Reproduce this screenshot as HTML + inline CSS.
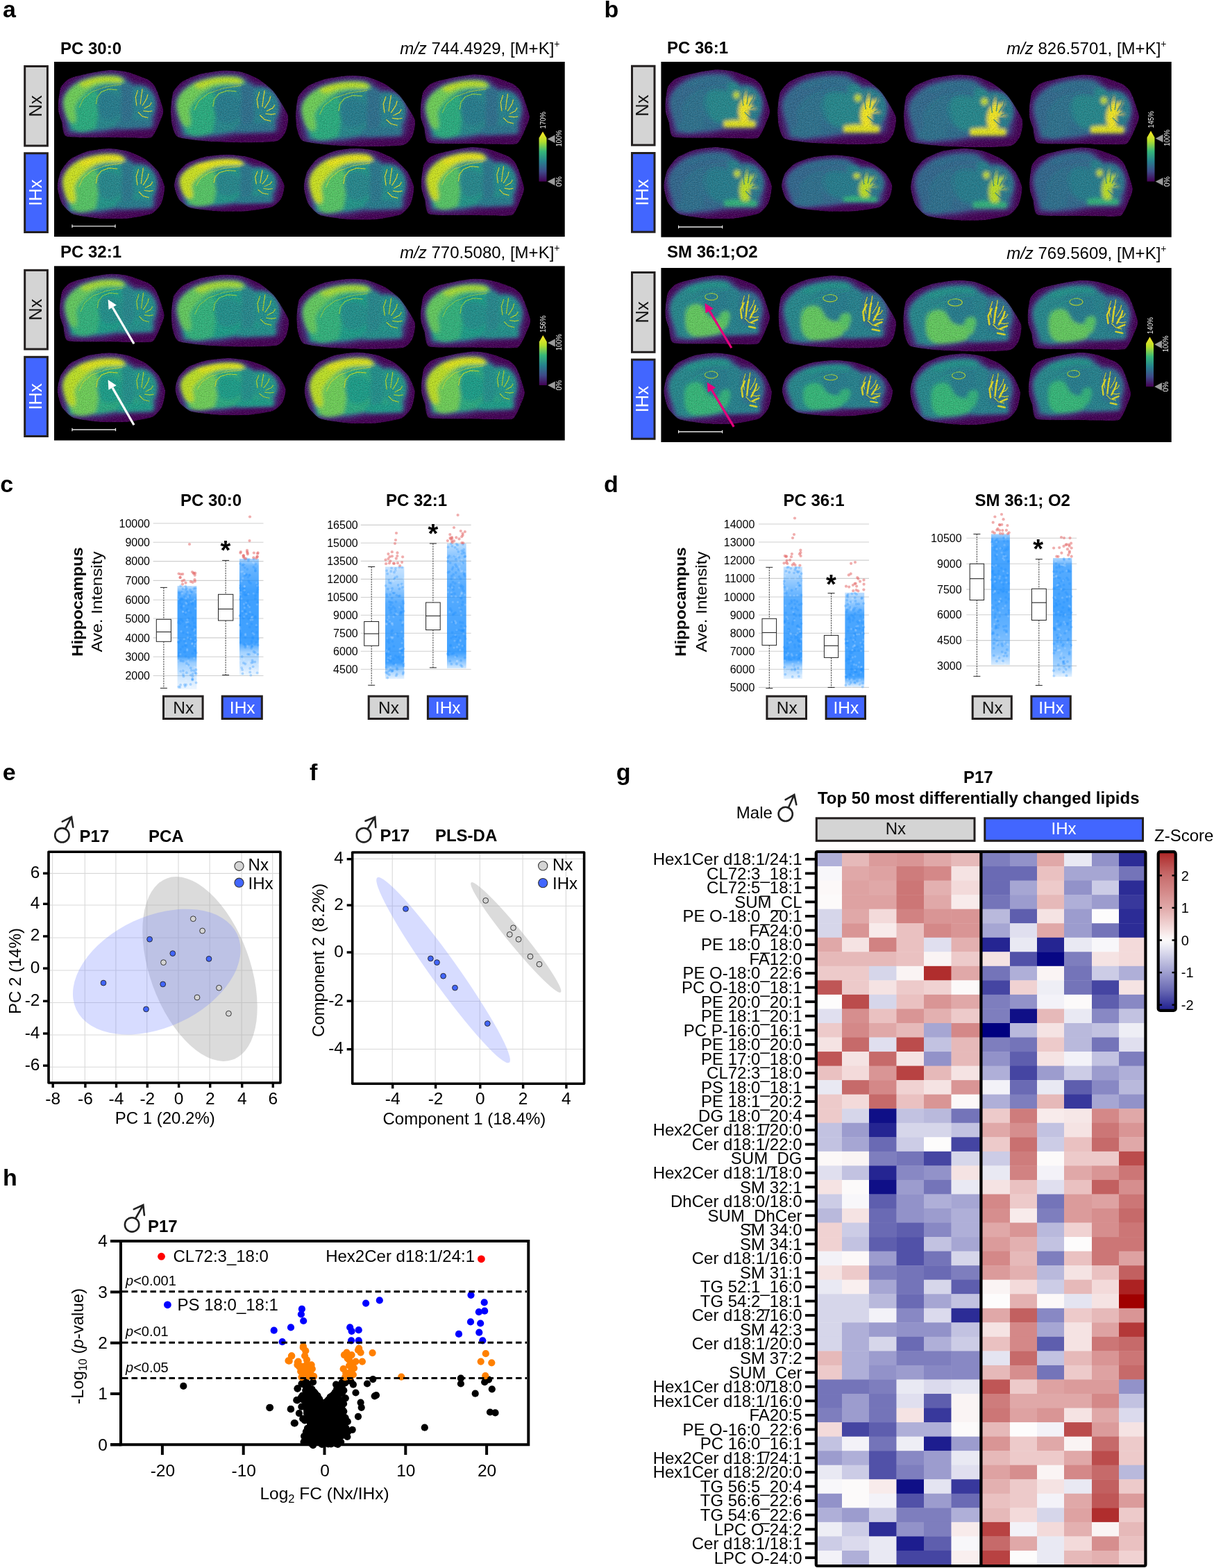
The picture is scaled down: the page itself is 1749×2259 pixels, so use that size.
<!DOCTYPE html>
<html><head><meta charset="utf-8"><title>Figure</title>
<style>html,body{margin:0;padding:0;background:#fff;}svg{display:block;}
text{font-family:"Liberation Sans",Arial,Helvetica,sans-serif;}</style></head>
<body><svg width="1749" height="2259" viewBox="0 0 1749 2259">
<rect width="1749" height="2259" fill="#fff"/>
<defs>
<filter id="b5" x="-10%" y="-10%" width="120%" height="120%"><feGaussianBlur stdDeviation="4.5"/></filter>
<filter id="b3" x="-10%" y="-10%" width="120%" height="120%"><feGaussianBlur stdDeviation="2.6"/></filter>
</defs>
<defs><filter id="tb5" x="-10%" y="-10%" width="120%" height="120%"><feGaussianBlur stdDeviation="30"/></filter><filter id="tb3" x="-10%" y="-10%" width="120%" height="120%"><feGaussianBlur stdDeviation="17"/></filter><filter id="tnw" x="0" y="0" width="100%" height="100%"><feTurbulence type="fractalNoise" baseFrequency="0.11" numOctaves="1" seed="11"/><feColorMatrix type="matrix" values="0 0 0 0 1  0 0 0 0 1  0 0 0 0 1  2.2 0 0 0 -0.95"/></filter><filter id="tnz" x="0" y="0" width="100%" height="100%"><feTurbulence type="fractalNoise" baseFrequency="0.11" numOctaves="1" seed="5"/><feColorMatrix type="matrix" values="0 0 0 0 0  0 0 0 0 0  0 0 0 0 0  2.2 0 0 0 -0.95"/></filter><clipPath id="cv0"><path d="M0,312C2,289 14,191 22,169C30,147 71,104 85,94C99,83 136,69 160,62C184,56 287,31 320,25C353,18 457,2 486,0C515,-2 590,6 611,9C632,12 676,23 700,31C724,39 829,77 850,88C871,99 902,130 912,144C922,157 941,201 950,225C959,249 998,362 1000,387C1002,412 986,449 975,474C964,500 918,624 887,641C856,658 709,646 661,647C613,647 468,645 410,644C352,642 116,649 78,634C40,619 42,517 34,494C26,471 6,418 3,400C-0,382 -2,335 0,312Z"/></clipPath><clipPath id="cv1"><path d="M0,358C1,328 10,221 20,195C30,169 77,114 100,98C123,81 215,42 250,32C285,23 415,2 450,0C485,-2 570,5 600,13C630,21 722,60 750,78C778,96 855,162 880,195C905,228 990,367 1000,403C1010,439 990,529 980,552C970,576 938,627 900,637C862,647 660,650 600,650C540,650 354,642 300,637C246,632 89,613 60,598C31,583 16,512 10,488C4,463 -1,387 0,358Z"/></clipPath><clipPath id="cv2"><path d="M0,358C-1,328 18,240 30,214C42,188 95,116 120,98C145,79 244,36 280,26C316,16 442,0 480,0C518,0 626,16 660,26C694,36 792,79 820,98C848,116 922,188 940,214C958,240 997,328 1000,358C1003,387 982,482 970,507C958,532 912,590 880,604C848,619 698,645 650,650C602,655 450,654 400,650C350,646 186,625 150,611C114,597 55,532 40,507C25,482 1,387 0,358Z"/></clipPath></defs>
<text transform="translate(4.0,25.0)" font-size="34" font-weight="bold">a</text>
<text transform="translate(870.6,25.0)" font-size="34" font-weight="bold">b</text>
<rect x="78.0" y="89.0" width="735.7" height="252.0" fill="#000" />
<rect x="78.0" y="383.3" width="735.7" height="251.2" fill="#000" />
<rect x="952.4" y="89.0" width="735.3" height="252.7" fill="#000" />
<rect x="952.4" y="386.0" width="735.3" height="251.0" fill="#000" />
<text transform="translate(87.0,77.5)" font-size="24" font-weight="bold">PC 30:0</text>
<text transform="translate(87.0,371.0)" font-size="24" font-weight="bold">PC 32:1</text>
<text transform="translate(961.0,77.0)" font-size="24" font-weight="bold">PC 36:1</text>
<text transform="translate(961.0,371.0)" font-size="24" font-weight="bold">SM 36:1;O2</text>
<text x="806.5" y="78.0" font-size="24" text-anchor="end"><tspan font-style="italic">m/z</tspan> 744.4929, [M+K]<tspan font-size="14" dy="-10">+</tspan></text>
<text x="806.5" y="372.2" font-size="24" text-anchor="end"><tspan font-style="italic">m/z</tspan> 770.5080, [M+K]<tspan font-size="14" dy="-10">+</tspan></text>
<text x="1680.5" y="77.5" font-size="24" text-anchor="end"><tspan font-style="italic">m/z</tspan> 826.5701, [M+K]<tspan font-size="14" dy="-10">+</tspan></text>
<text x="1680.5" y="372.5" font-size="24" text-anchor="end"><tspan font-style="italic">m/z</tspan> 769.5609, [M+K]<tspan font-size="14" dy="-10">+</tspan></text>
<rect x="35.7" y="95.5" width="32.7" height="114.5" fill="#d4d4d4" stroke="#231f1f" stroke-width="3"/>
<text transform="translate(59.7,152.8) rotate(-90)" font-size="25.5" text-anchor="middle" fill="#111">Nx</text>
<rect x="35.7" y="220.8" width="32.7" height="113.7" fill="#4266ff" stroke="#231f1f" stroke-width="3"/>
<text transform="translate(59.7,277.6) rotate(-90)" font-size="25.5" text-anchor="middle" fill="#fff">IHx</text>
<rect x="35.7" y="389.3" width="32.7" height="113.7" fill="#d4d4d4" stroke="#231f1f" stroke-width="3"/>
<text transform="translate(59.7,446.1) rotate(-90)" font-size="25.5" text-anchor="middle" fill="#111">Nx</text>
<rect x="35.7" y="514.3" width="32.7" height="114.2" fill="#4266ff" stroke="#231f1f" stroke-width="3"/>
<text transform="translate(59.7,571.4) rotate(-90)" font-size="25.5" text-anchor="middle" fill="#fff">IHx</text>
<rect x="910.5" y="95.2" width="32.5" height="113.8" fill="#d4d4d4" stroke="#231f1f" stroke-width="3"/>
<text transform="translate(934.4,152.1) rotate(-90)" font-size="25.5" text-anchor="middle" fill="#111">Nx</text>
<rect x="910.5" y="220.5" width="32.5" height="113.7" fill="#4266ff" stroke="#231f1f" stroke-width="3"/>
<text transform="translate(934.4,277.4) rotate(-90)" font-size="25.5" text-anchor="middle" fill="#fff">IHx</text>
<rect x="910.5" y="392.5" width="32.5" height="114.8" fill="#d4d4d4" stroke="#231f1f" stroke-width="3"/>
<text transform="translate(934.4,449.9) rotate(-90)" font-size="25.5" text-anchor="middle" fill="#111">Nx</text>
<rect x="910.5" y="518.1" width="32.5" height="114.1" fill="#4266ff" stroke="#231f1f" stroke-width="3"/>
<text transform="translate(934.4,575.2) rotate(-90)" font-size="25.5" text-anchor="middle" fill="#fff">IHx</text>
<g transform="translate(83.8,101.0) scale(0.1517,0.1508)" clip-path="url(#cv0)"><path d="M0,312C2,289 14,191 22,169C30,147 71,104 85,94C99,83 136,69 160,62C184,56 287,31 320,25C353,18 457,2 486,0C515,-2 590,6 611,9C632,12 676,23 700,31C724,39 829,77 850,88C871,99 902,130 912,144C922,157 941,201 950,225C959,249 998,362 1000,387C1002,412 986,449 975,474C964,500 918,624 887,641C856,658 709,646 661,647C613,647 468,645 410,644C352,642 116,649 78,634C40,619 42,517 34,494C26,471 6,418 3,400C-0,382 -2,335 0,312Z" fill="#440154"/><path d="M82,599C66,550 29,375 24,312C18,249 34,249 50,221C65,193 88,167 115,143C142,119 174,95 212,78C250,61 298,47 342,39C385,30 433,27 471,26C509,25 541,26 568,32C595,37 617,47 634,58C650,69 649,84 666,97C682,110 709,128 731,136C753,144 772,136 796,143C820,149 852,159 874,175C895,192 915,213 926,240C936,267 939,305 939,338C939,370 930,408 926,435C921,463 918,483 913,501C908,520 945,536 893,546C841,557 683,557 601,566C520,575 472,591 407,599C342,606 261,610 212,611C163,612 136,607 115,605C93,602 97,647 82,599Z" fill="#472f7d" filter="url(#tb5)"/><path d="M105,579C90,534 55,372 50,313C45,255 60,254 74,228C89,202 110,178 136,156C162,134 192,112 228,96C264,79 309,67 350,59C391,51 437,48 473,47C508,46 539,48 565,53C590,58 611,67 626,77C642,87 641,101 657,113C672,125 698,142 718,150C739,157 757,150 780,156C802,162 833,171 853,186C874,201 892,221 902,246C912,272 915,307 915,337C915,367 906,402 902,427C898,453 895,471 890,488C885,506 921,521 872,531C823,541 672,541 596,549C519,557 473,572 412,579C351,586 274,590 228,591C182,592 156,587 136,585C115,583 119,624 105,579Z" fill="#3b528b" filter="url(#tb5)"/><g filter="url(#tb3)"><path d="M116,569C102,526 68,370 63,314C58,257 73,257 87,232C101,207 122,184 147,162C171,141 201,120 236,104C271,89 315,77 355,69C394,62 439,59 473,58C508,57 538,58 563,63C588,68 608,77 622,87C637,96 637,110 652,121C667,133 692,149 712,156C732,163 750,157 772,162C794,168 823,177 843,191C863,206 880,225 890,249C900,274 903,307 903,336C903,366 894,399 890,424C886,448 884,466 879,482C874,499 909,513 861,523C813,532 667,532 593,540C519,548 474,562 414,569C355,576 280,580 236,581C191,582 166,577 147,575C127,573 130,613 116,569Z" fill="#25888d"/><path d="M120,358C125,308 155,297 180,273C205,249 240,228 270,214C300,202 342,177 360,195C378,213 378,276 380,325C382,374 378,446 370,488C362,529 367,558 330,572C293,586 185,608 150,572C115,536 115,407 120,358Z" fill="#2cad7f"/><path d="M380,260C393,236 422,219 450,214C478,210 525,221 550,234C575,247 593,264 600,292C607,321 603,374 590,403C577,432 548,459 520,468C492,477 445,473 420,455C395,437 377,390 370,358C363,325 367,284 380,260Z" fill="#287d8e"/><path d="M600,130C617,105 680,110 700,143C720,176 720,271 720,325C720,379 720,438 700,468C680,498 617,536 600,507C583,478 600,355 600,292C600,230 583,155 600,130Z" fill="#2e708e"/><path d="M720,169C735,135 775,152 800,156C825,160 850,172 870,195C890,218 913,258 920,292C927,327 922,374 910,403C898,432 877,459 850,468C823,477 773,473 750,455C727,437 715,405 710,358C705,310 705,203 720,169Z" fill="#26828e"/><path d="M50,325C47,286 57,261 70,234C83,207 105,184 130,162C155,141 183,120 220,104C257,88 308,74 350,65C392,56 433,53 470,52C507,51 545,53 570,58C595,64 610,76 620,84C630,93 633,104 630,111C627,117 622,120 600,124C578,127 533,127 500,130C467,133 437,131 400,143C363,155 313,179 280,202C247,224 220,254 200,280C180,306 165,328 160,358C155,387 172,430 170,455C168,480 163,505 150,507C137,509 107,498 90,468C73,438 53,364 50,325Z" fill="#6ece58"/><path d="M200,130C207,117 263,95 300,84C337,74 380,68 420,65C460,62 508,61 540,65C572,69 603,82 610,91C617,100 602,114 580,117C558,120 517,109 480,111C443,112 397,115 360,124C323,132 287,161 260,162C233,164 193,143 200,130Z" fill="#bcdf27"/><path d="M550,494L700,468L890,481L890,546L620,559L550,552Z" fill="#2c758e"/></g><g fill="none" stroke="#fde725" stroke-width="8.0" stroke-linecap="round" stroke-linejoin="round" opacity="0.85"><path d="M745,338L735,260L755,195"/><path d="M780,325L790,247L800,182"/><path d="M800,338L840,273L850,234"/><path d="M820,364L870,338L885,312"/><path d="M810,390L860,396L890,390"/><path d="M760,403L800,442L850,455"/></g><path d="M360,325L370,260L410,208L480,182L560,188" fill="none" stroke="#a7db34" stroke-width="8.0" opacity="0.8"/><path d="M200,358L240,273L320,208L440,162L560,143L600,136" fill="none" stroke="#cfe21e" stroke-width="7.2" opacity="0.55"/><rect x="0" y="0" width="1000" height="650" filter="url(#tnz)" opacity="0.28"/><rect x="0" y="0" width="1000" height="650" filter="url(#tnw)" opacity="0.16"/></g>
<g transform="translate(246.0,101.5) scale(0.1690,0.1602)" clip-path="url(#cv1)"><path d="M0,358C1,328 10,221 20,195C30,169 77,114 100,98C123,81 215,42 250,32C285,23 415,2 450,0C485,-2 570,5 600,13C630,21 722,60 750,78C778,96 855,162 880,195C905,228 990,367 1000,403C1010,439 990,529 980,552C970,576 938,627 900,637C862,647 660,650 600,650C540,650 354,642 300,637C246,632 89,613 60,598C31,583 16,512 10,488C4,463 -1,387 0,358Z" fill="#440154"/><path d="M82,599C66,550 29,375 24,312C18,249 34,249 50,221C65,193 88,167 115,143C142,119 174,95 212,78C250,61 298,47 342,39C385,30 433,27 471,26C509,25 541,26 568,32C595,37 617,47 634,58C650,69 649,84 666,97C682,110 709,128 731,136C753,144 772,136 796,143C820,149 852,159 874,175C895,192 915,213 926,240C936,267 939,305 939,338C939,370 930,408 926,435C921,463 918,483 913,501C908,520 945,536 893,546C841,557 683,557 601,566C520,575 472,591 407,599C342,606 261,610 212,611C163,612 136,607 115,605C93,602 97,647 82,599Z" fill="#472f7d" filter="url(#tb5)"/><path d="M105,579C90,534 55,372 50,313C45,255 60,254 74,228C89,202 110,178 136,156C162,134 192,112 228,96C264,79 309,67 350,59C391,51 437,48 473,47C508,46 539,48 565,53C590,58 611,67 626,77C642,87 641,101 657,113C672,125 698,142 718,150C739,157 757,150 780,156C802,162 833,171 853,186C874,201 892,221 902,246C912,272 915,307 915,337C915,367 906,402 902,427C898,453 895,471 890,488C885,506 921,521 872,531C823,541 672,541 596,549C519,557 473,572 412,579C351,586 274,590 228,591C182,592 156,587 136,585C115,583 119,624 105,579Z" fill="#3b528b" filter="url(#tb5)"/><g filter="url(#tb3)"><path d="M116,569C102,526 68,370 63,314C58,257 73,257 87,232C101,207 122,184 147,162C171,141 201,120 236,104C271,89 315,77 355,69C394,62 439,59 473,58C508,57 538,58 563,63C588,68 608,77 622,87C637,96 637,110 652,121C667,133 692,149 712,156C732,163 750,157 772,162C794,168 823,177 843,191C863,206 880,225 890,249C900,274 903,307 903,336C903,366 894,399 890,424C886,448 884,466 879,482C874,499 909,513 861,523C813,532 667,532 593,540C519,548 474,562 414,569C355,576 280,580 236,581C191,582 166,577 147,575C127,573 130,613 116,569Z" fill="#25888d"/><path d="M120,358C125,308 155,297 180,273C205,249 240,228 270,214C300,202 342,177 360,195C378,213 378,276 380,325C382,374 378,446 370,488C362,529 367,558 330,572C293,586 185,608 150,572C115,536 115,407 120,358Z" fill="#2cad7f"/><path d="M380,260C393,236 422,219 450,214C478,210 525,221 550,234C575,247 593,264 600,292C607,321 603,374 590,403C577,432 548,459 520,468C492,477 445,473 420,455C395,437 377,390 370,358C363,325 367,284 380,260Z" fill="#287d8e"/><path d="M600,130C617,105 680,110 700,143C720,176 720,271 720,325C720,379 720,438 700,468C680,498 617,536 600,507C583,478 600,355 600,292C600,230 583,155 600,130Z" fill="#2e708e"/><path d="M720,169C735,135 775,152 800,156C825,160 850,172 870,195C890,218 913,258 920,292C927,327 922,374 910,403C898,432 877,459 850,468C823,477 773,473 750,455C727,437 715,405 710,358C705,310 705,203 720,169Z" fill="#26828e"/><path d="M50,325C47,286 57,261 70,234C83,207 105,184 130,162C155,141 183,120 220,104C257,88 308,74 350,65C392,56 433,53 470,52C507,51 545,53 570,58C595,64 610,76 620,84C630,93 633,104 630,111C627,117 622,120 600,124C578,127 533,127 500,130C467,133 437,131 400,143C363,155 313,179 280,202C247,224 220,254 200,280C180,306 165,328 160,358C155,387 172,430 170,455C168,480 163,505 150,507C137,509 107,498 90,468C73,438 53,364 50,325Z" fill="#6ece58"/><path d="M200,130C207,117 263,95 300,84C337,74 380,68 420,65C460,62 508,61 540,65C572,69 603,82 610,91C617,100 602,114 580,117C558,120 517,109 480,111C443,112 397,115 360,124C323,132 287,161 260,162C233,164 193,143 200,130Z" fill="#bcdf27"/><path d="M550,494L700,468L890,481L890,546L620,559L550,552Z" fill="#2c758e"/></g><g fill="none" stroke="#fde725" stroke-width="8.0" stroke-linecap="round" stroke-linejoin="round" opacity="0.85"><path d="M745,338L735,260L755,195"/><path d="M780,325L790,247L800,182"/><path d="M800,338L840,273L850,234"/><path d="M820,364L870,338L885,312"/><path d="M810,390L860,396L890,390"/><path d="M760,403L800,442L850,455"/></g><path d="M360,325L370,260L410,208L480,182L560,188" fill="none" stroke="#a7db34" stroke-width="8.0" opacity="0.8"/><path d="M200,358L240,273L320,208L440,162L560,143L600,136" fill="none" stroke="#cfe21e" stroke-width="7.2" opacity="0.55"/><rect x="0" y="0" width="1000" height="650" filter="url(#tnz)" opacity="0.28"/><rect x="0" y="0" width="1000" height="650" filter="url(#tnw)" opacity="0.16"/></g>
<g transform="translate(426.0,108.8) scale(0.1718,0.1577)" clip-path="url(#cv1)"><path d="M0,358C1,328 10,221 20,195C30,169 77,114 100,98C123,81 215,42 250,32C285,23 415,2 450,0C485,-2 570,5 600,13C630,21 722,60 750,78C778,96 855,162 880,195C905,228 990,367 1000,403C1010,439 990,529 980,552C970,576 938,627 900,637C862,647 660,650 600,650C540,650 354,642 300,637C246,632 89,613 60,598C31,583 16,512 10,488C4,463 -1,387 0,358Z" fill="#440154"/><path d="M82,599C66,550 29,375 24,312C18,249 34,249 50,221C65,193 88,167 115,143C142,119 174,95 212,78C250,61 298,47 342,39C385,30 433,27 471,26C509,25 541,26 568,32C595,37 617,47 634,58C650,69 649,84 666,97C682,110 709,128 731,136C753,144 772,136 796,143C820,149 852,159 874,175C895,192 915,213 926,240C936,267 939,305 939,338C939,370 930,408 926,435C921,463 918,483 913,501C908,520 945,536 893,546C841,557 683,557 601,566C520,575 472,591 407,599C342,606 261,610 212,611C163,612 136,607 115,605C93,602 97,647 82,599Z" fill="#472f7d" filter="url(#tb5)"/><path d="M105,579C90,534 55,372 50,313C45,255 60,254 74,228C89,202 110,178 136,156C162,134 192,112 228,96C264,79 309,67 350,59C391,51 437,48 473,47C508,46 539,48 565,53C590,58 611,67 626,77C642,87 641,101 657,113C672,125 698,142 718,150C739,157 757,150 780,156C802,162 833,171 853,186C874,201 892,221 902,246C912,272 915,307 915,337C915,367 906,402 902,427C898,453 895,471 890,488C885,506 921,521 872,531C823,541 672,541 596,549C519,557 473,572 412,579C351,586 274,590 228,591C182,592 156,587 136,585C115,583 119,624 105,579Z" fill="#3b528b" filter="url(#tb5)"/><g filter="url(#tb3)"><path d="M116,569C102,526 68,370 63,314C58,257 73,257 87,232C101,207 122,184 147,162C171,141 201,120 236,104C271,89 315,77 355,69C394,62 439,59 473,58C508,57 538,58 563,63C588,68 608,77 622,87C637,96 637,110 652,121C667,133 692,149 712,156C732,163 750,157 772,162C794,168 823,177 843,191C863,206 880,225 890,249C900,274 903,307 903,336C903,366 894,399 890,424C886,448 884,466 879,482C874,499 909,513 861,523C813,532 667,532 593,540C519,548 474,562 414,569C355,576 280,580 236,581C191,582 166,577 147,575C127,573 130,613 116,569Z" fill="#25888d"/><path d="M120,358C125,308 155,297 180,273C205,249 240,228 270,214C300,202 342,177 360,195C378,213 378,276 380,325C382,374 378,446 370,488C362,529 367,558 330,572C293,586 185,608 150,572C115,536 115,407 120,358Z" fill="#2cad7f"/><path d="M380,260C393,236 422,219 450,214C478,210 525,221 550,234C575,247 593,264 600,292C607,321 603,374 590,403C577,432 548,459 520,468C492,477 445,473 420,455C395,437 377,390 370,358C363,325 367,284 380,260Z" fill="#287d8e"/><path d="M600,130C617,105 680,110 700,143C720,176 720,271 720,325C720,379 720,438 700,468C680,498 617,536 600,507C583,478 600,355 600,292C600,230 583,155 600,130Z" fill="#2e708e"/><path d="M720,169C735,135 775,152 800,156C825,160 850,172 870,195C890,218 913,258 920,292C927,327 922,374 910,403C898,432 877,459 850,468C823,477 773,473 750,455C727,437 715,405 710,358C705,310 705,203 720,169Z" fill="#26828e"/><path d="M50,325C47,286 57,261 70,234C83,207 105,184 130,162C155,141 183,120 220,104C257,88 308,74 350,65C392,56 433,53 470,52C507,51 545,53 570,58C595,64 610,76 620,84C630,93 633,104 630,111C627,117 622,120 600,124C578,127 533,127 500,130C467,133 437,131 400,143C363,155 313,179 280,202C247,224 220,254 200,280C180,306 165,328 160,358C155,387 172,430 170,455C168,480 163,505 150,507C137,509 107,498 90,468C73,438 53,364 50,325Z" fill="#6ece58"/><path d="M200,130C207,117 263,95 300,84C337,74 380,68 420,65C460,62 508,61 540,65C572,69 603,82 610,91C617,100 602,114 580,117C558,120 517,109 480,111C443,112 397,115 360,124C323,132 287,161 260,162C233,164 193,143 200,130Z" fill="#bcdf27"/><path d="M550,494L700,468L890,481L890,546L620,559L550,552Z" fill="#2c758e"/></g><g fill="none" stroke="#fde725" stroke-width="8.0" stroke-linecap="round" stroke-linejoin="round" opacity="0.85"><path d="M745,338L735,260L755,195"/><path d="M780,325L790,247L800,182"/><path d="M800,338L840,273L850,234"/><path d="M820,364L870,338L885,312"/><path d="M810,390L860,396L890,390"/><path d="M760,403L800,442L850,455"/></g><path d="M360,325L370,260L410,208L480,182L560,188" fill="none" stroke="#a7db34" stroke-width="8.0" opacity="0.8"/><path d="M200,358L240,273L320,208L440,162L560,143L600,136" fill="none" stroke="#cfe21e" stroke-width="7.2" opacity="0.55"/><rect x="0" y="0" width="1000" height="650" filter="url(#tnz)" opacity="0.28"/><rect x="0" y="0" width="1000" height="650" filter="url(#tnw)" opacity="0.16"/></g>
<g transform="translate(605.6,107.2) scale(0.1574,0.1554)" clip-path="url(#cv0)"><path d="M0,312C2,289 14,191 22,169C30,147 71,104 85,94C99,83 136,69 160,62C184,56 287,31 320,25C353,18 457,2 486,0C515,-2 590,6 611,9C632,12 676,23 700,31C724,39 829,77 850,88C871,99 902,130 912,144C922,157 941,201 950,225C959,249 998,362 1000,387C1002,412 986,449 975,474C964,500 918,624 887,641C856,658 709,646 661,647C613,647 468,645 410,644C352,642 116,649 78,634C40,619 42,517 34,494C26,471 6,418 3,400C-0,382 -2,335 0,312Z" fill="#440154"/><path d="M82,599C66,550 29,375 24,312C18,249 34,249 50,221C65,193 88,167 115,143C142,119 174,95 212,78C250,61 298,47 342,39C385,30 433,27 471,26C509,25 541,26 568,32C595,37 617,47 634,58C650,69 649,84 666,97C682,110 709,128 731,136C753,144 772,136 796,143C820,149 852,159 874,175C895,192 915,213 926,240C936,267 939,305 939,338C939,370 930,408 926,435C921,463 918,483 913,501C908,520 945,536 893,546C841,557 683,557 601,566C520,575 472,591 407,599C342,606 261,610 212,611C163,612 136,607 115,605C93,602 97,647 82,599Z" fill="#472f7d" filter="url(#tb5)"/><path d="M105,579C90,534 55,372 50,313C45,255 60,254 74,228C89,202 110,178 136,156C162,134 192,112 228,96C264,79 309,67 350,59C391,51 437,48 473,47C508,46 539,48 565,53C590,58 611,67 626,77C642,87 641,101 657,113C672,125 698,142 718,150C739,157 757,150 780,156C802,162 833,171 853,186C874,201 892,221 902,246C912,272 915,307 915,337C915,367 906,402 902,427C898,453 895,471 890,488C885,506 921,521 872,531C823,541 672,541 596,549C519,557 473,572 412,579C351,586 274,590 228,591C182,592 156,587 136,585C115,583 119,624 105,579Z" fill="#3b528b" filter="url(#tb5)"/><g filter="url(#tb3)"><path d="M116,569C102,526 68,370 63,314C58,257 73,257 87,232C101,207 122,184 147,162C171,141 201,120 236,104C271,89 315,77 355,69C394,62 439,59 473,58C508,57 538,58 563,63C588,68 608,77 622,87C637,96 637,110 652,121C667,133 692,149 712,156C732,163 750,157 772,162C794,168 823,177 843,191C863,206 880,225 890,249C900,274 903,307 903,336C903,366 894,399 890,424C886,448 884,466 879,482C874,499 909,513 861,523C813,532 667,532 593,540C519,548 474,562 414,569C355,576 280,580 236,581C191,582 166,577 147,575C127,573 130,613 116,569Z" fill="#25888d"/><path d="M120,358C125,308 155,297 180,273C205,249 240,228 270,214C300,202 342,177 360,195C378,213 378,276 380,325C382,374 378,446 370,488C362,529 367,558 330,572C293,586 185,608 150,572C115,536 115,407 120,358Z" fill="#2cad7f"/><path d="M380,260C393,236 422,219 450,214C478,210 525,221 550,234C575,247 593,264 600,292C607,321 603,374 590,403C577,432 548,459 520,468C492,477 445,473 420,455C395,437 377,390 370,358C363,325 367,284 380,260Z" fill="#287d8e"/><path d="M600,130C617,105 680,110 700,143C720,176 720,271 720,325C720,379 720,438 700,468C680,498 617,536 600,507C583,478 600,355 600,292C600,230 583,155 600,130Z" fill="#2e708e"/><path d="M720,169C735,135 775,152 800,156C825,160 850,172 870,195C890,218 913,258 920,292C927,327 922,374 910,403C898,432 877,459 850,468C823,477 773,473 750,455C727,437 715,405 710,358C705,310 705,203 720,169Z" fill="#26828e"/><path d="M50,325C47,286 57,261 70,234C83,207 105,184 130,162C155,141 183,120 220,104C257,88 308,74 350,65C392,56 433,53 470,52C507,51 545,53 570,58C595,64 610,76 620,84C630,93 633,104 630,111C627,117 622,120 600,124C578,127 533,127 500,130C467,133 437,131 400,143C363,155 313,179 280,202C247,224 220,254 200,280C180,306 165,328 160,358C155,387 172,430 170,455C168,480 163,505 150,507C137,509 107,498 90,468C73,438 53,364 50,325Z" fill="#6ece58"/><path d="M200,130C207,117 263,95 300,84C337,74 380,68 420,65C460,62 508,61 540,65C572,69 603,82 610,91C617,100 602,114 580,117C558,120 517,109 480,111C443,112 397,115 360,124C323,132 287,161 260,162C233,164 193,143 200,130Z" fill="#bcdf27"/><path d="M550,494L700,468L890,481L890,546L620,559L550,552Z" fill="#2c758e"/></g><g fill="none" stroke="#fde725" stroke-width="8.0" stroke-linecap="round" stroke-linejoin="round" opacity="0.85"><path d="M745,338L735,260L755,195"/><path d="M780,325L790,247L800,182"/><path d="M800,338L840,273L850,234"/><path d="M820,364L870,338L885,312"/><path d="M810,390L860,396L890,390"/><path d="M760,403L800,442L850,455"/></g><path d="M360,325L370,260L410,208L480,182L560,188" fill="none" stroke="#a7db34" stroke-width="8.0" opacity="0.8"/><path d="M200,358L240,273L320,208L440,162L560,143L600,136" fill="none" stroke="#cfe21e" stroke-width="7.2" opacity="0.55"/><rect x="0" y="0" width="1000" height="650" filter="url(#tnz)" opacity="0.28"/><rect x="0" y="0" width="1000" height="650" filter="url(#tnw)" opacity="0.16"/></g>
<g transform="translate(82.7,213.9) scale(0.1546,0.1554)" clip-path="url(#cv2)"><path d="M0,358C-1,328 18,240 30,214C42,188 95,116 120,98C145,79 244,36 280,26C316,16 442,0 480,0C518,0 626,16 660,26C694,36 792,79 820,98C848,116 922,188 940,214C958,240 997,328 1000,358C1003,387 982,482 970,507C958,532 912,590 880,604C848,619 698,645 650,650C602,655 450,654 400,650C350,646 186,625 150,611C114,597 55,532 40,507C25,482 1,387 0,358Z" fill="#440154"/><path d="M82,599C66,550 29,375 24,312C18,249 34,249 50,221C65,193 88,167 115,143C142,119 174,95 212,78C250,61 298,47 342,39C385,30 433,27 471,26C509,25 541,26 568,32C595,37 617,47 634,58C650,69 649,84 666,97C682,110 709,128 731,136C753,144 772,136 796,143C820,149 852,159 874,175C895,192 915,213 926,240C936,267 939,305 939,338C939,370 930,408 926,435C921,463 918,483 913,501C908,520 945,536 893,546C841,557 683,557 601,566C520,575 472,591 407,599C342,606 261,610 212,611C163,612 136,607 115,605C93,602 97,647 82,599Z" fill="#472f7d" filter="url(#tb5)"/><path d="M105,579C90,534 55,372 50,313C45,255 60,254 74,228C89,202 110,178 136,156C162,134 192,112 228,96C264,79 309,67 350,59C391,51 437,48 473,47C508,46 539,48 565,53C590,58 611,67 626,77C642,87 641,101 657,113C672,125 698,142 718,150C739,157 757,150 780,156C802,162 833,171 853,186C874,201 892,221 902,246C912,272 915,307 915,337C915,367 906,402 902,427C898,453 895,471 890,488C885,506 921,521 872,531C823,541 672,541 596,549C519,557 473,572 412,579C351,586 274,590 228,591C182,592 156,587 136,585C115,583 119,624 105,579Z" fill="#3b528b" filter="url(#tb5)"/><g filter="url(#tb3)"><path d="M116,569C102,526 68,370 63,314C58,257 73,257 87,232C101,207 122,184 147,162C171,141 201,120 236,104C271,89 315,77 355,69C394,62 439,59 473,58C508,57 538,58 563,63C588,68 608,77 622,87C637,96 637,110 652,121C667,133 692,149 712,156C732,163 750,157 772,162C794,168 823,177 843,191C863,206 880,225 890,249C900,274 903,307 903,336C903,366 894,399 890,424C886,448 884,466 879,482C874,499 909,513 861,523C813,532 667,532 593,540C519,548 474,562 414,569C355,576 280,580 236,581C191,582 166,577 147,575C127,573 130,613 116,569Z" fill="#21968a"/><path d="M120,358C125,308 155,297 180,273C205,249 240,228 270,214C300,202 342,177 360,195C378,213 378,276 380,325C382,374 378,446 370,488C362,529 367,558 330,572C293,586 185,608 150,572C115,536 115,407 120,358Z" fill="#57c565"/><path d="M380,260C393,236 422,219 450,214C478,210 525,221 550,234C575,247 593,264 600,292C607,321 603,374 590,403C577,432 548,459 520,468C492,477 445,473 420,455C395,437 377,390 370,358C363,325 367,284 380,260Z" fill="#25888d"/><path d="M600,130C617,105 680,110 700,143C720,176 720,271 720,325C720,379 720,438 700,468C680,498 617,536 600,507C583,478 600,355 600,292C600,230 583,155 600,130Z" fill="#2a788e"/><path d="M720,169C735,135 775,152 800,156C825,160 850,172 870,195C890,218 913,258 920,292C927,327 922,374 910,403C898,432 877,459 850,468C823,477 773,473 750,455C727,437 715,405 710,358C705,310 705,203 720,169Z" fill="#238d8c"/><path d="M50,325C47,286 57,261 70,234C83,207 105,184 130,162C155,141 183,120 220,104C257,88 308,74 350,65C392,56 433,53 470,52C507,51 545,53 570,58C595,64 610,76 620,84C630,93 633,104 630,111C627,117 622,120 600,124C578,127 533,127 500,130C467,133 437,131 400,143C363,155 313,179 280,202C247,224 220,254 200,280C180,306 165,328 160,358C155,387 172,430 170,455C168,480 163,505 150,507C137,509 107,498 90,468C73,438 53,364 50,325Z" fill="#cbe120"/><path d="M200,130C207,117 263,95 300,84C337,74 380,68 420,65C460,62 508,61 540,65C572,69 603,82 610,91C617,100 602,114 580,117C558,120 517,109 480,111C443,112 397,115 360,124C323,132 287,161 260,162C233,164 193,143 200,130Z" fill="#ebe51f"/><path d="M550,494L700,468L890,481L890,546L620,559L550,552Z" fill="#287d8e"/></g><g fill="none" stroke="#fde725" stroke-width="8.0" stroke-linecap="round" stroke-linejoin="round" opacity="0.85"><path d="M745,338L735,260L755,195"/><path d="M780,325L790,247L800,182"/><path d="M800,338L840,273L850,234"/><path d="M820,364L870,338L885,312"/><path d="M810,390L860,396L890,390"/><path d="M760,403L800,442L850,455"/></g><path d="M360,325L370,260L410,208L480,182L560,188" fill="none" stroke="#e8e51e" stroke-width="8.0" opacity="0.8"/><path d="M200,358L240,273L320,208L440,162L560,143L600,136" fill="none" stroke="#fde725" stroke-width="7.2" opacity="0.55"/><rect x="0" y="0" width="1000" height="650" filter="url(#tnz)" opacity="0.28"/><rect x="0" y="0" width="1000" height="650" filter="url(#tnw)" opacity="0.16"/></g>
<g transform="translate(251.0,222.5) scale(0.1588,0.1260)" clip-path="url(#cv2)"><path d="M0,358C-1,328 18,240 30,214C42,188 95,116 120,98C145,79 244,36 280,26C316,16 442,0 480,0C518,0 626,16 660,26C694,36 792,79 820,98C848,116 922,188 940,214C958,240 997,328 1000,358C1003,387 982,482 970,507C958,532 912,590 880,604C848,619 698,645 650,650C602,655 450,654 400,650C350,646 186,625 150,611C114,597 55,532 40,507C25,482 1,387 0,358Z" fill="#440154"/><path d="M82,599C66,550 29,375 24,312C18,249 34,249 50,221C65,193 88,167 115,143C142,119 174,95 212,78C250,61 298,47 342,39C385,30 433,27 471,26C509,25 541,26 568,32C595,37 617,47 634,58C650,69 649,84 666,97C682,110 709,128 731,136C753,144 772,136 796,143C820,149 852,159 874,175C895,192 915,213 926,240C936,267 939,305 939,338C939,370 930,408 926,435C921,463 918,483 913,501C908,520 945,536 893,546C841,557 683,557 601,566C520,575 472,591 407,599C342,606 261,610 212,611C163,612 136,607 115,605C93,602 97,647 82,599Z" fill="#472f7d" filter="url(#tb5)"/><path d="M105,579C90,534 55,372 50,313C45,255 60,254 74,228C89,202 110,178 136,156C162,134 192,112 228,96C264,79 309,67 350,59C391,51 437,48 473,47C508,46 539,48 565,53C590,58 611,67 626,77C642,87 641,101 657,113C672,125 698,142 718,150C739,157 757,150 780,156C802,162 833,171 853,186C874,201 892,221 902,246C912,272 915,307 915,337C915,367 906,402 902,427C898,453 895,471 890,488C885,506 921,521 872,531C823,541 672,541 596,549C519,557 473,572 412,579C351,586 274,590 228,591C182,592 156,587 136,585C115,583 119,624 105,579Z" fill="#3b528b" filter="url(#tb5)"/><g filter="url(#tb3)"><path d="M116,569C102,526 68,370 63,314C58,257 73,257 87,232C101,207 122,184 147,162C171,141 201,120 236,104C271,89 315,77 355,69C394,62 439,59 473,58C508,57 538,58 563,63C588,68 608,77 622,87C637,96 637,110 652,121C667,133 692,149 712,156C732,163 750,157 772,162C794,168 823,177 843,191C863,206 880,225 890,249C900,274 903,307 903,336C903,366 894,399 890,424C886,448 884,466 879,482C874,499 909,513 861,523C813,532 667,532 593,540C519,548 474,562 414,569C355,576 280,580 236,581C191,582 166,577 147,575C127,573 130,613 116,569Z" fill="#21968a"/><path d="M120,358C125,308 155,297 180,273C205,249 240,228 270,214C300,202 342,177 360,195C378,213 378,276 380,325C382,374 378,446 370,488C362,529 367,558 330,572C293,586 185,608 150,572C115,536 115,407 120,358Z" fill="#57c565"/><path d="M380,260C393,236 422,219 450,214C478,210 525,221 550,234C575,247 593,264 600,292C607,321 603,374 590,403C577,432 548,459 520,468C492,477 445,473 420,455C395,437 377,390 370,358C363,325 367,284 380,260Z" fill="#25888d"/><path d="M600,130C617,105 680,110 700,143C720,176 720,271 720,325C720,379 720,438 700,468C680,498 617,536 600,507C583,478 600,355 600,292C600,230 583,155 600,130Z" fill="#2a788e"/><path d="M720,169C735,135 775,152 800,156C825,160 850,172 870,195C890,218 913,258 920,292C927,327 922,374 910,403C898,432 877,459 850,468C823,477 773,473 750,455C727,437 715,405 710,358C705,310 705,203 720,169Z" fill="#238d8c"/><path d="M50,325C47,286 57,261 70,234C83,207 105,184 130,162C155,141 183,120 220,104C257,88 308,74 350,65C392,56 433,53 470,52C507,51 545,53 570,58C595,64 610,76 620,84C630,93 633,104 630,111C627,117 622,120 600,124C578,127 533,127 500,130C467,133 437,131 400,143C363,155 313,179 280,202C247,224 220,254 200,280C180,306 165,328 160,358C155,387 172,430 170,455C168,480 163,505 150,507C137,509 107,498 90,468C73,438 53,364 50,325Z" fill="#cbe120"/><path d="M200,130C207,117 263,95 300,84C337,74 380,68 420,65C460,62 508,61 540,65C572,69 603,82 610,91C617,100 602,114 580,117C558,120 517,109 480,111C443,112 397,115 360,124C323,132 287,161 260,162C233,164 193,143 200,130Z" fill="#ebe51f"/><path d="M550,494L700,468L890,481L890,546L620,559L550,552Z" fill="#287d8e"/></g><g fill="none" stroke="#fde725" stroke-width="8.0" stroke-linecap="round" stroke-linejoin="round" opacity="0.85"><path d="M745,338L735,260L755,195"/><path d="M780,325L790,247L800,182"/><path d="M800,338L840,273L850,234"/><path d="M820,364L870,338L885,312"/><path d="M810,390L860,396L890,390"/><path d="M760,403L800,442L850,455"/></g><path d="M360,325L370,260L410,208L480,182L560,188" fill="none" stroke="#e8e51e" stroke-width="8.0" opacity="0.8"/><path d="M200,358L240,273L320,208L440,162L560,143L600,136" fill="none" stroke="#fde725" stroke-width="7.2" opacity="0.55"/><rect x="0" y="0" width="1000" height="650" filter="url(#tnz)" opacity="0.28"/><rect x="0" y="0" width="1000" height="650" filter="url(#tnw)" opacity="0.16"/></g>
<g transform="translate(437.7,213.4) scale(0.1588,0.1582)" clip-path="url(#cv2)"><path d="M0,358C-1,328 18,240 30,214C42,188 95,116 120,98C145,79 244,36 280,26C316,16 442,0 480,0C518,0 626,16 660,26C694,36 792,79 820,98C848,116 922,188 940,214C958,240 997,328 1000,358C1003,387 982,482 970,507C958,532 912,590 880,604C848,619 698,645 650,650C602,655 450,654 400,650C350,646 186,625 150,611C114,597 55,532 40,507C25,482 1,387 0,358Z" fill="#440154"/><path d="M82,599C66,550 29,375 24,312C18,249 34,249 50,221C65,193 88,167 115,143C142,119 174,95 212,78C250,61 298,47 342,39C385,30 433,27 471,26C509,25 541,26 568,32C595,37 617,47 634,58C650,69 649,84 666,97C682,110 709,128 731,136C753,144 772,136 796,143C820,149 852,159 874,175C895,192 915,213 926,240C936,267 939,305 939,338C939,370 930,408 926,435C921,463 918,483 913,501C908,520 945,536 893,546C841,557 683,557 601,566C520,575 472,591 407,599C342,606 261,610 212,611C163,612 136,607 115,605C93,602 97,647 82,599Z" fill="#472f7d" filter="url(#tb5)"/><path d="M105,579C90,534 55,372 50,313C45,255 60,254 74,228C89,202 110,178 136,156C162,134 192,112 228,96C264,79 309,67 350,59C391,51 437,48 473,47C508,46 539,48 565,53C590,58 611,67 626,77C642,87 641,101 657,113C672,125 698,142 718,150C739,157 757,150 780,156C802,162 833,171 853,186C874,201 892,221 902,246C912,272 915,307 915,337C915,367 906,402 902,427C898,453 895,471 890,488C885,506 921,521 872,531C823,541 672,541 596,549C519,557 473,572 412,579C351,586 274,590 228,591C182,592 156,587 136,585C115,583 119,624 105,579Z" fill="#3b528b" filter="url(#tb5)"/><g filter="url(#tb3)"><path d="M116,569C102,526 68,370 63,314C58,257 73,257 87,232C101,207 122,184 147,162C171,141 201,120 236,104C271,89 315,77 355,69C394,62 439,59 473,58C508,57 538,58 563,63C588,68 608,77 622,87C637,96 637,110 652,121C667,133 692,149 712,156C732,163 750,157 772,162C794,168 823,177 843,191C863,206 880,225 890,249C900,274 903,307 903,336C903,366 894,399 890,424C886,448 884,466 879,482C874,499 909,513 861,523C813,532 667,532 593,540C519,548 474,562 414,569C355,576 280,580 236,581C191,582 166,577 147,575C127,573 130,613 116,569Z" fill="#21968a"/><path d="M120,358C125,308 155,297 180,273C205,249 240,228 270,214C300,202 342,177 360,195C378,213 378,276 380,325C382,374 378,446 370,488C362,529 367,558 330,572C293,586 185,608 150,572C115,536 115,407 120,358Z" fill="#57c565"/><path d="M380,260C393,236 422,219 450,214C478,210 525,221 550,234C575,247 593,264 600,292C607,321 603,374 590,403C577,432 548,459 520,468C492,477 445,473 420,455C395,437 377,390 370,358C363,325 367,284 380,260Z" fill="#25888d"/><path d="M600,130C617,105 680,110 700,143C720,176 720,271 720,325C720,379 720,438 700,468C680,498 617,536 600,507C583,478 600,355 600,292C600,230 583,155 600,130Z" fill="#2a788e"/><path d="M720,169C735,135 775,152 800,156C825,160 850,172 870,195C890,218 913,258 920,292C927,327 922,374 910,403C898,432 877,459 850,468C823,477 773,473 750,455C727,437 715,405 710,358C705,310 705,203 720,169Z" fill="#238d8c"/><path d="M50,325C47,286 57,261 70,234C83,207 105,184 130,162C155,141 183,120 220,104C257,88 308,74 350,65C392,56 433,53 470,52C507,51 545,53 570,58C595,64 610,76 620,84C630,93 633,104 630,111C627,117 622,120 600,124C578,127 533,127 500,130C467,133 437,131 400,143C363,155 313,179 280,202C247,224 220,254 200,280C180,306 165,328 160,358C155,387 172,430 170,455C168,480 163,505 150,507C137,509 107,498 90,468C73,438 53,364 50,325Z" fill="#cbe120"/><path d="M200,130C207,117 263,95 300,84C337,74 380,68 420,65C460,62 508,61 540,65C572,69 603,82 610,91C617,100 602,114 580,117C558,120 517,109 480,111C443,112 397,115 360,124C323,132 287,161 260,162C233,164 193,143 200,130Z" fill="#ebe51f"/><path d="M550,494L700,468L890,481L890,546L620,559L550,552Z" fill="#287d8e"/></g><g fill="none" stroke="#fde725" stroke-width="8.0" stroke-linecap="round" stroke-linejoin="round" opacity="0.85"><path d="M745,338L735,260L755,195"/><path d="M780,325L790,247L800,182"/><path d="M800,338L840,273L850,234"/><path d="M820,364L870,338L885,312"/><path d="M810,390L860,396L890,390"/><path d="M760,403L800,442L850,455"/></g><path d="M360,325L370,260L410,208L480,182L560,188" fill="none" stroke="#e8e51e" stroke-width="8.0" opacity="0.8"/><path d="M200,358L240,273L320,208L440,162L560,143L600,136" fill="none" stroke="#fde725" stroke-width="7.2" opacity="0.55"/><rect x="0" y="0" width="1000" height="650" filter="url(#tnz)" opacity="0.28"/><rect x="0" y="0" width="1000" height="650" filter="url(#tnw)" opacity="0.16"/></g>
<g transform="translate(606.9,212.0) scale(0.1483,0.1523)" clip-path="url(#cv0)"><path d="M0,312C2,289 14,191 22,169C30,147 71,104 85,94C99,83 136,69 160,62C184,56 287,31 320,25C353,18 457,2 486,0C515,-2 590,6 611,9C632,12 676,23 700,31C724,39 829,77 850,88C871,99 902,130 912,144C922,157 941,201 950,225C959,249 998,362 1000,387C1002,412 986,449 975,474C964,500 918,624 887,641C856,658 709,646 661,647C613,647 468,645 410,644C352,642 116,649 78,634C40,619 42,517 34,494C26,471 6,418 3,400C-0,382 -2,335 0,312Z" fill="#440154"/><path d="M82,599C66,550 29,375 24,312C18,249 34,249 50,221C65,193 88,167 115,143C142,119 174,95 212,78C250,61 298,47 342,39C385,30 433,27 471,26C509,25 541,26 568,32C595,37 617,47 634,58C650,69 649,84 666,97C682,110 709,128 731,136C753,144 772,136 796,143C820,149 852,159 874,175C895,192 915,213 926,240C936,267 939,305 939,338C939,370 930,408 926,435C921,463 918,483 913,501C908,520 945,536 893,546C841,557 683,557 601,566C520,575 472,591 407,599C342,606 261,610 212,611C163,612 136,607 115,605C93,602 97,647 82,599Z" fill="#472f7d" filter="url(#tb5)"/><path d="M105,579C90,534 55,372 50,313C45,255 60,254 74,228C89,202 110,178 136,156C162,134 192,112 228,96C264,79 309,67 350,59C391,51 437,48 473,47C508,46 539,48 565,53C590,58 611,67 626,77C642,87 641,101 657,113C672,125 698,142 718,150C739,157 757,150 780,156C802,162 833,171 853,186C874,201 892,221 902,246C912,272 915,307 915,337C915,367 906,402 902,427C898,453 895,471 890,488C885,506 921,521 872,531C823,541 672,541 596,549C519,557 473,572 412,579C351,586 274,590 228,591C182,592 156,587 136,585C115,583 119,624 105,579Z" fill="#3b528b" filter="url(#tb5)"/><g filter="url(#tb3)"><path d="M116,569C102,526 68,370 63,314C58,257 73,257 87,232C101,207 122,184 147,162C171,141 201,120 236,104C271,89 315,77 355,69C394,62 439,59 473,58C508,57 538,58 563,63C588,68 608,77 622,87C637,96 637,110 652,121C667,133 692,149 712,156C732,163 750,157 772,162C794,168 823,177 843,191C863,206 880,225 890,249C900,274 903,307 903,336C903,366 894,399 890,424C886,448 884,466 879,482C874,499 909,513 861,523C813,532 667,532 593,540C519,548 474,562 414,569C355,576 280,580 236,581C191,582 166,577 147,575C127,573 130,613 116,569Z" fill="#21968a"/><path d="M120,358C125,308 155,297 180,273C205,249 240,228 270,214C300,202 342,177 360,195C378,213 378,276 380,325C382,374 378,446 370,488C362,529 367,558 330,572C293,586 185,608 150,572C115,536 115,407 120,358Z" fill="#57c565"/><path d="M380,260C393,236 422,219 450,214C478,210 525,221 550,234C575,247 593,264 600,292C607,321 603,374 590,403C577,432 548,459 520,468C492,477 445,473 420,455C395,437 377,390 370,358C363,325 367,284 380,260Z" fill="#25888d"/><path d="M600,130C617,105 680,110 700,143C720,176 720,271 720,325C720,379 720,438 700,468C680,498 617,536 600,507C583,478 600,355 600,292C600,230 583,155 600,130Z" fill="#2a788e"/><path d="M720,169C735,135 775,152 800,156C825,160 850,172 870,195C890,218 913,258 920,292C927,327 922,374 910,403C898,432 877,459 850,468C823,477 773,473 750,455C727,437 715,405 710,358C705,310 705,203 720,169Z" fill="#238d8c"/><path d="M50,325C47,286 57,261 70,234C83,207 105,184 130,162C155,141 183,120 220,104C257,88 308,74 350,65C392,56 433,53 470,52C507,51 545,53 570,58C595,64 610,76 620,84C630,93 633,104 630,111C627,117 622,120 600,124C578,127 533,127 500,130C467,133 437,131 400,143C363,155 313,179 280,202C247,224 220,254 200,280C180,306 165,328 160,358C155,387 172,430 170,455C168,480 163,505 150,507C137,509 107,498 90,468C73,438 53,364 50,325Z" fill="#cbe120"/><path d="M200,130C207,117 263,95 300,84C337,74 380,68 420,65C460,62 508,61 540,65C572,69 603,82 610,91C617,100 602,114 580,117C558,120 517,109 480,111C443,112 397,115 360,124C323,132 287,161 260,162C233,164 193,143 200,130Z" fill="#ebe51f"/><path d="M550,494L700,468L890,481L890,546L620,559L550,552Z" fill="#287d8e"/></g><g fill="none" stroke="#fde725" stroke-width="8.0" stroke-linecap="round" stroke-linejoin="round" opacity="0.85"><path d="M745,338L735,260L755,195"/><path d="M780,325L790,247L800,182"/><path d="M800,338L840,273L850,234"/><path d="M820,364L870,338L885,312"/><path d="M810,390L860,396L890,390"/><path d="M760,403L800,442L850,455"/></g><path d="M360,325L370,260L410,208L480,182L560,188" fill="none" stroke="#e8e51e" stroke-width="8.0" opacity="0.8"/><path d="M200,358L240,273L320,208L440,162L560,143L600,136" fill="none" stroke="#fde725" stroke-width="7.2" opacity="0.55"/><rect x="0" y="0" width="1000" height="650" filter="url(#tnz)" opacity="0.28"/><rect x="0" y="0" width="1000" height="650" filter="url(#tnw)" opacity="0.16"/></g>
<g transform="translate(85.9,394.5) scale(0.1509,0.1522)" clip-path="url(#cv0)"><path d="M0,312C2,289 14,191 22,169C30,147 71,104 85,94C99,83 136,69 160,62C184,56 287,31 320,25C353,18 457,2 486,0C515,-2 590,6 611,9C632,12 676,23 700,31C724,39 829,77 850,88C871,99 902,130 912,144C922,157 941,201 950,225C959,249 998,362 1000,387C1002,412 986,449 975,474C964,500 918,624 887,641C856,658 709,646 661,647C613,647 468,645 410,644C352,642 116,649 78,634C40,619 42,517 34,494C26,471 6,418 3,400C-0,382 -2,335 0,312Z" fill="#440154"/><path d="M82,599C66,550 29,375 24,312C18,249 34,249 50,221C65,193 88,167 115,143C142,119 174,95 212,78C250,61 298,47 342,39C385,30 433,27 471,26C509,25 541,26 568,32C595,37 617,47 634,58C650,69 649,84 666,97C682,110 709,128 731,136C753,144 772,136 796,143C820,149 852,159 874,175C895,192 915,213 926,240C936,267 939,305 939,338C939,370 930,408 926,435C921,463 918,483 913,501C908,520 945,536 893,546C841,557 683,557 601,566C520,575 472,591 407,599C342,606 261,610 212,611C163,612 136,607 115,605C93,602 97,647 82,599Z" fill="#472f7d" filter="url(#tb5)"/><path d="M105,579C90,534 55,372 50,313C45,255 60,254 74,228C89,202 110,178 136,156C162,134 192,112 228,96C264,79 309,67 350,59C391,51 437,48 473,47C508,46 539,48 565,53C590,58 611,67 626,77C642,87 641,101 657,113C672,125 698,142 718,150C739,157 757,150 780,156C802,162 833,171 853,186C874,201 892,221 902,246C912,272 915,307 915,337C915,367 906,402 902,427C898,453 895,471 890,488C885,506 921,521 872,531C823,541 672,541 596,549C519,557 473,572 412,579C351,586 274,590 228,591C182,592 156,587 136,585C115,583 119,624 105,579Z" fill="#3b528b" filter="url(#tb5)"/><g filter="url(#tb3)"><path d="M116,569C102,526 68,370 63,314C58,257 73,257 87,232C101,207 122,184 147,162C171,141 201,120 236,104C271,89 315,77 355,69C394,62 439,59 473,58C508,57 538,58 563,63C588,68 608,77 622,87C637,96 637,110 652,121C667,133 692,149 712,156C732,163 750,157 772,162C794,168 823,177 843,191C863,206 880,225 890,249C900,274 903,307 903,336C903,366 894,399 890,424C886,448 884,466 879,482C874,499 909,513 861,523C813,532 667,532 593,540C519,548 474,562 414,569C355,576 280,580 236,581C191,582 166,577 147,575C127,573 130,613 116,569Z" fill="#1f9e89"/><path d="M120,358C125,308 155,297 180,273C205,249 240,228 270,214C300,202 342,177 360,195C378,213 378,276 380,325C382,374 378,446 370,488C362,529 367,558 330,572C293,586 185,608 150,572C115,536 115,407 120,358Z" fill="#31b27c"/><path d="M380,260C393,236 422,219 450,214C478,210 525,221 550,234C575,247 593,264 600,292C607,321 603,374 590,403C577,432 548,459 520,468C492,477 445,473 420,455C395,437 377,390 370,358C363,325 367,284 380,260Z" fill="#22908c"/><path d="M600,130C617,105 680,110 700,143C720,176 720,271 720,325C720,379 720,438 700,468C680,498 617,536 600,507C583,478 600,355 600,292C600,230 583,155 600,130Z" fill="#25888d"/><path d="M720,169C735,135 775,152 800,156C825,160 850,172 870,195C890,218 913,258 920,292C927,327 922,374 910,403C898,432 877,459 850,468C823,477 773,473 750,455C727,437 715,405 710,358C705,310 705,203 720,169Z" fill="#22908c"/><path d="M50,325C47,286 57,261 70,234C83,207 105,184 130,162C155,141 183,120 220,104C257,88 308,74 350,65C392,56 433,53 470,52C507,51 545,53 570,58C595,64 610,76 620,84C630,93 633,104 630,111C627,117 622,120 600,124C578,127 533,127 500,130C467,133 437,131 400,143C363,155 313,179 280,202C247,224 220,254 200,280C180,306 165,328 160,358C155,387 172,430 170,455C168,480 163,505 150,507C137,509 107,498 90,468C73,438 53,364 50,325Z" fill="#63c95f"/><path d="M200,130C207,117 263,95 300,84C337,74 380,68 420,65C460,62 508,61 540,65C572,69 603,82 610,91C617,100 602,114 580,117C558,120 517,109 480,111C443,112 397,115 360,124C323,132 287,161 260,162C233,164 193,143 200,130Z" fill="#a7db34"/><path d="M550,494L700,468L890,481L890,546L620,559L550,552Z" fill="#22908c"/></g><g fill="none" stroke="#c7e022" stroke-width="8.0" stroke-linecap="round" stroke-linejoin="round" opacity="0.85"><path d="M745,338L735,260L755,195"/><path d="M780,325L790,247L800,182"/><path d="M800,338L840,273L850,234"/><path d="M820,364L870,338L885,312"/><path d="M810,390L860,396L890,390"/><path d="M760,403L800,442L850,455"/></g><path d="M360,325L370,260L410,208L480,182L560,188" fill="none" stroke="#99d83d" stroke-width="8.0" opacity="0.8"/><path d="M200,358L240,273L320,208L440,162L560,143L600,136" fill="none" stroke="#c0e026" stroke-width="7.2" opacity="0.55"/><rect x="0" y="0" width="1000" height="650" filter="url(#tnz)" opacity="0.28"/><rect x="0" y="0" width="1000" height="650" filter="url(#tnw)" opacity="0.16"/></g>
<g transform="translate(246.7,395.6) scale(0.1691,0.1602)" clip-path="url(#cv1)"><path d="M0,358C1,328 10,221 20,195C30,169 77,114 100,98C123,81 215,42 250,32C285,23 415,2 450,0C485,-2 570,5 600,13C630,21 722,60 750,78C778,96 855,162 880,195C905,228 990,367 1000,403C1010,439 990,529 980,552C970,576 938,627 900,637C862,647 660,650 600,650C540,650 354,642 300,637C246,632 89,613 60,598C31,583 16,512 10,488C4,463 -1,387 0,358Z" fill="#440154"/><path d="M82,599C66,550 29,375 24,312C18,249 34,249 50,221C65,193 88,167 115,143C142,119 174,95 212,78C250,61 298,47 342,39C385,30 433,27 471,26C509,25 541,26 568,32C595,37 617,47 634,58C650,69 649,84 666,97C682,110 709,128 731,136C753,144 772,136 796,143C820,149 852,159 874,175C895,192 915,213 926,240C936,267 939,305 939,338C939,370 930,408 926,435C921,463 918,483 913,501C908,520 945,536 893,546C841,557 683,557 601,566C520,575 472,591 407,599C342,606 261,610 212,611C163,612 136,607 115,605C93,602 97,647 82,599Z" fill="#472f7d" filter="url(#tb5)"/><path d="M105,579C90,534 55,372 50,313C45,255 60,254 74,228C89,202 110,178 136,156C162,134 192,112 228,96C264,79 309,67 350,59C391,51 437,48 473,47C508,46 539,48 565,53C590,58 611,67 626,77C642,87 641,101 657,113C672,125 698,142 718,150C739,157 757,150 780,156C802,162 833,171 853,186C874,201 892,221 902,246C912,272 915,307 915,337C915,367 906,402 902,427C898,453 895,471 890,488C885,506 921,521 872,531C823,541 672,541 596,549C519,557 473,572 412,579C351,586 274,590 228,591C182,592 156,587 136,585C115,583 119,624 105,579Z" fill="#3b528b" filter="url(#tb5)"/><g filter="url(#tb3)"><path d="M116,569C102,526 68,370 63,314C58,257 73,257 87,232C101,207 122,184 147,162C171,141 201,120 236,104C271,89 315,77 355,69C394,62 439,59 473,58C508,57 538,58 563,63C588,68 608,77 622,87C637,96 637,110 652,121C667,133 692,149 712,156C732,163 750,157 772,162C794,168 823,177 843,191C863,206 880,225 890,249C900,274 903,307 903,336C903,366 894,399 890,424C886,448 884,466 879,482C874,499 909,513 861,523C813,532 667,532 593,540C519,548 474,562 414,569C355,576 280,580 236,581C191,582 166,577 147,575C127,573 130,613 116,569Z" fill="#1f9e89"/><path d="M120,358C125,308 155,297 180,273C205,249 240,228 270,214C300,202 342,177 360,195C378,213 378,276 380,325C382,374 378,446 370,488C362,529 367,558 330,572C293,586 185,608 150,572C115,536 115,407 120,358Z" fill="#31b27c"/><path d="M380,260C393,236 422,219 450,214C478,210 525,221 550,234C575,247 593,264 600,292C607,321 603,374 590,403C577,432 548,459 520,468C492,477 445,473 420,455C395,437 377,390 370,358C363,325 367,284 380,260Z" fill="#22908c"/><path d="M600,130C617,105 680,110 700,143C720,176 720,271 720,325C720,379 720,438 700,468C680,498 617,536 600,507C583,478 600,355 600,292C600,230 583,155 600,130Z" fill="#25888d"/><path d="M720,169C735,135 775,152 800,156C825,160 850,172 870,195C890,218 913,258 920,292C927,327 922,374 910,403C898,432 877,459 850,468C823,477 773,473 750,455C727,437 715,405 710,358C705,310 705,203 720,169Z" fill="#22908c"/><path d="M50,325C47,286 57,261 70,234C83,207 105,184 130,162C155,141 183,120 220,104C257,88 308,74 350,65C392,56 433,53 470,52C507,51 545,53 570,58C595,64 610,76 620,84C630,93 633,104 630,111C627,117 622,120 600,124C578,127 533,127 500,130C467,133 437,131 400,143C363,155 313,179 280,202C247,224 220,254 200,280C180,306 165,328 160,358C155,387 172,430 170,455C168,480 163,505 150,507C137,509 107,498 90,468C73,438 53,364 50,325Z" fill="#63c95f"/><path d="M200,130C207,117 263,95 300,84C337,74 380,68 420,65C460,62 508,61 540,65C572,69 603,82 610,91C617,100 602,114 580,117C558,120 517,109 480,111C443,112 397,115 360,124C323,132 287,161 260,162C233,164 193,143 200,130Z" fill="#a7db34"/><path d="M550,494L700,468L890,481L890,546L620,559L550,552Z" fill="#22908c"/></g><g fill="none" stroke="#c7e022" stroke-width="8.0" stroke-linecap="round" stroke-linejoin="round" opacity="0.85"><path d="M745,338L735,260L755,195"/><path d="M780,325L790,247L800,182"/><path d="M800,338L840,273L850,234"/><path d="M820,364L870,338L885,312"/><path d="M810,390L860,396L890,390"/><path d="M760,403L800,442L850,455"/></g><path d="M360,325L370,260L410,208L480,182L560,188" fill="none" stroke="#99d83d" stroke-width="8.0" opacity="0.8"/><path d="M200,358L240,273L320,208L440,162L560,143L600,136" fill="none" stroke="#c0e026" stroke-width="7.2" opacity="0.55"/><rect x="0" y="0" width="1000" height="650" filter="url(#tnz)" opacity="0.28"/><rect x="0" y="0" width="1000" height="650" filter="url(#tnw)" opacity="0.16"/></g>
<g transform="translate(427.3,401.6) scale(0.1705,0.1560)" clip-path="url(#cv1)"><path d="M0,358C1,328 10,221 20,195C30,169 77,114 100,98C123,81 215,42 250,32C285,23 415,2 450,0C485,-2 570,5 600,13C630,21 722,60 750,78C778,96 855,162 880,195C905,228 990,367 1000,403C1010,439 990,529 980,552C970,576 938,627 900,637C862,647 660,650 600,650C540,650 354,642 300,637C246,632 89,613 60,598C31,583 16,512 10,488C4,463 -1,387 0,358Z" fill="#440154"/><path d="M82,599C66,550 29,375 24,312C18,249 34,249 50,221C65,193 88,167 115,143C142,119 174,95 212,78C250,61 298,47 342,39C385,30 433,27 471,26C509,25 541,26 568,32C595,37 617,47 634,58C650,69 649,84 666,97C682,110 709,128 731,136C753,144 772,136 796,143C820,149 852,159 874,175C895,192 915,213 926,240C936,267 939,305 939,338C939,370 930,408 926,435C921,463 918,483 913,501C908,520 945,536 893,546C841,557 683,557 601,566C520,575 472,591 407,599C342,606 261,610 212,611C163,612 136,607 115,605C93,602 97,647 82,599Z" fill="#472f7d" filter="url(#tb5)"/><path d="M105,579C90,534 55,372 50,313C45,255 60,254 74,228C89,202 110,178 136,156C162,134 192,112 228,96C264,79 309,67 350,59C391,51 437,48 473,47C508,46 539,48 565,53C590,58 611,67 626,77C642,87 641,101 657,113C672,125 698,142 718,150C739,157 757,150 780,156C802,162 833,171 853,186C874,201 892,221 902,246C912,272 915,307 915,337C915,367 906,402 902,427C898,453 895,471 890,488C885,506 921,521 872,531C823,541 672,541 596,549C519,557 473,572 412,579C351,586 274,590 228,591C182,592 156,587 136,585C115,583 119,624 105,579Z" fill="#3b528b" filter="url(#tb5)"/><g filter="url(#tb3)"><path d="M116,569C102,526 68,370 63,314C58,257 73,257 87,232C101,207 122,184 147,162C171,141 201,120 236,104C271,89 315,77 355,69C394,62 439,59 473,58C508,57 538,58 563,63C588,68 608,77 622,87C637,96 637,110 652,121C667,133 692,149 712,156C732,163 750,157 772,162C794,168 823,177 843,191C863,206 880,225 890,249C900,274 903,307 903,336C903,366 894,399 890,424C886,448 884,466 879,482C874,499 909,513 861,523C813,532 667,532 593,540C519,548 474,562 414,569C355,576 280,580 236,581C191,582 166,577 147,575C127,573 130,613 116,569Z" fill="#1f9e89"/><path d="M120,358C125,308 155,297 180,273C205,249 240,228 270,214C300,202 342,177 360,195C378,213 378,276 380,325C382,374 378,446 370,488C362,529 367,558 330,572C293,586 185,608 150,572C115,536 115,407 120,358Z" fill="#31b27c"/><path d="M380,260C393,236 422,219 450,214C478,210 525,221 550,234C575,247 593,264 600,292C607,321 603,374 590,403C577,432 548,459 520,468C492,477 445,473 420,455C395,437 377,390 370,358C363,325 367,284 380,260Z" fill="#22908c"/><path d="M600,130C617,105 680,110 700,143C720,176 720,271 720,325C720,379 720,438 700,468C680,498 617,536 600,507C583,478 600,355 600,292C600,230 583,155 600,130Z" fill="#25888d"/><path d="M720,169C735,135 775,152 800,156C825,160 850,172 870,195C890,218 913,258 920,292C927,327 922,374 910,403C898,432 877,459 850,468C823,477 773,473 750,455C727,437 715,405 710,358C705,310 705,203 720,169Z" fill="#22908c"/><path d="M50,325C47,286 57,261 70,234C83,207 105,184 130,162C155,141 183,120 220,104C257,88 308,74 350,65C392,56 433,53 470,52C507,51 545,53 570,58C595,64 610,76 620,84C630,93 633,104 630,111C627,117 622,120 600,124C578,127 533,127 500,130C467,133 437,131 400,143C363,155 313,179 280,202C247,224 220,254 200,280C180,306 165,328 160,358C155,387 172,430 170,455C168,480 163,505 150,507C137,509 107,498 90,468C73,438 53,364 50,325Z" fill="#63c95f"/><path d="M200,130C207,117 263,95 300,84C337,74 380,68 420,65C460,62 508,61 540,65C572,69 603,82 610,91C617,100 602,114 580,117C558,120 517,109 480,111C443,112 397,115 360,124C323,132 287,161 260,162C233,164 193,143 200,130Z" fill="#a7db34"/><path d="M550,494L700,468L890,481L890,546L620,559L550,552Z" fill="#22908c"/></g><g fill="none" stroke="#c7e022" stroke-width="8.0" stroke-linecap="round" stroke-linejoin="round" opacity="0.85"><path d="M745,338L735,260L755,195"/><path d="M780,325L790,247L800,182"/><path d="M800,338L840,273L850,234"/><path d="M820,364L870,338L885,312"/><path d="M810,390L860,396L890,390"/><path d="M760,403L800,442L850,455"/></g><path d="M360,325L370,260L410,208L480,182L560,188" fill="none" stroke="#99d83d" stroke-width="8.0" opacity="0.8"/><path d="M200,358L240,273L320,208L440,162L560,143L600,136" fill="none" stroke="#c0e026" stroke-width="7.2" opacity="0.55"/><rect x="0" y="0" width="1000" height="650" filter="url(#tnz)" opacity="0.28"/><rect x="0" y="0" width="1000" height="650" filter="url(#tnw)" opacity="0.16"/></g>
<g transform="translate(606.0,401.6) scale(0.1583,0.1540)" clip-path="url(#cv0)"><path d="M0,312C2,289 14,191 22,169C30,147 71,104 85,94C99,83 136,69 160,62C184,56 287,31 320,25C353,18 457,2 486,0C515,-2 590,6 611,9C632,12 676,23 700,31C724,39 829,77 850,88C871,99 902,130 912,144C922,157 941,201 950,225C959,249 998,362 1000,387C1002,412 986,449 975,474C964,500 918,624 887,641C856,658 709,646 661,647C613,647 468,645 410,644C352,642 116,649 78,634C40,619 42,517 34,494C26,471 6,418 3,400C-0,382 -2,335 0,312Z" fill="#440154"/><path d="M82,599C66,550 29,375 24,312C18,249 34,249 50,221C65,193 88,167 115,143C142,119 174,95 212,78C250,61 298,47 342,39C385,30 433,27 471,26C509,25 541,26 568,32C595,37 617,47 634,58C650,69 649,84 666,97C682,110 709,128 731,136C753,144 772,136 796,143C820,149 852,159 874,175C895,192 915,213 926,240C936,267 939,305 939,338C939,370 930,408 926,435C921,463 918,483 913,501C908,520 945,536 893,546C841,557 683,557 601,566C520,575 472,591 407,599C342,606 261,610 212,611C163,612 136,607 115,605C93,602 97,647 82,599Z" fill="#472f7d" filter="url(#tb5)"/><path d="M105,579C90,534 55,372 50,313C45,255 60,254 74,228C89,202 110,178 136,156C162,134 192,112 228,96C264,79 309,67 350,59C391,51 437,48 473,47C508,46 539,48 565,53C590,58 611,67 626,77C642,87 641,101 657,113C672,125 698,142 718,150C739,157 757,150 780,156C802,162 833,171 853,186C874,201 892,221 902,246C912,272 915,307 915,337C915,367 906,402 902,427C898,453 895,471 890,488C885,506 921,521 872,531C823,541 672,541 596,549C519,557 473,572 412,579C351,586 274,590 228,591C182,592 156,587 136,585C115,583 119,624 105,579Z" fill="#3b528b" filter="url(#tb5)"/><g filter="url(#tb3)"><path d="M116,569C102,526 68,370 63,314C58,257 73,257 87,232C101,207 122,184 147,162C171,141 201,120 236,104C271,89 315,77 355,69C394,62 439,59 473,58C508,57 538,58 563,63C588,68 608,77 622,87C637,96 637,110 652,121C667,133 692,149 712,156C732,163 750,157 772,162C794,168 823,177 843,191C863,206 880,225 890,249C900,274 903,307 903,336C903,366 894,399 890,424C886,448 884,466 879,482C874,499 909,513 861,523C813,532 667,532 593,540C519,548 474,562 414,569C355,576 280,580 236,581C191,582 166,577 147,575C127,573 130,613 116,569Z" fill="#1f9e89"/><path d="M120,358C125,308 155,297 180,273C205,249 240,228 270,214C300,202 342,177 360,195C378,213 378,276 380,325C382,374 378,446 370,488C362,529 367,558 330,572C293,586 185,608 150,572C115,536 115,407 120,358Z" fill="#31b27c"/><path d="M380,260C393,236 422,219 450,214C478,210 525,221 550,234C575,247 593,264 600,292C607,321 603,374 590,403C577,432 548,459 520,468C492,477 445,473 420,455C395,437 377,390 370,358C363,325 367,284 380,260Z" fill="#22908c"/><path d="M600,130C617,105 680,110 700,143C720,176 720,271 720,325C720,379 720,438 700,468C680,498 617,536 600,507C583,478 600,355 600,292C600,230 583,155 600,130Z" fill="#25888d"/><path d="M720,169C735,135 775,152 800,156C825,160 850,172 870,195C890,218 913,258 920,292C927,327 922,374 910,403C898,432 877,459 850,468C823,477 773,473 750,455C727,437 715,405 710,358C705,310 705,203 720,169Z" fill="#22908c"/><path d="M50,325C47,286 57,261 70,234C83,207 105,184 130,162C155,141 183,120 220,104C257,88 308,74 350,65C392,56 433,53 470,52C507,51 545,53 570,58C595,64 610,76 620,84C630,93 633,104 630,111C627,117 622,120 600,124C578,127 533,127 500,130C467,133 437,131 400,143C363,155 313,179 280,202C247,224 220,254 200,280C180,306 165,328 160,358C155,387 172,430 170,455C168,480 163,505 150,507C137,509 107,498 90,468C73,438 53,364 50,325Z" fill="#63c95f"/><path d="M200,130C207,117 263,95 300,84C337,74 380,68 420,65C460,62 508,61 540,65C572,69 603,82 610,91C617,100 602,114 580,117C558,120 517,109 480,111C443,112 397,115 360,124C323,132 287,161 260,162C233,164 193,143 200,130Z" fill="#a7db34"/><path d="M550,494L700,468L890,481L890,546L620,559L550,552Z" fill="#22908c"/></g><g fill="none" stroke="#c7e022" stroke-width="8.0" stroke-linecap="round" stroke-linejoin="round" opacity="0.85"><path d="M745,338L735,260L755,195"/><path d="M780,325L790,247L800,182"/><path d="M800,338L840,273L850,234"/><path d="M820,364L870,338L885,312"/><path d="M810,390L860,396L890,390"/><path d="M760,403L800,442L850,455"/></g><path d="M360,325L370,260L410,208L480,182L560,188" fill="none" stroke="#99d83d" stroke-width="8.0" opacity="0.8"/><path d="M200,358L240,273L320,208L440,162L560,143L600,136" fill="none" stroke="#c0e026" stroke-width="7.2" opacity="0.55"/><rect x="0" y="0" width="1000" height="650" filter="url(#tnz)" opacity="0.28"/><rect x="0" y="0" width="1000" height="650" filter="url(#tnw)" opacity="0.16"/></g>
<g transform="translate(82.7,508.2) scale(0.1554,0.1534)" clip-path="url(#cv2)"><path d="M0,358C-1,328 18,240 30,214C42,188 95,116 120,98C145,79 244,36 280,26C316,16 442,0 480,0C518,0 626,16 660,26C694,36 792,79 820,98C848,116 922,188 940,214C958,240 997,328 1000,358C1003,387 982,482 970,507C958,532 912,590 880,604C848,619 698,645 650,650C602,655 450,654 400,650C350,646 186,625 150,611C114,597 55,532 40,507C25,482 1,387 0,358Z" fill="#440154"/><path d="M82,599C66,550 29,375 24,312C18,249 34,249 50,221C65,193 88,167 115,143C142,119 174,95 212,78C250,61 298,47 342,39C385,30 433,27 471,26C509,25 541,26 568,32C595,37 617,47 634,58C650,69 649,84 666,97C682,110 709,128 731,136C753,144 772,136 796,143C820,149 852,159 874,175C895,192 915,213 926,240C936,267 939,305 939,338C939,370 930,408 926,435C921,463 918,483 913,501C908,520 945,536 893,546C841,557 683,557 601,566C520,575 472,591 407,599C342,606 261,610 212,611C163,612 136,607 115,605C93,602 97,647 82,599Z" fill="#472f7d" filter="url(#tb5)"/><path d="M105,579C90,534 55,372 50,313C45,255 60,254 74,228C89,202 110,178 136,156C162,134 192,112 228,96C264,79 309,67 350,59C391,51 437,48 473,47C508,46 539,48 565,53C590,58 611,67 626,77C642,87 641,101 657,113C672,125 698,142 718,150C739,157 757,150 780,156C802,162 833,171 853,186C874,201 892,221 902,246C912,272 915,307 915,337C915,367 906,402 902,427C898,453 895,471 890,488C885,506 921,521 872,531C823,541 672,541 596,549C519,557 473,572 412,579C351,586 274,590 228,591C182,592 156,587 136,585C115,583 119,624 105,579Z" fill="#3b528b" filter="url(#tb5)"/><g filter="url(#tb3)"><path d="M116,569C102,526 68,370 63,314C58,257 73,257 87,232C101,207 122,184 147,162C171,141 201,120 236,104C271,89 315,77 355,69C394,62 439,59 473,58C508,57 538,58 563,63C588,68 608,77 622,87C637,96 637,110 652,121C667,133 692,149 712,156C732,163 750,157 772,162C794,168 823,177 843,191C863,206 880,225 890,249C900,274 903,307 903,336C903,366 894,399 890,424C886,448 884,466 879,482C874,499 909,513 861,523C813,532 667,532 593,540C519,548 474,562 414,569C355,576 280,580 236,581C191,582 166,577 147,575C127,573 130,613 116,569Z" fill="#2aaa81"/><path d="M120,358C125,308 155,297 180,273C205,249 240,228 270,214C300,202 342,177 360,195C378,213 378,276 380,325C382,374 378,446 370,488C362,529 367,558 330,572C293,586 185,608 150,572C115,536 115,407 120,358Z" fill="#6ece58"/><path d="M380,260C393,236 422,219 450,214C478,210 525,221 550,234C575,247 593,264 600,292C607,321 603,374 590,403C577,432 548,459 520,468C492,477 445,473 420,455C395,437 377,390 370,358C363,325 367,284 380,260Z" fill="#1f9e89"/><path d="M600,130C617,105 680,110 700,143C720,176 720,271 720,325C720,379 720,438 700,468C680,498 617,536 600,507C583,478 600,355 600,292C600,230 583,155 600,130Z" fill="#22908c"/><path d="M720,169C735,135 775,152 800,156C825,160 850,172 870,195C890,218 913,258 920,292C927,327 922,374 910,403C898,432 877,459 850,468C823,477 773,473 750,455C727,437 715,405 710,358C705,310 705,203 720,169Z" fill="#20988a"/><path d="M50,325C47,286 57,261 70,234C83,207 105,184 130,162C155,141 183,120 220,104C257,88 308,74 350,65C392,56 433,53 470,52C507,51 545,53 570,58C595,64 610,76 620,84C630,93 633,104 630,111C627,117 622,120 600,124C578,127 533,127 500,130C467,133 437,131 400,143C363,155 313,179 280,202C247,224 220,254 200,280C180,306 165,328 160,358C155,387 172,430 170,455C168,480 163,505 150,507C137,509 107,498 90,468C73,438 53,364 50,325Z" fill="#bcdf27"/><path d="M200,130C207,117 263,95 300,84C337,74 380,68 420,65C460,62 508,61 540,65C572,69 603,82 610,91C617,100 602,114 580,117C558,120 517,109 480,111C443,112 397,115 360,124C323,132 287,161 260,162C233,164 193,143 200,130Z" fill="#e1e41b"/><path d="M550,494L700,468L890,481L890,546L620,559L550,552Z" fill="#1f9e89"/></g><g fill="none" stroke="#c7e022" stroke-width="8.0" stroke-linecap="round" stroke-linejoin="round" opacity="0.85"><path d="M745,338L735,260L755,195"/><path d="M780,325L790,247L800,182"/><path d="M800,338L840,273L850,234"/><path d="M820,364L870,338L885,312"/><path d="M810,390L860,396L890,390"/><path d="M760,403L800,442L850,455"/></g><path d="M360,325L370,260L410,208L480,182L560,188" fill="none" stroke="#dae319" stroke-width="8.0" opacity="0.8"/><path d="M200,358L240,273L320,208L440,162L560,143L600,136" fill="none" stroke="#f3e621" stroke-width="7.2" opacity="0.55"/><rect x="0" y="0" width="1000" height="650" filter="url(#tnz)" opacity="0.28"/><rect x="0" y="0" width="1000" height="650" filter="url(#tnw)" opacity="0.16"/></g>
<g transform="translate(252.4,516.0) scale(0.1593,0.1262)" clip-path="url(#cv2)"><path d="M0,358C-1,328 18,240 30,214C42,188 95,116 120,98C145,79 244,36 280,26C316,16 442,0 480,0C518,0 626,16 660,26C694,36 792,79 820,98C848,116 922,188 940,214C958,240 997,328 1000,358C1003,387 982,482 970,507C958,532 912,590 880,604C848,619 698,645 650,650C602,655 450,654 400,650C350,646 186,625 150,611C114,597 55,532 40,507C25,482 1,387 0,358Z" fill="#440154"/><path d="M82,599C66,550 29,375 24,312C18,249 34,249 50,221C65,193 88,167 115,143C142,119 174,95 212,78C250,61 298,47 342,39C385,30 433,27 471,26C509,25 541,26 568,32C595,37 617,47 634,58C650,69 649,84 666,97C682,110 709,128 731,136C753,144 772,136 796,143C820,149 852,159 874,175C895,192 915,213 926,240C936,267 939,305 939,338C939,370 930,408 926,435C921,463 918,483 913,501C908,520 945,536 893,546C841,557 683,557 601,566C520,575 472,591 407,599C342,606 261,610 212,611C163,612 136,607 115,605C93,602 97,647 82,599Z" fill="#472f7d" filter="url(#tb5)"/><path d="M105,579C90,534 55,372 50,313C45,255 60,254 74,228C89,202 110,178 136,156C162,134 192,112 228,96C264,79 309,67 350,59C391,51 437,48 473,47C508,46 539,48 565,53C590,58 611,67 626,77C642,87 641,101 657,113C672,125 698,142 718,150C739,157 757,150 780,156C802,162 833,171 853,186C874,201 892,221 902,246C912,272 915,307 915,337C915,367 906,402 902,427C898,453 895,471 890,488C885,506 921,521 872,531C823,541 672,541 596,549C519,557 473,572 412,579C351,586 274,590 228,591C182,592 156,587 136,585C115,583 119,624 105,579Z" fill="#3b528b" filter="url(#tb5)"/><g filter="url(#tb3)"><path d="M116,569C102,526 68,370 63,314C58,257 73,257 87,232C101,207 122,184 147,162C171,141 201,120 236,104C271,89 315,77 355,69C394,62 439,59 473,58C508,57 538,58 563,63C588,68 608,77 622,87C637,96 637,110 652,121C667,133 692,149 712,156C732,163 750,157 772,162C794,168 823,177 843,191C863,206 880,225 890,249C900,274 903,307 903,336C903,366 894,399 890,424C886,448 884,466 879,482C874,499 909,513 861,523C813,532 667,532 593,540C519,548 474,562 414,569C355,576 280,580 236,581C191,582 166,577 147,575C127,573 130,613 116,569Z" fill="#2aaa81"/><path d="M120,358C125,308 155,297 180,273C205,249 240,228 270,214C300,202 342,177 360,195C378,213 378,276 380,325C382,374 378,446 370,488C362,529 367,558 330,572C293,586 185,608 150,572C115,536 115,407 120,358Z" fill="#6ece58"/><path d="M380,260C393,236 422,219 450,214C478,210 525,221 550,234C575,247 593,264 600,292C607,321 603,374 590,403C577,432 548,459 520,468C492,477 445,473 420,455C395,437 377,390 370,358C363,325 367,284 380,260Z" fill="#1f9e89"/><path d="M600,130C617,105 680,110 700,143C720,176 720,271 720,325C720,379 720,438 700,468C680,498 617,536 600,507C583,478 600,355 600,292C600,230 583,155 600,130Z" fill="#22908c"/><path d="M720,169C735,135 775,152 800,156C825,160 850,172 870,195C890,218 913,258 920,292C927,327 922,374 910,403C898,432 877,459 850,468C823,477 773,473 750,455C727,437 715,405 710,358C705,310 705,203 720,169Z" fill="#20988a"/><path d="M50,325C47,286 57,261 70,234C83,207 105,184 130,162C155,141 183,120 220,104C257,88 308,74 350,65C392,56 433,53 470,52C507,51 545,53 570,58C595,64 610,76 620,84C630,93 633,104 630,111C627,117 622,120 600,124C578,127 533,127 500,130C467,133 437,131 400,143C363,155 313,179 280,202C247,224 220,254 200,280C180,306 165,328 160,358C155,387 172,430 170,455C168,480 163,505 150,507C137,509 107,498 90,468C73,438 53,364 50,325Z" fill="#bcdf27"/><path d="M200,130C207,117 263,95 300,84C337,74 380,68 420,65C460,62 508,61 540,65C572,69 603,82 610,91C617,100 602,114 580,117C558,120 517,109 480,111C443,112 397,115 360,124C323,132 287,161 260,162C233,164 193,143 200,130Z" fill="#e1e41b"/><path d="M550,494L700,468L890,481L890,546L620,559L550,552Z" fill="#1f9e89"/></g><g fill="none" stroke="#c7e022" stroke-width="8.0" stroke-linecap="round" stroke-linejoin="round" opacity="0.85"><path d="M745,338L735,260L755,195"/><path d="M780,325L790,247L800,182"/><path d="M800,338L840,273L850,234"/><path d="M820,364L870,338L885,312"/><path d="M810,390L860,396L890,390"/><path d="M760,403L800,442L850,455"/></g><path d="M360,325L370,260L410,208L480,182L560,188" fill="none" stroke="#dae319" stroke-width="8.0" opacity="0.8"/><path d="M200,358L240,273L320,208L440,162L560,143L600,136" fill="none" stroke="#f3e621" stroke-width="7.2" opacity="0.55"/><rect x="0" y="0" width="1000" height="650" filter="url(#tnz)" opacity="0.28"/><rect x="0" y="0" width="1000" height="650" filter="url(#tnw)" opacity="0.16"/></g>
<g transform="translate(438.5,507.5) scale(0.1593,0.1572)" clip-path="url(#cv2)"><path d="M0,358C-1,328 18,240 30,214C42,188 95,116 120,98C145,79 244,36 280,26C316,16 442,0 480,0C518,0 626,16 660,26C694,36 792,79 820,98C848,116 922,188 940,214C958,240 997,328 1000,358C1003,387 982,482 970,507C958,532 912,590 880,604C848,619 698,645 650,650C602,655 450,654 400,650C350,646 186,625 150,611C114,597 55,532 40,507C25,482 1,387 0,358Z" fill="#440154"/><path d="M82,599C66,550 29,375 24,312C18,249 34,249 50,221C65,193 88,167 115,143C142,119 174,95 212,78C250,61 298,47 342,39C385,30 433,27 471,26C509,25 541,26 568,32C595,37 617,47 634,58C650,69 649,84 666,97C682,110 709,128 731,136C753,144 772,136 796,143C820,149 852,159 874,175C895,192 915,213 926,240C936,267 939,305 939,338C939,370 930,408 926,435C921,463 918,483 913,501C908,520 945,536 893,546C841,557 683,557 601,566C520,575 472,591 407,599C342,606 261,610 212,611C163,612 136,607 115,605C93,602 97,647 82,599Z" fill="#472f7d" filter="url(#tb5)"/><path d="M105,579C90,534 55,372 50,313C45,255 60,254 74,228C89,202 110,178 136,156C162,134 192,112 228,96C264,79 309,67 350,59C391,51 437,48 473,47C508,46 539,48 565,53C590,58 611,67 626,77C642,87 641,101 657,113C672,125 698,142 718,150C739,157 757,150 780,156C802,162 833,171 853,186C874,201 892,221 902,246C912,272 915,307 915,337C915,367 906,402 902,427C898,453 895,471 890,488C885,506 921,521 872,531C823,541 672,541 596,549C519,557 473,572 412,579C351,586 274,590 228,591C182,592 156,587 136,585C115,583 119,624 105,579Z" fill="#3b528b" filter="url(#tb5)"/><g filter="url(#tb3)"><path d="M116,569C102,526 68,370 63,314C58,257 73,257 87,232C101,207 122,184 147,162C171,141 201,120 236,104C271,89 315,77 355,69C394,62 439,59 473,58C508,57 538,58 563,63C588,68 608,77 622,87C637,96 637,110 652,121C667,133 692,149 712,156C732,163 750,157 772,162C794,168 823,177 843,191C863,206 880,225 890,249C900,274 903,307 903,336C903,366 894,399 890,424C886,448 884,466 879,482C874,499 909,513 861,523C813,532 667,532 593,540C519,548 474,562 414,569C355,576 280,580 236,581C191,582 166,577 147,575C127,573 130,613 116,569Z" fill="#2aaa81"/><path d="M120,358C125,308 155,297 180,273C205,249 240,228 270,214C300,202 342,177 360,195C378,213 378,276 380,325C382,374 378,446 370,488C362,529 367,558 330,572C293,586 185,608 150,572C115,536 115,407 120,358Z" fill="#6ece58"/><path d="M380,260C393,236 422,219 450,214C478,210 525,221 550,234C575,247 593,264 600,292C607,321 603,374 590,403C577,432 548,459 520,468C492,477 445,473 420,455C395,437 377,390 370,358C363,325 367,284 380,260Z" fill="#1f9e89"/><path d="M600,130C617,105 680,110 700,143C720,176 720,271 720,325C720,379 720,438 700,468C680,498 617,536 600,507C583,478 600,355 600,292C600,230 583,155 600,130Z" fill="#22908c"/><path d="M720,169C735,135 775,152 800,156C825,160 850,172 870,195C890,218 913,258 920,292C927,327 922,374 910,403C898,432 877,459 850,468C823,477 773,473 750,455C727,437 715,405 710,358C705,310 705,203 720,169Z" fill="#20988a"/><path d="M50,325C47,286 57,261 70,234C83,207 105,184 130,162C155,141 183,120 220,104C257,88 308,74 350,65C392,56 433,53 470,52C507,51 545,53 570,58C595,64 610,76 620,84C630,93 633,104 630,111C627,117 622,120 600,124C578,127 533,127 500,130C467,133 437,131 400,143C363,155 313,179 280,202C247,224 220,254 200,280C180,306 165,328 160,358C155,387 172,430 170,455C168,480 163,505 150,507C137,509 107,498 90,468C73,438 53,364 50,325Z" fill="#bcdf27"/><path d="M200,130C207,117 263,95 300,84C337,74 380,68 420,65C460,62 508,61 540,65C572,69 603,82 610,91C617,100 602,114 580,117C558,120 517,109 480,111C443,112 397,115 360,124C323,132 287,161 260,162C233,164 193,143 200,130Z" fill="#e1e41b"/><path d="M550,494L700,468L890,481L890,546L620,559L550,552Z" fill="#1f9e89"/></g><g fill="none" stroke="#c7e022" stroke-width="8.0" stroke-linecap="round" stroke-linejoin="round" opacity="0.85"><path d="M745,338L735,260L755,195"/><path d="M780,325L790,247L800,182"/><path d="M800,338L840,273L850,234"/><path d="M820,364L870,338L885,312"/><path d="M810,390L860,396L890,390"/><path d="M760,403L800,442L850,455"/></g><path d="M360,325L370,260L410,208L480,182L560,188" fill="none" stroke="#dae319" stroke-width="8.0" opacity="0.8"/><path d="M200,358L240,273L320,208L440,162L560,143L600,136" fill="none" stroke="#f3e621" stroke-width="7.2" opacity="0.55"/><rect x="0" y="0" width="1000" height="650" filter="url(#tnz)" opacity="0.28"/><rect x="0" y="0" width="1000" height="650" filter="url(#tnw)" opacity="0.16"/></g>
<g transform="translate(606.9,506.4) scale(0.1491,0.1509)" clip-path="url(#cv0)"><path d="M0,312C2,289 14,191 22,169C30,147 71,104 85,94C99,83 136,69 160,62C184,56 287,31 320,25C353,18 457,2 486,0C515,-2 590,6 611,9C632,12 676,23 700,31C724,39 829,77 850,88C871,99 902,130 912,144C922,157 941,201 950,225C959,249 998,362 1000,387C1002,412 986,449 975,474C964,500 918,624 887,641C856,658 709,646 661,647C613,647 468,645 410,644C352,642 116,649 78,634C40,619 42,517 34,494C26,471 6,418 3,400C-0,382 -2,335 0,312Z" fill="#440154"/><path d="M82,599C66,550 29,375 24,312C18,249 34,249 50,221C65,193 88,167 115,143C142,119 174,95 212,78C250,61 298,47 342,39C385,30 433,27 471,26C509,25 541,26 568,32C595,37 617,47 634,58C650,69 649,84 666,97C682,110 709,128 731,136C753,144 772,136 796,143C820,149 852,159 874,175C895,192 915,213 926,240C936,267 939,305 939,338C939,370 930,408 926,435C921,463 918,483 913,501C908,520 945,536 893,546C841,557 683,557 601,566C520,575 472,591 407,599C342,606 261,610 212,611C163,612 136,607 115,605C93,602 97,647 82,599Z" fill="#472f7d" filter="url(#tb5)"/><path d="M105,579C90,534 55,372 50,313C45,255 60,254 74,228C89,202 110,178 136,156C162,134 192,112 228,96C264,79 309,67 350,59C391,51 437,48 473,47C508,46 539,48 565,53C590,58 611,67 626,77C642,87 641,101 657,113C672,125 698,142 718,150C739,157 757,150 780,156C802,162 833,171 853,186C874,201 892,221 902,246C912,272 915,307 915,337C915,367 906,402 902,427C898,453 895,471 890,488C885,506 921,521 872,531C823,541 672,541 596,549C519,557 473,572 412,579C351,586 274,590 228,591C182,592 156,587 136,585C115,583 119,624 105,579Z" fill="#3b528b" filter="url(#tb5)"/><g filter="url(#tb3)"><path d="M116,569C102,526 68,370 63,314C58,257 73,257 87,232C101,207 122,184 147,162C171,141 201,120 236,104C271,89 315,77 355,69C394,62 439,59 473,58C508,57 538,58 563,63C588,68 608,77 622,87C637,96 637,110 652,121C667,133 692,149 712,156C732,163 750,157 772,162C794,168 823,177 843,191C863,206 880,225 890,249C900,274 903,307 903,336C903,366 894,399 890,424C886,448 884,466 879,482C874,499 909,513 861,523C813,532 667,532 593,540C519,548 474,562 414,569C355,576 280,580 236,581C191,582 166,577 147,575C127,573 130,613 116,569Z" fill="#2aaa81"/><path d="M120,358C125,308 155,297 180,273C205,249 240,228 270,214C300,202 342,177 360,195C378,213 378,276 380,325C382,374 378,446 370,488C362,529 367,558 330,572C293,586 185,608 150,572C115,536 115,407 120,358Z" fill="#6ece58"/><path d="M380,260C393,236 422,219 450,214C478,210 525,221 550,234C575,247 593,264 600,292C607,321 603,374 590,403C577,432 548,459 520,468C492,477 445,473 420,455C395,437 377,390 370,358C363,325 367,284 380,260Z" fill="#1f9e89"/><path d="M600,130C617,105 680,110 700,143C720,176 720,271 720,325C720,379 720,438 700,468C680,498 617,536 600,507C583,478 600,355 600,292C600,230 583,155 600,130Z" fill="#22908c"/><path d="M720,169C735,135 775,152 800,156C825,160 850,172 870,195C890,218 913,258 920,292C927,327 922,374 910,403C898,432 877,459 850,468C823,477 773,473 750,455C727,437 715,405 710,358C705,310 705,203 720,169Z" fill="#20988a"/><path d="M50,325C47,286 57,261 70,234C83,207 105,184 130,162C155,141 183,120 220,104C257,88 308,74 350,65C392,56 433,53 470,52C507,51 545,53 570,58C595,64 610,76 620,84C630,93 633,104 630,111C627,117 622,120 600,124C578,127 533,127 500,130C467,133 437,131 400,143C363,155 313,179 280,202C247,224 220,254 200,280C180,306 165,328 160,358C155,387 172,430 170,455C168,480 163,505 150,507C137,509 107,498 90,468C73,438 53,364 50,325Z" fill="#bcdf27"/><path d="M200,130C207,117 263,95 300,84C337,74 380,68 420,65C460,62 508,61 540,65C572,69 603,82 610,91C617,100 602,114 580,117C558,120 517,109 480,111C443,112 397,115 360,124C323,132 287,161 260,162C233,164 193,143 200,130Z" fill="#e1e41b"/><path d="M550,494L700,468L890,481L890,546L620,559L550,552Z" fill="#1f9e89"/></g><g fill="none" stroke="#c7e022" stroke-width="8.0" stroke-linecap="round" stroke-linejoin="round" opacity="0.85"><path d="M745,338L735,260L755,195"/><path d="M780,325L790,247L800,182"/><path d="M800,338L840,273L850,234"/><path d="M820,364L870,338L885,312"/><path d="M810,390L860,396L890,390"/><path d="M760,403L800,442L850,455"/></g><path d="M360,325L370,260L410,208L480,182L560,188" fill="none" stroke="#dae319" stroke-width="8.0" opacity="0.8"/><path d="M200,358L240,273L320,208L440,162L560,143L600,136" fill="none" stroke="#f3e621" stroke-width="7.2" opacity="0.55"/><rect x="0" y="0" width="1000" height="650" filter="url(#tnz)" opacity="0.28"/><rect x="0" y="0" width="1000" height="650" filter="url(#tnw)" opacity="0.16"/></g>
<g transform="translate(958.4,100.2) scale(0.1509,0.1532)" clip-path="url(#cv0)"><path d="M0,312C2,289 14,191 22,169C30,147 71,104 85,94C99,83 136,69 160,62C184,56 287,31 320,25C353,18 457,2 486,0C515,-2 590,6 611,9C632,12 676,23 700,31C724,39 829,77 850,88C871,99 902,130 912,144C922,157 941,201 950,225C959,249 998,362 1000,387C1002,412 986,449 975,474C964,500 918,624 887,641C856,658 709,646 661,647C613,647 468,645 410,644C352,642 116,649 78,634C40,619 42,517 34,494C26,471 6,418 3,400C-0,382 -2,335 0,312Z" fill="#440154"/><path d="M82,599C66,550 29,375 24,312C18,249 34,249 50,221C65,193 88,167 115,143C142,119 174,95 212,78C250,61 298,47 342,39C385,30 433,27 471,26C509,25 541,26 568,32C595,37 617,47 634,58C650,69 649,84 666,97C682,110 709,128 731,136C753,144 772,136 796,143C820,149 852,159 874,175C895,192 915,213 926,240C936,267 939,305 939,338C939,370 930,408 926,435C921,463 918,483 913,501C908,520 945,536 893,546C841,557 683,557 601,566C520,575 472,591 407,599C342,606 261,610 212,611C163,612 136,607 115,605C93,602 97,647 82,599Z" fill="#472f7d" filter="url(#tb5)"/><path d="M105,579C90,534 55,372 50,313C45,255 60,254 74,228C89,202 110,178 136,156C162,134 192,112 228,96C264,79 309,67 350,59C391,51 437,48 473,47C508,46 539,48 565,53C590,58 611,67 626,77C642,87 641,101 657,113C672,125 698,142 718,150C739,157 757,150 780,156C802,162 833,171 853,186C874,201 892,221 902,246C912,272 915,307 915,337C915,367 906,402 902,427C898,453 895,471 890,488C885,506 921,521 872,531C823,541 672,541 596,549C519,557 473,572 412,579C351,586 274,590 228,591C182,592 156,587 136,585C115,583 119,624 105,579Z" fill="#3b528b" filter="url(#tb5)"/><g filter="url(#tb3)"><path d="M116,569C102,526 68,370 63,314C58,257 73,257 87,232C101,207 122,184 147,162C171,141 201,120 236,104C271,89 315,77 355,69C394,62 439,59 473,58C508,57 538,58 563,63C588,68 608,77 622,87C637,96 637,110 652,121C667,133 692,149 712,156C732,163 750,157 772,162C794,168 823,177 843,191C863,206 880,225 890,249C900,274 903,307 903,336C903,366 894,399 890,424C886,448 884,466 879,482C874,499 909,513 861,523C813,532 667,532 593,540C519,548 474,562 414,569C355,576 280,580 236,581C191,582 166,577 147,575C127,573 130,613 116,569Z" fill="#2f6d8e"/><path d="M120,358C125,308 155,297 180,273C205,249 240,228 270,214C300,202 342,177 360,195C378,213 378,276 380,325C382,374 378,446 370,488C362,529 367,558 330,572C293,586 185,608 150,572C115,536 115,407 120,358Z" fill="#2d728e"/><path d="M380,260C393,236 422,219 450,214C478,210 525,221 550,234C575,247 593,264 600,292C607,321 603,374 590,403C577,432 548,459 520,468C492,477 445,473 420,455C395,437 377,390 370,358C363,325 367,284 380,260Z" fill="#287d8e"/><path d="M600,130C617,105 680,110 700,143C720,176 720,271 720,325C720,379 720,438 700,468C680,498 617,536 600,507C583,478 600,355 600,292C600,230 583,155 600,130Z" fill="#25888d"/><path d="M720,169C735,135 775,152 800,156C825,160 850,172 870,195C890,218 913,258 920,292C927,327 922,374 910,403C898,432 877,459 850,468C823,477 773,473 750,455C727,437 715,405 710,358C705,310 705,203 720,169Z" fill="#287d8e"/><path d="M400,227C417,182 507,190 550,195C593,200 638,228 660,260C682,292 690,352 680,390C670,428 638,474 600,488C562,500 483,511 450,468C417,425 383,273 400,227Z" fill="#25888d"/><path d="M50,325C47,286 57,261 70,234C83,207 105,184 130,162C155,141 183,120 220,104C257,88 308,74 350,65C392,56 433,53 470,52C507,51 545,53 570,58C595,64 610,76 620,84C630,93 633,104 630,111C627,117 622,120 600,124C578,127 533,127 500,130C467,133 437,131 400,143C363,155 313,179 280,202C247,224 220,254 200,280C180,306 165,328 160,358C155,387 172,430 170,455C168,480 163,505 150,507C137,509 107,498 90,468C73,438 53,364 50,325Z" fill="#306b8e"/><path d="M200,130C207,117 263,95 300,84C337,74 380,68 420,65C460,62 508,61 540,65C572,69 603,82 610,91C617,100 602,114 580,117C558,120 517,109 480,111C443,112 397,115 360,124C323,132 287,161 260,162C233,164 193,143 200,130Z" fill="#2e708e"/><path d="M560,484L660,474L800,478L860,488L860,543L560,543Z" fill="#e4e41d"/><path d="M720,306C729,284 747,278 755,260C763,242 764,194 770,195C776,196 777,258 790,266C803,275 847,237 850,247C853,257 807,304 810,325C813,346 872,362 870,370C868,379 813,359 800,377C787,395 803,464 790,481C777,498 735,496 720,481C705,466 700,419 700,390C700,361 711,327 720,306Z" fill="#f2e621"/><ellipse cx="680.0" cy="240.5" rx="30.0" ry="32.5" fill="#c7e022"/></g><g fill="none" stroke="#26828e" stroke-width="8.0" stroke-linecap="round" stroke-linejoin="round" opacity="0.85"><path d="M745,338L735,260L755,195"/><path d="M780,325L790,247L800,182"/><path d="M800,338L840,273L850,234"/><path d="M820,364L870,338L885,312"/><path d="M810,390L860,396L890,390"/><path d="M760,403L800,442L850,455"/></g><path d="M360,325L370,260L410,208L480,182L560,188" fill="none" stroke="#277f8e" stroke-width="8.0" opacity="0.8"/><path d="M200,358L240,273L320,208L440,162L560,143L600,136" fill="none" stroke="#287d8e" stroke-width="7.2" opacity="0.55"/><rect x="0" y="0" width="1000" height="650" filter="url(#tnz)" opacity="0.28"/><rect x="0" y="0" width="1000" height="650" filter="url(#tnw)" opacity="0.16"/></g>
<g transform="translate(1120.2,101.5) scale(0.1705,0.1642)" clip-path="url(#cv1)"><path d="M0,358C1,328 10,221 20,195C30,169 77,114 100,98C123,81 215,42 250,32C285,23 415,2 450,0C485,-2 570,5 600,13C630,21 722,60 750,78C778,96 855,162 880,195C905,228 990,367 1000,403C1010,439 990,529 980,552C970,576 938,627 900,637C862,647 660,650 600,650C540,650 354,642 300,637C246,632 89,613 60,598C31,583 16,512 10,488C4,463 -1,387 0,358Z" fill="#440154"/><path d="M82,599C66,550 29,375 24,312C18,249 34,249 50,221C65,193 88,167 115,143C142,119 174,95 212,78C250,61 298,47 342,39C385,30 433,27 471,26C509,25 541,26 568,32C595,37 617,47 634,58C650,69 649,84 666,97C682,110 709,128 731,136C753,144 772,136 796,143C820,149 852,159 874,175C895,192 915,213 926,240C936,267 939,305 939,338C939,370 930,408 926,435C921,463 918,483 913,501C908,520 945,536 893,546C841,557 683,557 601,566C520,575 472,591 407,599C342,606 261,610 212,611C163,612 136,607 115,605C93,602 97,647 82,599Z" fill="#472f7d" filter="url(#tb5)"/><path d="M105,579C90,534 55,372 50,313C45,255 60,254 74,228C89,202 110,178 136,156C162,134 192,112 228,96C264,79 309,67 350,59C391,51 437,48 473,47C508,46 539,48 565,53C590,58 611,67 626,77C642,87 641,101 657,113C672,125 698,142 718,150C739,157 757,150 780,156C802,162 833,171 853,186C874,201 892,221 902,246C912,272 915,307 915,337C915,367 906,402 902,427C898,453 895,471 890,488C885,506 921,521 872,531C823,541 672,541 596,549C519,557 473,572 412,579C351,586 274,590 228,591C182,592 156,587 136,585C115,583 119,624 105,579Z" fill="#3b528b" filter="url(#tb5)"/><g filter="url(#tb3)"><path d="M116,569C102,526 68,370 63,314C58,257 73,257 87,232C101,207 122,184 147,162C171,141 201,120 236,104C271,89 315,77 355,69C394,62 439,59 473,58C508,57 538,58 563,63C588,68 608,77 622,87C637,96 637,110 652,121C667,133 692,149 712,156C732,163 750,157 772,162C794,168 823,177 843,191C863,206 880,225 890,249C900,274 903,307 903,336C903,366 894,399 890,424C886,448 884,466 879,482C874,499 909,513 861,523C813,532 667,532 593,540C519,548 474,562 414,569C355,576 280,580 236,581C191,582 166,577 147,575C127,573 130,613 116,569Z" fill="#2f6d8e"/><path d="M120,358C125,308 155,297 180,273C205,249 240,228 270,214C300,202 342,177 360,195C378,213 378,276 380,325C382,374 378,446 370,488C362,529 367,558 330,572C293,586 185,608 150,572C115,536 115,407 120,358Z" fill="#2d728e"/><path d="M380,260C393,236 422,219 450,214C478,210 525,221 550,234C575,247 593,264 600,292C607,321 603,374 590,403C577,432 548,459 520,468C492,477 445,473 420,455C395,437 377,390 370,358C363,325 367,284 380,260Z" fill="#287d8e"/><path d="M600,130C617,105 680,110 700,143C720,176 720,271 720,325C720,379 720,438 700,468C680,498 617,536 600,507C583,478 600,355 600,292C600,230 583,155 600,130Z" fill="#25888d"/><path d="M720,169C735,135 775,152 800,156C825,160 850,172 870,195C890,218 913,258 920,292C927,327 922,374 910,403C898,432 877,459 850,468C823,477 773,473 750,455C727,437 715,405 710,358C705,310 705,203 720,169Z" fill="#287d8e"/><path d="M400,227C417,182 507,190 550,195C593,200 638,228 660,260C682,292 690,352 680,390C670,428 638,474 600,488C562,500 483,511 450,468C417,425 383,273 400,227Z" fill="#25888d"/><path d="M50,325C47,286 57,261 70,234C83,207 105,184 130,162C155,141 183,120 220,104C257,88 308,74 350,65C392,56 433,53 470,52C507,51 545,53 570,58C595,64 610,76 620,84C630,93 633,104 630,111C627,117 622,120 600,124C578,127 533,127 500,130C467,133 437,131 400,143C363,155 313,179 280,202C247,224 220,254 200,280C180,306 165,328 160,358C155,387 172,430 170,455C168,480 163,505 150,507C137,509 107,498 90,468C73,438 53,364 50,325Z" fill="#306b8e"/><path d="M200,130C207,117 263,95 300,84C337,74 380,68 420,65C460,62 508,61 540,65C572,69 603,82 610,91C617,100 602,114 580,117C558,120 517,109 480,111C443,112 397,115 360,124C323,132 287,161 260,162C233,164 193,143 200,130Z" fill="#2e708e"/><path d="M560,484L660,474L800,478L860,488L860,543L560,543Z" fill="#e4e41d"/><path d="M720,306C729,284 747,278 755,260C763,242 764,194 770,195C776,196 777,258 790,266C803,275 847,237 850,247C853,257 807,304 810,325C813,346 872,362 870,370C868,379 813,359 800,377C787,395 803,464 790,481C777,498 735,496 720,481C705,466 700,419 700,390C700,361 711,327 720,306Z" fill="#f2e621"/><ellipse cx="680.0" cy="240.5" rx="30.0" ry="32.5" fill="#c7e022"/></g><g fill="none" stroke="#26828e" stroke-width="8.0" stroke-linecap="round" stroke-linejoin="round" opacity="0.85"><path d="M745,338L735,260L755,195"/><path d="M780,325L790,247L800,182"/><path d="M800,338L840,273L850,234"/><path d="M820,364L870,338L885,312"/><path d="M810,390L860,396L890,390"/><path d="M760,403L800,442L850,455"/></g><path d="M360,325L370,260L410,208L480,182L560,188" fill="none" stroke="#277f8e" stroke-width="8.0" opacity="0.8"/><path d="M200,358L240,273L320,208L440,162L560,143L600,136" fill="none" stroke="#287d8e" stroke-width="7.2" opacity="0.55"/><rect x="0" y="0" width="1000" height="650" filter="url(#tnz)" opacity="0.28"/><rect x="0" y="0" width="1000" height="650" filter="url(#tnw)" opacity="0.16"/></g>
<g transform="translate(1302.0,107.5) scale(0.1711,0.1614)" clip-path="url(#cv1)"><path d="M0,358C1,328 10,221 20,195C30,169 77,114 100,98C123,81 215,42 250,32C285,23 415,2 450,0C485,-2 570,5 600,13C630,21 722,60 750,78C778,96 855,162 880,195C905,228 990,367 1000,403C1010,439 990,529 980,552C970,576 938,627 900,637C862,647 660,650 600,650C540,650 354,642 300,637C246,632 89,613 60,598C31,583 16,512 10,488C4,463 -1,387 0,358Z" fill="#440154"/><path d="M82,599C66,550 29,375 24,312C18,249 34,249 50,221C65,193 88,167 115,143C142,119 174,95 212,78C250,61 298,47 342,39C385,30 433,27 471,26C509,25 541,26 568,32C595,37 617,47 634,58C650,69 649,84 666,97C682,110 709,128 731,136C753,144 772,136 796,143C820,149 852,159 874,175C895,192 915,213 926,240C936,267 939,305 939,338C939,370 930,408 926,435C921,463 918,483 913,501C908,520 945,536 893,546C841,557 683,557 601,566C520,575 472,591 407,599C342,606 261,610 212,611C163,612 136,607 115,605C93,602 97,647 82,599Z" fill="#472f7d" filter="url(#tb5)"/><path d="M105,579C90,534 55,372 50,313C45,255 60,254 74,228C89,202 110,178 136,156C162,134 192,112 228,96C264,79 309,67 350,59C391,51 437,48 473,47C508,46 539,48 565,53C590,58 611,67 626,77C642,87 641,101 657,113C672,125 698,142 718,150C739,157 757,150 780,156C802,162 833,171 853,186C874,201 892,221 902,246C912,272 915,307 915,337C915,367 906,402 902,427C898,453 895,471 890,488C885,506 921,521 872,531C823,541 672,541 596,549C519,557 473,572 412,579C351,586 274,590 228,591C182,592 156,587 136,585C115,583 119,624 105,579Z" fill="#3b528b" filter="url(#tb5)"/><g filter="url(#tb3)"><path d="M116,569C102,526 68,370 63,314C58,257 73,257 87,232C101,207 122,184 147,162C171,141 201,120 236,104C271,89 315,77 355,69C394,62 439,59 473,58C508,57 538,58 563,63C588,68 608,77 622,87C637,96 637,110 652,121C667,133 692,149 712,156C732,163 750,157 772,162C794,168 823,177 843,191C863,206 880,225 890,249C900,274 903,307 903,336C903,366 894,399 890,424C886,448 884,466 879,482C874,499 909,513 861,523C813,532 667,532 593,540C519,548 474,562 414,569C355,576 280,580 236,581C191,582 166,577 147,575C127,573 130,613 116,569Z" fill="#2f6d8e"/><path d="M120,358C125,308 155,297 180,273C205,249 240,228 270,214C300,202 342,177 360,195C378,213 378,276 380,325C382,374 378,446 370,488C362,529 367,558 330,572C293,586 185,608 150,572C115,536 115,407 120,358Z" fill="#2d728e"/><path d="M380,260C393,236 422,219 450,214C478,210 525,221 550,234C575,247 593,264 600,292C607,321 603,374 590,403C577,432 548,459 520,468C492,477 445,473 420,455C395,437 377,390 370,358C363,325 367,284 380,260Z" fill="#287d8e"/><path d="M600,130C617,105 680,110 700,143C720,176 720,271 720,325C720,379 720,438 700,468C680,498 617,536 600,507C583,478 600,355 600,292C600,230 583,155 600,130Z" fill="#25888d"/><path d="M720,169C735,135 775,152 800,156C825,160 850,172 870,195C890,218 913,258 920,292C927,327 922,374 910,403C898,432 877,459 850,468C823,477 773,473 750,455C727,437 715,405 710,358C705,310 705,203 720,169Z" fill="#287d8e"/><path d="M400,227C417,182 507,190 550,195C593,200 638,228 660,260C682,292 690,352 680,390C670,428 638,474 600,488C562,500 483,511 450,468C417,425 383,273 400,227Z" fill="#25888d"/><path d="M50,325C47,286 57,261 70,234C83,207 105,184 130,162C155,141 183,120 220,104C257,88 308,74 350,65C392,56 433,53 470,52C507,51 545,53 570,58C595,64 610,76 620,84C630,93 633,104 630,111C627,117 622,120 600,124C578,127 533,127 500,130C467,133 437,131 400,143C363,155 313,179 280,202C247,224 220,254 200,280C180,306 165,328 160,358C155,387 172,430 170,455C168,480 163,505 150,507C137,509 107,498 90,468C73,438 53,364 50,325Z" fill="#306b8e"/><path d="M200,130C207,117 263,95 300,84C337,74 380,68 420,65C460,62 508,61 540,65C572,69 603,82 610,91C617,100 602,114 580,117C558,120 517,109 480,111C443,112 397,115 360,124C323,132 287,161 260,162C233,164 193,143 200,130Z" fill="#2e708e"/><path d="M560,484L660,474L800,478L860,488L860,543L560,543Z" fill="#e4e41d"/><path d="M720,306C729,284 747,278 755,260C763,242 764,194 770,195C776,196 777,258 790,266C803,275 847,237 850,247C853,257 807,304 810,325C813,346 872,362 870,370C868,379 813,359 800,377C787,395 803,464 790,481C777,498 735,496 720,481C705,466 700,419 700,390C700,361 711,327 720,306Z" fill="#f2e621"/><ellipse cx="680.0" cy="240.5" rx="30.0" ry="32.5" fill="#c7e022"/></g><g fill="none" stroke="#26828e" stroke-width="8.0" stroke-linecap="round" stroke-linejoin="round" opacity="0.85"><path d="M745,338L735,260L755,195"/><path d="M780,325L790,247L800,182"/><path d="M800,338L840,273L850,234"/><path d="M820,364L870,338L885,312"/><path d="M810,390L860,396L890,390"/><path d="M760,403L800,442L850,455"/></g><path d="M360,325L370,260L410,208L480,182L560,188" fill="none" stroke="#277f8e" stroke-width="8.0" opacity="0.8"/><path d="M200,358L240,273L320,208L440,162L560,143L600,136" fill="none" stroke="#287d8e" stroke-width="7.2" opacity="0.55"/><rect x="0" y="0" width="1000" height="650" filter="url(#tnz)" opacity="0.28"/><rect x="0" y="0" width="1000" height="650" filter="url(#tnw)" opacity="0.16"/></g>
<g transform="translate(1482.7,107.5) scale(0.1585,0.1552)" clip-path="url(#cv0)"><path d="M0,312C2,289 14,191 22,169C30,147 71,104 85,94C99,83 136,69 160,62C184,56 287,31 320,25C353,18 457,2 486,0C515,-2 590,6 611,9C632,12 676,23 700,31C724,39 829,77 850,88C871,99 902,130 912,144C922,157 941,201 950,225C959,249 998,362 1000,387C1002,412 986,449 975,474C964,500 918,624 887,641C856,658 709,646 661,647C613,647 468,645 410,644C352,642 116,649 78,634C40,619 42,517 34,494C26,471 6,418 3,400C-0,382 -2,335 0,312Z" fill="#440154"/><path d="M82,599C66,550 29,375 24,312C18,249 34,249 50,221C65,193 88,167 115,143C142,119 174,95 212,78C250,61 298,47 342,39C385,30 433,27 471,26C509,25 541,26 568,32C595,37 617,47 634,58C650,69 649,84 666,97C682,110 709,128 731,136C753,144 772,136 796,143C820,149 852,159 874,175C895,192 915,213 926,240C936,267 939,305 939,338C939,370 930,408 926,435C921,463 918,483 913,501C908,520 945,536 893,546C841,557 683,557 601,566C520,575 472,591 407,599C342,606 261,610 212,611C163,612 136,607 115,605C93,602 97,647 82,599Z" fill="#472f7d" filter="url(#tb5)"/><path d="M105,579C90,534 55,372 50,313C45,255 60,254 74,228C89,202 110,178 136,156C162,134 192,112 228,96C264,79 309,67 350,59C391,51 437,48 473,47C508,46 539,48 565,53C590,58 611,67 626,77C642,87 641,101 657,113C672,125 698,142 718,150C739,157 757,150 780,156C802,162 833,171 853,186C874,201 892,221 902,246C912,272 915,307 915,337C915,367 906,402 902,427C898,453 895,471 890,488C885,506 921,521 872,531C823,541 672,541 596,549C519,557 473,572 412,579C351,586 274,590 228,591C182,592 156,587 136,585C115,583 119,624 105,579Z" fill="#3b528b" filter="url(#tb5)"/><g filter="url(#tb3)"><path d="M116,569C102,526 68,370 63,314C58,257 73,257 87,232C101,207 122,184 147,162C171,141 201,120 236,104C271,89 315,77 355,69C394,62 439,59 473,58C508,57 538,58 563,63C588,68 608,77 622,87C637,96 637,110 652,121C667,133 692,149 712,156C732,163 750,157 772,162C794,168 823,177 843,191C863,206 880,225 890,249C900,274 903,307 903,336C903,366 894,399 890,424C886,448 884,466 879,482C874,499 909,513 861,523C813,532 667,532 593,540C519,548 474,562 414,569C355,576 280,580 236,581C191,582 166,577 147,575C127,573 130,613 116,569Z" fill="#2f6d8e"/><path d="M120,358C125,308 155,297 180,273C205,249 240,228 270,214C300,202 342,177 360,195C378,213 378,276 380,325C382,374 378,446 370,488C362,529 367,558 330,572C293,586 185,608 150,572C115,536 115,407 120,358Z" fill="#2d728e"/><path d="M380,260C393,236 422,219 450,214C478,210 525,221 550,234C575,247 593,264 600,292C607,321 603,374 590,403C577,432 548,459 520,468C492,477 445,473 420,455C395,437 377,390 370,358C363,325 367,284 380,260Z" fill="#287d8e"/><path d="M600,130C617,105 680,110 700,143C720,176 720,271 720,325C720,379 720,438 700,468C680,498 617,536 600,507C583,478 600,355 600,292C600,230 583,155 600,130Z" fill="#25888d"/><path d="M720,169C735,135 775,152 800,156C825,160 850,172 870,195C890,218 913,258 920,292C927,327 922,374 910,403C898,432 877,459 850,468C823,477 773,473 750,455C727,437 715,405 710,358C705,310 705,203 720,169Z" fill="#287d8e"/><path d="M400,227C417,182 507,190 550,195C593,200 638,228 660,260C682,292 690,352 680,390C670,428 638,474 600,488C562,500 483,511 450,468C417,425 383,273 400,227Z" fill="#25888d"/><path d="M50,325C47,286 57,261 70,234C83,207 105,184 130,162C155,141 183,120 220,104C257,88 308,74 350,65C392,56 433,53 470,52C507,51 545,53 570,58C595,64 610,76 620,84C630,93 633,104 630,111C627,117 622,120 600,124C578,127 533,127 500,130C467,133 437,131 400,143C363,155 313,179 280,202C247,224 220,254 200,280C180,306 165,328 160,358C155,387 172,430 170,455C168,480 163,505 150,507C137,509 107,498 90,468C73,438 53,364 50,325Z" fill="#306b8e"/><path d="M200,130C207,117 263,95 300,84C337,74 380,68 420,65C460,62 508,61 540,65C572,69 603,82 610,91C617,100 602,114 580,117C558,120 517,109 480,111C443,112 397,115 360,124C323,132 287,161 260,162C233,164 193,143 200,130Z" fill="#2e708e"/><path d="M560,484L660,474L800,478L860,488L860,543L560,543Z" fill="#e4e41d"/><path d="M720,306C729,284 747,278 755,260C763,242 764,194 770,195C776,196 777,258 790,266C803,275 847,237 850,247C853,257 807,304 810,325C813,346 872,362 870,370C868,379 813,359 800,377C787,395 803,464 790,481C777,498 735,496 720,481C705,466 700,419 700,390C700,361 711,327 720,306Z" fill="#f2e621"/><ellipse cx="680.0" cy="240.5" rx="30.0" ry="32.5" fill="#c7e022"/></g><g fill="none" stroke="#26828e" stroke-width="8.0" stroke-linecap="round" stroke-linejoin="round" opacity="0.85"><path d="M745,338L735,260L755,195"/><path d="M780,325L790,247L800,182"/><path d="M800,338L840,273L850,234"/><path d="M820,364L870,338L885,312"/><path d="M810,390L860,396L890,390"/><path d="M760,403L800,442L850,455"/></g><path d="M360,325L370,260L410,208L480,182L560,188" fill="none" stroke="#277f8e" stroke-width="8.0" opacity="0.8"/><path d="M200,358L240,273L320,208L440,162L560,143L600,136" fill="none" stroke="#287d8e" stroke-width="7.2" opacity="0.55"/><rect x="0" y="0" width="1000" height="650" filter="url(#tnz)" opacity="0.28"/><rect x="0" y="0" width="1000" height="650" filter="url(#tnw)" opacity="0.16"/></g>
<g transform="translate(956.3,212.0) scale(0.1556,0.1583)" clip-path="url(#cv2)"><path d="M0,358C-1,328 18,240 30,214C42,188 95,116 120,98C145,79 244,36 280,26C316,16 442,0 480,0C518,0 626,16 660,26C694,36 792,79 820,98C848,116 922,188 940,214C958,240 997,328 1000,358C1003,387 982,482 970,507C958,532 912,590 880,604C848,619 698,645 650,650C602,655 450,654 400,650C350,646 186,625 150,611C114,597 55,532 40,507C25,482 1,387 0,358Z" fill="#440154"/><path d="M82,599C66,550 29,375 24,312C18,249 34,249 50,221C65,193 88,167 115,143C142,119 174,95 212,78C250,61 298,47 342,39C385,30 433,27 471,26C509,25 541,26 568,32C595,37 617,47 634,58C650,69 649,84 666,97C682,110 709,128 731,136C753,144 772,136 796,143C820,149 852,159 874,175C895,192 915,213 926,240C936,267 939,305 939,338C939,370 930,408 926,435C921,463 918,483 913,501C908,520 945,536 893,546C841,557 683,557 601,566C520,575 472,591 407,599C342,606 261,610 212,611C163,612 136,607 115,605C93,602 97,647 82,599Z" fill="#472f7d" filter="url(#tb5)"/><path d="M105,579C90,534 55,372 50,313C45,255 60,254 74,228C89,202 110,178 136,156C162,134 192,112 228,96C264,79 309,67 350,59C391,51 437,48 473,47C508,46 539,48 565,53C590,58 611,67 626,77C642,87 641,101 657,113C672,125 698,142 718,150C739,157 757,150 780,156C802,162 833,171 853,186C874,201 892,221 902,246C912,272 915,307 915,337C915,367 906,402 902,427C898,453 895,471 890,488C885,506 921,521 872,531C823,541 672,541 596,549C519,557 473,572 412,579C351,586 274,590 228,591C182,592 156,587 136,585C115,583 119,624 105,579Z" fill="#3b528b" filter="url(#tb5)"/><g filter="url(#tb3)"><path d="M116,569C102,526 68,370 63,314C58,257 73,257 87,232C101,207 122,184 147,162C171,141 201,120 236,104C271,89 315,77 355,69C394,62 439,59 473,58C508,57 538,58 563,63C588,68 608,77 622,87C637,96 637,110 652,121C667,133 692,149 712,156C732,163 750,157 772,162C794,168 823,177 843,191C863,206 880,225 890,249C900,274 903,307 903,336C903,366 894,399 890,424C886,448 884,466 879,482C874,499 909,513 861,523C813,532 667,532 593,540C519,548 474,562 414,569C355,576 280,580 236,581C191,582 166,577 147,575C127,573 130,613 116,569Z" fill="#306b8e"/><path d="M120,358C125,308 155,297 180,273C205,249 240,228 270,214C300,202 342,177 360,195C378,213 378,276 380,325C382,374 378,446 370,488C362,529 367,558 330,572C293,586 185,608 150,572C115,536 115,407 120,358Z" fill="#2e708e"/><path d="M380,260C393,236 422,219 450,214C478,210 525,221 550,234C575,247 593,264 600,292C607,321 603,374 590,403C577,432 548,459 520,468C492,477 445,473 420,455C395,437 377,390 370,358C363,325 367,284 380,260Z" fill="#2a788e"/><path d="M600,130C617,105 680,110 700,143C720,176 720,271 720,325C720,379 720,438 700,468C680,498 617,536 600,507C583,478 600,355 600,292C600,230 583,155 600,130Z" fill="#26828e"/><path d="M720,169C735,135 775,152 800,156C825,160 850,172 870,195C890,218 913,258 920,292C927,327 922,374 910,403C898,432 877,459 850,468C823,477 773,473 750,455C727,437 715,405 710,358C705,310 705,203 720,169Z" fill="#2a788e"/><path d="M400,227C417,182 507,190 550,195C593,200 638,228 660,260C682,292 690,352 680,390C670,428 638,474 600,488C562,500 483,511 450,468C417,425 383,273 400,227Z" fill="#287d8e"/><path d="M50,325C47,286 57,261 70,234C83,207 105,184 130,162C155,141 183,120 220,104C257,88 308,74 350,65C392,56 433,53 470,52C507,51 545,53 570,58C595,64 610,76 620,84C630,93 633,104 630,111C627,117 622,120 600,124C578,127 533,127 500,130C467,133 437,131 400,143C363,155 313,179 280,202C247,224 220,254 200,280C180,306 165,328 160,358C155,387 172,430 170,455C168,480 163,505 150,507C137,509 107,498 90,468C73,438 53,364 50,325Z" fill="#31688e"/><path d="M200,130C207,117 263,95 300,84C337,74 380,68 420,65C460,62 508,61 540,65C572,69 603,82 610,91C617,100 602,114 580,117C558,120 517,109 480,111C443,112 397,115 360,124C323,132 287,161 260,162C233,164 193,143 200,130Z" fill="#2f6d8e"/><path d="M560,484L660,474L800,478L860,488L860,543L560,543Z" fill="#31b27c"/><path d="M720,306C729,284 747,278 755,260C763,242 764,194 770,195C776,196 777,258 790,266C803,275 847,237 850,247C853,257 807,304 810,325C813,346 872,362 870,370C868,379 813,359 800,377C787,395 803,464 790,481C777,498 735,496 720,481C705,466 700,419 700,390C700,361 711,327 720,306Z" fill="#bcdf27"/><ellipse cx="680.0" cy="240.5" rx="30.0" ry="32.5" fill="#c7e022"/></g><g fill="none" stroke="#26828e" stroke-width="8.0" stroke-linecap="round" stroke-linejoin="round" opacity="0.85"><path d="M745,338L735,260L755,195"/><path d="M780,325L790,247L800,182"/><path d="M800,338L840,273L850,234"/><path d="M820,364L870,338L885,312"/><path d="M810,390L860,396L890,390"/><path d="M760,403L800,442L850,455"/></g><path d="M360,325L370,260L410,208L480,182L560,188" fill="none" stroke="#287d8e" stroke-width="8.0" opacity="0.8"/><path d="M200,358L240,273L320,208L440,162L560,143L600,136" fill="none" stroke="#297a8e" stroke-width="7.2" opacity="0.55"/><rect x="0" y="0" width="1000" height="650" filter="url(#tnz)" opacity="0.28"/><rect x="0" y="0" width="1000" height="650" filter="url(#tnw)" opacity="0.16"/></g>
<g transform="translate(1126.0,223.3) scale(0.1595,0.1248)" clip-path="url(#cv2)"><path d="M0,358C-1,328 18,240 30,214C42,188 95,116 120,98C145,79 244,36 280,26C316,16 442,0 480,0C518,0 626,16 660,26C694,36 792,79 820,98C848,116 922,188 940,214C958,240 997,328 1000,358C1003,387 982,482 970,507C958,532 912,590 880,604C848,619 698,645 650,650C602,655 450,654 400,650C350,646 186,625 150,611C114,597 55,532 40,507C25,482 1,387 0,358Z" fill="#440154"/><path d="M82,599C66,550 29,375 24,312C18,249 34,249 50,221C65,193 88,167 115,143C142,119 174,95 212,78C250,61 298,47 342,39C385,30 433,27 471,26C509,25 541,26 568,32C595,37 617,47 634,58C650,69 649,84 666,97C682,110 709,128 731,136C753,144 772,136 796,143C820,149 852,159 874,175C895,192 915,213 926,240C936,267 939,305 939,338C939,370 930,408 926,435C921,463 918,483 913,501C908,520 945,536 893,546C841,557 683,557 601,566C520,575 472,591 407,599C342,606 261,610 212,611C163,612 136,607 115,605C93,602 97,647 82,599Z" fill="#472f7d" filter="url(#tb5)"/><path d="M105,579C90,534 55,372 50,313C45,255 60,254 74,228C89,202 110,178 136,156C162,134 192,112 228,96C264,79 309,67 350,59C391,51 437,48 473,47C508,46 539,48 565,53C590,58 611,67 626,77C642,87 641,101 657,113C672,125 698,142 718,150C739,157 757,150 780,156C802,162 833,171 853,186C874,201 892,221 902,246C912,272 915,307 915,337C915,367 906,402 902,427C898,453 895,471 890,488C885,506 921,521 872,531C823,541 672,541 596,549C519,557 473,572 412,579C351,586 274,590 228,591C182,592 156,587 136,585C115,583 119,624 105,579Z" fill="#3b528b" filter="url(#tb5)"/><g filter="url(#tb3)"><path d="M116,569C102,526 68,370 63,314C58,257 73,257 87,232C101,207 122,184 147,162C171,141 201,120 236,104C271,89 315,77 355,69C394,62 439,59 473,58C508,57 538,58 563,63C588,68 608,77 622,87C637,96 637,110 652,121C667,133 692,149 712,156C732,163 750,157 772,162C794,168 823,177 843,191C863,206 880,225 890,249C900,274 903,307 903,336C903,366 894,399 890,424C886,448 884,466 879,482C874,499 909,513 861,523C813,532 667,532 593,540C519,548 474,562 414,569C355,576 280,580 236,581C191,582 166,577 147,575C127,573 130,613 116,569Z" fill="#306b8e"/><path d="M120,358C125,308 155,297 180,273C205,249 240,228 270,214C300,202 342,177 360,195C378,213 378,276 380,325C382,374 378,446 370,488C362,529 367,558 330,572C293,586 185,608 150,572C115,536 115,407 120,358Z" fill="#2e708e"/><path d="M380,260C393,236 422,219 450,214C478,210 525,221 550,234C575,247 593,264 600,292C607,321 603,374 590,403C577,432 548,459 520,468C492,477 445,473 420,455C395,437 377,390 370,358C363,325 367,284 380,260Z" fill="#2a788e"/><path d="M600,130C617,105 680,110 700,143C720,176 720,271 720,325C720,379 720,438 700,468C680,498 617,536 600,507C583,478 600,355 600,292C600,230 583,155 600,130Z" fill="#26828e"/><path d="M720,169C735,135 775,152 800,156C825,160 850,172 870,195C890,218 913,258 920,292C927,327 922,374 910,403C898,432 877,459 850,468C823,477 773,473 750,455C727,437 715,405 710,358C705,310 705,203 720,169Z" fill="#2a788e"/><path d="M400,227C417,182 507,190 550,195C593,200 638,228 660,260C682,292 690,352 680,390C670,428 638,474 600,488C562,500 483,511 450,468C417,425 383,273 400,227Z" fill="#287d8e"/><path d="M50,325C47,286 57,261 70,234C83,207 105,184 130,162C155,141 183,120 220,104C257,88 308,74 350,65C392,56 433,53 470,52C507,51 545,53 570,58C595,64 610,76 620,84C630,93 633,104 630,111C627,117 622,120 600,124C578,127 533,127 500,130C467,133 437,131 400,143C363,155 313,179 280,202C247,224 220,254 200,280C180,306 165,328 160,358C155,387 172,430 170,455C168,480 163,505 150,507C137,509 107,498 90,468C73,438 53,364 50,325Z" fill="#31688e"/><path d="M200,130C207,117 263,95 300,84C337,74 380,68 420,65C460,62 508,61 540,65C572,69 603,82 610,91C617,100 602,114 580,117C558,120 517,109 480,111C443,112 397,115 360,124C323,132 287,161 260,162C233,164 193,143 200,130Z" fill="#2f6d8e"/><path d="M560,484L660,474L800,478L860,488L860,543L560,543Z" fill="#31b27c"/><path d="M720,306C729,284 747,278 755,260C763,242 764,194 770,195C776,196 777,258 790,266C803,275 847,237 850,247C853,257 807,304 810,325C813,346 872,362 870,370C868,379 813,359 800,377C787,395 803,464 790,481C777,498 735,496 720,481C705,466 700,419 700,390C700,361 711,327 720,306Z" fill="#bcdf27"/><ellipse cx="680.0" cy="240.5" rx="30.0" ry="32.5" fill="#c7e022"/></g><g fill="none" stroke="#26828e" stroke-width="8.0" stroke-linecap="round" stroke-linejoin="round" opacity="0.85"><path d="M745,338L735,260L755,195"/><path d="M780,325L790,247L800,182"/><path d="M800,338L840,273L850,234"/><path d="M820,364L870,338L885,312"/><path d="M810,390L860,396L890,390"/><path d="M760,403L800,442L850,455"/></g><path d="M360,325L370,260L410,208L480,182L560,188" fill="none" stroke="#287d8e" stroke-width="8.0" opacity="0.8"/><path d="M200,358L240,273L320,208L440,162L560,143L600,136" fill="none" stroke="#297a8e" stroke-width="7.2" opacity="0.55"/><rect x="0" y="0" width="1000" height="650" filter="url(#tnz)" opacity="0.28"/><rect x="0" y="0" width="1000" height="650" filter="url(#tnw)" opacity="0.16"/></g>
<g transform="translate(1312.0,213.8) scale(0.1606,0.1592)" clip-path="url(#cv2)"><path d="M0,358C-1,328 18,240 30,214C42,188 95,116 120,98C145,79 244,36 280,26C316,16 442,0 480,0C518,0 626,16 660,26C694,36 792,79 820,98C848,116 922,188 940,214C958,240 997,328 1000,358C1003,387 982,482 970,507C958,532 912,590 880,604C848,619 698,645 650,650C602,655 450,654 400,650C350,646 186,625 150,611C114,597 55,532 40,507C25,482 1,387 0,358Z" fill="#440154"/><path d="M82,599C66,550 29,375 24,312C18,249 34,249 50,221C65,193 88,167 115,143C142,119 174,95 212,78C250,61 298,47 342,39C385,30 433,27 471,26C509,25 541,26 568,32C595,37 617,47 634,58C650,69 649,84 666,97C682,110 709,128 731,136C753,144 772,136 796,143C820,149 852,159 874,175C895,192 915,213 926,240C936,267 939,305 939,338C939,370 930,408 926,435C921,463 918,483 913,501C908,520 945,536 893,546C841,557 683,557 601,566C520,575 472,591 407,599C342,606 261,610 212,611C163,612 136,607 115,605C93,602 97,647 82,599Z" fill="#472f7d" filter="url(#tb5)"/><path d="M105,579C90,534 55,372 50,313C45,255 60,254 74,228C89,202 110,178 136,156C162,134 192,112 228,96C264,79 309,67 350,59C391,51 437,48 473,47C508,46 539,48 565,53C590,58 611,67 626,77C642,87 641,101 657,113C672,125 698,142 718,150C739,157 757,150 780,156C802,162 833,171 853,186C874,201 892,221 902,246C912,272 915,307 915,337C915,367 906,402 902,427C898,453 895,471 890,488C885,506 921,521 872,531C823,541 672,541 596,549C519,557 473,572 412,579C351,586 274,590 228,591C182,592 156,587 136,585C115,583 119,624 105,579Z" fill="#3b528b" filter="url(#tb5)"/><g filter="url(#tb3)"><path d="M116,569C102,526 68,370 63,314C58,257 73,257 87,232C101,207 122,184 147,162C171,141 201,120 236,104C271,89 315,77 355,69C394,62 439,59 473,58C508,57 538,58 563,63C588,68 608,77 622,87C637,96 637,110 652,121C667,133 692,149 712,156C732,163 750,157 772,162C794,168 823,177 843,191C863,206 880,225 890,249C900,274 903,307 903,336C903,366 894,399 890,424C886,448 884,466 879,482C874,499 909,513 861,523C813,532 667,532 593,540C519,548 474,562 414,569C355,576 280,580 236,581C191,582 166,577 147,575C127,573 130,613 116,569Z" fill="#306b8e"/><path d="M120,358C125,308 155,297 180,273C205,249 240,228 270,214C300,202 342,177 360,195C378,213 378,276 380,325C382,374 378,446 370,488C362,529 367,558 330,572C293,586 185,608 150,572C115,536 115,407 120,358Z" fill="#2e708e"/><path d="M380,260C393,236 422,219 450,214C478,210 525,221 550,234C575,247 593,264 600,292C607,321 603,374 590,403C577,432 548,459 520,468C492,477 445,473 420,455C395,437 377,390 370,358C363,325 367,284 380,260Z" fill="#2a788e"/><path d="M600,130C617,105 680,110 700,143C720,176 720,271 720,325C720,379 720,438 700,468C680,498 617,536 600,507C583,478 600,355 600,292C600,230 583,155 600,130Z" fill="#26828e"/><path d="M720,169C735,135 775,152 800,156C825,160 850,172 870,195C890,218 913,258 920,292C927,327 922,374 910,403C898,432 877,459 850,468C823,477 773,473 750,455C727,437 715,405 710,358C705,310 705,203 720,169Z" fill="#2a788e"/><path d="M400,227C417,182 507,190 550,195C593,200 638,228 660,260C682,292 690,352 680,390C670,428 638,474 600,488C562,500 483,511 450,468C417,425 383,273 400,227Z" fill="#287d8e"/><path d="M50,325C47,286 57,261 70,234C83,207 105,184 130,162C155,141 183,120 220,104C257,88 308,74 350,65C392,56 433,53 470,52C507,51 545,53 570,58C595,64 610,76 620,84C630,93 633,104 630,111C627,117 622,120 600,124C578,127 533,127 500,130C467,133 437,131 400,143C363,155 313,179 280,202C247,224 220,254 200,280C180,306 165,328 160,358C155,387 172,430 170,455C168,480 163,505 150,507C137,509 107,498 90,468C73,438 53,364 50,325Z" fill="#31688e"/><path d="M200,130C207,117 263,95 300,84C337,74 380,68 420,65C460,62 508,61 540,65C572,69 603,82 610,91C617,100 602,114 580,117C558,120 517,109 480,111C443,112 397,115 360,124C323,132 287,161 260,162C233,164 193,143 200,130Z" fill="#2f6d8e"/><path d="M560,484L660,474L800,478L860,488L860,543L560,543Z" fill="#31b27c"/><path d="M720,306C729,284 747,278 755,260C763,242 764,194 770,195C776,196 777,258 790,266C803,275 847,237 850,247C853,257 807,304 810,325C813,346 872,362 870,370C868,379 813,359 800,377C787,395 803,464 790,481C777,498 735,496 720,481C705,466 700,419 700,390C700,361 711,327 720,306Z" fill="#bcdf27"/><ellipse cx="680.0" cy="240.5" rx="30.0" ry="32.5" fill="#c7e022"/></g><g fill="none" stroke="#26828e" stroke-width="8.0" stroke-linecap="round" stroke-linejoin="round" opacity="0.85"><path d="M745,338L735,260L755,195"/><path d="M780,325L790,247L800,182"/><path d="M800,338L840,273L850,234"/><path d="M820,364L870,338L885,312"/><path d="M810,390L860,396L890,390"/><path d="M760,403L800,442L850,455"/></g><path d="M360,325L370,260L410,208L480,182L560,188" fill="none" stroke="#287d8e" stroke-width="8.0" opacity="0.8"/><path d="M200,358L240,273L320,208L440,162L560,143L600,136" fill="none" stroke="#297a8e" stroke-width="7.2" opacity="0.55"/><rect x="0" y="0" width="1000" height="650" filter="url(#tnz)" opacity="0.28"/><rect x="0" y="0" width="1000" height="650" filter="url(#tnw)" opacity="0.16"/></g>
<g transform="translate(1483.2,212.4) scale(0.1487,0.1532)" clip-path="url(#cv0)"><path d="M0,312C2,289 14,191 22,169C30,147 71,104 85,94C99,83 136,69 160,62C184,56 287,31 320,25C353,18 457,2 486,0C515,-2 590,6 611,9C632,12 676,23 700,31C724,39 829,77 850,88C871,99 902,130 912,144C922,157 941,201 950,225C959,249 998,362 1000,387C1002,412 986,449 975,474C964,500 918,624 887,641C856,658 709,646 661,647C613,647 468,645 410,644C352,642 116,649 78,634C40,619 42,517 34,494C26,471 6,418 3,400C-0,382 -2,335 0,312Z" fill="#440154"/><path d="M82,599C66,550 29,375 24,312C18,249 34,249 50,221C65,193 88,167 115,143C142,119 174,95 212,78C250,61 298,47 342,39C385,30 433,27 471,26C509,25 541,26 568,32C595,37 617,47 634,58C650,69 649,84 666,97C682,110 709,128 731,136C753,144 772,136 796,143C820,149 852,159 874,175C895,192 915,213 926,240C936,267 939,305 939,338C939,370 930,408 926,435C921,463 918,483 913,501C908,520 945,536 893,546C841,557 683,557 601,566C520,575 472,591 407,599C342,606 261,610 212,611C163,612 136,607 115,605C93,602 97,647 82,599Z" fill="#472f7d" filter="url(#tb5)"/><path d="M105,579C90,534 55,372 50,313C45,255 60,254 74,228C89,202 110,178 136,156C162,134 192,112 228,96C264,79 309,67 350,59C391,51 437,48 473,47C508,46 539,48 565,53C590,58 611,67 626,77C642,87 641,101 657,113C672,125 698,142 718,150C739,157 757,150 780,156C802,162 833,171 853,186C874,201 892,221 902,246C912,272 915,307 915,337C915,367 906,402 902,427C898,453 895,471 890,488C885,506 921,521 872,531C823,541 672,541 596,549C519,557 473,572 412,579C351,586 274,590 228,591C182,592 156,587 136,585C115,583 119,624 105,579Z" fill="#3b528b" filter="url(#tb5)"/><g filter="url(#tb3)"><path d="M116,569C102,526 68,370 63,314C58,257 73,257 87,232C101,207 122,184 147,162C171,141 201,120 236,104C271,89 315,77 355,69C394,62 439,59 473,58C508,57 538,58 563,63C588,68 608,77 622,87C637,96 637,110 652,121C667,133 692,149 712,156C732,163 750,157 772,162C794,168 823,177 843,191C863,206 880,225 890,249C900,274 903,307 903,336C903,366 894,399 890,424C886,448 884,466 879,482C874,499 909,513 861,523C813,532 667,532 593,540C519,548 474,562 414,569C355,576 280,580 236,581C191,582 166,577 147,575C127,573 130,613 116,569Z" fill="#306b8e"/><path d="M120,358C125,308 155,297 180,273C205,249 240,228 270,214C300,202 342,177 360,195C378,213 378,276 380,325C382,374 378,446 370,488C362,529 367,558 330,572C293,586 185,608 150,572C115,536 115,407 120,358Z" fill="#2e708e"/><path d="M380,260C393,236 422,219 450,214C478,210 525,221 550,234C575,247 593,264 600,292C607,321 603,374 590,403C577,432 548,459 520,468C492,477 445,473 420,455C395,437 377,390 370,358C363,325 367,284 380,260Z" fill="#2a788e"/><path d="M600,130C617,105 680,110 700,143C720,176 720,271 720,325C720,379 720,438 700,468C680,498 617,536 600,507C583,478 600,355 600,292C600,230 583,155 600,130Z" fill="#26828e"/><path d="M720,169C735,135 775,152 800,156C825,160 850,172 870,195C890,218 913,258 920,292C927,327 922,374 910,403C898,432 877,459 850,468C823,477 773,473 750,455C727,437 715,405 710,358C705,310 705,203 720,169Z" fill="#2a788e"/><path d="M400,227C417,182 507,190 550,195C593,200 638,228 660,260C682,292 690,352 680,390C670,428 638,474 600,488C562,500 483,511 450,468C417,425 383,273 400,227Z" fill="#287d8e"/><path d="M50,325C47,286 57,261 70,234C83,207 105,184 130,162C155,141 183,120 220,104C257,88 308,74 350,65C392,56 433,53 470,52C507,51 545,53 570,58C595,64 610,76 620,84C630,93 633,104 630,111C627,117 622,120 600,124C578,127 533,127 500,130C467,133 437,131 400,143C363,155 313,179 280,202C247,224 220,254 200,280C180,306 165,328 160,358C155,387 172,430 170,455C168,480 163,505 150,507C137,509 107,498 90,468C73,438 53,364 50,325Z" fill="#31688e"/><path d="M200,130C207,117 263,95 300,84C337,74 380,68 420,65C460,62 508,61 540,65C572,69 603,82 610,91C617,100 602,114 580,117C558,120 517,109 480,111C443,112 397,115 360,124C323,132 287,161 260,162C233,164 193,143 200,130Z" fill="#2f6d8e"/><path d="M560,484L660,474L800,478L860,488L860,543L560,543Z" fill="#31b27c"/><path d="M720,306C729,284 747,278 755,260C763,242 764,194 770,195C776,196 777,258 790,266C803,275 847,237 850,247C853,257 807,304 810,325C813,346 872,362 870,370C868,379 813,359 800,377C787,395 803,464 790,481C777,498 735,496 720,481C705,466 700,419 700,390C700,361 711,327 720,306Z" fill="#bcdf27"/><ellipse cx="680.0" cy="240.5" rx="30.0" ry="32.5" fill="#c7e022"/></g><g fill="none" stroke="#26828e" stroke-width="8.0" stroke-linecap="round" stroke-linejoin="round" opacity="0.85"><path d="M745,338L735,260L755,195"/><path d="M780,325L790,247L800,182"/><path d="M800,338L840,273L850,234"/><path d="M820,364L870,338L885,312"/><path d="M810,390L860,396L890,390"/><path d="M760,403L800,442L850,455"/></g><path d="M360,325L370,260L410,208L480,182L560,188" fill="none" stroke="#287d8e" stroke-width="8.0" opacity="0.8"/><path d="M200,358L240,273L320,208L440,162L560,143L600,136" fill="none" stroke="#297a8e" stroke-width="7.2" opacity="0.55"/><rect x="0" y="0" width="1000" height="650" filter="url(#tnz)" opacity="0.28"/><rect x="0" y="0" width="1000" height="650" filter="url(#tnw)" opacity="0.16"/></g>
<g transform="translate(958.4,396.4) scale(0.1509,0.1540)" clip-path="url(#cv0)"><path d="M0,312C2,289 14,191 22,169C30,147 71,104 85,94C99,83 136,69 160,62C184,56 287,31 320,25C353,18 457,2 486,0C515,-2 590,6 611,9C632,12 676,23 700,31C724,39 829,77 850,88C871,99 902,130 912,144C922,157 941,201 950,225C959,249 998,362 1000,387C1002,412 986,449 975,474C964,500 918,624 887,641C856,658 709,646 661,647C613,647 468,645 410,644C352,642 116,649 78,634C40,619 42,517 34,494C26,471 6,418 3,400C-0,382 -2,335 0,312Z" fill="#440154"/><path d="M82,599C66,550 29,375 24,312C18,249 34,249 50,221C65,193 88,167 115,143C142,119 174,95 212,78C250,61 298,47 342,39C385,30 433,27 471,26C509,25 541,26 568,32C595,37 617,47 634,58C650,69 649,84 666,97C682,110 709,128 731,136C753,144 772,136 796,143C820,149 852,159 874,175C895,192 915,213 926,240C936,267 939,305 939,338C939,370 930,408 926,435C921,463 918,483 913,501C908,520 945,536 893,546C841,557 683,557 601,566C520,575 472,591 407,599C342,606 261,610 212,611C163,612 136,607 115,605C93,602 97,647 82,599Z" fill="#472f7d" filter="url(#tb5)"/><path d="M105,579C90,534 55,372 50,313C45,255 60,254 74,228C89,202 110,178 136,156C162,134 192,112 228,96C264,79 309,67 350,59C391,51 437,48 473,47C508,46 539,48 565,53C590,58 611,67 626,77C642,87 641,101 657,113C672,125 698,142 718,150C739,157 757,150 780,156C802,162 833,171 853,186C874,201 892,221 902,246C912,272 915,307 915,337C915,367 906,402 902,427C898,453 895,471 890,488C885,506 921,521 872,531C823,541 672,541 596,549C519,557 473,572 412,579C351,586 274,590 228,591C182,592 156,587 136,585C115,583 119,624 105,579Z" fill="#3b528b" filter="url(#tb5)"/><g filter="url(#tb3)"><path d="M116,569C102,526 68,370 63,314C58,257 73,257 87,232C101,207 122,184 147,162C171,141 201,120 236,104C271,89 315,77 355,69C394,62 439,59 473,58C508,57 538,58 563,63C588,68 608,77 622,87C637,96 637,110 652,121C667,133 692,149 712,156C732,163 750,157 772,162C794,168 823,177 843,191C863,206 880,225 890,249C900,274 903,307 903,336C903,366 894,399 890,424C886,448 884,466 879,482C874,499 909,513 861,523C813,532 667,532 593,540C519,548 474,562 414,569C355,576 280,580 236,581C191,582 166,577 147,575C127,573 130,613 116,569Z" fill="#287d8e"/><path d="M120,358C125,308 155,297 180,273C205,249 240,228 270,214C300,202 342,177 360,195C378,213 378,276 380,325C382,374 378,446 370,488C362,529 367,558 330,572C293,586 185,608 150,572C115,536 115,407 120,358Z" fill="#25888d"/><path d="M380,260C393,236 422,219 450,214C478,210 525,221 550,234C575,247 593,264 600,292C607,321 603,374 590,403C577,432 548,459 520,468C492,477 445,473 420,455C395,437 377,390 370,358C363,325 367,284 380,260Z" fill="#287d8e"/><path d="M600,130C617,105 680,110 700,143C720,176 720,271 720,325C720,379 720,438 700,468C680,498 617,536 600,507C583,478 600,355 600,292C600,230 583,155 600,130Z" fill="#26828e"/><path d="M720,169C735,135 775,152 800,156C825,160 850,172 870,195C890,218 913,258 920,292C927,327 922,374 910,403C898,432 877,459 850,468C823,477 773,473 750,455C727,437 715,405 710,358C705,310 705,203 720,169Z" fill="#2d728e"/><path d="M50,325C47,286 57,261 70,234C83,207 105,184 130,162C155,141 183,120 220,104C257,88 308,74 350,65C392,56 433,53 470,52C507,51 545,53 570,58C595,64 610,76 620,84C630,93 633,104 630,111C627,117 622,120 600,124C578,127 533,127 500,130C467,133 437,131 400,143C363,155 313,179 280,202C247,224 220,254 200,280C180,306 165,328 160,358C155,387 172,430 170,455C168,480 163,505 150,507C137,509 107,498 90,468C73,438 53,364 50,325Z" fill="#25888d"/><path d="M200,130C207,117 263,95 300,84C337,74 380,68 420,65C460,62 508,61 540,65C572,69 603,82 610,91C617,100 602,114 580,117C558,120 517,109 480,111C443,112 397,115 360,124C323,132 287,161 260,162C233,164 193,143 200,130Z" fill="#22938b"/><path d="M200,325C212,288 245,280 270,273C295,266 327,269 350,286C373,303 387,356 410,377C433,398 463,410 490,410C517,410 552,369 570,377C588,385 607,428 600,455C593,482 563,520 530,540C497,559 443,567 400,572C357,577 303,585 270,572C237,559 212,535 200,494C188,453 188,362 200,325Z" fill="#63c95f"/><path d="M528,358C540,339 585,330 600,338C615,346 619,384 616,403C613,422 594,447 580,455C566,463 539,465 530,448C521,432 516,376 528,358Z" fill="#57c565"/><path d="M550,494L700,468L890,481L890,546L620,559L550,552Z" fill="#26828e"/></g><g fill="none" stroke="#f6e623" stroke-width="8.0" stroke-linecap="round" stroke-linejoin="round" opacity="0.85"><path d="M745,338L735,260L755,195"/><path d="M780,325L790,247L800,182"/><path d="M800,338L840,273L850,234"/><path d="M820,364L870,338L885,312"/><path d="M810,390L860,396L890,390"/><path d="M760,403L800,442L850,455"/></g><ellipse cx="440" cy="202" rx="60" ry="32" fill="none" stroke="#c7e022" stroke-width="8" opacity="0.8"/><g fill="none" stroke="#f2e621" stroke-width="16" stroke-linecap="round" opacity="0.9"><path d="M730,403L720,325L750,260"/><path d="M770,390L780,292L790,247"/><path d="M810,403L850,325L860,286"/><path d="M820,442L880,416"/><path d="M800,481L860,494"/></g><path d="M200,358L240,273L320,208L440,162L560,143L600,136" fill="none" stroke="#21a087" stroke-width="7.2" opacity="0.55"/><rect x="0" y="0" width="1000" height="650" filter="url(#tnz)" opacity="0.28"/><rect x="0" y="0" width="1000" height="650" filter="url(#tnw)" opacity="0.16"/></g>
<g transform="translate(1121.5,397.1) scale(0.1692,0.1609)" clip-path="url(#cv1)"><path d="M0,358C1,328 10,221 20,195C30,169 77,114 100,98C123,81 215,42 250,32C285,23 415,2 450,0C485,-2 570,5 600,13C630,21 722,60 750,78C778,96 855,162 880,195C905,228 990,367 1000,403C1010,439 990,529 980,552C970,576 938,627 900,637C862,647 660,650 600,650C540,650 354,642 300,637C246,632 89,613 60,598C31,583 16,512 10,488C4,463 -1,387 0,358Z" fill="#440154"/><path d="M82,599C66,550 29,375 24,312C18,249 34,249 50,221C65,193 88,167 115,143C142,119 174,95 212,78C250,61 298,47 342,39C385,30 433,27 471,26C509,25 541,26 568,32C595,37 617,47 634,58C650,69 649,84 666,97C682,110 709,128 731,136C753,144 772,136 796,143C820,149 852,159 874,175C895,192 915,213 926,240C936,267 939,305 939,338C939,370 930,408 926,435C921,463 918,483 913,501C908,520 945,536 893,546C841,557 683,557 601,566C520,575 472,591 407,599C342,606 261,610 212,611C163,612 136,607 115,605C93,602 97,647 82,599Z" fill="#472f7d" filter="url(#tb5)"/><path d="M105,579C90,534 55,372 50,313C45,255 60,254 74,228C89,202 110,178 136,156C162,134 192,112 228,96C264,79 309,67 350,59C391,51 437,48 473,47C508,46 539,48 565,53C590,58 611,67 626,77C642,87 641,101 657,113C672,125 698,142 718,150C739,157 757,150 780,156C802,162 833,171 853,186C874,201 892,221 902,246C912,272 915,307 915,337C915,367 906,402 902,427C898,453 895,471 890,488C885,506 921,521 872,531C823,541 672,541 596,549C519,557 473,572 412,579C351,586 274,590 228,591C182,592 156,587 136,585C115,583 119,624 105,579Z" fill="#3b528b" filter="url(#tb5)"/><g filter="url(#tb3)"><path d="M116,569C102,526 68,370 63,314C58,257 73,257 87,232C101,207 122,184 147,162C171,141 201,120 236,104C271,89 315,77 355,69C394,62 439,59 473,58C508,57 538,58 563,63C588,68 608,77 622,87C637,96 637,110 652,121C667,133 692,149 712,156C732,163 750,157 772,162C794,168 823,177 843,191C863,206 880,225 890,249C900,274 903,307 903,336C903,366 894,399 890,424C886,448 884,466 879,482C874,499 909,513 861,523C813,532 667,532 593,540C519,548 474,562 414,569C355,576 280,580 236,581C191,582 166,577 147,575C127,573 130,613 116,569Z" fill="#287d8e"/><path d="M120,358C125,308 155,297 180,273C205,249 240,228 270,214C300,202 342,177 360,195C378,213 378,276 380,325C382,374 378,446 370,488C362,529 367,558 330,572C293,586 185,608 150,572C115,536 115,407 120,358Z" fill="#25888d"/><path d="M380,260C393,236 422,219 450,214C478,210 525,221 550,234C575,247 593,264 600,292C607,321 603,374 590,403C577,432 548,459 520,468C492,477 445,473 420,455C395,437 377,390 370,358C363,325 367,284 380,260Z" fill="#287d8e"/><path d="M600,130C617,105 680,110 700,143C720,176 720,271 720,325C720,379 720,438 700,468C680,498 617,536 600,507C583,478 600,355 600,292C600,230 583,155 600,130Z" fill="#26828e"/><path d="M720,169C735,135 775,152 800,156C825,160 850,172 870,195C890,218 913,258 920,292C927,327 922,374 910,403C898,432 877,459 850,468C823,477 773,473 750,455C727,437 715,405 710,358C705,310 705,203 720,169Z" fill="#2d728e"/><path d="M50,325C47,286 57,261 70,234C83,207 105,184 130,162C155,141 183,120 220,104C257,88 308,74 350,65C392,56 433,53 470,52C507,51 545,53 570,58C595,64 610,76 620,84C630,93 633,104 630,111C627,117 622,120 600,124C578,127 533,127 500,130C467,133 437,131 400,143C363,155 313,179 280,202C247,224 220,254 200,280C180,306 165,328 160,358C155,387 172,430 170,455C168,480 163,505 150,507C137,509 107,498 90,468C73,438 53,364 50,325Z" fill="#25888d"/><path d="M200,130C207,117 263,95 300,84C337,74 380,68 420,65C460,62 508,61 540,65C572,69 603,82 610,91C617,100 602,114 580,117C558,120 517,109 480,111C443,112 397,115 360,124C323,132 287,161 260,162C233,164 193,143 200,130Z" fill="#22938b"/><path d="M200,325C212,288 245,280 270,273C295,266 327,269 350,286C373,303 387,356 410,377C433,398 463,410 490,410C517,410 552,369 570,377C588,385 607,428 600,455C593,482 563,520 530,540C497,559 443,567 400,572C357,577 303,585 270,572C237,559 212,535 200,494C188,453 188,362 200,325Z" fill="#63c95f"/><path d="M528,358C540,339 585,330 600,338C615,346 619,384 616,403C613,422 594,447 580,455C566,463 539,465 530,448C521,432 516,376 528,358Z" fill="#57c565"/><path d="M550,494L700,468L890,481L890,546L620,559L550,552Z" fill="#26828e"/></g><g fill="none" stroke="#f6e623" stroke-width="8.0" stroke-linecap="round" stroke-linejoin="round" opacity="0.85"><path d="M745,338L735,260L755,195"/><path d="M780,325L790,247L800,182"/><path d="M800,338L840,273L850,234"/><path d="M820,364L870,338L885,312"/><path d="M810,390L860,396L890,390"/><path d="M760,403L800,442L850,455"/></g><ellipse cx="440" cy="202" rx="60" ry="32" fill="none" stroke="#c7e022" stroke-width="8" opacity="0.8"/><g fill="none" stroke="#f2e621" stroke-width="16" stroke-linecap="round" opacity="0.9"><path d="M730,403L720,325L750,260"/><path d="M770,390L780,292L790,247"/><path d="M810,403L850,325L860,286"/><path d="M820,442L880,416"/><path d="M800,481L860,494"/></g><path d="M200,358L240,273L320,208L440,162L560,143L600,136" fill="none" stroke="#21a087" stroke-width="7.2" opacity="0.55"/><rect x="0" y="0" width="1000" height="650" filter="url(#tnz)" opacity="0.28"/><rect x="0" y="0" width="1000" height="650" filter="url(#tnw)" opacity="0.16"/></g>
<g transform="translate(1301.3,403.8) scale(0.1700,0.1582)" clip-path="url(#cv1)"><path d="M0,358C1,328 10,221 20,195C30,169 77,114 100,98C123,81 215,42 250,32C285,23 415,2 450,0C485,-2 570,5 600,13C630,21 722,60 750,78C778,96 855,162 880,195C905,228 990,367 1000,403C1010,439 990,529 980,552C970,576 938,627 900,637C862,647 660,650 600,650C540,650 354,642 300,637C246,632 89,613 60,598C31,583 16,512 10,488C4,463 -1,387 0,358Z" fill="#440154"/><path d="M82,599C66,550 29,375 24,312C18,249 34,249 50,221C65,193 88,167 115,143C142,119 174,95 212,78C250,61 298,47 342,39C385,30 433,27 471,26C509,25 541,26 568,32C595,37 617,47 634,58C650,69 649,84 666,97C682,110 709,128 731,136C753,144 772,136 796,143C820,149 852,159 874,175C895,192 915,213 926,240C936,267 939,305 939,338C939,370 930,408 926,435C921,463 918,483 913,501C908,520 945,536 893,546C841,557 683,557 601,566C520,575 472,591 407,599C342,606 261,610 212,611C163,612 136,607 115,605C93,602 97,647 82,599Z" fill="#472f7d" filter="url(#tb5)"/><path d="M105,579C90,534 55,372 50,313C45,255 60,254 74,228C89,202 110,178 136,156C162,134 192,112 228,96C264,79 309,67 350,59C391,51 437,48 473,47C508,46 539,48 565,53C590,58 611,67 626,77C642,87 641,101 657,113C672,125 698,142 718,150C739,157 757,150 780,156C802,162 833,171 853,186C874,201 892,221 902,246C912,272 915,307 915,337C915,367 906,402 902,427C898,453 895,471 890,488C885,506 921,521 872,531C823,541 672,541 596,549C519,557 473,572 412,579C351,586 274,590 228,591C182,592 156,587 136,585C115,583 119,624 105,579Z" fill="#3b528b" filter="url(#tb5)"/><g filter="url(#tb3)"><path d="M116,569C102,526 68,370 63,314C58,257 73,257 87,232C101,207 122,184 147,162C171,141 201,120 236,104C271,89 315,77 355,69C394,62 439,59 473,58C508,57 538,58 563,63C588,68 608,77 622,87C637,96 637,110 652,121C667,133 692,149 712,156C732,163 750,157 772,162C794,168 823,177 843,191C863,206 880,225 890,249C900,274 903,307 903,336C903,366 894,399 890,424C886,448 884,466 879,482C874,499 909,513 861,523C813,532 667,532 593,540C519,548 474,562 414,569C355,576 280,580 236,581C191,582 166,577 147,575C127,573 130,613 116,569Z" fill="#287d8e"/><path d="M120,358C125,308 155,297 180,273C205,249 240,228 270,214C300,202 342,177 360,195C378,213 378,276 380,325C382,374 378,446 370,488C362,529 367,558 330,572C293,586 185,608 150,572C115,536 115,407 120,358Z" fill="#25888d"/><path d="M380,260C393,236 422,219 450,214C478,210 525,221 550,234C575,247 593,264 600,292C607,321 603,374 590,403C577,432 548,459 520,468C492,477 445,473 420,455C395,437 377,390 370,358C363,325 367,284 380,260Z" fill="#287d8e"/><path d="M600,130C617,105 680,110 700,143C720,176 720,271 720,325C720,379 720,438 700,468C680,498 617,536 600,507C583,478 600,355 600,292C600,230 583,155 600,130Z" fill="#26828e"/><path d="M720,169C735,135 775,152 800,156C825,160 850,172 870,195C890,218 913,258 920,292C927,327 922,374 910,403C898,432 877,459 850,468C823,477 773,473 750,455C727,437 715,405 710,358C705,310 705,203 720,169Z" fill="#2d728e"/><path d="M50,325C47,286 57,261 70,234C83,207 105,184 130,162C155,141 183,120 220,104C257,88 308,74 350,65C392,56 433,53 470,52C507,51 545,53 570,58C595,64 610,76 620,84C630,93 633,104 630,111C627,117 622,120 600,124C578,127 533,127 500,130C467,133 437,131 400,143C363,155 313,179 280,202C247,224 220,254 200,280C180,306 165,328 160,358C155,387 172,430 170,455C168,480 163,505 150,507C137,509 107,498 90,468C73,438 53,364 50,325Z" fill="#25888d"/><path d="M200,130C207,117 263,95 300,84C337,74 380,68 420,65C460,62 508,61 540,65C572,69 603,82 610,91C617,100 602,114 580,117C558,120 517,109 480,111C443,112 397,115 360,124C323,132 287,161 260,162C233,164 193,143 200,130Z" fill="#22938b"/><path d="M200,325C212,288 245,280 270,273C295,266 327,269 350,286C373,303 387,356 410,377C433,398 463,410 490,410C517,410 552,369 570,377C588,385 607,428 600,455C593,482 563,520 530,540C497,559 443,567 400,572C357,577 303,585 270,572C237,559 212,535 200,494C188,453 188,362 200,325Z" fill="#63c95f"/><path d="M528,358C540,339 585,330 600,338C615,346 619,384 616,403C613,422 594,447 580,455C566,463 539,465 530,448C521,432 516,376 528,358Z" fill="#57c565"/><path d="M550,494L700,468L890,481L890,546L620,559L550,552Z" fill="#26828e"/></g><g fill="none" stroke="#f6e623" stroke-width="8.0" stroke-linecap="round" stroke-linejoin="round" opacity="0.85"><path d="M745,338L735,260L755,195"/><path d="M780,325L790,247L800,182"/><path d="M800,338L840,273L850,234"/><path d="M820,364L870,338L885,312"/><path d="M810,390L860,396L890,390"/><path d="M760,403L800,442L850,455"/></g><ellipse cx="440" cy="202" rx="60" ry="32" fill="none" stroke="#c7e022" stroke-width="8" opacity="0.8"/><g fill="none" stroke="#f2e621" stroke-width="16" stroke-linecap="round" opacity="0.9"><path d="M730,403L720,325L750,260"/><path d="M770,390L780,292L790,247"/><path d="M810,403L850,325L860,286"/><path d="M820,442L880,416"/><path d="M800,481L860,494"/></g><path d="M200,358L240,273L320,208L440,162L560,143L600,136" fill="none" stroke="#21a087" stroke-width="7.2" opacity="0.55"/><rect x="0" y="0" width="1000" height="650" filter="url(#tnz)" opacity="0.28"/><rect x="0" y="0" width="1000" height="650" filter="url(#tnw)" opacity="0.16"/></g>
<g transform="translate(1480.6,403.8) scale(0.1588,0.1540)" clip-path="url(#cv0)"><path d="M0,312C2,289 14,191 22,169C30,147 71,104 85,94C99,83 136,69 160,62C184,56 287,31 320,25C353,18 457,2 486,0C515,-2 590,6 611,9C632,12 676,23 700,31C724,39 829,77 850,88C871,99 902,130 912,144C922,157 941,201 950,225C959,249 998,362 1000,387C1002,412 986,449 975,474C964,500 918,624 887,641C856,658 709,646 661,647C613,647 468,645 410,644C352,642 116,649 78,634C40,619 42,517 34,494C26,471 6,418 3,400C-0,382 -2,335 0,312Z" fill="#440154"/><path d="M82,599C66,550 29,375 24,312C18,249 34,249 50,221C65,193 88,167 115,143C142,119 174,95 212,78C250,61 298,47 342,39C385,30 433,27 471,26C509,25 541,26 568,32C595,37 617,47 634,58C650,69 649,84 666,97C682,110 709,128 731,136C753,144 772,136 796,143C820,149 852,159 874,175C895,192 915,213 926,240C936,267 939,305 939,338C939,370 930,408 926,435C921,463 918,483 913,501C908,520 945,536 893,546C841,557 683,557 601,566C520,575 472,591 407,599C342,606 261,610 212,611C163,612 136,607 115,605C93,602 97,647 82,599Z" fill="#472f7d" filter="url(#tb5)"/><path d="M105,579C90,534 55,372 50,313C45,255 60,254 74,228C89,202 110,178 136,156C162,134 192,112 228,96C264,79 309,67 350,59C391,51 437,48 473,47C508,46 539,48 565,53C590,58 611,67 626,77C642,87 641,101 657,113C672,125 698,142 718,150C739,157 757,150 780,156C802,162 833,171 853,186C874,201 892,221 902,246C912,272 915,307 915,337C915,367 906,402 902,427C898,453 895,471 890,488C885,506 921,521 872,531C823,541 672,541 596,549C519,557 473,572 412,579C351,586 274,590 228,591C182,592 156,587 136,585C115,583 119,624 105,579Z" fill="#3b528b" filter="url(#tb5)"/><g filter="url(#tb3)"><path d="M116,569C102,526 68,370 63,314C58,257 73,257 87,232C101,207 122,184 147,162C171,141 201,120 236,104C271,89 315,77 355,69C394,62 439,59 473,58C508,57 538,58 563,63C588,68 608,77 622,87C637,96 637,110 652,121C667,133 692,149 712,156C732,163 750,157 772,162C794,168 823,177 843,191C863,206 880,225 890,249C900,274 903,307 903,336C903,366 894,399 890,424C886,448 884,466 879,482C874,499 909,513 861,523C813,532 667,532 593,540C519,548 474,562 414,569C355,576 280,580 236,581C191,582 166,577 147,575C127,573 130,613 116,569Z" fill="#287d8e"/><path d="M120,358C125,308 155,297 180,273C205,249 240,228 270,214C300,202 342,177 360,195C378,213 378,276 380,325C382,374 378,446 370,488C362,529 367,558 330,572C293,586 185,608 150,572C115,536 115,407 120,358Z" fill="#25888d"/><path d="M380,260C393,236 422,219 450,214C478,210 525,221 550,234C575,247 593,264 600,292C607,321 603,374 590,403C577,432 548,459 520,468C492,477 445,473 420,455C395,437 377,390 370,358C363,325 367,284 380,260Z" fill="#287d8e"/><path d="M600,130C617,105 680,110 700,143C720,176 720,271 720,325C720,379 720,438 700,468C680,498 617,536 600,507C583,478 600,355 600,292C600,230 583,155 600,130Z" fill="#26828e"/><path d="M720,169C735,135 775,152 800,156C825,160 850,172 870,195C890,218 913,258 920,292C927,327 922,374 910,403C898,432 877,459 850,468C823,477 773,473 750,455C727,437 715,405 710,358C705,310 705,203 720,169Z" fill="#2d728e"/><path d="M50,325C47,286 57,261 70,234C83,207 105,184 130,162C155,141 183,120 220,104C257,88 308,74 350,65C392,56 433,53 470,52C507,51 545,53 570,58C595,64 610,76 620,84C630,93 633,104 630,111C627,117 622,120 600,124C578,127 533,127 500,130C467,133 437,131 400,143C363,155 313,179 280,202C247,224 220,254 200,280C180,306 165,328 160,358C155,387 172,430 170,455C168,480 163,505 150,507C137,509 107,498 90,468C73,438 53,364 50,325Z" fill="#25888d"/><path d="M200,130C207,117 263,95 300,84C337,74 380,68 420,65C460,62 508,61 540,65C572,69 603,82 610,91C617,100 602,114 580,117C558,120 517,109 480,111C443,112 397,115 360,124C323,132 287,161 260,162C233,164 193,143 200,130Z" fill="#22938b"/><path d="M200,325C212,288 245,280 270,273C295,266 327,269 350,286C373,303 387,356 410,377C433,398 463,410 490,410C517,410 552,369 570,377C588,385 607,428 600,455C593,482 563,520 530,540C497,559 443,567 400,572C357,577 303,585 270,572C237,559 212,535 200,494C188,453 188,362 200,325Z" fill="#63c95f"/><path d="M528,358C540,339 585,330 600,338C615,346 619,384 616,403C613,422 594,447 580,455C566,463 539,465 530,448C521,432 516,376 528,358Z" fill="#57c565"/><path d="M550,494L700,468L890,481L890,546L620,559L550,552Z" fill="#26828e"/></g><g fill="none" stroke="#f6e623" stroke-width="8.0" stroke-linecap="round" stroke-linejoin="round" opacity="0.85"><path d="M745,338L735,260L755,195"/><path d="M780,325L790,247L800,182"/><path d="M800,338L840,273L850,234"/><path d="M820,364L870,338L885,312"/><path d="M810,390L860,396L890,390"/><path d="M760,403L800,442L850,455"/></g><ellipse cx="440" cy="202" rx="60" ry="32" fill="none" stroke="#c7e022" stroke-width="8" opacity="0.8"/><g fill="none" stroke="#f2e621" stroke-width="16" stroke-linecap="round" opacity="0.9"><path d="M730,403L720,325L750,260"/><path d="M770,390L780,292L790,247"/><path d="M810,403L850,325L860,286"/><path d="M820,442L880,416"/><path d="M800,481L860,494"/></g><path d="M200,358L240,273L320,208L440,162L560,143L600,136" fill="none" stroke="#21a087" stroke-width="7.2" opacity="0.55"/><rect x="0" y="0" width="1000" height="650" filter="url(#tnz)" opacity="0.28"/><rect x="0" y="0" width="1000" height="650" filter="url(#tnw)" opacity="0.16"/></g>
<g transform="translate(956.3,508.2) scale(0.1556,0.1574)" clip-path="url(#cv2)"><path d="M0,358C-1,328 18,240 30,214C42,188 95,116 120,98C145,79 244,36 280,26C316,16 442,0 480,0C518,0 626,16 660,26C694,36 792,79 820,98C848,116 922,188 940,214C958,240 997,328 1000,358C1003,387 982,482 970,507C958,532 912,590 880,604C848,619 698,645 650,650C602,655 450,654 400,650C350,646 186,625 150,611C114,597 55,532 40,507C25,482 1,387 0,358Z" fill="#440154"/><path d="M82,599C66,550 29,375 24,312C18,249 34,249 50,221C65,193 88,167 115,143C142,119 174,95 212,78C250,61 298,47 342,39C385,30 433,27 471,26C509,25 541,26 568,32C595,37 617,47 634,58C650,69 649,84 666,97C682,110 709,128 731,136C753,144 772,136 796,143C820,149 852,159 874,175C895,192 915,213 926,240C936,267 939,305 939,338C939,370 930,408 926,435C921,463 918,483 913,501C908,520 945,536 893,546C841,557 683,557 601,566C520,575 472,591 407,599C342,606 261,610 212,611C163,612 136,607 115,605C93,602 97,647 82,599Z" fill="#472f7d" filter="url(#tb5)"/><path d="M105,579C90,534 55,372 50,313C45,255 60,254 74,228C89,202 110,178 136,156C162,134 192,112 228,96C264,79 309,67 350,59C391,51 437,48 473,47C508,46 539,48 565,53C590,58 611,67 626,77C642,87 641,101 657,113C672,125 698,142 718,150C739,157 757,150 780,156C802,162 833,171 853,186C874,201 892,221 902,246C912,272 915,307 915,337C915,367 906,402 902,427C898,453 895,471 890,488C885,506 921,521 872,531C823,541 672,541 596,549C519,557 473,572 412,579C351,586 274,590 228,591C182,592 156,587 136,585C115,583 119,624 105,579Z" fill="#3b528b" filter="url(#tb5)"/><g filter="url(#tb3)"><path d="M116,569C102,526 68,370 63,314C58,257 73,257 87,232C101,207 122,184 147,162C171,141 201,120 236,104C271,89 315,77 355,69C394,62 439,59 473,58C508,57 538,58 563,63C588,68 608,77 622,87C637,96 637,110 652,121C667,133 692,149 712,156C732,163 750,157 772,162C794,168 823,177 843,191C863,206 880,225 890,249C900,274 903,307 903,336C903,366 894,399 890,424C886,448 884,466 879,482C874,499 909,513 861,523C813,532 667,532 593,540C519,548 474,562 414,569C355,576 280,580 236,581C191,582 166,577 147,575C127,573 130,613 116,569Z" fill="#287d8e"/><path d="M120,358C125,308 155,297 180,273C205,249 240,228 270,214C300,202 342,177 360,195C378,213 378,276 380,325C382,374 378,446 370,488C362,529 367,558 330,572C293,586 185,608 150,572C115,536 115,407 120,358Z" fill="#25888d"/><path d="M380,260C393,236 422,219 450,214C478,210 525,221 550,234C575,247 593,264 600,292C607,321 603,374 590,403C577,432 548,459 520,468C492,477 445,473 420,455C395,437 377,390 370,358C363,325 367,284 380,260Z" fill="#287d8e"/><path d="M600,130C617,105 680,110 700,143C720,176 720,271 720,325C720,379 720,438 700,468C680,498 617,536 600,507C583,478 600,355 600,292C600,230 583,155 600,130Z" fill="#26828e"/><path d="M720,169C735,135 775,152 800,156C825,160 850,172 870,195C890,218 913,258 920,292C927,327 922,374 910,403C898,432 877,459 850,468C823,477 773,473 750,455C727,437 715,405 710,358C705,310 705,203 720,169Z" fill="#2d728e"/><path d="M50,325C47,286 57,261 70,234C83,207 105,184 130,162C155,141 183,120 220,104C257,88 308,74 350,65C392,56 433,53 470,52C507,51 545,53 570,58C595,64 610,76 620,84C630,93 633,104 630,111C627,117 622,120 600,124C578,127 533,127 500,130C467,133 437,131 400,143C363,155 313,179 280,202C247,224 220,254 200,280C180,306 165,328 160,358C155,387 172,430 170,455C168,480 163,505 150,507C137,509 107,498 90,468C73,438 53,364 50,325Z" fill="#25888d"/><path d="M200,130C207,117 263,95 300,84C337,74 380,68 420,65C460,62 508,61 540,65C572,69 603,82 610,91C617,100 602,114 580,117C558,120 517,109 480,111C443,112 397,115 360,124C323,132 287,161 260,162C233,164 193,143 200,130Z" fill="#22938b"/><path d="M200,325C212,288 245,280 270,273C295,266 327,269 350,286C373,303 387,356 410,377C433,398 463,410 490,410C517,410 552,369 570,377C588,385 607,428 600,455C593,482 563,520 530,540C497,559 443,567 400,572C357,577 303,585 270,572C237,559 212,535 200,494C188,453 188,362 200,325Z" fill="#35b779"/><path d="M528,358C540,339 585,330 600,338C615,346 619,384 616,403C613,422 594,447 580,455C566,463 539,465 530,448C521,432 516,376 528,358Z" fill="#31b27c"/><path d="M550,494L700,468L890,481L890,546L620,559L550,552Z" fill="#26828e"/></g><g fill="none" stroke="#ebe51f" stroke-width="8.0" stroke-linecap="round" stroke-linejoin="round" opacity="0.85"><path d="M745,338L735,260L755,195"/><path d="M780,325L790,247L800,182"/><path d="M800,338L840,273L850,234"/><path d="M820,364L870,338L885,312"/><path d="M810,390L860,396L890,390"/><path d="M760,403L800,442L850,455"/></g><ellipse cx="440" cy="202" rx="60" ry="32" fill="none" stroke="#c7e022" stroke-width="8" opacity="0.8"/><g fill="none" stroke="#f2e621" stroke-width="16" stroke-linecap="round" opacity="0.9"><path d="M730,403L720,325L750,260"/><path d="M770,390L780,292L790,247"/><path d="M810,403L850,325L860,286"/><path d="M820,442L880,416"/><path d="M800,481L860,494"/></g><path d="M200,358L240,273L320,208L440,162L560,143L600,136" fill="none" stroke="#21a087" stroke-width="7.2" opacity="0.55"/><rect x="0" y="0" width="1000" height="650" filter="url(#tnz)" opacity="0.28"/><rect x="0" y="0" width="1000" height="650" filter="url(#tnw)" opacity="0.16"/></g>
<g transform="translate(1126.7,518.7) scale(0.1595,0.1240)" clip-path="url(#cv2)"><path d="M0,358C-1,328 18,240 30,214C42,188 95,116 120,98C145,79 244,36 280,26C316,16 442,0 480,0C518,0 626,16 660,26C694,36 792,79 820,98C848,116 922,188 940,214C958,240 997,328 1000,358C1003,387 982,482 970,507C958,532 912,590 880,604C848,619 698,645 650,650C602,655 450,654 400,650C350,646 186,625 150,611C114,597 55,532 40,507C25,482 1,387 0,358Z" fill="#440154"/><path d="M82,599C66,550 29,375 24,312C18,249 34,249 50,221C65,193 88,167 115,143C142,119 174,95 212,78C250,61 298,47 342,39C385,30 433,27 471,26C509,25 541,26 568,32C595,37 617,47 634,58C650,69 649,84 666,97C682,110 709,128 731,136C753,144 772,136 796,143C820,149 852,159 874,175C895,192 915,213 926,240C936,267 939,305 939,338C939,370 930,408 926,435C921,463 918,483 913,501C908,520 945,536 893,546C841,557 683,557 601,566C520,575 472,591 407,599C342,606 261,610 212,611C163,612 136,607 115,605C93,602 97,647 82,599Z" fill="#472f7d" filter="url(#tb5)"/><path d="M105,579C90,534 55,372 50,313C45,255 60,254 74,228C89,202 110,178 136,156C162,134 192,112 228,96C264,79 309,67 350,59C391,51 437,48 473,47C508,46 539,48 565,53C590,58 611,67 626,77C642,87 641,101 657,113C672,125 698,142 718,150C739,157 757,150 780,156C802,162 833,171 853,186C874,201 892,221 902,246C912,272 915,307 915,337C915,367 906,402 902,427C898,453 895,471 890,488C885,506 921,521 872,531C823,541 672,541 596,549C519,557 473,572 412,579C351,586 274,590 228,591C182,592 156,587 136,585C115,583 119,624 105,579Z" fill="#3b528b" filter="url(#tb5)"/><g filter="url(#tb3)"><path d="M116,569C102,526 68,370 63,314C58,257 73,257 87,232C101,207 122,184 147,162C171,141 201,120 236,104C271,89 315,77 355,69C394,62 439,59 473,58C508,57 538,58 563,63C588,68 608,77 622,87C637,96 637,110 652,121C667,133 692,149 712,156C732,163 750,157 772,162C794,168 823,177 843,191C863,206 880,225 890,249C900,274 903,307 903,336C903,366 894,399 890,424C886,448 884,466 879,482C874,499 909,513 861,523C813,532 667,532 593,540C519,548 474,562 414,569C355,576 280,580 236,581C191,582 166,577 147,575C127,573 130,613 116,569Z" fill="#287d8e"/><path d="M120,358C125,308 155,297 180,273C205,249 240,228 270,214C300,202 342,177 360,195C378,213 378,276 380,325C382,374 378,446 370,488C362,529 367,558 330,572C293,586 185,608 150,572C115,536 115,407 120,358Z" fill="#25888d"/><path d="M380,260C393,236 422,219 450,214C478,210 525,221 550,234C575,247 593,264 600,292C607,321 603,374 590,403C577,432 548,459 520,468C492,477 445,473 420,455C395,437 377,390 370,358C363,325 367,284 380,260Z" fill="#287d8e"/><path d="M600,130C617,105 680,110 700,143C720,176 720,271 720,325C720,379 720,438 700,468C680,498 617,536 600,507C583,478 600,355 600,292C600,230 583,155 600,130Z" fill="#26828e"/><path d="M720,169C735,135 775,152 800,156C825,160 850,172 870,195C890,218 913,258 920,292C927,327 922,374 910,403C898,432 877,459 850,468C823,477 773,473 750,455C727,437 715,405 710,358C705,310 705,203 720,169Z" fill="#2d728e"/><path d="M50,325C47,286 57,261 70,234C83,207 105,184 130,162C155,141 183,120 220,104C257,88 308,74 350,65C392,56 433,53 470,52C507,51 545,53 570,58C595,64 610,76 620,84C630,93 633,104 630,111C627,117 622,120 600,124C578,127 533,127 500,130C467,133 437,131 400,143C363,155 313,179 280,202C247,224 220,254 200,280C180,306 165,328 160,358C155,387 172,430 170,455C168,480 163,505 150,507C137,509 107,498 90,468C73,438 53,364 50,325Z" fill="#25888d"/><path d="M200,130C207,117 263,95 300,84C337,74 380,68 420,65C460,62 508,61 540,65C572,69 603,82 610,91C617,100 602,114 580,117C558,120 517,109 480,111C443,112 397,115 360,124C323,132 287,161 260,162C233,164 193,143 200,130Z" fill="#22938b"/><path d="M200,325C212,288 245,280 270,273C295,266 327,269 350,286C373,303 387,356 410,377C433,398 463,410 490,410C517,410 552,369 570,377C588,385 607,428 600,455C593,482 563,520 530,540C497,559 443,567 400,572C357,577 303,585 270,572C237,559 212,535 200,494C188,453 188,362 200,325Z" fill="#35b779"/><path d="M528,358C540,339 585,330 600,338C615,346 619,384 616,403C613,422 594,447 580,455C566,463 539,465 530,448C521,432 516,376 528,358Z" fill="#31b27c"/><path d="M550,494L700,468L890,481L890,546L620,559L550,552Z" fill="#26828e"/></g><g fill="none" stroke="#ebe51f" stroke-width="8.0" stroke-linecap="round" stroke-linejoin="round" opacity="0.85"><path d="M745,338L735,260L755,195"/><path d="M780,325L790,247L800,182"/><path d="M800,338L840,273L850,234"/><path d="M820,364L870,338L885,312"/><path d="M810,390L860,396L890,390"/><path d="M760,403L800,442L850,455"/></g><ellipse cx="440" cy="202" rx="60" ry="32" fill="none" stroke="#c7e022" stroke-width="8" opacity="0.8"/><g fill="none" stroke="#f2e621" stroke-width="16" stroke-linecap="round" opacity="0.9"><path d="M730,403L720,325L750,260"/><path d="M770,390L780,292L790,247"/><path d="M810,403L850,325L860,286"/><path d="M820,442L880,416"/><path d="M800,481L860,494"/></g><path d="M200,358L240,273L320,208L440,162L560,143L600,136" fill="none" stroke="#21a087" stroke-width="7.2" opacity="0.55"/><rect x="0" y="0" width="1000" height="650" filter="url(#tnz)" opacity="0.28"/><rect x="0" y="0" width="1000" height="650" filter="url(#tnw)" opacity="0.16"/></g>
<g transform="translate(1311.2,509.2) scale(0.1588,0.1574)" clip-path="url(#cv2)"><path d="M0,358C-1,328 18,240 30,214C42,188 95,116 120,98C145,79 244,36 280,26C316,16 442,0 480,0C518,0 626,16 660,26C694,36 792,79 820,98C848,116 922,188 940,214C958,240 997,328 1000,358C1003,387 982,482 970,507C958,532 912,590 880,604C848,619 698,645 650,650C602,655 450,654 400,650C350,646 186,625 150,611C114,597 55,532 40,507C25,482 1,387 0,358Z" fill="#440154"/><path d="M82,599C66,550 29,375 24,312C18,249 34,249 50,221C65,193 88,167 115,143C142,119 174,95 212,78C250,61 298,47 342,39C385,30 433,27 471,26C509,25 541,26 568,32C595,37 617,47 634,58C650,69 649,84 666,97C682,110 709,128 731,136C753,144 772,136 796,143C820,149 852,159 874,175C895,192 915,213 926,240C936,267 939,305 939,338C939,370 930,408 926,435C921,463 918,483 913,501C908,520 945,536 893,546C841,557 683,557 601,566C520,575 472,591 407,599C342,606 261,610 212,611C163,612 136,607 115,605C93,602 97,647 82,599Z" fill="#472f7d" filter="url(#tb5)"/><path d="M105,579C90,534 55,372 50,313C45,255 60,254 74,228C89,202 110,178 136,156C162,134 192,112 228,96C264,79 309,67 350,59C391,51 437,48 473,47C508,46 539,48 565,53C590,58 611,67 626,77C642,87 641,101 657,113C672,125 698,142 718,150C739,157 757,150 780,156C802,162 833,171 853,186C874,201 892,221 902,246C912,272 915,307 915,337C915,367 906,402 902,427C898,453 895,471 890,488C885,506 921,521 872,531C823,541 672,541 596,549C519,557 473,572 412,579C351,586 274,590 228,591C182,592 156,587 136,585C115,583 119,624 105,579Z" fill="#3b528b" filter="url(#tb5)"/><g filter="url(#tb3)"><path d="M116,569C102,526 68,370 63,314C58,257 73,257 87,232C101,207 122,184 147,162C171,141 201,120 236,104C271,89 315,77 355,69C394,62 439,59 473,58C508,57 538,58 563,63C588,68 608,77 622,87C637,96 637,110 652,121C667,133 692,149 712,156C732,163 750,157 772,162C794,168 823,177 843,191C863,206 880,225 890,249C900,274 903,307 903,336C903,366 894,399 890,424C886,448 884,466 879,482C874,499 909,513 861,523C813,532 667,532 593,540C519,548 474,562 414,569C355,576 280,580 236,581C191,582 166,577 147,575C127,573 130,613 116,569Z" fill="#287d8e"/><path d="M120,358C125,308 155,297 180,273C205,249 240,228 270,214C300,202 342,177 360,195C378,213 378,276 380,325C382,374 378,446 370,488C362,529 367,558 330,572C293,586 185,608 150,572C115,536 115,407 120,358Z" fill="#25888d"/><path d="M380,260C393,236 422,219 450,214C478,210 525,221 550,234C575,247 593,264 600,292C607,321 603,374 590,403C577,432 548,459 520,468C492,477 445,473 420,455C395,437 377,390 370,358C363,325 367,284 380,260Z" fill="#287d8e"/><path d="M600,130C617,105 680,110 700,143C720,176 720,271 720,325C720,379 720,438 700,468C680,498 617,536 600,507C583,478 600,355 600,292C600,230 583,155 600,130Z" fill="#26828e"/><path d="M720,169C735,135 775,152 800,156C825,160 850,172 870,195C890,218 913,258 920,292C927,327 922,374 910,403C898,432 877,459 850,468C823,477 773,473 750,455C727,437 715,405 710,358C705,310 705,203 720,169Z" fill="#2d728e"/><path d="M50,325C47,286 57,261 70,234C83,207 105,184 130,162C155,141 183,120 220,104C257,88 308,74 350,65C392,56 433,53 470,52C507,51 545,53 570,58C595,64 610,76 620,84C630,93 633,104 630,111C627,117 622,120 600,124C578,127 533,127 500,130C467,133 437,131 400,143C363,155 313,179 280,202C247,224 220,254 200,280C180,306 165,328 160,358C155,387 172,430 170,455C168,480 163,505 150,507C137,509 107,498 90,468C73,438 53,364 50,325Z" fill="#25888d"/><path d="M200,130C207,117 263,95 300,84C337,74 380,68 420,65C460,62 508,61 540,65C572,69 603,82 610,91C617,100 602,114 580,117C558,120 517,109 480,111C443,112 397,115 360,124C323,132 287,161 260,162C233,164 193,143 200,130Z" fill="#22938b"/><path d="M200,325C212,288 245,280 270,273C295,266 327,269 350,286C373,303 387,356 410,377C433,398 463,410 490,410C517,410 552,369 570,377C588,385 607,428 600,455C593,482 563,520 530,540C497,559 443,567 400,572C357,577 303,585 270,572C237,559 212,535 200,494C188,453 188,362 200,325Z" fill="#35b779"/><path d="M528,358C540,339 585,330 600,338C615,346 619,384 616,403C613,422 594,447 580,455C566,463 539,465 530,448C521,432 516,376 528,358Z" fill="#31b27c"/><path d="M550,494L700,468L890,481L890,546L620,559L550,552Z" fill="#26828e"/></g><g fill="none" stroke="#ebe51f" stroke-width="8.0" stroke-linecap="round" stroke-linejoin="round" opacity="0.85"><path d="M745,338L735,260L755,195"/><path d="M780,325L790,247L800,182"/><path d="M800,338L840,273L850,234"/><path d="M820,364L870,338L885,312"/><path d="M810,390L860,396L890,390"/><path d="M760,403L800,442L850,455"/></g><ellipse cx="440" cy="202" rx="60" ry="32" fill="none" stroke="#c7e022" stroke-width="8" opacity="0.8"/><g fill="none" stroke="#f2e621" stroke-width="16" stroke-linecap="round" opacity="0.9"><path d="M730,403L720,325L750,260"/><path d="M770,390L780,292L790,247"/><path d="M810,403L850,325L860,286"/><path d="M820,442L880,416"/><path d="M800,481L860,494"/></g><path d="M200,358L240,273L320,208L440,162L560,143L600,136" fill="none" stroke="#21a087" stroke-width="7.2" opacity="0.55"/><rect x="0" y="0" width="1000" height="650" filter="url(#tnz)" opacity="0.28"/><rect x="0" y="0" width="1000" height="650" filter="url(#tnw)" opacity="0.16"/></g>
<g transform="translate(1481.9,507.9) scale(0.1474,0.1512)" clip-path="url(#cv0)"><path d="M0,312C2,289 14,191 22,169C30,147 71,104 85,94C99,83 136,69 160,62C184,56 287,31 320,25C353,18 457,2 486,0C515,-2 590,6 611,9C632,12 676,23 700,31C724,39 829,77 850,88C871,99 902,130 912,144C922,157 941,201 950,225C959,249 998,362 1000,387C1002,412 986,449 975,474C964,500 918,624 887,641C856,658 709,646 661,647C613,647 468,645 410,644C352,642 116,649 78,634C40,619 42,517 34,494C26,471 6,418 3,400C-0,382 -2,335 0,312Z" fill="#440154"/><path d="M82,599C66,550 29,375 24,312C18,249 34,249 50,221C65,193 88,167 115,143C142,119 174,95 212,78C250,61 298,47 342,39C385,30 433,27 471,26C509,25 541,26 568,32C595,37 617,47 634,58C650,69 649,84 666,97C682,110 709,128 731,136C753,144 772,136 796,143C820,149 852,159 874,175C895,192 915,213 926,240C936,267 939,305 939,338C939,370 930,408 926,435C921,463 918,483 913,501C908,520 945,536 893,546C841,557 683,557 601,566C520,575 472,591 407,599C342,606 261,610 212,611C163,612 136,607 115,605C93,602 97,647 82,599Z" fill="#472f7d" filter="url(#tb5)"/><path d="M105,579C90,534 55,372 50,313C45,255 60,254 74,228C89,202 110,178 136,156C162,134 192,112 228,96C264,79 309,67 350,59C391,51 437,48 473,47C508,46 539,48 565,53C590,58 611,67 626,77C642,87 641,101 657,113C672,125 698,142 718,150C739,157 757,150 780,156C802,162 833,171 853,186C874,201 892,221 902,246C912,272 915,307 915,337C915,367 906,402 902,427C898,453 895,471 890,488C885,506 921,521 872,531C823,541 672,541 596,549C519,557 473,572 412,579C351,586 274,590 228,591C182,592 156,587 136,585C115,583 119,624 105,579Z" fill="#3b528b" filter="url(#tb5)"/><g filter="url(#tb3)"><path d="M116,569C102,526 68,370 63,314C58,257 73,257 87,232C101,207 122,184 147,162C171,141 201,120 236,104C271,89 315,77 355,69C394,62 439,59 473,58C508,57 538,58 563,63C588,68 608,77 622,87C637,96 637,110 652,121C667,133 692,149 712,156C732,163 750,157 772,162C794,168 823,177 843,191C863,206 880,225 890,249C900,274 903,307 903,336C903,366 894,399 890,424C886,448 884,466 879,482C874,499 909,513 861,523C813,532 667,532 593,540C519,548 474,562 414,569C355,576 280,580 236,581C191,582 166,577 147,575C127,573 130,613 116,569Z" fill="#287d8e"/><path d="M120,358C125,308 155,297 180,273C205,249 240,228 270,214C300,202 342,177 360,195C378,213 378,276 380,325C382,374 378,446 370,488C362,529 367,558 330,572C293,586 185,608 150,572C115,536 115,407 120,358Z" fill="#25888d"/><path d="M380,260C393,236 422,219 450,214C478,210 525,221 550,234C575,247 593,264 600,292C607,321 603,374 590,403C577,432 548,459 520,468C492,477 445,473 420,455C395,437 377,390 370,358C363,325 367,284 380,260Z" fill="#287d8e"/><path d="M600,130C617,105 680,110 700,143C720,176 720,271 720,325C720,379 720,438 700,468C680,498 617,536 600,507C583,478 600,355 600,292C600,230 583,155 600,130Z" fill="#26828e"/><path d="M720,169C735,135 775,152 800,156C825,160 850,172 870,195C890,218 913,258 920,292C927,327 922,374 910,403C898,432 877,459 850,468C823,477 773,473 750,455C727,437 715,405 710,358C705,310 705,203 720,169Z" fill="#2d728e"/><path d="M50,325C47,286 57,261 70,234C83,207 105,184 130,162C155,141 183,120 220,104C257,88 308,74 350,65C392,56 433,53 470,52C507,51 545,53 570,58C595,64 610,76 620,84C630,93 633,104 630,111C627,117 622,120 600,124C578,127 533,127 500,130C467,133 437,131 400,143C363,155 313,179 280,202C247,224 220,254 200,280C180,306 165,328 160,358C155,387 172,430 170,455C168,480 163,505 150,507C137,509 107,498 90,468C73,438 53,364 50,325Z" fill="#25888d"/><path d="M200,130C207,117 263,95 300,84C337,74 380,68 420,65C460,62 508,61 540,65C572,69 603,82 610,91C617,100 602,114 580,117C558,120 517,109 480,111C443,112 397,115 360,124C323,132 287,161 260,162C233,164 193,143 200,130Z" fill="#22938b"/><path d="M200,325C212,288 245,280 270,273C295,266 327,269 350,286C373,303 387,356 410,377C433,398 463,410 490,410C517,410 552,369 570,377C588,385 607,428 600,455C593,482 563,520 530,540C497,559 443,567 400,572C357,577 303,585 270,572C237,559 212,535 200,494C188,453 188,362 200,325Z" fill="#35b779"/><path d="M528,358C540,339 585,330 600,338C615,346 619,384 616,403C613,422 594,447 580,455C566,463 539,465 530,448C521,432 516,376 528,358Z" fill="#31b27c"/><path d="M550,494L700,468L890,481L890,546L620,559L550,552Z" fill="#26828e"/></g><g fill="none" stroke="#ebe51f" stroke-width="8.0" stroke-linecap="round" stroke-linejoin="round" opacity="0.85"><path d="M745,338L735,260L755,195"/><path d="M780,325L790,247L800,182"/><path d="M800,338L840,273L850,234"/><path d="M820,364L870,338L885,312"/><path d="M810,390L860,396L890,390"/><path d="M760,403L800,442L850,455"/></g><ellipse cx="440" cy="202" rx="60" ry="32" fill="none" stroke="#c7e022" stroke-width="8" opacity="0.8"/><g fill="none" stroke="#f2e621" stroke-width="16" stroke-linecap="round" opacity="0.9"><path d="M730,403L720,325L750,260"/><path d="M770,390L780,292L790,247"/><path d="M810,403L850,325L860,286"/><path d="M820,442L880,416"/><path d="M800,481L860,494"/></g><path d="M200,358L240,273L320,208L440,162L560,143L600,136" fill="none" stroke="#21a087" stroke-width="7.2" opacity="0.55"/><rect x="0" y="0" width="1000" height="650" filter="url(#tnz)" opacity="0.28"/><rect x="0" y="0" width="1000" height="650" filter="url(#tnw)" opacity="0.16"/></g>
<g stroke="#e6e6e6" stroke-width="1.3"><line x1="104" y1="325.8" x2="166" y2="325.8"/><line x1="104" y1="323.6" x2="104" y2="328.0"/><line x1="166" y1="323.6" x2="166" y2="328.0"/></g>
<g stroke="#e6e6e6" stroke-width="1.3"><line x1="104" y1="619" x2="166.5" y2="619"/><line x1="104" y1="616.8" x2="104" y2="621.2"/><line x1="166.5" y1="616.8" x2="166.5" y2="621.2"/></g>
<g stroke="#e6e6e6" stroke-width="1.3"><line x1="977.6" y1="327" x2="1040.6" y2="327"/><line x1="977.6" y1="324.8" x2="977.6" y2="329.2"/><line x1="1040.6" y1="324.8" x2="1040.6" y2="329.2"/></g>
<g stroke="#e6e6e6" stroke-width="1.3"><line x1="977.6" y1="622" x2="1040.6" y2="622"/><line x1="977.6" y1="619.8" x2="977.6" y2="624.2"/><line x1="1040.6" y1="619.8" x2="1040.6" y2="624.2"/></g>
<linearGradient id="cbg776189" x1="0" y1="1" x2="0" y2="0"><stop offset="0.00" stop-color="#440154"/><stop offset="0.20" stop-color="#3e4a89"/><stop offset="0.40" stop-color="#26828e"/><stop offset="0.60" stop-color="#35b779"/><stop offset="0.80" stop-color="#b5de2b"/><stop offset="1.00" stop-color="#fde725"/></linearGradient>
<path d="M776.5,261.5 L776.5,198.8 L782.0,189.4 L787.5,198.8 L787.5,261.5Z" fill="url(#cbg776189)"/>
<path d="M788.7,200.3 L799.5,194.6 L799.5,206.0Z" fill="#9a9a9a"/>
<path d="M788.7,261.5 L799.5,255.8 L799.5,267.2Z" fill="#9a9a9a"/>
<text transform="translate(786.0,185.4) rotate(-90) scale(0.830,1)" font-size="11.5" fill="#f2f2f2">170%</text>
<text transform="translate(808.7,211.3) rotate(-90) scale(0.809,1)" font-size="11.5" fill="#f2f2f2">100%</text>
<text transform="translate(808.7,268.9) rotate(-90) scale(0.890,1)" font-size="11.5" fill="#f2f2f2">0%</text>
<linearGradient id="cbg776483" x1="0" y1="1" x2="0" y2="0"><stop offset="0.00" stop-color="#440154"/><stop offset="0.20" stop-color="#3e4a89"/><stop offset="0.40" stop-color="#26828e"/><stop offset="0.60" stop-color="#35b779"/><stop offset="0.80" stop-color="#b5de2b"/><stop offset="1.00" stop-color="#fde725"/></linearGradient>
<path d="M776.8,555.1 L776.8,492.4 L782.3,483.0 L787.8,492.4 L787.8,555.1Z" fill="url(#cbg776483)"/>
<path d="M789.0,493.9 L799.8,488.2 L799.8,499.6Z" fill="#9a9a9a"/>
<path d="M789.0,555.1 L799.8,549.4 L799.8,560.8Z" fill="#9a9a9a"/>
<text transform="translate(786.3,479.0) rotate(-90) scale(0.830,1)" font-size="11.5" fill="#f2f2f2">156%</text>
<text transform="translate(809.0,504.9) rotate(-90) scale(0.809,1)" font-size="11.5" fill="#f2f2f2">100%</text>
<text transform="translate(809.0,562.5) rotate(-90) scale(0.890,1)" font-size="11.5" fill="#f2f2f2">0%</text>
<linearGradient id="cbg1652188" x1="0" y1="1" x2="0" y2="0"><stop offset="0.00" stop-color="#440154"/><stop offset="0.20" stop-color="#3e4a89"/><stop offset="0.40" stop-color="#26828e"/><stop offset="0.60" stop-color="#35b779"/><stop offset="0.80" stop-color="#b5de2b"/><stop offset="1.00" stop-color="#fde725"/></linearGradient>
<path d="M1652.5,261.6 L1652.5,197.9 L1658.0,188.5 L1663.5,197.9 L1663.5,261.6Z" fill="url(#cbg1652188)"/>
<path d="M1664.7,199.4 L1675.5,193.7 L1675.5,205.1Z" fill="#9a9a9a"/>
<path d="M1664.7,261.6 L1675.5,255.9 L1675.5,267.3Z" fill="#9a9a9a"/>
<text transform="translate(1662.0,184.5) rotate(-90) scale(0.830,1)" font-size="11.5" fill="#f2f2f2">145%</text>
<text transform="translate(1684.7,210.4) rotate(-90) scale(0.809,1)" font-size="11.5" fill="#f2f2f2">100%</text>
<text transform="translate(1684.7,269.0) rotate(-90) scale(0.890,1)" font-size="11.5" fill="#f2f2f2">0%</text>
<linearGradient id="cbg1651485" x1="0" y1="1" x2="0" y2="0"><stop offset="0.00" stop-color="#440154"/><stop offset="0.20" stop-color="#3e4a89"/><stop offset="0.40" stop-color="#26828e"/><stop offset="0.60" stop-color="#35b779"/><stop offset="0.80" stop-color="#b5de2b"/><stop offset="1.00" stop-color="#fde725"/></linearGradient>
<path d="M1651.0,557.0 L1651.0,494.7 L1656.5,485.3 L1662.0,494.7 L1662.0,557.0Z" fill="url(#cbg1651485)"/>
<path d="M1663.2,496.2 L1674.0,490.5 L1674.0,501.9Z" fill="#9a9a9a"/>
<path d="M1663.2,557.0 L1674.0,551.3 L1674.0,562.7Z" fill="#9a9a9a"/>
<text transform="translate(1660.5,481.3) rotate(-90) scale(0.830,1)" font-size="11.5" fill="#f2f2f2">140%</text>
<text transform="translate(1683.2,507.2) rotate(-90) scale(0.809,1)" font-size="11.5" fill="#f2f2f2">100%</text>
<text transform="translate(1683.2,564.4) rotate(-90) scale(0.890,1)" font-size="11.5" fill="#f2f2f2">0%</text>
<line x1="193.0" y1="495.2" x2="162.2" y2="442.7" stroke="#fff" stroke-width="3.2"/><path d="M155.6,431.5 L167.8,439.4 L156.6,446.0Z" fill="#fff"/>
<line x1="193.0" y1="612.3" x2="162.1" y2="558.6" stroke="#fff" stroke-width="3.2"/><path d="M155.6,547.3 L167.7,555.3 L156.4,561.8Z" fill="#fff"/>
<line x1="1053.9" y1="501.2" x2="1022.2" y2="447.9" stroke="#e5007d" stroke-width="3.2"/><path d="M1015.6,436.7 L1027.8,444.6 L1016.6,451.2Z" fill="#e5007d"/>
<line x1="1057.2" y1="614.9" x2="1025.4" y2="561.8" stroke="#e5007d" stroke-width="3.2"/><path d="M1018.7,550.7 L1031.0,558.5 L1019.8,565.2Z" fill="#e5007d"/>
<text transform="translate(0.3,709.0)" font-size="34" font-weight="bold">c</text>
<text transform="translate(870.0,708.5)" font-size="34" font-weight="bold">d</text>
<text transform="translate(118.5,867.0) rotate(-90) scale(1.109,1)" font-size="21.5" text-anchor="middle" font-weight="bold">Hippocampus</text>
<text transform="translate(147.2,867.0) rotate(-90) scale(1.129,1)" font-size="21.5" text-anchor="middle">Ave. Intensity</text>
<text transform="translate(988.4,867.0) rotate(-90) scale(1.109,1)" font-size="21.5" text-anchor="middle" font-weight="bold">Hippocampus</text>
<text transform="translate(1018.3,867.0) rotate(-90) scale(1.129,1)" font-size="21.5" text-anchor="middle">Ave. Intensity</text>
<text transform="translate(304.0,729.0)" font-size="24" text-anchor="middle" font-weight="bold">PC 30:0</text>
<line x1="220.6" y1="754.0" x2="379.5" y2="754.0" stroke="#cfcfcf" stroke-width="1.1"/>
<text transform="translate(216.0,759.6)" font-size="16" text-anchor="end">10000</text>
<line x1="220.6" y1="781.3" x2="379.5" y2="781.3" stroke="#cfcfcf" stroke-width="1.1"/>
<text transform="translate(216.0,786.9)" font-size="16" text-anchor="end">9000</text>
<line x1="220.6" y1="808.6" x2="379.5" y2="808.6" stroke="#cfcfcf" stroke-width="1.1"/>
<text transform="translate(216.0,814.2)" font-size="16" text-anchor="end">8000</text>
<line x1="220.6" y1="836.4" x2="379.5" y2="836.4" stroke="#cfcfcf" stroke-width="1.1"/>
<text transform="translate(216.0,842.0)" font-size="16" text-anchor="end">7000</text>
<line x1="220.6" y1="864.2" x2="379.5" y2="864.2" stroke="#cfcfcf" stroke-width="1.1"/>
<text transform="translate(216.0,869.8)" font-size="16" text-anchor="end">6000</text>
<line x1="220.6" y1="891.0" x2="379.5" y2="891.0" stroke="#cfcfcf" stroke-width="1.1"/>
<text transform="translate(216.0,896.6)" font-size="16" text-anchor="end">5000</text>
<line x1="220.6" y1="918.9" x2="379.5" y2="918.9" stroke="#cfcfcf" stroke-width="1.1"/>
<text transform="translate(216.0,924.5)" font-size="16" text-anchor="end">4000</text>
<line x1="220.6" y1="946.2" x2="379.5" y2="946.2" stroke="#cfcfcf" stroke-width="1.1"/>
<text transform="translate(216.0,951.8)" font-size="16" text-anchor="end">3000</text>
<line x1="220.6" y1="973.5" x2="379.5" y2="973.5" stroke="#cfcfcf" stroke-width="1.1"/>
<text transform="translate(216.0,979.1)" font-size="16" text-anchor="end">2000</text>
<g stroke="#222" fill="none"><line x1="235.9" y1="846.4" x2="235.9" y2="892.3" stroke-width="0.9" stroke-dasharray="2.2,1.3"/><line x1="235.9" y1="924.3" x2="235.9" y2="991.4" stroke-width="0.9" stroke-dasharray="2.2,1.3"/><line x1="230.9" y1="846.4" x2="240.9" y2="846.4" stroke-width="1"/><line x1="230.9" y1="991.4" x2="240.9" y2="991.4" stroke-width="1"/><rect x="225.3" y="892.3" width="21.1" height="32.0" fill="#fff" stroke-width="1"/><line x1="225.3" y1="910.4" x2="246.4" y2="910.4" stroke-width="1.1"/></g>
<linearGradient id="sg254" x1="0" y1="0" x2="0" y2="1"><stop offset="0.000" stop-color="#1e90ff" stop-opacity="0.3"/><stop offset="0.054" stop-color="#1e90ff" stop-opacity="0.6"/><stop offset="0.141" stop-color="#1e90ff" stop-opacity="0.85"/><stop offset="0.678" stop-color="#1e90ff" stop-opacity="0.85"/><stop offset="0.745" stop-color="#1e90ff" stop-opacity="0.45"/><stop offset="0.879" stop-color="#1e90ff" stop-opacity="0.22"/><stop offset="1.000" stop-color="#1e90ff" stop-opacity="0.08"/></linearGradient>
<rect x="255.6" y="844.0" width="27.8" height="149.0" fill="url(#sg254)"/>
<g fill="#1e90ff" fill-opacity="0.3"><circle cx="260.1" cy="892.3" r="1.9"/><circle cx="258.0" cy="941.0" r="1.9"/><circle cx="265.9" cy="923.8" r="1.9"/><circle cx="269.7" cy="852.6" r="1.9"/><circle cx="267.7" cy="849.6" r="1.9"/><circle cx="258.5" cy="854.4" r="1.9"/><circle cx="278.3" cy="907.3" r="1.9"/><circle cx="262.1" cy="862.4" r="1.9"/><circle cx="281.5" cy="937.5" r="1.9"/><circle cx="266.7" cy="930.0" r="1.9"/><circle cx="257.3" cy="989.5" r="1.9"/><circle cx="263.9" cy="971.9" r="1.9"/><circle cx="259.3" cy="865.5" r="1.9"/><circle cx="278.0" cy="890.0" r="1.9"/><circle cx="271.7" cy="870.9" r="1.9"/><circle cx="266.1" cy="939.2" r="1.9"/><circle cx="257.8" cy="925.6" r="1.9"/><circle cx="261.6" cy="852.9" r="1.9"/><circle cx="267.6" cy="945.4" r="1.9"/><circle cx="271.8" cy="890.8" r="1.9"/><circle cx="264.1" cy="911.5" r="1.9"/><circle cx="274.8" cy="962.4" r="1.9"/><circle cx="271.5" cy="880.4" r="1.9"/><circle cx="279.6" cy="922.3" r="1.9"/><circle cx="263.8" cy="952.7" r="1.9"/><circle cx="259.3" cy="990.0" r="1.9"/><circle cx="276.4" cy="906.3" r="1.9"/><circle cx="269.2" cy="866.6" r="1.9"/><circle cx="274.0" cy="849.8" r="1.9"/><circle cx="271.5" cy="957.9" r="1.9"/><circle cx="264.5" cy="974.4" r="1.9"/><circle cx="272.0" cy="947.6" r="1.9"/><circle cx="268.3" cy="930.4" r="1.9"/><circle cx="281.4" cy="969.2" r="1.9"/><circle cx="273.9" cy="914.6" r="1.9"/><circle cx="274.9" cy="853.0" r="1.9"/><circle cx="282.7" cy="940.4" r="1.9"/><circle cx="263.7" cy="966.5" r="1.9"/><circle cx="274.0" cy="901.5" r="1.9"/><circle cx="268.5" cy="847.4" r="1.9"/><circle cx="259.2" cy="869.0" r="1.9"/><circle cx="276.7" cy="852.8" r="1.9"/><circle cx="262.7" cy="863.3" r="1.9"/><circle cx="279.5" cy="902.3" r="1.9"/><circle cx="268.1" cy="856.0" r="1.9"/><circle cx="279.8" cy="925.9" r="1.9"/><circle cx="279.3" cy="966.1" r="1.9"/><circle cx="267.2" cy="885.5" r="1.9"/><circle cx="279.8" cy="897.5" r="1.9"/><circle cx="260.1" cy="986.7" r="1.9"/><circle cx="262.3" cy="870.3" r="1.9"/><circle cx="269.1" cy="878.8" r="1.9"/><circle cx="263.1" cy="931.8" r="1.9"/><circle cx="267.3" cy="844.6" r="1.9"/><circle cx="271.3" cy="899.0" r="1.9"/><circle cx="274.6" cy="986.0" r="1.9"/><circle cx="272.7" cy="920.8" r="1.9"/><circle cx="257.5" cy="944.8" r="1.9"/><circle cx="277.0" cy="978.0" r="1.9"/><circle cx="277.5" cy="974.3" r="1.9"/><circle cx="266.8" cy="902.5" r="1.9"/><circle cx="273.1" cy="859.4" r="1.9"/><circle cx="257.9" cy="853.3" r="1.9"/><circle cx="260.4" cy="875.1" r="1.9"/><circle cx="257.5" cy="894.7" r="1.9"/><circle cx="260.2" cy="844.0" r="1.9"/><circle cx="265.8" cy="859.1" r="1.9"/><circle cx="279.5" cy="847.8" r="1.9"/><circle cx="260.1" cy="935.5" r="1.9"/><circle cx="265.4" cy="881.6" r="1.9"/><circle cx="259.4" cy="898.3" r="1.9"/><circle cx="282.7" cy="970.5" r="1.9"/><circle cx="269.1" cy="913.4" r="1.9"/><circle cx="258.8" cy="856.8" r="1.9"/><circle cx="263.2" cy="895.1" r="1.9"/><circle cx="260.4" cy="967.5" r="1.9"/><circle cx="281.6" cy="847.4" r="1.9"/><circle cx="260.0" cy="922.7" r="1.9"/><circle cx="256.8" cy="924.9" r="1.9"/><circle cx="282.3" cy="922.7" r="1.9"/><circle cx="274.8" cy="972.6" r="1.9"/><circle cx="265.9" cy="882.9" r="1.9"/><circle cx="276.8" cy="868.9" r="1.9"/><circle cx="277.0" cy="923.4" r="1.9"/><circle cx="262.1" cy="893.1" r="1.9"/><circle cx="282.5" cy="964.9" r="1.9"/><circle cx="277.7" cy="971.0" r="1.9"/><circle cx="275.9" cy="965.9" r="1.9"/><circle cx="270.0" cy="877.8" r="1.9"/><circle cx="256.9" cy="897.0" r="1.9"/><circle cx="263.6" cy="848.2" r="1.9"/><circle cx="274.7" cy="882.6" r="1.9"/><circle cx="268.1" cy="986.5" r="1.9"/><circle cx="282.6" cy="983.6" r="1.9"/><circle cx="265.9" cy="986.3" r="1.9"/><circle cx="262.2" cy="876.8" r="1.9"/><circle cx="261.6" cy="873.3" r="1.9"/><circle cx="280.2" cy="937.0" r="1.9"/><circle cx="268.9" cy="969.2" r="1.9"/><circle cx="277.5" cy="941.3" r="1.9"/><circle cx="273.8" cy="856.6" r="1.9"/><circle cx="277.1" cy="979.6" r="1.9"/><circle cx="268.9" cy="955.8" r="1.9"/><circle cx="277.2" cy="870.6" r="1.9"/><circle cx="277.6" cy="893.5" r="1.9"/><circle cx="266.7" cy="988.8" r="1.9"/><circle cx="281.5" cy="903.8" r="1.9"/><circle cx="260.7" cy="952.0" r="1.9"/><circle cx="260.2" cy="862.9" r="1.9"/><circle cx="277.7" cy="978.8" r="1.9"/></g>
<g fill="#ffffff" fill-opacity="0.18"><circle cx="278.3" cy="865.8" r="1.6"/><circle cx="273.7" cy="990.1" r="1.6"/><circle cx="270.8" cy="896.2" r="1.6"/><circle cx="256.5" cy="863.5" r="1.6"/><circle cx="273.5" cy="988.7" r="1.6"/><circle cx="281.1" cy="922.5" r="1.6"/><circle cx="279.5" cy="908.6" r="1.6"/><circle cx="261.8" cy="967.1" r="1.6"/><circle cx="264.0" cy="881.5" r="1.6"/><circle cx="271.8" cy="879.8" r="1.6"/><circle cx="267.3" cy="882.6" r="1.6"/><circle cx="280.5" cy="863.5" r="1.6"/><circle cx="268.4" cy="896.7" r="1.6"/><circle cx="280.3" cy="930.9" r="1.6"/><circle cx="280.7" cy="906.7" r="1.6"/><circle cx="270.4" cy="918.7" r="1.6"/><circle cx="256.6" cy="922.0" r="1.6"/><circle cx="261.0" cy="909.6" r="1.6"/><circle cx="277.5" cy="844.6" r="1.6"/><circle cx="268.8" cy="869.7" r="1.6"/><circle cx="271.0" cy="952.1" r="1.6"/><circle cx="270.0" cy="892.6" r="1.6"/><circle cx="277.1" cy="926.8" r="1.6"/><circle cx="271.1" cy="859.8" r="1.6"/><circle cx="263.5" cy="881.0" r="1.6"/><circle cx="269.7" cy="959.1" r="1.6"/><circle cx="276.5" cy="927.7" r="1.6"/><circle cx="268.0" cy="980.0" r="1.6"/><circle cx="269.6" cy="935.3" r="1.6"/><circle cx="274.7" cy="920.3" r="1.6"/><circle cx="270.4" cy="911.4" r="1.6"/><circle cx="281.3" cy="915.2" r="1.6"/><circle cx="279.6" cy="948.2" r="1.6"/><circle cx="263.1" cy="984.4" r="1.6"/><circle cx="281.4" cy="927.4" r="1.6"/><circle cx="259.8" cy="969.2" r="1.6"/><circle cx="267.9" cy="862.1" r="1.6"/><circle cx="262.5" cy="854.8" r="1.6"/><circle cx="274.0" cy="854.9" r="1.6"/><circle cx="280.1" cy="960.8" r="1.6"/><circle cx="275.3" cy="867.0" r="1.6"/><circle cx="259.9" cy="942.4" r="1.6"/><circle cx="282.0" cy="975.5" r="1.6"/><circle cx="281.6" cy="876.7" r="1.6"/><circle cx="269.2" cy="903.3" r="1.6"/><circle cx="278.4" cy="991.5" r="1.6"/><circle cx="267.7" cy="868.1" r="1.6"/><circle cx="265.2" cy="920.8" r="1.6"/><circle cx="264.6" cy="873.2" r="1.6"/><circle cx="256.6" cy="951.6" r="1.6"/><circle cx="267.9" cy="926.6" r="1.6"/><circle cx="265.0" cy="846.7" r="1.6"/><circle cx="269.8" cy="937.0" r="1.6"/><circle cx="282.5" cy="853.6" r="1.6"/><circle cx="282.1" cy="961.5" r="1.6"/></g>
<g fill="#e46a6a" fill-opacity="0.55"><circle cx="263.2" cy="827.1" r="2.1"/><circle cx="277.0" cy="824.0" r="2.1"/><circle cx="259.6" cy="832.0" r="2.1"/><circle cx="280.5" cy="835.2" r="2.1"/><circle cx="263.0" cy="841.6" r="2.1"/><circle cx="280.7" cy="828.7" r="2.1"/><circle cx="274.9" cy="837.9" r="2.1"/><circle cx="257.6" cy="826.5" r="2.1"/><circle cx="267.5" cy="839.7" r="2.1"/><circle cx="281.2" cy="825.7" r="2.1"/><circle cx="277.6" cy="838.9" r="2.1"/><circle cx="279.0" cy="826.2" r="2.1"/><circle cx="279.2" cy="825.5" r="2.1"/><circle cx="265.2" cy="835.8" r="2.1"/><circle cx="280.9" cy="837.6" r="2.1"/><circle cx="259.6" cy="831.9" r="2.1"/><circle cx="262.5" cy="837.1" r="2.1"/><circle cx="260.4" cy="827.3" r="2.1"/><circle cx="273.0" cy="784.0" r="2.1"/></g>
<g stroke="#222" fill="none"><line x1="325.1" y1="807.4" x2="325.1" y2="856.3" stroke-width="0.9" stroke-dasharray="2.2,1.3"/><line x1="325.1" y1="894.0" x2="325.1" y2="972.5" stroke-width="0.9" stroke-dasharray="2.2,1.3"/><line x1="320.1" y1="807.4" x2="330.1" y2="807.4" stroke-width="1"/><line x1="320.1" y1="972.5" x2="330.1" y2="972.5" stroke-width="1"/><rect x="314.5" y="856.3" width="21.3" height="37.7" fill="#fff" stroke-width="1"/><line x1="314.5" y1="877.4" x2="335.8" y2="877.4" stroke-width="1.1"/></g>
<linearGradient id="sg344" x1="0" y1="0" x2="0" y2="1"><stop offset="0.000" stop-color="#1e90ff" stop-opacity="0.35"/><stop offset="0.060" stop-color="#1e90ff" stop-opacity="0.65"/><stop offset="0.268" stop-color="#1e90ff" stop-opacity="0.85"/><stop offset="0.714" stop-color="#1e90ff" stop-opacity="0.85"/><stop offset="0.804" stop-color="#1e90ff" stop-opacity="0.4"/><stop offset="0.923" stop-color="#1e90ff" stop-opacity="0.22"/><stop offset="1.000" stop-color="#1e90ff" stop-opacity="0.08"/></linearGradient>
<rect x="345.0" y="805.0" width="27.8" height="168.0" fill="url(#sg344)"/>
<g fill="#1e90ff" fill-opacity="0.3"><circle cx="350.9" cy="813.5" r="1.9"/><circle cx="353.7" cy="857.4" r="1.9"/><circle cx="353.3" cy="932.6" r="1.9"/><circle cx="350.3" cy="889.0" r="1.9"/><circle cx="346.0" cy="863.3" r="1.9"/><circle cx="345.9" cy="847.1" r="1.9"/><circle cx="360.3" cy="928.2" r="1.9"/><circle cx="358.2" cy="836.8" r="1.9"/><circle cx="348.3" cy="962.0" r="1.9"/><circle cx="357.1" cy="942.6" r="1.9"/><circle cx="367.9" cy="888.2" r="1.9"/><circle cx="359.1" cy="871.0" r="1.9"/><circle cx="371.8" cy="920.5" r="1.9"/><circle cx="367.8" cy="862.6" r="1.9"/><circle cx="362.5" cy="923.7" r="1.9"/><circle cx="354.8" cy="873.0" r="1.9"/><circle cx="349.0" cy="814.1" r="1.9"/><circle cx="365.4" cy="816.9" r="1.9"/><circle cx="349.9" cy="847.9" r="1.9"/><circle cx="368.0" cy="819.2" r="1.9"/><circle cx="363.5" cy="951.3" r="1.9"/><circle cx="352.0" cy="852.4" r="1.9"/><circle cx="357.8" cy="854.2" r="1.9"/><circle cx="357.4" cy="831.5" r="1.9"/><circle cx="371.3" cy="849.2" r="1.9"/><circle cx="360.2" cy="968.4" r="1.9"/><circle cx="371.4" cy="846.1" r="1.9"/><circle cx="355.1" cy="857.0" r="1.9"/><circle cx="355.7" cy="805.2" r="1.9"/><circle cx="359.0" cy="884.7" r="1.9"/><circle cx="359.0" cy="838.8" r="1.9"/><circle cx="352.6" cy="805.8" r="1.9"/><circle cx="356.2" cy="820.1" r="1.9"/><circle cx="346.1" cy="812.0" r="1.9"/><circle cx="351.7" cy="856.1" r="1.9"/><circle cx="359.7" cy="903.4" r="1.9"/><circle cx="363.1" cy="931.1" r="1.9"/><circle cx="369.1" cy="925.3" r="1.9"/><circle cx="354.2" cy="870.4" r="1.9"/><circle cx="349.5" cy="970.4" r="1.9"/><circle cx="362.7" cy="926.7" r="1.9"/><circle cx="367.9" cy="812.4" r="1.9"/><circle cx="362.3" cy="954.8" r="1.9"/><circle cx="367.3" cy="928.3" r="1.9"/><circle cx="359.5" cy="828.4" r="1.9"/><circle cx="367.9" cy="889.7" r="1.9"/><circle cx="367.6" cy="940.2" r="1.9"/><circle cx="369.4" cy="903.1" r="1.9"/><circle cx="364.1" cy="919.7" r="1.9"/><circle cx="346.3" cy="843.6" r="1.9"/><circle cx="355.2" cy="827.4" r="1.9"/><circle cx="367.9" cy="822.6" r="1.9"/><circle cx="362.3" cy="898.8" r="1.9"/><circle cx="363.7" cy="910.2" r="1.9"/><circle cx="345.6" cy="887.2" r="1.9"/><circle cx="365.6" cy="939.0" r="1.9"/><circle cx="359.8" cy="889.5" r="1.9"/><circle cx="347.3" cy="915.8" r="1.9"/><circle cx="352.3" cy="928.8" r="1.9"/><circle cx="352.6" cy="817.5" r="1.9"/><circle cx="351.0" cy="927.5" r="1.9"/><circle cx="371.6" cy="929.3" r="1.9"/><circle cx="355.8" cy="888.0" r="1.9"/><circle cx="363.8" cy="885.5" r="1.9"/><circle cx="362.0" cy="933.9" r="1.9"/><circle cx="347.6" cy="913.0" r="1.9"/><circle cx="352.3" cy="829.8" r="1.9"/><circle cx="353.7" cy="929.9" r="1.9"/><circle cx="345.8" cy="900.4" r="1.9"/><circle cx="352.7" cy="815.2" r="1.9"/><circle cx="364.1" cy="917.9" r="1.9"/><circle cx="353.3" cy="918.5" r="1.9"/><circle cx="358.0" cy="891.8" r="1.9"/><circle cx="348.7" cy="883.3" r="1.9"/><circle cx="350.8" cy="955.1" r="1.9"/><circle cx="370.6" cy="969.3" r="1.9"/><circle cx="357.8" cy="807.9" r="1.9"/><circle cx="371.4" cy="942.7" r="1.9"/><circle cx="352.7" cy="880.5" r="1.9"/><circle cx="370.8" cy="840.3" r="1.9"/><circle cx="361.1" cy="840.4" r="1.9"/><circle cx="359.5" cy="828.8" r="1.9"/><circle cx="349.1" cy="965.1" r="1.9"/><circle cx="359.1" cy="942.8" r="1.9"/><circle cx="364.3" cy="954.0" r="1.9"/><circle cx="369.6" cy="843.9" r="1.9"/><circle cx="346.2" cy="886.7" r="1.9"/><circle cx="358.7" cy="805.6" r="1.9"/><circle cx="353.6" cy="880.7" r="1.9"/><circle cx="354.7" cy="828.6" r="1.9"/><circle cx="368.0" cy="858.1" r="1.9"/><circle cx="365.6" cy="805.3" r="1.9"/><circle cx="348.7" cy="946.0" r="1.9"/><circle cx="364.6" cy="960.6" r="1.9"/><circle cx="353.3" cy="956.5" r="1.9"/><circle cx="356.0" cy="867.5" r="1.9"/><circle cx="361.3" cy="972.8" r="1.9"/><circle cx="357.0" cy="865.6" r="1.9"/><circle cx="346.8" cy="851.2" r="1.9"/><circle cx="367.9" cy="822.1" r="1.9"/><circle cx="370.6" cy="853.0" r="1.9"/><circle cx="352.6" cy="846.9" r="1.9"/><circle cx="350.6" cy="890.8" r="1.9"/><circle cx="371.1" cy="867.7" r="1.9"/><circle cx="367.3" cy="953.6" r="1.9"/><circle cx="370.0" cy="911.0" r="1.9"/><circle cx="360.2" cy="963.0" r="1.9"/><circle cx="346.8" cy="925.9" r="1.9"/><circle cx="357.6" cy="928.0" r="1.9"/><circle cx="362.8" cy="931.4" r="1.9"/></g>
<g fill="#ffffff" fill-opacity="0.18"><circle cx="346.8" cy="853.1" r="1.6"/><circle cx="348.9" cy="960.7" r="1.6"/><circle cx="354.7" cy="884.3" r="1.6"/><circle cx="365.3" cy="855.0" r="1.6"/><circle cx="352.5" cy="969.0" r="1.6"/><circle cx="353.6" cy="915.2" r="1.6"/><circle cx="356.1" cy="898.6" r="1.6"/><circle cx="349.8" cy="833.1" r="1.6"/><circle cx="369.8" cy="839.9" r="1.6"/><circle cx="351.4" cy="888.5" r="1.6"/><circle cx="372.2" cy="957.3" r="1.6"/><circle cx="349.2" cy="880.6" r="1.6"/><circle cx="347.9" cy="837.3" r="1.6"/><circle cx="347.9" cy="862.4" r="1.6"/><circle cx="352.4" cy="845.2" r="1.6"/><circle cx="369.3" cy="900.7" r="1.6"/><circle cx="356.6" cy="930.9" r="1.6"/><circle cx="359.5" cy="874.5" r="1.6"/><circle cx="354.6" cy="868.3" r="1.6"/><circle cx="352.9" cy="815.4" r="1.6"/><circle cx="348.9" cy="967.6" r="1.6"/><circle cx="362.4" cy="889.6" r="1.6"/><circle cx="351.3" cy="950.0" r="1.6"/><circle cx="352.2" cy="850.5" r="1.6"/><circle cx="357.4" cy="872.2" r="1.6"/><circle cx="368.2" cy="965.3" r="1.6"/><circle cx="346.1" cy="951.6" r="1.6"/><circle cx="364.5" cy="810.4" r="1.6"/><circle cx="358.2" cy="955.5" r="1.6"/><circle cx="345.5" cy="903.6" r="1.6"/><circle cx="370.3" cy="870.8" r="1.6"/><circle cx="368.4" cy="943.7" r="1.6"/><circle cx="352.2" cy="968.3" r="1.6"/><circle cx="349.6" cy="823.3" r="1.6"/><circle cx="363.8" cy="892.8" r="1.6"/><circle cx="364.8" cy="963.2" r="1.6"/><circle cx="366.0" cy="913.8" r="1.6"/><circle cx="360.3" cy="881.8" r="1.6"/><circle cx="366.5" cy="811.6" r="1.6"/><circle cx="370.2" cy="844.1" r="1.6"/><circle cx="353.6" cy="913.4" r="1.6"/><circle cx="352.2" cy="826.5" r="1.6"/><circle cx="364.2" cy="911.9" r="1.6"/><circle cx="347.4" cy="823.8" r="1.6"/><circle cx="361.1" cy="893.1" r="1.6"/><circle cx="351.5" cy="870.2" r="1.6"/><circle cx="345.8" cy="906.0" r="1.6"/><circle cx="357.8" cy="855.7" r="1.6"/><circle cx="362.8" cy="966.1" r="1.6"/><circle cx="358.2" cy="953.5" r="1.6"/><circle cx="352.1" cy="844.4" r="1.6"/><circle cx="364.4" cy="966.4" r="1.6"/><circle cx="346.1" cy="856.6" r="1.6"/><circle cx="363.6" cy="888.7" r="1.6"/><circle cx="352.4" cy="875.6" r="1.6"/></g>
<g fill="#e46a6a" fill-opacity="0.55"><circle cx="370.3" cy="802.1" r="2.1"/><circle cx="346.4" cy="796.6" r="2.1"/><circle cx="356.8" cy="798.3" r="2.1"/><circle cx="350.8" cy="802.2" r="2.1"/><circle cx="365.3" cy="803.3" r="2.1"/><circle cx="351.0" cy="800.4" r="2.1"/><circle cx="353.9" cy="804.8" r="2.1"/><circle cx="351.7" cy="803.5" r="2.1"/><circle cx="365.9" cy="796.5" r="2.1"/><circle cx="371.0" cy="797.7" r="2.1"/><circle cx="350.5" cy="800.3" r="2.1"/><circle cx="356.7" cy="796.6" r="2.1"/><circle cx="370.9" cy="802.1" r="2.1"/><circle cx="356.0" cy="795.1" r="2.1"/><circle cx="371.6" cy="796.4" r="2.1"/><circle cx="346.9" cy="795.0" r="2.1"/><circle cx="356.0" cy="792.9" r="2.1"/><circle cx="369.2" cy="804.2" r="2.1"/><circle cx="360.0" cy="744.5" r="2.1"/><circle cx="359.5" cy="779.0" r="2.1"/></g>
<text transform="translate(325.0,806.0)" font-size="38" text-anchor="middle" font-weight="bold">*</text>
<rect x="235.5" y="1003.1" width="56.6" height="32.4" fill="#d4d4d4" stroke="#231f1f" stroke-width="3"/><text transform="translate(264.3,1027.9)" font-size="24.5" text-anchor="middle" fill="#111">Nx</text>
<rect x="320.2" y="1003.1" width="57.1" height="32.4" fill="#4266ff" stroke="#231f1f" stroke-width="3"/><text transform="translate(349.2,1027.9)" font-size="24.5" text-anchor="middle" fill="#fff">IHx</text>
<text transform="translate(600.0,729.0)" font-size="24" text-anchor="middle" font-weight="bold">PC 32:1</text>
<line x1="519.7" y1="756.4" x2="678.7" y2="756.4" stroke="#cfcfcf" stroke-width="1.1"/>
<text transform="translate(515.7,762.0)" font-size="16" text-anchor="end">16500</text>
<line x1="519.7" y1="782.3" x2="678.7" y2="782.3" stroke="#cfcfcf" stroke-width="1.1"/>
<text transform="translate(515.7,787.9)" font-size="16" text-anchor="end">15000</text>
<line x1="519.7" y1="808.4" x2="678.7" y2="808.4" stroke="#cfcfcf" stroke-width="1.1"/>
<text transform="translate(515.7,814.0)" font-size="16" text-anchor="end">13500</text>
<line x1="519.7" y1="834.4" x2="678.7" y2="834.4" stroke="#cfcfcf" stroke-width="1.1"/>
<text transform="translate(515.7,840.0)" font-size="16" text-anchor="end">12000</text>
<line x1="519.7" y1="860.5" x2="678.7" y2="860.5" stroke="#cfcfcf" stroke-width="1.1"/>
<text transform="translate(515.7,866.1)" font-size="16" text-anchor="end">10500</text>
<line x1="519.7" y1="886.3" x2="678.7" y2="886.3" stroke="#cfcfcf" stroke-width="1.1"/>
<text transform="translate(515.7,891.9)" font-size="16" text-anchor="end">9000</text>
<line x1="519.7" y1="912.2" x2="678.7" y2="912.2" stroke="#cfcfcf" stroke-width="1.1"/>
<text transform="translate(515.7,917.8)" font-size="16" text-anchor="end">7500</text>
<line x1="519.7" y1="938.3" x2="678.7" y2="938.3" stroke="#cfcfcf" stroke-width="1.1"/>
<text transform="translate(515.7,943.9)" font-size="16" text-anchor="end">6000</text>
<line x1="519.7" y1="964.3" x2="678.7" y2="964.3" stroke="#cfcfcf" stroke-width="1.1"/>
<text transform="translate(515.7,969.9)" font-size="16" text-anchor="end">4500</text>
<g stroke="#222" fill="none"><line x1="535.2" y1="816.5" x2="535.2" y2="895.5" stroke-width="0.9" stroke-dasharray="2.2,1.3"/><line x1="535.2" y1="930.3" x2="535.2" y2="987.2" stroke-width="0.9" stroke-dasharray="2.2,1.3"/><line x1="530.2" y1="816.5" x2="540.2" y2="816.5" stroke-width="1"/><line x1="530.2" y1="987.2" x2="540.2" y2="987.2" stroke-width="1"/><rect x="524.7" y="895.5" width="20.9" height="34.8" fill="#fff" stroke-width="1"/><line x1="524.7" y1="913.0" x2="545.6" y2="913.0" stroke-width="1.1"/></g>
<linearGradient id="sg554" x1="0" y1="0" x2="0" y2="1"><stop offset="0.000" stop-color="#1e90ff" stop-opacity="0.25"/><stop offset="0.146" stop-color="#1e90ff" stop-opacity="0.4"/><stop offset="0.331" stop-color="#1e90ff" stop-opacity="0.75"/><stop offset="0.858" stop-color="#1e90ff" stop-opacity="0.85"/><stop offset="0.920" stop-color="#1e90ff" stop-opacity="0.45"/><stop offset="1.000" stop-color="#1e90ff" stop-opacity="0.12"/></linearGradient>
<rect x="555.0" y="816.5" width="27.3" height="161.5" fill="url(#sg554)"/>
<g fill="#1e90ff" fill-opacity="0.3"><circle cx="581.7" cy="934.8" r="1.9"/><circle cx="564.2" cy="967.0" r="1.9"/><circle cx="580.1" cy="846.5" r="1.9"/><circle cx="556.3" cy="937.0" r="1.9"/><circle cx="565.5" cy="923.8" r="1.9"/><circle cx="564.2" cy="876.9" r="1.9"/><circle cx="555.6" cy="843.8" r="1.9"/><circle cx="564.7" cy="861.7" r="1.9"/><circle cx="558.8" cy="970.8" r="1.9"/><circle cx="561.0" cy="972.2" r="1.9"/><circle cx="577.1" cy="874.1" r="1.9"/><circle cx="566.9" cy="949.3" r="1.9"/><circle cx="568.0" cy="824.5" r="1.9"/><circle cx="579.7" cy="876.7" r="1.9"/><circle cx="565.1" cy="847.7" r="1.9"/><circle cx="556.3" cy="961.4" r="1.9"/><circle cx="576.9" cy="882.8" r="1.9"/><circle cx="556.6" cy="940.3" r="1.9"/><circle cx="557.1" cy="822.1" r="1.9"/><circle cx="562.3" cy="965.1" r="1.9"/><circle cx="579.1" cy="937.2" r="1.9"/><circle cx="562.7" cy="871.3" r="1.9"/><circle cx="571.7" cy="971.2" r="1.9"/><circle cx="574.3" cy="858.8" r="1.9"/><circle cx="562.7" cy="867.6" r="1.9"/><circle cx="575.4" cy="817.1" r="1.9"/><circle cx="572.2" cy="964.5" r="1.9"/><circle cx="556.1" cy="968.8" r="1.9"/><circle cx="568.0" cy="854.3" r="1.9"/><circle cx="580.6" cy="971.0" r="1.9"/><circle cx="562.1" cy="878.9" r="1.9"/><circle cx="568.5" cy="885.9" r="1.9"/><circle cx="560.3" cy="966.4" r="1.9"/><circle cx="574.9" cy="946.1" r="1.9"/><circle cx="575.8" cy="949.4" r="1.9"/><circle cx="564.1" cy="914.6" r="1.9"/><circle cx="565.0" cy="868.1" r="1.9"/><circle cx="557.6" cy="942.8" r="1.9"/><circle cx="575.3" cy="848.4" r="1.9"/><circle cx="557.2" cy="856.4" r="1.9"/><circle cx="570.0" cy="822.0" r="1.9"/><circle cx="581.3" cy="869.1" r="1.9"/><circle cx="581.5" cy="959.2" r="1.9"/><circle cx="557.7" cy="859.3" r="1.9"/><circle cx="568.6" cy="832.1" r="1.9"/><circle cx="567.3" cy="931.1" r="1.9"/><circle cx="566.5" cy="854.3" r="1.9"/><circle cx="573.2" cy="916.7" r="1.9"/><circle cx="577.8" cy="937.3" r="1.9"/><circle cx="558.7" cy="923.8" r="1.9"/><circle cx="563.2" cy="952.3" r="1.9"/><circle cx="565.3" cy="908.1" r="1.9"/><circle cx="560.7" cy="935.7" r="1.9"/><circle cx="562.0" cy="856.5" r="1.9"/><circle cx="578.8" cy="841.3" r="1.9"/><circle cx="564.1" cy="909.9" r="1.9"/><circle cx="581.6" cy="880.5" r="1.9"/><circle cx="561.6" cy="898.4" r="1.9"/><circle cx="572.7" cy="947.1" r="1.9"/><circle cx="558.2" cy="976.5" r="1.9"/><circle cx="577.0" cy="893.2" r="1.9"/><circle cx="579.5" cy="952.2" r="1.9"/><circle cx="563.2" cy="823.0" r="1.9"/><circle cx="560.5" cy="835.8" r="1.9"/><circle cx="570.8" cy="973.6" r="1.9"/><circle cx="565.3" cy="966.7" r="1.9"/><circle cx="567.3" cy="956.4" r="1.9"/><circle cx="576.0" cy="858.5" r="1.9"/><circle cx="558.3" cy="969.2" r="1.9"/><circle cx="571.8" cy="912.8" r="1.9"/><circle cx="565.2" cy="851.6" r="1.9"/><circle cx="560.9" cy="839.3" r="1.9"/><circle cx="571.3" cy="857.7" r="1.9"/><circle cx="560.9" cy="921.7" r="1.9"/><circle cx="564.1" cy="818.3" r="1.9"/><circle cx="560.4" cy="926.0" r="1.9"/><circle cx="560.8" cy="866.9" r="1.9"/><circle cx="569.9" cy="944.9" r="1.9"/><circle cx="558.2" cy="826.7" r="1.9"/><circle cx="570.0" cy="880.3" r="1.9"/><circle cx="557.9" cy="919.7" r="1.9"/><circle cx="573.8" cy="842.9" r="1.9"/><circle cx="563.0" cy="882.7" r="1.9"/><circle cx="580.6" cy="866.2" r="1.9"/><circle cx="570.4" cy="866.9" r="1.9"/><circle cx="566.5" cy="874.2" r="1.9"/><circle cx="581.7" cy="956.1" r="1.9"/><circle cx="560.7" cy="875.3" r="1.9"/><circle cx="560.9" cy="934.1" r="1.9"/><circle cx="579.2" cy="817.4" r="1.9"/><circle cx="577.1" cy="884.9" r="1.9"/><circle cx="578.7" cy="882.1" r="1.9"/><circle cx="559.8" cy="890.9" r="1.9"/><circle cx="570.0" cy="818.9" r="1.9"/><circle cx="579.4" cy="920.0" r="1.9"/><circle cx="571.9" cy="830.9" r="1.9"/><circle cx="568.8" cy="876.4" r="1.9"/><circle cx="563.0" cy="840.1" r="1.9"/><circle cx="579.8" cy="900.7" r="1.9"/><circle cx="568.4" cy="834.1" r="1.9"/><circle cx="580.9" cy="946.5" r="1.9"/><circle cx="558.8" cy="848.4" r="1.9"/><circle cx="581.2" cy="968.8" r="1.9"/><circle cx="556.9" cy="894.5" r="1.9"/><circle cx="565.7" cy="966.1" r="1.9"/><circle cx="571.8" cy="962.5" r="1.9"/><circle cx="559.7" cy="949.7" r="1.9"/><circle cx="561.3" cy="943.4" r="1.9"/><circle cx="577.8" cy="881.8" r="1.9"/><circle cx="560.3" cy="950.4" r="1.9"/></g>
<g fill="#ffffff" fill-opacity="0.18"><circle cx="566.0" cy="851.7" r="1.6"/><circle cx="565.6" cy="900.1" r="1.6"/><circle cx="562.0" cy="836.4" r="1.6"/><circle cx="579.1" cy="933.6" r="1.6"/><circle cx="570.3" cy="823.1" r="1.6"/><circle cx="556.5" cy="938.8" r="1.6"/><circle cx="558.6" cy="951.9" r="1.6"/><circle cx="570.0" cy="913.3" r="1.6"/><circle cx="563.6" cy="917.8" r="1.6"/><circle cx="570.8" cy="884.3" r="1.6"/><circle cx="572.8" cy="885.3" r="1.6"/><circle cx="567.0" cy="888.7" r="1.6"/><circle cx="571.8" cy="820.3" r="1.6"/><circle cx="561.7" cy="895.6" r="1.6"/><circle cx="576.0" cy="939.8" r="1.6"/><circle cx="560.2" cy="890.5" r="1.6"/><circle cx="558.3" cy="892.9" r="1.6"/><circle cx="566.8" cy="837.2" r="1.6"/><circle cx="567.1" cy="831.3" r="1.6"/><circle cx="556.6" cy="898.9" r="1.6"/><circle cx="557.7" cy="919.3" r="1.6"/><circle cx="576.0" cy="935.0" r="1.6"/><circle cx="556.9" cy="899.1" r="1.6"/><circle cx="565.4" cy="897.9" r="1.6"/><circle cx="559.1" cy="970.1" r="1.6"/><circle cx="581.7" cy="954.9" r="1.6"/><circle cx="576.9" cy="934.7" r="1.6"/><circle cx="581.3" cy="847.8" r="1.6"/><circle cx="580.7" cy="895.9" r="1.6"/><circle cx="559.8" cy="964.4" r="1.6"/><circle cx="580.0" cy="943.8" r="1.6"/><circle cx="564.7" cy="827.1" r="1.6"/><circle cx="559.7" cy="938.6" r="1.6"/><circle cx="562.7" cy="961.3" r="1.6"/><circle cx="559.3" cy="948.2" r="1.6"/><circle cx="579.7" cy="897.6" r="1.6"/><circle cx="562.4" cy="850.1" r="1.6"/><circle cx="563.9" cy="898.2" r="1.6"/><circle cx="560.3" cy="822.4" r="1.6"/><circle cx="580.1" cy="842.5" r="1.6"/><circle cx="579.0" cy="926.3" r="1.6"/><circle cx="576.1" cy="843.8" r="1.6"/><circle cx="569.5" cy="835.1" r="1.6"/><circle cx="565.0" cy="919.3" r="1.6"/><circle cx="570.1" cy="957.5" r="1.6"/><circle cx="578.7" cy="910.2" r="1.6"/><circle cx="581.6" cy="833.4" r="1.6"/><circle cx="565.9" cy="918.2" r="1.6"/><circle cx="562.5" cy="945.3" r="1.6"/><circle cx="570.7" cy="976.5" r="1.6"/><circle cx="575.6" cy="874.7" r="1.6"/><circle cx="560.1" cy="887.9" r="1.6"/><circle cx="556.8" cy="936.6" r="1.6"/><circle cx="562.2" cy="948.9" r="1.6"/><circle cx="581.4" cy="919.7" r="1.6"/></g>
<g fill="#e46a6a" fill-opacity="0.55"><circle cx="573.0" cy="811.2" r="2.1"/><circle cx="555.5" cy="806.6" r="2.1"/><circle cx="559.4" cy="798.1" r="2.1"/><circle cx="566.9" cy="811.7" r="2.1"/><circle cx="579.1" cy="810.1" r="2.1"/><circle cx="561.5" cy="802.2" r="2.1"/><circle cx="556.1" cy="812.2" r="2.1"/><circle cx="564.8" cy="795.2" r="2.1"/><circle cx="564.9" cy="801.3" r="2.1"/><circle cx="570.8" cy="804.7" r="2.1"/><circle cx="560.9" cy="811.3" r="2.1"/><circle cx="568.0" cy="811.8" r="2.1"/><circle cx="580.1" cy="802.3" r="2.1"/><circle cx="559.4" cy="805.1" r="2.1"/><circle cx="572.3" cy="801.0" r="2.1"/><circle cx="576.1" cy="815.0" r="2.1"/><circle cx="562.4" cy="808.3" r="2.1"/><circle cx="572.5" cy="796.4" r="2.1"/><circle cx="571.0" cy="768.0" r="2.1"/><circle cx="570.0" cy="778.0" r="2.1"/><circle cx="569.0" cy="783.0" r="2.1"/></g>
<g stroke="#222" fill="none"><line x1="623.9" y1="783.0" x2="623.9" y2="868.0" stroke-width="0.9" stroke-dasharray="2.2,1.3"/><line x1="623.9" y1="907.5" x2="623.9" y2="961.9" stroke-width="0.9" stroke-dasharray="2.2,1.3"/><line x1="618.9" y1="783.0" x2="628.9" y2="783.0" stroke-width="1"/><line x1="618.9" y1="961.9" x2="628.9" y2="961.9" stroke-width="1"/><rect x="613.6" y="868.0" width="20.6" height="39.5" fill="#fff" stroke-width="1"/><line x1="613.6" y1="887.3" x2="634.2" y2="887.3" stroke-width="1.1"/></g>
<linearGradient id="sg643" x1="0" y1="0" x2="0" y2="1"><stop offset="0.000" stop-color="#1e90ff" stop-opacity="0.3"/><stop offset="0.094" stop-color="#1e90ff" stop-opacity="0.5"/><stop offset="0.344" stop-color="#1e90ff" stop-opacity="0.75"/><stop offset="0.872" stop-color="#1e90ff" stop-opacity="0.85"/><stop offset="0.956" stop-color="#1e90ff" stop-opacity="0.45"/><stop offset="1.000" stop-color="#1e90ff" stop-opacity="0.18"/></linearGradient>
<rect x="644.0" y="783.0" width="27.7" height="180.0" fill="url(#sg643)"/>
<g fill="#1e90ff" fill-opacity="0.3"><circle cx="653.9" cy="884.2" r="1.9"/><circle cx="656.3" cy="899.2" r="1.9"/><circle cx="664.1" cy="951.7" r="1.9"/><circle cx="668.6" cy="827.7" r="1.9"/><circle cx="658.7" cy="790.9" r="1.9"/><circle cx="650.8" cy="856.1" r="1.9"/><circle cx="665.3" cy="793.5" r="1.9"/><circle cx="659.2" cy="785.2" r="1.9"/><circle cx="648.3" cy="952.4" r="1.9"/><circle cx="660.7" cy="818.9" r="1.9"/><circle cx="661.6" cy="874.3" r="1.9"/><circle cx="649.2" cy="929.4" r="1.9"/><circle cx="652.5" cy="838.7" r="1.9"/><circle cx="668.2" cy="791.7" r="1.9"/><circle cx="663.6" cy="923.9" r="1.9"/><circle cx="667.0" cy="784.1" r="1.9"/><circle cx="656.9" cy="917.1" r="1.9"/><circle cx="656.6" cy="916.5" r="1.9"/><circle cx="647.3" cy="823.7" r="1.9"/><circle cx="645.5" cy="824.8" r="1.9"/><circle cx="664.5" cy="843.4" r="1.9"/><circle cx="667.1" cy="908.1" r="1.9"/><circle cx="651.6" cy="911.1" r="1.9"/><circle cx="656.1" cy="882.7" r="1.9"/><circle cx="658.5" cy="924.9" r="1.9"/><circle cx="661.6" cy="830.8" r="1.9"/><circle cx="650.3" cy="956.7" r="1.9"/><circle cx="644.9" cy="941.4" r="1.9"/><circle cx="650.8" cy="829.9" r="1.9"/><circle cx="669.7" cy="916.9" r="1.9"/><circle cx="653.2" cy="917.3" r="1.9"/><circle cx="653.3" cy="941.4" r="1.9"/><circle cx="668.7" cy="826.1" r="1.9"/><circle cx="663.0" cy="896.5" r="1.9"/><circle cx="670.6" cy="902.7" r="1.9"/><circle cx="666.9" cy="867.5" r="1.9"/><circle cx="667.4" cy="908.6" r="1.9"/><circle cx="663.8" cy="861.7" r="1.9"/><circle cx="652.7" cy="885.7" r="1.9"/><circle cx="661.1" cy="821.2" r="1.9"/><circle cx="668.8" cy="797.0" r="1.9"/><circle cx="645.2" cy="809.0" r="1.9"/><circle cx="669.3" cy="802.2" r="1.9"/><circle cx="648.3" cy="845.1" r="1.9"/><circle cx="645.6" cy="788.2" r="1.9"/><circle cx="661.4" cy="907.7" r="1.9"/><circle cx="664.2" cy="908.5" r="1.9"/><circle cx="660.3" cy="794.8" r="1.9"/><circle cx="666.3" cy="848.4" r="1.9"/><circle cx="668.3" cy="930.5" r="1.9"/><circle cx="667.7" cy="794.9" r="1.9"/><circle cx="669.7" cy="947.6" r="1.9"/><circle cx="650.0" cy="802.3" r="1.9"/><circle cx="645.4" cy="803.2" r="1.9"/><circle cx="666.2" cy="935.6" r="1.9"/><circle cx="666.5" cy="897.2" r="1.9"/><circle cx="652.2" cy="896.7" r="1.9"/><circle cx="647.1" cy="801.0" r="1.9"/><circle cx="650.0" cy="919.3" r="1.9"/><circle cx="655.8" cy="840.4" r="1.9"/><circle cx="651.4" cy="786.8" r="1.9"/><circle cx="663.6" cy="833.9" r="1.9"/><circle cx="653.1" cy="849.2" r="1.9"/><circle cx="657.9" cy="956.5" r="1.9"/><circle cx="661.0" cy="936.2" r="1.9"/><circle cx="655.5" cy="788.6" r="1.9"/><circle cx="665.1" cy="861.6" r="1.9"/><circle cx="663.3" cy="845.4" r="1.9"/><circle cx="650.3" cy="879.8" r="1.9"/><circle cx="646.9" cy="938.2" r="1.9"/><circle cx="649.0" cy="930.6" r="1.9"/><circle cx="649.9" cy="783.2" r="1.9"/><circle cx="670.6" cy="920.2" r="1.9"/><circle cx="657.6" cy="783.8" r="1.9"/><circle cx="665.8" cy="871.5" r="1.9"/><circle cx="657.7" cy="816.2" r="1.9"/><circle cx="666.7" cy="845.5" r="1.9"/><circle cx="669.7" cy="829.9" r="1.9"/><circle cx="650.2" cy="834.1" r="1.9"/><circle cx="657.8" cy="908.9" r="1.9"/><circle cx="661.5" cy="802.8" r="1.9"/><circle cx="665.5" cy="797.6" r="1.9"/><circle cx="665.5" cy="908.5" r="1.9"/><circle cx="654.0" cy="896.0" r="1.9"/><circle cx="655.0" cy="855.2" r="1.9"/><circle cx="646.8" cy="943.3" r="1.9"/><circle cx="645.2" cy="942.9" r="1.9"/><circle cx="651.5" cy="820.1" r="1.9"/><circle cx="657.9" cy="945.2" r="1.9"/><circle cx="668.1" cy="851.3" r="1.9"/><circle cx="656.8" cy="825.0" r="1.9"/><circle cx="664.6" cy="878.7" r="1.9"/><circle cx="661.8" cy="918.5" r="1.9"/><circle cx="653.2" cy="845.7" r="1.9"/><circle cx="667.0" cy="811.0" r="1.9"/><circle cx="664.3" cy="902.2" r="1.9"/><circle cx="656.2" cy="813.5" r="1.9"/><circle cx="660.0" cy="922.2" r="1.9"/><circle cx="656.8" cy="805.7" r="1.9"/><circle cx="650.9" cy="942.3" r="1.9"/><circle cx="652.6" cy="817.5" r="1.9"/><circle cx="667.0" cy="909.6" r="1.9"/><circle cx="648.7" cy="810.8" r="1.9"/><circle cx="653.2" cy="827.6" r="1.9"/><circle cx="648.8" cy="877.0" r="1.9"/><circle cx="649.6" cy="842.1" r="1.9"/><circle cx="664.0" cy="958.5" r="1.9"/><circle cx="670.2" cy="801.3" r="1.9"/><circle cx="654.8" cy="801.3" r="1.9"/><circle cx="665.7" cy="960.1" r="1.9"/></g>
<g fill="#ffffff" fill-opacity="0.18"><circle cx="656.1" cy="915.0" r="1.6"/><circle cx="661.5" cy="818.3" r="1.6"/><circle cx="650.0" cy="802.2" r="1.6"/><circle cx="645.4" cy="852.9" r="1.6"/><circle cx="665.6" cy="854.8" r="1.6"/><circle cx="657.9" cy="907.8" r="1.6"/><circle cx="656.9" cy="896.8" r="1.6"/><circle cx="660.6" cy="808.5" r="1.6"/><circle cx="664.3" cy="855.8" r="1.6"/><circle cx="656.0" cy="946.4" r="1.6"/><circle cx="664.5" cy="886.3" r="1.6"/><circle cx="650.6" cy="858.8" r="1.6"/><circle cx="668.0" cy="913.0" r="1.6"/><circle cx="663.2" cy="922.3" r="1.6"/><circle cx="662.6" cy="936.4" r="1.6"/><circle cx="656.6" cy="898.5" r="1.6"/><circle cx="661.3" cy="839.3" r="1.6"/><circle cx="655.7" cy="800.6" r="1.6"/><circle cx="663.5" cy="923.8" r="1.6"/><circle cx="651.2" cy="896.3" r="1.6"/><circle cx="656.7" cy="859.2" r="1.6"/><circle cx="655.4" cy="894.9" r="1.6"/><circle cx="669.3" cy="904.5" r="1.6"/><circle cx="662.0" cy="816.0" r="1.6"/><circle cx="654.9" cy="923.1" r="1.6"/><circle cx="670.5" cy="871.2" r="1.6"/><circle cx="659.0" cy="789.9" r="1.6"/><circle cx="665.4" cy="812.0" r="1.6"/><circle cx="658.4" cy="952.3" r="1.6"/><circle cx="659.8" cy="801.2" r="1.6"/><circle cx="663.7" cy="880.4" r="1.6"/><circle cx="661.6" cy="875.2" r="1.6"/><circle cx="658.4" cy="932.2" r="1.6"/><circle cx="669.8" cy="856.9" r="1.6"/><circle cx="662.8" cy="820.8" r="1.6"/><circle cx="664.9" cy="853.6" r="1.6"/><circle cx="670.8" cy="805.0" r="1.6"/><circle cx="646.0" cy="847.0" r="1.6"/><circle cx="655.2" cy="832.4" r="1.6"/><circle cx="655.7" cy="785.4" r="1.6"/><circle cx="663.1" cy="858.7" r="1.6"/><circle cx="651.6" cy="846.4" r="1.6"/><circle cx="664.3" cy="823.4" r="1.6"/><circle cx="658.6" cy="952.2" r="1.6"/><circle cx="665.9" cy="822.4" r="1.6"/><circle cx="650.2" cy="853.6" r="1.6"/><circle cx="665.2" cy="806.3" r="1.6"/><circle cx="661.4" cy="928.7" r="1.6"/><circle cx="659.5" cy="867.4" r="1.6"/><circle cx="670.2" cy="823.7" r="1.6"/><circle cx="661.6" cy="846.6" r="1.6"/><circle cx="666.3" cy="930.4" r="1.6"/><circle cx="652.4" cy="867.3" r="1.6"/><circle cx="647.8" cy="881.7" r="1.6"/><circle cx="654.0" cy="933.1" r="1.6"/></g>
<g fill="#e46a6a" fill-opacity="0.55"><circle cx="651.6" cy="781.5" r="2.1"/><circle cx="651.3" cy="775.7" r="2.1"/><circle cx="649.5" cy="776.4" r="2.1"/><circle cx="663.8" cy="765.0" r="2.1"/><circle cx="651.0" cy="774.1" r="2.1"/><circle cx="657.3" cy="774.4" r="2.1"/><circle cx="661.5" cy="776.4" r="2.1"/><circle cx="654.2" cy="779.4" r="2.1"/><circle cx="667.3" cy="782.3" r="2.1"/><circle cx="666.6" cy="768.5" r="2.1"/><circle cx="665.4" cy="782.1" r="2.1"/><circle cx="666.7" cy="771.1" r="2.1"/><circle cx="644.9" cy="779.1" r="2.1"/><circle cx="669.9" cy="766.0" r="2.1"/><circle cx="651.2" cy="779.4" r="2.1"/><circle cx="648.3" cy="770.1" r="2.1"/><circle cx="665.2" cy="773.2" r="2.1"/><circle cx="648.6" cy="775.2" r="2.1"/><circle cx="659.6" cy="742.0" r="2.1"/><circle cx="654.0" cy="760.0" r="2.1"/></g>
<text transform="translate(623.8,781.5)" font-size="38" text-anchor="middle" font-weight="bold">*</text>
<rect x="531.2" y="1003.1" width="56.6" height="32.4" fill="#d4d4d4" stroke="#231f1f" stroke-width="3"/><text transform="translate(560.0,1027.9)" font-size="24.5" text-anchor="middle" fill="#111">Nx</text>
<rect x="616.4" y="1003.1" width="56.6" height="32.4" fill="#4266ff" stroke="#231f1f" stroke-width="3"/><text transform="translate(645.2,1027.9)" font-size="24.5" text-anchor="middle" fill="#fff">IHx</text>
<text transform="translate(1172.5,729.0)" font-size="24" text-anchor="middle" font-weight="bold">PC 36:1</text>
<line x1="1093.0" y1="755.0" x2="1252.0" y2="755.0" stroke="#cfcfcf" stroke-width="1.1"/>
<text transform="translate(1087.3,760.6)" font-size="16" text-anchor="end">14000</text>
<line x1="1093.0" y1="781.0" x2="1252.0" y2="781.0" stroke="#cfcfcf" stroke-width="1.1"/>
<text transform="translate(1087.3,786.6)" font-size="16" text-anchor="end">13000</text>
<line x1="1093.0" y1="807.1" x2="1252.0" y2="807.1" stroke="#cfcfcf" stroke-width="1.1"/>
<text transform="translate(1087.3,812.7)" font-size="16" text-anchor="end">12000</text>
<line x1="1093.0" y1="833.4" x2="1252.0" y2="833.4" stroke="#cfcfcf" stroke-width="1.1"/>
<text transform="translate(1087.3,839.0)" font-size="16" text-anchor="end">11000</text>
<line x1="1093.0" y1="860.0" x2="1252.0" y2="860.0" stroke="#cfcfcf" stroke-width="1.1"/>
<text transform="translate(1087.3,865.6)" font-size="16" text-anchor="end">10000</text>
<line x1="1093.0" y1="886.0" x2="1252.0" y2="886.0" stroke="#cfcfcf" stroke-width="1.1"/>
<text transform="translate(1087.3,891.6)" font-size="16" text-anchor="end">9000</text>
<line x1="1093.0" y1="912.2" x2="1252.0" y2="912.2" stroke="#cfcfcf" stroke-width="1.1"/>
<text transform="translate(1087.3,917.8)" font-size="16" text-anchor="end">8000</text>
<line x1="1093.0" y1="938.3" x2="1252.0" y2="938.3" stroke="#cfcfcf" stroke-width="1.1"/>
<text transform="translate(1087.3,943.9)" font-size="16" text-anchor="end">7000</text>
<line x1="1093.0" y1="964.3" x2="1252.0" y2="964.3" stroke="#cfcfcf" stroke-width="1.1"/>
<text transform="translate(1087.3,969.9)" font-size="16" text-anchor="end">6000</text>
<line x1="1093.0" y1="990.4" x2="1252.0" y2="990.4" stroke="#cfcfcf" stroke-width="1.1"/>
<text transform="translate(1087.3,996.0)" font-size="16" text-anchor="end">5000</text>
<g stroke="#222" fill="none"><line x1="1108.3" y1="817.3" x2="1108.3" y2="891.3" stroke-width="0.9" stroke-dasharray="2.2,1.3"/><line x1="1108.3" y1="929.6" x2="1108.3" y2="991.7" stroke-width="0.9" stroke-dasharray="2.2,1.3"/><line x1="1103.3" y1="817.3" x2="1113.3" y2="817.3" stroke-width="1"/><line x1="1103.3" y1="991.7" x2="1113.3" y2="991.7" stroke-width="1"/><rect x="1098.0" y="891.3" width="20.6" height="38.3" fill="#fff" stroke-width="1"/><line x1="1098.0" y1="911.4" x2="1118.6" y2="911.4" stroke-width="1.1"/></g>
<linearGradient id="sg1127" x1="0" y1="0" x2="0" y2="1"><stop offset="0.000" stop-color="#1e90ff" stop-opacity="0.25"/><stop offset="0.115" stop-color="#1e90ff" stop-opacity="0.45"/><stop offset="0.294" stop-color="#1e90ff" stop-opacity="0.75"/><stop offset="0.827" stop-color="#1e90ff" stop-opacity="0.85"/><stop offset="0.889" stop-color="#1e90ff" stop-opacity="0.4"/><stop offset="1.000" stop-color="#1e90ff" stop-opacity="0.12"/></linearGradient>
<rect x="1128.8" y="816.5" width="27.0" height="161.5" fill="url(#sg1127)"/>
<g fill="#1e90ff" fill-opacity="0.3"><circle cx="1149.9" cy="962.5" r="1.9"/><circle cx="1152.5" cy="843.6" r="1.9"/><circle cx="1149.6" cy="914.8" r="1.9"/><circle cx="1152.5" cy="924.5" r="1.9"/><circle cx="1151.1" cy="943.8" r="1.9"/><circle cx="1147.3" cy="848.4" r="1.9"/><circle cx="1148.6" cy="902.2" r="1.9"/><circle cx="1152.2" cy="887.3" r="1.9"/><circle cx="1136.2" cy="906.1" r="1.9"/><circle cx="1132.9" cy="854.3" r="1.9"/><circle cx="1130.8" cy="896.1" r="1.9"/><circle cx="1133.1" cy="891.9" r="1.9"/><circle cx="1142.3" cy="895.9" r="1.9"/><circle cx="1151.7" cy="903.6" r="1.9"/><circle cx="1151.2" cy="817.6" r="1.9"/><circle cx="1143.9" cy="892.1" r="1.9"/><circle cx="1151.2" cy="923.9" r="1.9"/><circle cx="1140.2" cy="877.1" r="1.9"/><circle cx="1131.3" cy="971.6" r="1.9"/><circle cx="1145.8" cy="919.4" r="1.9"/><circle cx="1145.2" cy="821.1" r="1.9"/><circle cx="1153.5" cy="926.7" r="1.9"/><circle cx="1154.8" cy="869.9" r="1.9"/><circle cx="1141.9" cy="899.0" r="1.9"/><circle cx="1130.2" cy="961.5" r="1.9"/><circle cx="1145.6" cy="932.5" r="1.9"/><circle cx="1151.7" cy="871.2" r="1.9"/><circle cx="1141.6" cy="875.6" r="1.9"/><circle cx="1149.3" cy="901.4" r="1.9"/><circle cx="1140.6" cy="850.5" r="1.9"/><circle cx="1143.7" cy="884.7" r="1.9"/><circle cx="1136.9" cy="950.0" r="1.9"/><circle cx="1139.8" cy="950.2" r="1.9"/><circle cx="1136.4" cy="897.9" r="1.9"/><circle cx="1154.6" cy="898.3" r="1.9"/><circle cx="1149.9" cy="922.2" r="1.9"/><circle cx="1137.5" cy="869.9" r="1.9"/><circle cx="1144.5" cy="864.8" r="1.9"/><circle cx="1149.7" cy="919.0" r="1.9"/><circle cx="1148.1" cy="823.0" r="1.9"/><circle cx="1143.5" cy="959.5" r="1.9"/><circle cx="1137.1" cy="824.5" r="1.9"/><circle cx="1134.2" cy="817.5" r="1.9"/><circle cx="1145.1" cy="965.3" r="1.9"/><circle cx="1149.8" cy="922.8" r="1.9"/><circle cx="1145.2" cy="963.4" r="1.9"/><circle cx="1145.6" cy="916.1" r="1.9"/><circle cx="1144.8" cy="929.0" r="1.9"/><circle cx="1134.8" cy="926.5" r="1.9"/><circle cx="1141.2" cy="924.2" r="1.9"/><circle cx="1131.9" cy="939.7" r="1.9"/><circle cx="1130.3" cy="845.8" r="1.9"/><circle cx="1153.1" cy="941.6" r="1.9"/><circle cx="1138.9" cy="922.4" r="1.9"/><circle cx="1149.8" cy="949.4" r="1.9"/><circle cx="1136.0" cy="907.3" r="1.9"/><circle cx="1140.3" cy="865.3" r="1.9"/><circle cx="1140.5" cy="867.9" r="1.9"/><circle cx="1153.6" cy="920.1" r="1.9"/><circle cx="1144.1" cy="825.3" r="1.9"/><circle cx="1132.4" cy="822.9" r="1.9"/><circle cx="1144.3" cy="947.4" r="1.9"/><circle cx="1140.9" cy="964.9" r="1.9"/><circle cx="1139.4" cy="818.8" r="1.9"/><circle cx="1153.7" cy="912.1" r="1.9"/><circle cx="1141.7" cy="974.9" r="1.9"/><circle cx="1132.0" cy="883.1" r="1.9"/><circle cx="1134.8" cy="920.6" r="1.9"/><circle cx="1129.7" cy="841.0" r="1.9"/><circle cx="1147.1" cy="817.3" r="1.9"/><circle cx="1154.4" cy="836.1" r="1.9"/><circle cx="1151.9" cy="830.7" r="1.9"/><circle cx="1129.8" cy="837.3" r="1.9"/><circle cx="1135.6" cy="932.7" r="1.9"/><circle cx="1134.2" cy="935.0" r="1.9"/><circle cx="1149.4" cy="824.6" r="1.9"/><circle cx="1151.5" cy="931.7" r="1.9"/><circle cx="1131.5" cy="934.4" r="1.9"/><circle cx="1147.7" cy="918.0" r="1.9"/><circle cx="1153.5" cy="890.9" r="1.9"/><circle cx="1154.4" cy="857.5" r="1.9"/><circle cx="1129.6" cy="932.3" r="1.9"/><circle cx="1146.2" cy="818.9" r="1.9"/><circle cx="1131.4" cy="948.5" r="1.9"/><circle cx="1148.3" cy="866.7" r="1.9"/><circle cx="1151.7" cy="843.3" r="1.9"/><circle cx="1130.9" cy="895.0" r="1.9"/><circle cx="1144.2" cy="875.9" r="1.9"/><circle cx="1146.9" cy="887.4" r="1.9"/><circle cx="1150.0" cy="839.9" r="1.9"/><circle cx="1146.1" cy="875.2" r="1.9"/><circle cx="1140.2" cy="918.2" r="1.9"/><circle cx="1149.7" cy="878.8" r="1.9"/><circle cx="1149.7" cy="969.1" r="1.9"/><circle cx="1136.9" cy="908.0" r="1.9"/><circle cx="1154.6" cy="826.3" r="1.9"/><circle cx="1150.8" cy="930.1" r="1.9"/><circle cx="1145.1" cy="870.1" r="1.9"/><circle cx="1150.9" cy="974.4" r="1.9"/><circle cx="1137.3" cy="913.6" r="1.9"/><circle cx="1152.4" cy="885.7" r="1.9"/><circle cx="1147.1" cy="877.3" r="1.9"/><circle cx="1152.6" cy="913.7" r="1.9"/><circle cx="1136.7" cy="946.9" r="1.9"/><circle cx="1136.1" cy="816.8" r="1.9"/><circle cx="1144.6" cy="884.7" r="1.9"/><circle cx="1152.4" cy="948.3" r="1.9"/><circle cx="1151.0" cy="823.3" r="1.9"/><circle cx="1151.8" cy="947.6" r="1.9"/><circle cx="1136.4" cy="908.9" r="1.9"/></g>
<g fill="#ffffff" fill-opacity="0.18"><circle cx="1150.3" cy="954.0" r="1.6"/><circle cx="1153.1" cy="927.1" r="1.6"/><circle cx="1131.5" cy="872.5" r="1.6"/><circle cx="1150.0" cy="905.9" r="1.6"/><circle cx="1148.8" cy="848.9" r="1.6"/><circle cx="1135.4" cy="967.0" r="1.6"/><circle cx="1146.9" cy="914.5" r="1.6"/><circle cx="1134.7" cy="891.6" r="1.6"/><circle cx="1148.8" cy="857.6" r="1.6"/><circle cx="1141.3" cy="944.4" r="1.6"/><circle cx="1150.3" cy="830.7" r="1.6"/><circle cx="1135.4" cy="941.2" r="1.6"/><circle cx="1152.6" cy="910.1" r="1.6"/><circle cx="1142.9" cy="959.4" r="1.6"/><circle cx="1144.6" cy="893.5" r="1.6"/><circle cx="1134.3" cy="847.0" r="1.6"/><circle cx="1147.5" cy="845.7" r="1.6"/><circle cx="1144.0" cy="875.1" r="1.6"/><circle cx="1142.7" cy="881.5" r="1.6"/><circle cx="1130.5" cy="840.6" r="1.6"/><circle cx="1139.0" cy="977.5" r="1.6"/><circle cx="1145.8" cy="833.6" r="1.6"/><circle cx="1133.4" cy="943.7" r="1.6"/><circle cx="1138.3" cy="912.9" r="1.6"/><circle cx="1129.8" cy="900.4" r="1.6"/><circle cx="1155.1" cy="821.9" r="1.6"/><circle cx="1141.9" cy="956.4" r="1.6"/><circle cx="1136.1" cy="908.1" r="1.6"/><circle cx="1140.4" cy="942.3" r="1.6"/><circle cx="1149.2" cy="969.4" r="1.6"/><circle cx="1154.4" cy="948.7" r="1.6"/><circle cx="1130.3" cy="857.5" r="1.6"/><circle cx="1134.0" cy="849.0" r="1.6"/><circle cx="1130.6" cy="830.0" r="1.6"/><circle cx="1151.9" cy="906.5" r="1.6"/><circle cx="1153.9" cy="890.5" r="1.6"/><circle cx="1131.0" cy="963.5" r="1.6"/><circle cx="1139.6" cy="913.1" r="1.6"/><circle cx="1154.2" cy="835.9" r="1.6"/><circle cx="1144.0" cy="858.0" r="1.6"/><circle cx="1154.2" cy="920.0" r="1.6"/><circle cx="1139.5" cy="924.7" r="1.6"/><circle cx="1133.5" cy="888.9" r="1.6"/><circle cx="1155.1" cy="972.5" r="1.6"/><circle cx="1130.3" cy="852.3" r="1.6"/><circle cx="1138.5" cy="857.8" r="1.6"/><circle cx="1152.8" cy="962.3" r="1.6"/><circle cx="1130.5" cy="951.7" r="1.6"/><circle cx="1147.7" cy="943.5" r="1.6"/><circle cx="1154.9" cy="920.9" r="1.6"/><circle cx="1133.1" cy="825.5" r="1.6"/><circle cx="1153.7" cy="938.4" r="1.6"/><circle cx="1137.1" cy="925.8" r="1.6"/><circle cx="1149.0" cy="912.0" r="1.6"/><circle cx="1137.7" cy="833.5" r="1.6"/></g>
<g fill="#e46a6a" fill-opacity="0.55"><circle cx="1132.5" cy="802.0" r="2.1"/><circle cx="1133.7" cy="807.5" r="2.1"/><circle cx="1133.0" cy="801.4" r="2.1"/><circle cx="1129.6" cy="811.3" r="2.1"/><circle cx="1134.4" cy="812.0" r="2.1"/><circle cx="1153.4" cy="792.6" r="2.1"/><circle cx="1153.6" cy="800.9" r="2.1"/><circle cx="1152.4" cy="814.5" r="2.1"/><circle cx="1140.9" cy="798.0" r="2.1"/><circle cx="1153.4" cy="796.2" r="2.1"/><circle cx="1145.6" cy="814.1" r="2.1"/><circle cx="1138.1" cy="806.8" r="2.1"/><circle cx="1141.7" cy="813.8" r="2.1"/><circle cx="1133.0" cy="810.4" r="2.1"/><circle cx="1130.8" cy="800.9" r="2.1"/><circle cx="1143.7" cy="811.9" r="2.1"/><circle cx="1151.9" cy="798.2" r="2.1"/><circle cx="1140.0" cy="802.2" r="2.1"/><circle cx="1145.0" cy="746.5" r="2.1"/><circle cx="1144.0" cy="770.0" r="2.1"/><circle cx="1142.0" cy="775.0" r="2.1"/></g>
<g stroke="#222" fill="none"><line x1="1197.6" y1="854.6" x2="1197.6" y2="915.4" stroke-width="0.9" stroke-dasharray="2.2,1.3"/><line x1="1197.6" y1="947.4" x2="1197.6" y2="990.4" stroke-width="0.9" stroke-dasharray="2.2,1.3"/><line x1="1192.6" y1="854.6" x2="1202.6" y2="854.6" stroke-width="1"/><line x1="1192.6" y1="990.4" x2="1202.6" y2="990.4" stroke-width="1"/><rect x="1187.4" y="915.4" width="20.3" height="32.0" fill="#fff" stroke-width="1"/><line x1="1187.4" y1="930.3" x2="1207.7" y2="930.3" stroke-width="1.1"/></g>
<linearGradient id="sg1216" x1="0" y1="0" x2="0" y2="1"><stop offset="0.000" stop-color="#1e90ff" stop-opacity="0.3"/><stop offset="0.119" stop-color="#1e90ff" stop-opacity="0.5"/><stop offset="0.229" stop-color="#1e90ff" stop-opacity="0.8"/><stop offset="0.890" stop-color="#1e90ff" stop-opacity="0.85"/><stop offset="0.963" stop-color="#1e90ff" stop-opacity="0.35"/><stop offset="1.000" stop-color="#1e90ff" stop-opacity="0.1"/></linearGradient>
<rect x="1217.4" y="853.8" width="27.8" height="136.2" fill="url(#sg1216)"/>
<g fill="#1e90ff" fill-opacity="0.3"><circle cx="1225.2" cy="875.0" r="1.9"/><circle cx="1226.9" cy="968.1" r="1.9"/><circle cx="1231.1" cy="876.7" r="1.9"/><circle cx="1242.1" cy="897.1" r="1.9"/><circle cx="1244.1" cy="869.3" r="1.9"/><circle cx="1241.9" cy="861.5" r="1.9"/><circle cx="1223.6" cy="944.8" r="1.9"/><circle cx="1225.6" cy="918.8" r="1.9"/><circle cx="1223.3" cy="888.9" r="1.9"/><circle cx="1244.5" cy="903.4" r="1.9"/><circle cx="1242.7" cy="989.7" r="1.9"/><circle cx="1225.7" cy="867.1" r="1.9"/><circle cx="1219.4" cy="975.9" r="1.9"/><circle cx="1225.8" cy="952.7" r="1.9"/><circle cx="1218.3" cy="987.1" r="1.9"/><circle cx="1227.0" cy="963.7" r="1.9"/><circle cx="1218.0" cy="872.9" r="1.9"/><circle cx="1232.0" cy="967.2" r="1.9"/><circle cx="1229.6" cy="879.1" r="1.9"/><circle cx="1223.7" cy="978.0" r="1.9"/><circle cx="1221.6" cy="931.6" r="1.9"/><circle cx="1238.5" cy="878.3" r="1.9"/><circle cx="1223.2" cy="950.7" r="1.9"/><circle cx="1220.2" cy="864.6" r="1.9"/><circle cx="1231.2" cy="936.7" r="1.9"/><circle cx="1223.4" cy="891.1" r="1.9"/><circle cx="1236.9" cy="937.2" r="1.9"/><circle cx="1233.5" cy="964.3" r="1.9"/><circle cx="1219.7" cy="881.4" r="1.9"/><circle cx="1228.8" cy="953.6" r="1.9"/><circle cx="1219.4" cy="952.1" r="1.9"/><circle cx="1226.9" cy="964.2" r="1.9"/><circle cx="1241.1" cy="968.5" r="1.9"/><circle cx="1218.3" cy="920.9" r="1.9"/><circle cx="1230.7" cy="977.8" r="1.9"/><circle cx="1225.0" cy="972.6" r="1.9"/><circle cx="1240.2" cy="879.1" r="1.9"/><circle cx="1222.3" cy="903.8" r="1.9"/><circle cx="1233.8" cy="904.4" r="1.9"/><circle cx="1231.8" cy="854.4" r="1.9"/><circle cx="1231.7" cy="914.5" r="1.9"/><circle cx="1237.1" cy="870.2" r="1.9"/><circle cx="1241.1" cy="965.0" r="1.9"/><circle cx="1237.0" cy="897.5" r="1.9"/><circle cx="1238.0" cy="905.7" r="1.9"/><circle cx="1241.3" cy="862.1" r="1.9"/><circle cx="1231.2" cy="983.7" r="1.9"/><circle cx="1232.1" cy="923.7" r="1.9"/><circle cx="1218.5" cy="927.0" r="1.9"/><circle cx="1223.9" cy="985.6" r="1.9"/><circle cx="1220.7" cy="878.6" r="1.9"/><circle cx="1239.8" cy="887.9" r="1.9"/><circle cx="1220.5" cy="857.9" r="1.9"/><circle cx="1223.1" cy="949.0" r="1.9"/><circle cx="1234.0" cy="856.2" r="1.9"/><circle cx="1231.9" cy="932.3" r="1.9"/><circle cx="1220.7" cy="949.5" r="1.9"/><circle cx="1237.1" cy="972.2" r="1.9"/><circle cx="1221.2" cy="860.0" r="1.9"/><circle cx="1231.3" cy="921.0" r="1.9"/><circle cx="1221.2" cy="891.9" r="1.9"/><circle cx="1221.6" cy="909.0" r="1.9"/><circle cx="1241.0" cy="934.4" r="1.9"/><circle cx="1233.3" cy="873.9" r="1.9"/><circle cx="1222.3" cy="955.5" r="1.9"/><circle cx="1243.0" cy="966.3" r="1.9"/><circle cx="1229.2" cy="906.7" r="1.9"/><circle cx="1232.0" cy="968.2" r="1.9"/><circle cx="1243.1" cy="907.7" r="1.9"/><circle cx="1227.0" cy="959.6" r="1.9"/><circle cx="1226.9" cy="886.5" r="1.9"/><circle cx="1244.2" cy="913.1" r="1.9"/><circle cx="1242.4" cy="963.4" r="1.9"/><circle cx="1240.6" cy="964.8" r="1.9"/><circle cx="1231.8" cy="861.1" r="1.9"/><circle cx="1242.9" cy="984.3" r="1.9"/><circle cx="1229.2" cy="887.8" r="1.9"/><circle cx="1227.7" cy="940.0" r="1.9"/><circle cx="1219.8" cy="926.1" r="1.9"/><circle cx="1231.4" cy="912.8" r="1.9"/><circle cx="1221.6" cy="856.6" r="1.9"/><circle cx="1238.7" cy="985.9" r="1.9"/><circle cx="1234.9" cy="981.4" r="1.9"/><circle cx="1241.6" cy="964.0" r="1.9"/><circle cx="1218.8" cy="974.3" r="1.9"/><circle cx="1225.0" cy="941.2" r="1.9"/><circle cx="1225.2" cy="946.2" r="1.9"/><circle cx="1242.7" cy="927.7" r="1.9"/><circle cx="1224.6" cy="938.4" r="1.9"/><circle cx="1229.5" cy="924.7" r="1.9"/><circle cx="1225.6" cy="983.3" r="1.9"/><circle cx="1235.3" cy="895.4" r="1.9"/><circle cx="1233.8" cy="870.2" r="1.9"/><circle cx="1231.7" cy="984.0" r="1.9"/><circle cx="1230.4" cy="890.4" r="1.9"/><circle cx="1221.9" cy="926.5" r="1.9"/><circle cx="1221.4" cy="870.7" r="1.9"/><circle cx="1228.8" cy="893.8" r="1.9"/><circle cx="1224.4" cy="893.1" r="1.9"/><circle cx="1232.5" cy="865.8" r="1.9"/><circle cx="1234.2" cy="968.2" r="1.9"/><circle cx="1235.3" cy="931.5" r="1.9"/><circle cx="1236.9" cy="881.2" r="1.9"/><circle cx="1232.6" cy="916.6" r="1.9"/><circle cx="1230.5" cy="937.3" r="1.9"/><circle cx="1224.4" cy="896.1" r="1.9"/><circle cx="1231.6" cy="884.0" r="1.9"/><circle cx="1233.6" cy="906.0" r="1.9"/><circle cx="1227.4" cy="855.4" r="1.9"/><circle cx="1224.3" cy="971.2" r="1.9"/></g>
<g fill="#ffffff" fill-opacity="0.18"><circle cx="1231.1" cy="929.6" r="1.6"/><circle cx="1244.4" cy="892.6" r="1.6"/><circle cx="1238.6" cy="894.0" r="1.6"/><circle cx="1219.7" cy="875.4" r="1.6"/><circle cx="1229.7" cy="972.5" r="1.6"/><circle cx="1228.3" cy="862.2" r="1.6"/><circle cx="1237.6" cy="913.7" r="1.6"/><circle cx="1223.9" cy="868.7" r="1.6"/><circle cx="1237.7" cy="984.5" r="1.6"/><circle cx="1226.9" cy="874.8" r="1.6"/><circle cx="1236.0" cy="901.8" r="1.6"/><circle cx="1240.7" cy="937.7" r="1.6"/><circle cx="1231.8" cy="965.6" r="1.6"/><circle cx="1237.8" cy="954.4" r="1.6"/><circle cx="1230.6" cy="957.3" r="1.6"/><circle cx="1236.9" cy="960.7" r="1.6"/><circle cx="1221.3" cy="978.4" r="1.6"/><circle cx="1218.0" cy="972.4" r="1.6"/><circle cx="1233.6" cy="958.1" r="1.6"/><circle cx="1243.7" cy="921.6" r="1.6"/><circle cx="1229.1" cy="931.7" r="1.6"/><circle cx="1241.3" cy="960.5" r="1.6"/><circle cx="1228.1" cy="936.5" r="1.6"/><circle cx="1230.2" cy="915.4" r="1.6"/><circle cx="1225.8" cy="952.3" r="1.6"/><circle cx="1232.8" cy="907.0" r="1.6"/><circle cx="1226.5" cy="906.2" r="1.6"/><circle cx="1240.7" cy="961.0" r="1.6"/><circle cx="1229.8" cy="921.8" r="1.6"/><circle cx="1226.0" cy="878.9" r="1.6"/><circle cx="1233.3" cy="873.5" r="1.6"/><circle cx="1220.3" cy="933.0" r="1.6"/><circle cx="1226.6" cy="979.1" r="1.6"/><circle cx="1240.4" cy="968.7" r="1.6"/><circle cx="1223.4" cy="984.4" r="1.6"/><circle cx="1242.3" cy="911.9" r="1.6"/><circle cx="1219.2" cy="855.3" r="1.6"/><circle cx="1231.2" cy="930.7" r="1.6"/><circle cx="1238.6" cy="979.1" r="1.6"/><circle cx="1244.7" cy="927.1" r="1.6"/><circle cx="1231.8" cy="924.3" r="1.6"/><circle cx="1228.3" cy="947.1" r="1.6"/><circle cx="1233.8" cy="902.5" r="1.6"/><circle cx="1243.3" cy="901.6" r="1.6"/><circle cx="1232.0" cy="945.9" r="1.6"/><circle cx="1227.9" cy="867.3" r="1.6"/><circle cx="1232.9" cy="908.4" r="1.6"/><circle cx="1241.5" cy="932.0" r="1.6"/><circle cx="1230.9" cy="985.2" r="1.6"/><circle cx="1234.6" cy="913.8" r="1.6"/><circle cx="1227.1" cy="989.5" r="1.6"/><circle cx="1239.8" cy="926.0" r="1.6"/><circle cx="1226.4" cy="877.1" r="1.6"/><circle cx="1240.0" cy="987.1" r="1.6"/><circle cx="1220.9" cy="923.6" r="1.6"/></g>
<g fill="#e46a6a" fill-opacity="0.55"><circle cx="1236.4" cy="851.4" r="2.1"/><circle cx="1244.4" cy="849.6" r="2.1"/><circle cx="1229.2" cy="851.2" r="2.1"/><circle cx="1225.7" cy="826.7" r="2.1"/><circle cx="1231.4" cy="841.0" r="2.1"/><circle cx="1222.8" cy="828.4" r="2.1"/><circle cx="1234.1" cy="844.6" r="2.1"/><circle cx="1244.5" cy="835.6" r="2.1"/><circle cx="1219.0" cy="844.7" r="2.1"/><circle cx="1239.0" cy="837.7" r="2.1"/><circle cx="1236.4" cy="833.8" r="2.1"/><circle cx="1226.1" cy="811.8" r="2.1"/><circle cx="1233.6" cy="850.1" r="2.1"/><circle cx="1223.2" cy="845.6" r="2.1"/><circle cx="1232.7" cy="840.6" r="2.1"/><circle cx="1235.2" cy="832.1" r="2.1"/><circle cx="1244.6" cy="841.7" r="2.1"/><circle cx="1228.9" cy="843.0" r="2.1"/><circle cx="1232.0" cy="810.0" r="2.1"/></g>
<text transform="translate(1197.3,854.7)" font-size="38" text-anchor="middle" font-weight="bold">*</text>
<rect x="1104.9" y="1003.1" width="56.6" height="32.4" fill="#d4d4d4" stroke="#231f1f" stroke-width="3"/><text transform="translate(1133.7,1027.9)" font-size="24.5" text-anchor="middle" fill="#111">Nx</text>
<rect x="1190.1" y="1003.1" width="56.4" height="32.4" fill="#4266ff" stroke="#231f1f" stroke-width="3"/><text transform="translate(1218.8,1027.9)" font-size="24.5" text-anchor="middle" fill="#fff">IHx</text>
<text transform="translate(1473.2,729.0)" font-size="24" text-anchor="middle" font-weight="bold">SM 36:1; O2</text>
<line x1="1392.3" y1="775.3" x2="1551.2" y2="775.3" stroke="#cfcfcf" stroke-width="1.1"/>
<text transform="translate(1385.6,780.9)" font-size="16" text-anchor="end">10500</text>
<line x1="1392.3" y1="812.3" x2="1551.2" y2="812.3" stroke="#cfcfcf" stroke-width="1.1"/>
<text transform="translate(1385.6,817.9)" font-size="16" text-anchor="end">9000</text>
<line x1="1392.3" y1="849.1" x2="1551.2" y2="849.1" stroke="#cfcfcf" stroke-width="1.1"/>
<text transform="translate(1385.6,854.7)" font-size="16" text-anchor="end">7500</text>
<line x1="1392.3" y1="885.8" x2="1551.2" y2="885.8" stroke="#cfcfcf" stroke-width="1.1"/>
<text transform="translate(1385.6,891.4)" font-size="16" text-anchor="end">6000</text>
<line x1="1392.3" y1="922.6" x2="1551.2" y2="922.6" stroke="#cfcfcf" stroke-width="1.1"/>
<text transform="translate(1385.6,928.2)" font-size="16" text-anchor="end">4500</text>
<line x1="1392.3" y1="959.4" x2="1551.2" y2="959.4" stroke="#cfcfcf" stroke-width="1.1"/>
<text transform="translate(1385.6,965.0)" font-size="16" text-anchor="end">3000</text>
<g stroke="#222" fill="none"><line x1="1407.4" y1="769.4" x2="1407.4" y2="812.3" stroke-width="0.9" stroke-dasharray="2.2,1.3"/><line x1="1407.4" y1="864.5" x2="1407.4" y2="974.3" stroke-width="0.9" stroke-dasharray="2.2,1.3"/><line x1="1402.4" y1="769.4" x2="1412.4" y2="769.4" stroke-width="1"/><line x1="1402.4" y1="974.3" x2="1412.4" y2="974.3" stroke-width="1"/><rect x="1397.2" y="812.3" width="20.4" height="52.2" fill="#fff" stroke-width="1"/><line x1="1397.2" y1="833.7" x2="1417.6" y2="833.7" stroke-width="1.1"/></g>
<linearGradient id="sg1427" x1="0" y1="0" x2="0" y2="1"><stop offset="0.000" stop-color="#1e90ff" stop-opacity="0.4"/><stop offset="0.056" stop-color="#1e90ff" stop-opacity="0.8"/><stop offset="0.427" stop-color="#1e90ff" stop-opacity="0.85"/><stop offset="0.692" stop-color="#1e90ff" stop-opacity="0.7"/><stop offset="0.905" stop-color="#1e90ff" stop-opacity="0.5"/><stop offset="1.000" stop-color="#1e90ff" stop-opacity="0.18"/></linearGradient>
<rect x="1428.0" y="769.4" width="26.9" height="188.6" fill="url(#sg1427)"/>
<g fill="#1e90ff" fill-opacity="0.3"><circle cx="1432.6" cy="792.3" r="1.9"/><circle cx="1431.3" cy="912.6" r="1.9"/><circle cx="1432.9" cy="788.3" r="1.9"/><circle cx="1449.8" cy="867.9" r="1.9"/><circle cx="1449.4" cy="885.0" r="1.9"/><circle cx="1428.8" cy="781.1" r="1.9"/><circle cx="1436.9" cy="914.7" r="1.9"/><circle cx="1437.7" cy="904.3" r="1.9"/><circle cx="1435.4" cy="801.4" r="1.9"/><circle cx="1451.9" cy="788.2" r="1.9"/><circle cx="1437.5" cy="879.2" r="1.9"/><circle cx="1438.5" cy="854.2" r="1.9"/><circle cx="1451.6" cy="779.7" r="1.9"/><circle cx="1453.4" cy="879.3" r="1.9"/><circle cx="1444.6" cy="852.3" r="1.9"/><circle cx="1429.6" cy="816.4" r="1.9"/><circle cx="1450.6" cy="945.0" r="1.9"/><circle cx="1451.8" cy="828.8" r="1.9"/><circle cx="1436.4" cy="923.3" r="1.9"/><circle cx="1453.4" cy="883.0" r="1.9"/><circle cx="1453.1" cy="862.9" r="1.9"/><circle cx="1438.6" cy="815.2" r="1.9"/><circle cx="1434.2" cy="904.9" r="1.9"/><circle cx="1451.2" cy="827.7" r="1.9"/><circle cx="1449.0" cy="860.8" r="1.9"/><circle cx="1433.0" cy="815.3" r="1.9"/><circle cx="1433.3" cy="837.0" r="1.9"/><circle cx="1436.0" cy="952.6" r="1.9"/><circle cx="1431.5" cy="875.3" r="1.9"/><circle cx="1438.5" cy="870.1" r="1.9"/><circle cx="1430.2" cy="845.4" r="1.9"/><circle cx="1449.9" cy="792.7" r="1.9"/><circle cx="1434.8" cy="835.6" r="1.9"/><circle cx="1435.8" cy="805.5" r="1.9"/><circle cx="1429.4" cy="814.1" r="1.9"/><circle cx="1437.3" cy="894.7" r="1.9"/><circle cx="1446.8" cy="798.8" r="1.9"/><circle cx="1435.5" cy="786.9" r="1.9"/><circle cx="1431.8" cy="926.9" r="1.9"/><circle cx="1450.2" cy="853.0" r="1.9"/><circle cx="1432.6" cy="921.2" r="1.9"/><circle cx="1447.2" cy="836.0" r="1.9"/><circle cx="1453.3" cy="840.5" r="1.9"/><circle cx="1453.1" cy="808.6" r="1.9"/><circle cx="1434.4" cy="864.6" r="1.9"/><circle cx="1431.9" cy="854.8" r="1.9"/><circle cx="1435.3" cy="902.6" r="1.9"/><circle cx="1443.7" cy="939.1" r="1.9"/><circle cx="1434.9" cy="838.8" r="1.9"/><circle cx="1434.0" cy="884.1" r="1.9"/><circle cx="1431.7" cy="933.9" r="1.9"/><circle cx="1442.6" cy="866.2" r="1.9"/><circle cx="1448.5" cy="820.4" r="1.9"/><circle cx="1445.5" cy="842.0" r="1.9"/><circle cx="1436.5" cy="876.5" r="1.9"/><circle cx="1430.7" cy="842.9" r="1.9"/><circle cx="1450.5" cy="802.8" r="1.9"/><circle cx="1445.7" cy="829.9" r="1.9"/><circle cx="1443.1" cy="790.0" r="1.9"/><circle cx="1441.5" cy="837.6" r="1.9"/><circle cx="1430.2" cy="825.4" r="1.9"/><circle cx="1434.4" cy="828.1" r="1.9"/><circle cx="1447.1" cy="793.2" r="1.9"/><circle cx="1438.9" cy="822.7" r="1.9"/><circle cx="1448.6" cy="940.8" r="1.9"/><circle cx="1450.8" cy="935.9" r="1.9"/><circle cx="1435.7" cy="794.3" r="1.9"/><circle cx="1446.1" cy="775.0" r="1.9"/><circle cx="1437.6" cy="894.6" r="1.9"/><circle cx="1445.6" cy="847.2" r="1.9"/><circle cx="1434.9" cy="901.3" r="1.9"/><circle cx="1437.6" cy="929.1" r="1.9"/><circle cx="1433.2" cy="888.0" r="1.9"/><circle cx="1452.1" cy="791.1" r="1.9"/><circle cx="1447.0" cy="907.8" r="1.9"/><circle cx="1429.5" cy="777.0" r="1.9"/><circle cx="1433.6" cy="800.0" r="1.9"/><circle cx="1438.4" cy="826.6" r="1.9"/><circle cx="1436.6" cy="776.8" r="1.9"/><circle cx="1433.2" cy="889.8" r="1.9"/><circle cx="1443.3" cy="927.7" r="1.9"/><circle cx="1435.1" cy="904.6" r="1.9"/><circle cx="1446.2" cy="851.4" r="1.9"/><circle cx="1428.5" cy="835.2" r="1.9"/><circle cx="1448.6" cy="926.7" r="1.9"/><circle cx="1429.6" cy="823.4" r="1.9"/><circle cx="1444.2" cy="930.5" r="1.9"/><circle cx="1434.8" cy="778.3" r="1.9"/><circle cx="1449.0" cy="790.4" r="1.9"/><circle cx="1452.2" cy="809.0" r="1.9"/><circle cx="1430.7" cy="910.8" r="1.9"/><circle cx="1438.7" cy="900.4" r="1.9"/><circle cx="1450.0" cy="910.4" r="1.9"/><circle cx="1430.8" cy="822.4" r="1.9"/><circle cx="1439.5" cy="947.9" r="1.9"/><circle cx="1446.4" cy="944.8" r="1.9"/><circle cx="1450.0" cy="908.7" r="1.9"/><circle cx="1440.2" cy="887.9" r="1.9"/><circle cx="1446.6" cy="779.6" r="1.9"/><circle cx="1441.8" cy="850.2" r="1.9"/><circle cx="1431.8" cy="944.4" r="1.9"/><circle cx="1429.6" cy="913.1" r="1.9"/><circle cx="1449.4" cy="901.9" r="1.9"/><circle cx="1442.7" cy="818.7" r="1.9"/><circle cx="1445.0" cy="952.2" r="1.9"/><circle cx="1435.0" cy="872.0" r="1.9"/><circle cx="1437.8" cy="780.6" r="1.9"/><circle cx="1433.7" cy="847.0" r="1.9"/><circle cx="1432.0" cy="828.0" r="1.9"/><circle cx="1445.9" cy="902.7" r="1.9"/></g>
<g fill="#ffffff" fill-opacity="0.18"><circle cx="1434.8" cy="814.3" r="1.6"/><circle cx="1440.0" cy="866.6" r="1.6"/><circle cx="1437.6" cy="945.9" r="1.6"/><circle cx="1451.4" cy="825.9" r="1.6"/><circle cx="1443.1" cy="796.2" r="1.6"/><circle cx="1449.6" cy="832.3" r="1.6"/><circle cx="1448.2" cy="872.8" r="1.6"/><circle cx="1445.8" cy="801.3" r="1.6"/><circle cx="1440.4" cy="882.3" r="1.6"/><circle cx="1450.0" cy="913.9" r="1.6"/><circle cx="1436.0" cy="791.0" r="1.6"/><circle cx="1433.8" cy="837.4" r="1.6"/><circle cx="1435.8" cy="780.8" r="1.6"/><circle cx="1446.7" cy="806.6" r="1.6"/><circle cx="1431.4" cy="853.9" r="1.6"/><circle cx="1440.6" cy="830.6" r="1.6"/><circle cx="1432.9" cy="837.9" r="1.6"/><circle cx="1428.8" cy="782.9" r="1.6"/><circle cx="1447.9" cy="956.5" r="1.6"/><circle cx="1447.1" cy="785.2" r="1.6"/><circle cx="1443.1" cy="954.3" r="1.6"/><circle cx="1441.2" cy="789.9" r="1.6"/><circle cx="1433.4" cy="851.3" r="1.6"/><circle cx="1428.7" cy="871.8" r="1.6"/><circle cx="1445.2" cy="942.8" r="1.6"/><circle cx="1452.7" cy="887.8" r="1.6"/><circle cx="1435.0" cy="892.5" r="1.6"/><circle cx="1432.1" cy="815.8" r="1.6"/><circle cx="1448.6" cy="774.6" r="1.6"/><circle cx="1436.2" cy="927.7" r="1.6"/><circle cx="1445.0" cy="804.4" r="1.6"/><circle cx="1452.5" cy="928.9" r="1.6"/><circle cx="1448.8" cy="801.2" r="1.6"/><circle cx="1447.7" cy="926.0" r="1.6"/><circle cx="1433.3" cy="831.0" r="1.6"/><circle cx="1436.8" cy="925.1" r="1.6"/><circle cx="1442.8" cy="838.9" r="1.6"/><circle cx="1450.0" cy="839.0" r="1.6"/><circle cx="1429.6" cy="814.5" r="1.6"/><circle cx="1444.8" cy="876.3" r="1.6"/><circle cx="1446.8" cy="924.0" r="1.6"/><circle cx="1453.0" cy="940.1" r="1.6"/><circle cx="1441.4" cy="862.6" r="1.6"/><circle cx="1436.3" cy="799.1" r="1.6"/><circle cx="1430.6" cy="879.0" r="1.6"/><circle cx="1432.7" cy="899.2" r="1.6"/><circle cx="1453.6" cy="853.0" r="1.6"/><circle cx="1429.5" cy="786.3" r="1.6"/><circle cx="1433.4" cy="852.3" r="1.6"/><circle cx="1428.6" cy="905.7" r="1.6"/><circle cx="1450.7" cy="928.0" r="1.6"/><circle cx="1439.5" cy="917.8" r="1.6"/><circle cx="1445.6" cy="822.8" r="1.6"/><circle cx="1439.4" cy="866.5" r="1.6"/><circle cx="1439.9" cy="833.3" r="1.6"/></g>
<g fill="#e46a6a" fill-opacity="0.55"><circle cx="1449.9" cy="763.9" r="2.1"/><circle cx="1432.8" cy="767.9" r="2.1"/><circle cx="1440.0" cy="755.8" r="2.1"/><circle cx="1437.5" cy="761.9" r="2.1"/><circle cx="1430.7" cy="752.7" r="2.1"/><circle cx="1440.4" cy="756.5" r="2.1"/><circle cx="1452.0" cy="769.0" r="2.1"/><circle cx="1453.7" cy="767.3" r="2.1"/><circle cx="1444.6" cy="768.8" r="2.1"/><circle cx="1430.1" cy="766.4" r="2.1"/><circle cx="1444.3" cy="764.1" r="2.1"/><circle cx="1443.3" cy="755.8" r="2.1"/><circle cx="1441.0" cy="768.7" r="2.1"/><circle cx="1436.3" cy="763.6" r="2.1"/><circle cx="1451.4" cy="757.0" r="2.1"/><circle cx="1433.4" cy="744.5" r="2.1"/><circle cx="1440.1" cy="764.1" r="2.1"/><circle cx="1445.6" cy="748.2" r="2.1"/><circle cx="1443.0" cy="741.0" r="2.1"/></g>
<g stroke="#222" fill="none"><line x1="1496.8" y1="805.6" x2="1496.8" y2="848.3" stroke-width="0.9" stroke-dasharray="2.2,1.3"/><line x1="1496.8" y1="893.5" x2="1496.8" y2="987.4" stroke-width="0.9" stroke-dasharray="2.2,1.3"/><line x1="1491.8" y1="805.6" x2="1501.8" y2="805.6" stroke-width="1"/><line x1="1491.8" y1="987.4" x2="1501.8" y2="987.4" stroke-width="1"/><rect x="1486.4" y="848.3" width="20.9" height="45.2" fill="#fff" stroke-width="1"/><line x1="1486.4" y1="868.2" x2="1507.3" y2="868.2" stroke-width="1.1"/></g>
<linearGradient id="sg1516" x1="0" y1="0" x2="0" y2="1"><stop offset="0.000" stop-color="#1e90ff" stop-opacity="0.35"/><stop offset="0.064" stop-color="#1e90ff" stop-opacity="0.75"/><stop offset="0.444" stop-color="#1e90ff" stop-opacity="0.85"/><stop offset="0.737" stop-color="#1e90ff" stop-opacity="0.65"/><stop offset="0.942" stop-color="#1e90ff" stop-opacity="0.35"/><stop offset="1.000" stop-color="#1e90ff" stop-opacity="0.12"/></linearGradient>
<rect x="1517.0" y="804.0" width="27.3" height="171.0" fill="url(#sg1516)"/>
<g fill="#1e90ff" fill-opacity="0.3"><circle cx="1532.8" cy="867.6" r="1.9"/><circle cx="1531.4" cy="875.2" r="1.9"/><circle cx="1527.9" cy="900.6" r="1.9"/><circle cx="1522.2" cy="823.5" r="1.9"/><circle cx="1531.9" cy="956.2" r="1.9"/><circle cx="1540.2" cy="823.2" r="1.9"/><circle cx="1520.0" cy="847.3" r="1.9"/><circle cx="1524.1" cy="894.8" r="1.9"/><circle cx="1532.1" cy="887.7" r="1.9"/><circle cx="1532.6" cy="842.7" r="1.9"/><circle cx="1531.0" cy="823.3" r="1.9"/><circle cx="1519.6" cy="904.6" r="1.9"/><circle cx="1519.4" cy="873.8" r="1.9"/><circle cx="1540.2" cy="879.2" r="1.9"/><circle cx="1536.3" cy="898.1" r="1.9"/><circle cx="1520.5" cy="933.4" r="1.9"/><circle cx="1536.5" cy="973.4" r="1.9"/><circle cx="1539.3" cy="821.5" r="1.9"/><circle cx="1522.0" cy="871.0" r="1.9"/><circle cx="1532.3" cy="968.2" r="1.9"/><circle cx="1521.1" cy="936.5" r="1.9"/><circle cx="1519.0" cy="936.7" r="1.9"/><circle cx="1527.3" cy="844.5" r="1.9"/><circle cx="1533.1" cy="806.6" r="1.9"/><circle cx="1525.4" cy="840.4" r="1.9"/><circle cx="1528.7" cy="925.0" r="1.9"/><circle cx="1533.8" cy="956.0" r="1.9"/><circle cx="1532.3" cy="953.1" r="1.9"/><circle cx="1540.4" cy="960.9" r="1.9"/><circle cx="1537.1" cy="832.7" r="1.9"/><circle cx="1537.6" cy="862.4" r="1.9"/><circle cx="1539.2" cy="920.4" r="1.9"/><circle cx="1527.3" cy="825.0" r="1.9"/><circle cx="1542.4" cy="930.1" r="1.9"/><circle cx="1518.6" cy="927.4" r="1.9"/><circle cx="1520.1" cy="907.2" r="1.9"/><circle cx="1538.6" cy="897.9" r="1.9"/><circle cx="1541.8" cy="823.3" r="1.9"/><circle cx="1524.2" cy="919.5" r="1.9"/><circle cx="1529.2" cy="837.0" r="1.9"/><circle cx="1532.8" cy="947.3" r="1.9"/><circle cx="1518.1" cy="823.4" r="1.9"/><circle cx="1538.6" cy="822.9" r="1.9"/><circle cx="1532.1" cy="835.7" r="1.9"/><circle cx="1535.6" cy="853.6" r="1.9"/><circle cx="1521.3" cy="869.1" r="1.9"/><circle cx="1531.7" cy="953.7" r="1.9"/><circle cx="1538.8" cy="921.9" r="1.9"/><circle cx="1517.9" cy="966.2" r="1.9"/><circle cx="1521.5" cy="862.5" r="1.9"/><circle cx="1540.5" cy="889.8" r="1.9"/><circle cx="1518.4" cy="940.9" r="1.9"/><circle cx="1539.0" cy="835.2" r="1.9"/><circle cx="1527.8" cy="920.2" r="1.9"/><circle cx="1521.7" cy="885.4" r="1.9"/><circle cx="1527.8" cy="948.5" r="1.9"/><circle cx="1533.6" cy="953.3" r="1.9"/><circle cx="1526.2" cy="817.0" r="1.9"/><circle cx="1541.0" cy="841.0" r="1.9"/><circle cx="1518.6" cy="904.8" r="1.9"/><circle cx="1527.0" cy="833.0" r="1.9"/><circle cx="1532.7" cy="884.0" r="1.9"/><circle cx="1526.8" cy="870.3" r="1.9"/><circle cx="1532.7" cy="805.0" r="1.9"/><circle cx="1518.0" cy="861.1" r="1.9"/><circle cx="1543.4" cy="882.6" r="1.9"/><circle cx="1521.3" cy="811.8" r="1.9"/><circle cx="1524.7" cy="918.7" r="1.9"/><circle cx="1530.7" cy="850.7" r="1.9"/><circle cx="1532.5" cy="848.8" r="1.9"/><circle cx="1542.7" cy="894.3" r="1.9"/><circle cx="1518.4" cy="973.7" r="1.9"/><circle cx="1537.8" cy="899.9" r="1.9"/><circle cx="1537.9" cy="953.2" r="1.9"/><circle cx="1534.2" cy="912.3" r="1.9"/><circle cx="1524.9" cy="866.1" r="1.9"/><circle cx="1540.5" cy="940.0" r="1.9"/><circle cx="1535.4" cy="964.5" r="1.9"/><circle cx="1537.6" cy="856.0" r="1.9"/><circle cx="1530.9" cy="930.5" r="1.9"/><circle cx="1526.7" cy="912.6" r="1.9"/><circle cx="1528.2" cy="898.2" r="1.9"/><circle cx="1526.4" cy="814.3" r="1.9"/><circle cx="1543.5" cy="859.3" r="1.9"/><circle cx="1527.2" cy="886.3" r="1.9"/><circle cx="1523.7" cy="845.6" r="1.9"/><circle cx="1521.1" cy="863.7" r="1.9"/><circle cx="1540.4" cy="805.2" r="1.9"/><circle cx="1529.2" cy="881.5" r="1.9"/><circle cx="1525.5" cy="901.3" r="1.9"/><circle cx="1519.2" cy="832.9" r="1.9"/><circle cx="1525.6" cy="855.6" r="1.9"/><circle cx="1532.0" cy="928.3" r="1.9"/><circle cx="1526.5" cy="964.3" r="1.9"/><circle cx="1532.8" cy="961.5" r="1.9"/><circle cx="1522.2" cy="817.7" r="1.9"/><circle cx="1543.5" cy="903.3" r="1.9"/><circle cx="1537.9" cy="865.0" r="1.9"/><circle cx="1540.3" cy="877.2" r="1.9"/><circle cx="1530.2" cy="815.6" r="1.9"/><circle cx="1524.8" cy="957.7" r="1.9"/><circle cx="1518.1" cy="848.0" r="1.9"/><circle cx="1524.5" cy="832.1" r="1.9"/><circle cx="1523.2" cy="924.5" r="1.9"/><circle cx="1522.8" cy="872.3" r="1.9"/><circle cx="1540.2" cy="907.1" r="1.9"/><circle cx="1522.7" cy="914.8" r="1.9"/><circle cx="1542.8" cy="929.5" r="1.9"/><circle cx="1519.6" cy="906.8" r="1.9"/><circle cx="1540.5" cy="942.4" r="1.9"/></g>
<g fill="#ffffff" fill-opacity="0.18"><circle cx="1521.1" cy="862.3" r="1.6"/><circle cx="1531.6" cy="836.2" r="1.6"/><circle cx="1534.3" cy="953.7" r="1.6"/><circle cx="1523.1" cy="961.8" r="1.6"/><circle cx="1537.2" cy="859.9" r="1.6"/><circle cx="1528.2" cy="915.0" r="1.6"/><circle cx="1526.4" cy="920.1" r="1.6"/><circle cx="1528.4" cy="813.8" r="1.6"/><circle cx="1534.0" cy="811.8" r="1.6"/><circle cx="1530.5" cy="861.2" r="1.6"/><circle cx="1524.3" cy="906.2" r="1.6"/><circle cx="1517.9" cy="883.2" r="1.6"/><circle cx="1532.3" cy="962.2" r="1.6"/><circle cx="1519.0" cy="972.9" r="1.6"/><circle cx="1536.5" cy="909.0" r="1.6"/><circle cx="1520.0" cy="860.3" r="1.6"/><circle cx="1521.3" cy="830.7" r="1.6"/><circle cx="1519.9" cy="935.2" r="1.6"/><circle cx="1528.6" cy="943.2" r="1.6"/><circle cx="1533.0" cy="896.1" r="1.6"/><circle cx="1534.8" cy="898.9" r="1.6"/><circle cx="1526.2" cy="906.9" r="1.6"/><circle cx="1524.3" cy="930.7" r="1.6"/><circle cx="1537.6" cy="925.7" r="1.6"/><circle cx="1525.6" cy="936.7" r="1.6"/><circle cx="1543.2" cy="936.1" r="1.6"/><circle cx="1524.8" cy="881.5" r="1.6"/><circle cx="1542.2" cy="893.5" r="1.6"/><circle cx="1517.7" cy="826.5" r="1.6"/><circle cx="1534.7" cy="885.4" r="1.6"/><circle cx="1527.0" cy="936.4" r="1.6"/><circle cx="1523.5" cy="973.2" r="1.6"/><circle cx="1519.9" cy="933.4" r="1.6"/><circle cx="1521.0" cy="808.8" r="1.6"/><circle cx="1530.7" cy="814.3" r="1.6"/><circle cx="1522.3" cy="898.9" r="1.6"/><circle cx="1527.1" cy="964.7" r="1.6"/><circle cx="1522.2" cy="829.5" r="1.6"/><circle cx="1541.7" cy="930.2" r="1.6"/><circle cx="1518.3" cy="831.7" r="1.6"/><circle cx="1523.9" cy="937.1" r="1.6"/><circle cx="1530.6" cy="972.0" r="1.6"/><circle cx="1526.6" cy="912.8" r="1.6"/><circle cx="1529.6" cy="940.9" r="1.6"/><circle cx="1541.3" cy="859.4" r="1.6"/><circle cx="1536.8" cy="822.4" r="1.6"/><circle cx="1534.5" cy="815.2" r="1.6"/><circle cx="1540.2" cy="872.7" r="1.6"/><circle cx="1532.3" cy="814.3" r="1.6"/><circle cx="1541.7" cy="874.1" r="1.6"/><circle cx="1534.0" cy="965.6" r="1.6"/><circle cx="1524.1" cy="842.3" r="1.6"/><circle cx="1528.9" cy="848.9" r="1.6"/><circle cx="1522.8" cy="843.6" r="1.6"/><circle cx="1534.4" cy="933.8" r="1.6"/></g>
<g fill="#e46a6a" fill-opacity="0.55"><circle cx="1543.7" cy="789.5" r="2.1"/><circle cx="1532.5" cy="786.9" r="2.1"/><circle cx="1540.2" cy="784.7" r="2.1"/><circle cx="1524.5" cy="801.8" r="2.1"/><circle cx="1539.1" cy="799.7" r="2.1"/><circle cx="1526.2" cy="789.0" r="2.1"/><circle cx="1540.9" cy="794.3" r="2.1"/><circle cx="1535.5" cy="784.9" r="2.1"/><circle cx="1529.4" cy="796.7" r="2.1"/><circle cx="1540.7" cy="796.4" r="2.1"/><circle cx="1540.7" cy="786.7" r="2.1"/><circle cx="1538.0" cy="791.2" r="2.1"/><circle cx="1522.3" cy="801.7" r="2.1"/><circle cx="1543.7" cy="801.7" r="2.1"/><circle cx="1518.1" cy="789.5" r="2.1"/><circle cx="1543.1" cy="782.7" r="2.1"/><circle cx="1541.5" cy="775.1" r="2.1"/><circle cx="1536.9" cy="784.4" r="2.1"/><circle cx="1529.0" cy="774.0" r="2.1"/><circle cx="1533.0" cy="775.0" r="2.1"/></g>
<text transform="translate(1495.6,803.8)" font-size="38" text-anchor="middle" font-weight="bold">*</text>
<rect x="1401.2" y="1003.1" width="56.1" height="32.4" fill="#d4d4d4" stroke="#231f1f" stroke-width="3"/><text transform="translate(1429.8,1027.9)" font-size="24.5" text-anchor="middle" fill="#111">Nx</text>
<rect x="1485.9" y="1003.1" width="56.4" height="32.4" fill="#4266ff" stroke="#231f1f" stroke-width="3"/><text transform="translate(1514.6,1027.9)" font-size="24.5" text-anchor="middle" fill="#fff">IHx</text>
<text transform="translate(3.8,1124.0)" font-size="34" font-weight="bold">e</text>
<g fill="none" stroke="#222" stroke-width="2.6" stroke-linecap="round" stroke-linejoin="miter"><circle cx="89.4" cy="1203.3" r="10.2"/><path d="M94.1,1194.2 L103.0,1177.0 M105.3,1191.6 L103.0,1177.0 L89.8,1183.6"/></g>
<text transform="translate(114.6,1212.9)" font-size="24" font-weight="bold">P17</text>
<text transform="translate(214.0,1212.9)" font-size="24" font-weight="bold">PCA</text>
<g stroke="#d9d9d9" stroke-width="1.1"><line x1="75.6" y1="1227.3" x2="75.6" y2="1560"/><line x1="122.3" y1="1227.3" x2="122.3" y2="1560"/><line x1="166.9" y1="1227.3" x2="166.9" y2="1560"/><line x1="211.7" y1="1227.3" x2="211.7" y2="1560"/><line x1="257.0" y1="1227.3" x2="257.0" y2="1560"/><line x1="302.1" y1="1227.3" x2="302.1" y2="1560"/><line x1="348.1" y1="1227.3" x2="348.1" y2="1560"/><line x1="392.7" y1="1227.3" x2="392.7" y2="1560"/><line x1="70" y1="1258.4" x2="404" y2="1258.4"/><line x1="70" y1="1304.0" x2="404" y2="1304.0"/><line x1="70" y1="1351.0" x2="404" y2="1351.0"/><line x1="70" y1="1398.0" x2="404" y2="1398.0"/><line x1="70" y1="1444.5" x2="404" y2="1444.5"/><line x1="70" y1="1491.0" x2="404" y2="1491.0"/><line x1="70" y1="1537.2" x2="404" y2="1537.2"/></g>
<ellipse cx="288" cy="1396" rx="72" ry="139" transform="rotate(-20 288 1396)" fill="#a9a9a9" fill-opacity="0.42"/>
<ellipse cx="225.8" cy="1400.1" rx="128" ry="80" transform="rotate(-25 225.8 1400.1)" fill="#6e82ff" fill-opacity="0.28"/>
<g stroke="#222" stroke-width="0.9" fill="#d4d4d4"><circle cx="278.3" cy="1323.7" r="3.9"/><circle cx="291.6" cy="1341.0" r="3.9"/><circle cx="235.5" cy="1386.6" r="3.9"/><circle cx="315.5" cy="1423.2" r="3.9"/><circle cx="284.0" cy="1437.0" r="3.9"/><circle cx="329.4" cy="1460.2" r="3.9"/></g>
<g stroke="#222" stroke-width="0.9" fill="#4266ff"><circle cx="215.6" cy="1353.2" r="3.9"/><circle cx="248.8" cy="1373.6" r="3.9"/><circle cx="301.0" cy="1381.4" r="3.9"/><circle cx="149.0" cy="1416.1" r="3.9"/><circle cx="234.7" cy="1417.9" r="3.9"/><circle cx="210.5" cy="1453.9" r="3.9"/></g>
<rect x="70" y="1227.3" width="334.0" height="332.7" fill="none" stroke="#000" stroke-width="3.6" stroke-linejoin="round"/>
<text transform="translate(76.2,1591.2)" font-size="24.5" text-anchor="middle">-8</text>
<text transform="translate(122.9,1591.2)" font-size="24.5" text-anchor="middle">-6</text>
<text transform="translate(167.5,1591.2)" font-size="24.5" text-anchor="middle">-4</text>
<text transform="translate(212.3,1591.2)" font-size="24.5" text-anchor="middle">-2</text>
<text transform="translate(257.6,1591.2)" font-size="24.5" text-anchor="middle">0</text>
<text transform="translate(302.7,1591.2)" font-size="24.5" text-anchor="middle">2</text>
<text transform="translate(348.7,1591.2)" font-size="24.5" text-anchor="middle">4</text>
<text transform="translate(393.3,1591.2)" font-size="24.5" text-anchor="middle">6</text>
<text transform="translate(57.5,1264.7)" font-size="24.5" text-anchor="end">6</text>
<text transform="translate(57.5,1308.8)" font-size="24.5" text-anchor="end">4</text>
<text transform="translate(57.5,1355.4)" font-size="24.5" text-anchor="end">2</text>
<text transform="translate(57.5,1401.6)" font-size="24.5" text-anchor="end">0</text>
<text transform="translate(57.5,1448.8)" font-size="24.5" text-anchor="end">-2</text>
<text transform="translate(57.5,1495.5)" font-size="24.5" text-anchor="end">-4</text>
<text transform="translate(57.5,1541.7)" font-size="24.5" text-anchor="end">-6</text>
<g stroke="#000" stroke-width="3.4"><line x1="76.2" y1="1560" x2="76.2" y2="1567"/><line x1="122.9" y1="1560" x2="122.9" y2="1567"/><line x1="167.5" y1="1560" x2="167.5" y2="1567"/><line x1="212.3" y1="1560" x2="212.3" y2="1567"/><line x1="257.6" y1="1560" x2="257.6" y2="1567"/><line x1="302.7" y1="1560" x2="302.7" y2="1567"/><line x1="348.7" y1="1560" x2="348.7" y2="1567"/><line x1="393.3" y1="1560" x2="393.3" y2="1567"/><line x1="62" y1="1258.2" x2="70" y2="1258.2"/><line x1="62" y1="1302.3" x2="70" y2="1302.3"/><line x1="62" y1="1348.9" x2="70" y2="1348.9"/><line x1="62" y1="1395.1" x2="70" y2="1395.1"/><line x1="62" y1="1442.3" x2="70" y2="1442.3"/><line x1="62" y1="1489.0" x2="70" y2="1489.0"/><line x1="62" y1="1535.2" x2="70" y2="1535.2"/></g>
<text transform="translate(237.7,1618.9)" font-size="24" text-anchor="middle">PC 1 (20.2%)</text>
<text transform="translate(30.0,1399.0) rotate(-90)" font-size="24" text-anchor="middle">PC 2 (14%)</text>
<circle cx="344.5" cy="1247.8" r="6.6" fill="#d4d4d4" stroke="#333" stroke-width="1.1"/><circle cx="344.5" cy="1271.7" r="6.6" fill="#4266ff" stroke="#333" stroke-width="1.1"/><text transform="translate(357.6,1253.9)" font-size="24">Nx</text><text transform="translate(357.6,1280.8)" font-size="24">IHx</text>
<text transform="translate(446.0,1123.8)" font-size="34" font-weight="bold">f</text>
<g fill="none" stroke="#222" stroke-width="2.6" stroke-linecap="round" stroke-linejoin="miter"><circle cx="524.0" cy="1203.2" r="10.2"/><path d="M529.4,1194.5 L540.2,1177.2 M541.3,1192.0 L540.2,1177.2 L526.5,1182.7"/></g>
<text transform="translate(547.5,1212.3)" font-size="24" font-weight="bold">P17</text>
<text transform="translate(626.9,1212.3)" font-size="24" font-weight="bold">PLS-DA</text>
<g stroke="#d9d9d9" stroke-width="1.1"><line x1="565.2" y1="1228" x2="565.2" y2="1561.3"/><line x1="627.1" y1="1228" x2="627.1" y2="1561.3"/><line x1="691.3" y1="1228" x2="691.3" y2="1561.3"/><line x1="753.1" y1="1228" x2="753.1" y2="1561.3"/><line x1="815.4" y1="1228" x2="815.4" y2="1561.3"/><line x1="507.7" y1="1237.4" x2="841.6" y2="1237.4"/><line x1="507.7" y1="1305.2" x2="841.6" y2="1305.2"/><line x1="507.7" y1="1374.3" x2="841.6" y2="1374.3"/><line x1="507.7" y1="1442.5" x2="841.6" y2="1442.5"/><line x1="507.7" y1="1511.5" x2="841.6" y2="1511.5"/></g>
<ellipse cx="638.6" cy="1397.6" rx="163.7" ry="19.5" transform="rotate(54.5 638.6 1397.6)" fill="#6e82ff" fill-opacity="0.28"/>
<ellipse cx="743.3" cy="1350.5" rx="102" ry="11.5" transform="rotate(50.8 743.3 1350.5)" fill="#a9a9a9" fill-opacity="0.42"/>
<g stroke="#222" stroke-width="0.9" fill="#d4d4d4"><circle cx="699.7" cy="1297.4" r="3.9"/><circle cx="739.5" cy="1336.7" r="3.9"/><circle cx="734.3" cy="1346.3" r="3.9"/><circle cx="747.1" cy="1353.3" r="3.9"/><circle cx="764.0" cy="1378.0" r="3.9"/><circle cx="777.0" cy="1389.2" r="3.9"/></g>
<g stroke="#222" stroke-width="0.9" fill="#4266ff"><circle cx="584.5" cy="1309.4" r="3.9"/><circle cx="620.4" cy="1380.9" r="3.9"/><circle cx="629.5" cy="1386.6" r="3.9"/><circle cx="638.6" cy="1406.2" r="3.9"/><circle cx="655.5" cy="1423.1" r="3.9"/><circle cx="702.3" cy="1474.6" r="3.9"/></g>
<rect x="507.7" y="1228" width="333.9" height="333.3" fill="none" stroke="#000" stroke-width="3.6" stroke-linejoin="round"/>
<text transform="translate(565.7,1591.2)" font-size="24.5" text-anchor="middle">-4</text>
<text transform="translate(627.6,1591.2)" font-size="24.5" text-anchor="middle">-2</text>
<text transform="translate(691.8,1591.2)" font-size="24.5" text-anchor="middle">0</text>
<text transform="translate(753.6,1591.2)" font-size="24.5" text-anchor="middle">2</text>
<text transform="translate(815.9,1591.2)" font-size="24.5" text-anchor="middle">4</text>
<text transform="translate(495.0,1244.2)" font-size="24.5" text-anchor="end">4</text>
<text transform="translate(495.0,1310.6)" font-size="24.5" text-anchor="end">2</text>
<text transform="translate(495.0,1378.5)" font-size="24.5" text-anchor="end">0</text>
<text transform="translate(495.0,1448.7)" font-size="24.5" text-anchor="end">-2</text>
<text transform="translate(495.0,1518.2)" font-size="24.5" text-anchor="end">-4</text>
<g stroke="#000" stroke-width="3.4"><line x1="565.7" y1="1561.3" x2="565.7" y2="1568.3"/><line x1="627.6" y1="1561.3" x2="627.6" y2="1568.3"/><line x1="691.8" y1="1561.3" x2="691.8" y2="1568.3"/><line x1="753.6" y1="1561.3" x2="753.6" y2="1568.3"/><line x1="815.9" y1="1561.3" x2="815.9" y2="1568.3"/><line x1="499.7" y1="1237.7" x2="507.7" y2="1237.7"/><line x1="499.7" y1="1304.1" x2="507.7" y2="1304.1"/><line x1="499.7" y1="1372.0" x2="507.7" y2="1372.0"/><line x1="499.7" y1="1442.2" x2="507.7" y2="1442.2"/><line x1="499.7" y1="1511.7" x2="507.7" y2="1511.7"/></g>
<text transform="translate(668.9,1619.5)" font-size="24" text-anchor="middle">Component 1 (18.4%)</text>
<text transform="translate(467.2,1383.4) rotate(-90)" font-size="24" text-anchor="middle">Component 2 (8.2%)</text>
<circle cx="782.2" cy="1247.4" r="6.6" fill="#d4d4d4" stroke="#333" stroke-width="1.1"/><circle cx="782.2" cy="1272.1" r="6.6" fill="#4266ff" stroke="#333" stroke-width="1.1"/><text transform="translate(796.0,1253.9)" font-size="24">Nx</text><text transform="translate(796.0,1280.8)" font-size="24">IHx</text>
<text transform="translate(887.7,1124.0)" font-size="34" font-weight="bold">g</text>
<text transform="translate(1409.3,1127.8)" font-size="24" text-anchor="middle" font-weight="bold">P17</text>
<text transform="translate(1177.9,1157.7)" font-size="24" font-weight="bold">Top 50 most differentially changed lipids</text>
<text transform="translate(1060.8,1178.9)" font-size="24">Male</text>
<g fill="none" stroke="#222" stroke-width="2.6" stroke-linecap="round" stroke-linejoin="miter"><circle cx="1131.7" cy="1172.9" r="10.1"/><path d="M1135.8,1163.7 L1144.3,1144.9 M1147.3,1159.2 L1144.3,1144.9 L1131.6,1152.2"/></g>
<rect x="1176.3" y="1178.8" width="227.7" height="32.5" fill="#d4d4d4" stroke="#231f1f" stroke-width="3"/>
<text transform="translate(1290.3,1202.2)" font-size="24" text-anchor="middle" fill="#111">Nx</text>
<rect x="1418.8" y="1178.8" width="227.7" height="32.5" fill="#4266ff" stroke="#231f1f" stroke-width="3"/>
<text transform="translate(1532.5,1202.2)" font-size="24" text-anchor="middle" fill="#fff">IHx</text>
<g><rect x="1174.0" y="1227.50" width="39.4" height="20.94" fill="#afafd8"/><rect x="1213.0" y="1227.50" width="39.4" height="20.94" fill="#e6b9b9"/><rect x="1252.0" y="1227.50" width="39.9" height="20.94" fill="#db9b9b"/><rect x="1291.5" y="1227.50" width="39.9" height="20.94" fill="#d99595"/><rect x="1331.0" y="1227.50" width="39.9" height="20.94" fill="#e0a8a8"/><rect x="1370.5" y="1227.50" width="43.3" height="20.94" fill="#e6b9b9"/><rect x="1413.4" y="1227.50" width="42.0" height="20.94" fill="#7e7ebe"/><rect x="1455.0" y="1227.50" width="39.4" height="20.94" fill="#9292c9"/><rect x="1494.0" y="1227.50" width="39.4" height="20.94" fill="#e0a8a8"/><rect x="1533.0" y="1227.50" width="40.4" height="20.94" fill="#e9e9f3"/><rect x="1573.0" y="1227.50" width="39.4" height="20.94" fill="#9292c9"/><rect x="1612.0" y="1227.50" width="39.9" height="20.94" fill="#2c2c96"/><rect x="1174.0" y="1248.04" width="39.4" height="20.94" fill="#f8f7fa"/><rect x="1213.0" y="1248.04" width="39.4" height="20.94" fill="#e0a8a8"/><rect x="1252.0" y="1248.04" width="39.9" height="20.94" fill="#dea2a2"/><rect x="1291.5" y="1248.04" width="39.9" height="20.94" fill="#ce7c7c"/><rect x="1331.0" y="1248.04" width="39.9" height="20.94" fill="#d48888"/><rect x="1370.5" y="1248.04" width="43.3" height="20.94" fill="#f5e3e3"/><rect x="1413.4" y="1248.04" width="42.0" height="20.94" fill="#6a6ab4"/><rect x="1455.0" y="1248.04" width="39.4" height="20.94" fill="#6a6ab4"/><rect x="1494.0" y="1248.04" width="39.4" height="20.94" fill="#eac1c1"/><rect x="1533.0" y="1248.04" width="40.4" height="20.94" fill="#a6a6d3"/><rect x="1573.0" y="1248.04" width="39.4" height="20.94" fill="#a6a6d3"/><rect x="1612.0" y="1248.04" width="39.9" height="20.94" fill="#7474b9"/><rect x="1174.0" y="1268.58" width="39.4" height="20.94" fill="#fcf8f8"/><rect x="1213.0" y="1268.58" width="39.4" height="20.94" fill="#dea2a2"/><rect x="1252.0" y="1268.58" width="39.9" height="20.94" fill="#e0a8a8"/><rect x="1291.5" y="1268.58" width="39.9" height="20.94" fill="#cc7676"/><rect x="1331.0" y="1268.58" width="39.9" height="20.94" fill="#e3b0b0"/><rect x="1370.5" y="1268.58" width="43.3" height="20.94" fill="#f3dada"/><rect x="1413.4" y="1268.58" width="42.0" height="20.94" fill="#6a6ab4"/><rect x="1455.0" y="1268.58" width="39.4" height="20.94" fill="#a6a6d3"/><rect x="1494.0" y="1268.58" width="39.4" height="20.94" fill="#edcaca"/><rect x="1533.0" y="1268.58" width="40.4" height="20.94" fill="#9292c9"/><rect x="1573.0" y="1268.58" width="39.4" height="20.94" fill="#cccce6"/><rect x="1612.0" y="1268.58" width="39.9" height="20.94" fill="#2c2c96"/><rect x="1174.0" y="1289.12" width="39.4" height="20.94" fill="#fcfafa"/><rect x="1213.0" y="1289.12" width="39.4" height="20.94" fill="#dea2a2"/><rect x="1252.0" y="1289.12" width="39.9" height="20.94" fill="#dea2a2"/><rect x="1291.5" y="1289.12" width="39.9" height="20.94" fill="#cc7676"/><rect x="1331.0" y="1289.12" width="39.9" height="20.94" fill="#e0a8a8"/><rect x="1370.5" y="1289.12" width="43.3" height="20.94" fill="#f8ebeb"/><rect x="1413.4" y="1289.12" width="42.0" height="20.94" fill="#7474b9"/><rect x="1455.0" y="1289.12" width="39.4" height="20.94" fill="#9c9cce"/><rect x="1494.0" y="1289.12" width="39.4" height="20.94" fill="#e6b9b9"/><rect x="1533.0" y="1289.12" width="40.4" height="20.94" fill="#afafd8"/><rect x="1573.0" y="1289.12" width="39.4" height="20.94" fill="#9c9cce"/><rect x="1612.0" y="1289.12" width="39.9" height="20.94" fill="#38389c"/><rect x="1174.0" y="1309.66" width="39.4" height="20.94" fill="#d6d6ea"/><rect x="1213.0" y="1309.66" width="39.4" height="20.94" fill="#e0a8a8"/><rect x="1252.0" y="1309.66" width="39.9" height="20.94" fill="#f3dada"/><rect x="1291.5" y="1309.66" width="39.9" height="20.94" fill="#d18282"/><rect x="1331.0" y="1309.66" width="39.9" height="20.94" fill="#d99595"/><rect x="1370.5" y="1309.66" width="43.3" height="20.94" fill="#d99595"/><rect x="1413.4" y="1309.66" width="42.0" height="20.94" fill="#b9b9dc"/><rect x="1455.0" y="1309.66" width="39.4" height="20.94" fill="#5e5eae"/><rect x="1494.0" y="1309.66" width="39.4" height="20.94" fill="#f5e3e3"/><rect x="1533.0" y="1309.66" width="40.4" height="20.94" fill="#9c9cce"/><rect x="1573.0" y="1309.66" width="39.4" height="20.94" fill="#fdfcfc"/><rect x="1612.0" y="1309.66" width="39.9" height="20.94" fill="#2c2c96"/><rect x="1174.0" y="1330.20" width="39.4" height="20.94" fill="#d6d6ea"/><rect x="1213.0" y="1330.20" width="39.4" height="20.94" fill="#d99595"/><rect x="1252.0" y="1330.20" width="39.9" height="20.94" fill="#f8ebeb"/><rect x="1291.5" y="1330.20" width="39.9" height="20.94" fill="#eac1c1"/><rect x="1331.0" y="1330.20" width="39.9" height="20.94" fill="#d48888"/><rect x="1370.5" y="1330.20" width="43.3" height="20.94" fill="#d99595"/><rect x="1413.4" y="1330.20" width="42.0" height="20.94" fill="#a6a6d3"/><rect x="1455.0" y="1330.20" width="39.4" height="20.94" fill="#e0dfef"/><rect x="1494.0" y="1330.20" width="39.4" height="20.94" fill="#e0a8a8"/><rect x="1533.0" y="1330.20" width="40.4" height="20.94" fill="#9c9cce"/><rect x="1573.0" y="1330.20" width="39.4" height="20.94" fill="#7474b9"/><rect x="1612.0" y="1330.20" width="39.9" height="20.94" fill="#2c2c96"/><rect x="1174.0" y="1350.74" width="39.4" height="20.94" fill="#e0a8a8"/><rect x="1213.0" y="1350.74" width="39.4" height="20.94" fill="#f5e3e3"/><rect x="1252.0" y="1350.74" width="39.9" height="20.94" fill="#d18282"/><rect x="1291.5" y="1350.74" width="39.9" height="20.94" fill="#eac1c1"/><rect x="1331.0" y="1350.74" width="39.9" height="20.94" fill="#e0dfef"/><rect x="1370.5" y="1350.74" width="43.3" height="20.94" fill="#e3b0b0"/><rect x="1413.4" y="1350.74" width="42.0" height="20.94" fill="#252592"/><rect x="1455.0" y="1350.74" width="39.4" height="20.94" fill="#e9e9f3"/><rect x="1494.0" y="1350.74" width="39.4" height="20.94" fill="#252592"/><rect x="1533.0" y="1350.74" width="40.4" height="20.94" fill="#e9e9f3"/><rect x="1573.0" y="1350.74" width="39.4" height="20.94" fill="#f8f7fa"/><rect x="1612.0" y="1350.74" width="39.9" height="20.94" fill="#f3dada"/><rect x="1174.0" y="1371.28" width="39.4" height="20.94" fill="#e6b9b9"/><rect x="1213.0" y="1371.28" width="39.4" height="20.94" fill="#e6b9b9"/><rect x="1252.0" y="1371.28" width="39.9" height="20.94" fill="#e6b9b9"/><rect x="1291.5" y="1371.28" width="39.9" height="20.94" fill="#eac1c1"/><rect x="1331.0" y="1371.28" width="39.9" height="20.94" fill="#faf4f4"/><rect x="1370.5" y="1371.28" width="43.3" height="20.94" fill="#edcaca"/><rect x="1413.4" y="1371.28" width="42.0" height="20.94" fill="#f5e3e3"/><rect x="1455.0" y="1371.28" width="39.4" height="20.94" fill="#5151a8"/><rect x="1494.0" y="1371.28" width="39.4" height="20.94" fill="#070784"/><rect x="1533.0" y="1371.28" width="40.4" height="20.94" fill="#7e7ebe"/><rect x="1573.0" y="1371.28" width="39.4" height="20.94" fill="#f5e3e3"/><rect x="1612.0" y="1371.28" width="39.9" height="20.94" fill="#f3dada"/><rect x="1174.0" y="1391.82" width="39.4" height="20.94" fill="#edcaca"/><rect x="1213.0" y="1391.82" width="39.4" height="20.94" fill="#edcaca"/><rect x="1252.0" y="1391.82" width="39.9" height="20.94" fill="#d6d6ea"/><rect x="1291.5" y="1391.82" width="39.9" height="20.94" fill="#faf4f4"/><rect x="1331.0" y="1391.82" width="39.9" height="20.94" fill="#b02d2d"/><rect x="1370.5" y="1391.82" width="43.3" height="20.94" fill="#e0a8a8"/><rect x="1413.4" y="1391.82" width="42.0" height="20.94" fill="#7474b9"/><rect x="1455.0" y="1391.82" width="39.4" height="20.94" fill="#afafd8"/><rect x="1494.0" y="1391.82" width="39.4" height="20.94" fill="#faf4f4"/><rect x="1533.0" y="1391.82" width="40.4" height="20.94" fill="#7474b9"/><rect x="1573.0" y="1391.82" width="39.4" height="20.94" fill="#cccce6"/><rect x="1612.0" y="1391.82" width="39.9" height="20.94" fill="#afafd8"/><rect x="1174.0" y="1412.36" width="39.4" height="20.94" fill="#bf5656"/><rect x="1213.0" y="1412.36" width="39.4" height="20.94" fill="#edcaca"/><rect x="1252.0" y="1412.36" width="39.9" height="20.94" fill="#f5e3e3"/><rect x="1291.5" y="1412.36" width="39.9" height="20.94" fill="#edcaca"/><rect x="1331.0" y="1412.36" width="39.9" height="20.94" fill="#f0d2d2"/><rect x="1370.5" y="1412.36" width="43.3" height="20.94" fill="#fcf9f9"/><rect x="1413.4" y="1412.36" width="42.0" height="20.94" fill="#4545a2"/><rect x="1455.0" y="1412.36" width="39.4" height="20.94" fill="#f0d2d2"/><rect x="1494.0" y="1412.36" width="39.4" height="20.94" fill="#eeeef5"/><rect x="1533.0" y="1412.36" width="40.4" height="20.94" fill="#7474b9"/><rect x="1573.0" y="1412.36" width="39.4" height="20.94" fill="#4545a2"/><rect x="1612.0" y="1412.36" width="39.9" height="20.94" fill="#f5e3e3"/><rect x="1174.0" y="1432.90" width="39.4" height="20.94" fill="#fdfcfc"/><rect x="1213.0" y="1432.90" width="39.4" height="20.94" fill="#bb4c4c"/><rect x="1252.0" y="1432.90" width="39.9" height="20.94" fill="#d6d6ea"/><rect x="1291.5" y="1432.90" width="39.9" height="20.94" fill="#eac1c1"/><rect x="1331.0" y="1432.90" width="39.9" height="20.94" fill="#d99595"/><rect x="1370.5" y="1432.90" width="43.3" height="20.94" fill="#e0a8a8"/><rect x="1413.4" y="1432.90" width="42.0" height="20.94" fill="#7e7ebe"/><rect x="1455.0" y="1432.90" width="39.4" height="20.94" fill="#9292c9"/><rect x="1494.0" y="1432.90" width="39.4" height="20.94" fill="#f3f2f8"/><rect x="1533.0" y="1432.90" width="40.4" height="20.94" fill="#fcfafa"/><rect x="1573.0" y="1432.90" width="39.4" height="20.94" fill="#5e5eae"/><rect x="1612.0" y="1432.90" width="39.9" height="20.94" fill="#8888c4"/><rect x="1174.0" y="1453.44" width="39.4" height="20.94" fill="#e0dfef"/><rect x="1213.0" y="1453.44" width="39.4" height="20.94" fill="#d68e8e"/><rect x="1252.0" y="1453.44" width="39.9" height="20.94" fill="#eac1c1"/><rect x="1291.5" y="1453.44" width="39.9" height="20.94" fill="#d99595"/><rect x="1331.0" y="1453.44" width="39.9" height="20.94" fill="#e3b0b0"/><rect x="1370.5" y="1453.44" width="43.3" height="20.94" fill="#edcaca"/><rect x="1413.4" y="1453.44" width="42.0" height="20.94" fill="#7e7ebe"/><rect x="1455.0" y="1453.44" width="39.4" height="20.94" fill="#0f0f87"/><rect x="1494.0" y="1453.44" width="39.4" height="20.94" fill="#e6b9b9"/><rect x="1533.0" y="1453.44" width="40.4" height="20.94" fill="#e9e9f3"/><rect x="1573.0" y="1453.44" width="39.4" height="20.94" fill="#8888c4"/><rect x="1612.0" y="1453.44" width="39.9" height="20.94" fill="#c2c2e1"/><rect x="1174.0" y="1473.98" width="39.4" height="20.94" fill="#edcaca"/><rect x="1213.0" y="1473.98" width="39.4" height="20.94" fill="#d48888"/><rect x="1252.0" y="1473.98" width="39.9" height="20.94" fill="#e0a8a8"/><rect x="1291.5" y="1473.98" width="39.9" height="20.94" fill="#e6b9b9"/><rect x="1331.0" y="1473.98" width="39.9" height="20.94" fill="#a6a6d3"/><rect x="1370.5" y="1473.98" width="43.3" height="20.94" fill="#d48888"/><rect x="1413.4" y="1473.98" width="42.0" height="20.94" fill="#000080"/><rect x="1455.0" y="1473.98" width="39.4" height="20.94" fill="#b9b9dc"/><rect x="1494.0" y="1473.98" width="39.4" height="20.94" fill="#f5e3e3"/><rect x="1533.0" y="1473.98" width="40.4" height="20.94" fill="#b9b9dc"/><rect x="1573.0" y="1473.98" width="39.4" height="20.94" fill="#c2c2e1"/><rect x="1612.0" y="1473.98" width="39.9" height="20.94" fill="#eeeef5"/><rect x="1174.0" y="1494.52" width="39.4" height="20.94" fill="#f5e3e3"/><rect x="1213.0" y="1494.52" width="39.4" height="20.94" fill="#c66a6a"/><rect x="1252.0" y="1494.52" width="39.9" height="20.94" fill="#e0dfef"/><rect x="1291.5" y="1494.52" width="39.9" height="20.94" fill="#bb4c4c"/><rect x="1331.0" y="1494.52" width="39.9" height="20.94" fill="#c2c2e1"/><rect x="1370.5" y="1494.52" width="43.3" height="20.94" fill="#e6b9b9"/><rect x="1413.4" y="1494.52" width="42.0" height="20.94" fill="#7e7ebe"/><rect x="1455.0" y="1494.52" width="39.4" height="20.94" fill="#7474b9"/><rect x="1494.0" y="1494.52" width="39.4" height="20.94" fill="#edcaca"/><rect x="1533.0" y="1494.52" width="40.4" height="20.94" fill="#b9b9dc"/><rect x="1573.0" y="1494.52" width="39.4" height="20.94" fill="#7474b9"/><rect x="1612.0" y="1494.52" width="39.9" height="20.94" fill="#e0dfef"/><rect x="1174.0" y="1515.06" width="39.4" height="20.94" fill="#bf5656"/><rect x="1213.0" y="1515.06" width="39.4" height="20.94" fill="#f5e3e3"/><rect x="1252.0" y="1515.06" width="39.9" height="20.94" fill="#c66a6a"/><rect x="1291.5" y="1515.06" width="39.9" height="20.94" fill="#f5e3e3"/><rect x="1331.0" y="1515.06" width="39.9" height="20.94" fill="#9292c9"/><rect x="1370.5" y="1515.06" width="43.3" height="20.94" fill="#e6b9b9"/><rect x="1413.4" y="1515.06" width="42.0" height="20.94" fill="#9292c9"/><rect x="1455.0" y="1515.06" width="39.4" height="20.94" fill="#5e5eae"/><rect x="1494.0" y="1515.06" width="39.4" height="20.94" fill="#f5e3e3"/><rect x="1533.0" y="1515.06" width="40.4" height="20.94" fill="#f3f2f8"/><rect x="1573.0" y="1515.06" width="39.4" height="20.94" fill="#c2c2e1"/><rect x="1612.0" y="1515.06" width="39.9" height="20.94" fill="#7e7ebe"/><rect x="1174.0" y="1535.60" width="39.4" height="20.94" fill="#eac1c1"/><rect x="1213.0" y="1535.60" width="39.4" height="20.94" fill="#f3dada"/><rect x="1252.0" y="1535.60" width="39.9" height="20.94" fill="#d99595"/><rect x="1291.5" y="1535.60" width="39.9" height="20.94" fill="#b84242"/><rect x="1331.0" y="1535.60" width="39.9" height="20.94" fill="#e6b9b9"/><rect x="1370.5" y="1535.60" width="43.3" height="20.94" fill="#f5e3e3"/><rect x="1413.4" y="1535.60" width="42.0" height="20.94" fill="#afafd8"/><rect x="1455.0" y="1535.60" width="39.4" height="20.94" fill="#4545a2"/><rect x="1494.0" y="1535.60" width="39.4" height="20.94" fill="#9c9cce"/><rect x="1533.0" y="1535.60" width="40.4" height="20.94" fill="#cccce6"/><rect x="1573.0" y="1535.60" width="39.4" height="20.94" fill="#9c9cce"/><rect x="1612.0" y="1535.60" width="39.9" height="20.94" fill="#afafd8"/><rect x="1174.0" y="1556.14" width="39.4" height="20.94" fill="#e9e9f3"/><rect x="1213.0" y="1556.14" width="39.4" height="20.94" fill="#c66a6a"/><rect x="1252.0" y="1556.14" width="39.9" height="20.94" fill="#d48888"/><rect x="1291.5" y="1556.14" width="39.9" height="20.94" fill="#f0d2d2"/><rect x="1331.0" y="1556.14" width="39.9" height="20.94" fill="#f5e3e3"/><rect x="1370.5" y="1556.14" width="43.3" height="20.94" fill="#d99595"/><rect x="1413.4" y="1556.14" width="42.0" height="20.94" fill="#f3f2f8"/><rect x="1455.0" y="1556.14" width="39.4" height="20.94" fill="#6a6ab4"/><rect x="1494.0" y="1556.14" width="39.4" height="20.94" fill="#e9e9f3"/><rect x="1533.0" y="1556.14" width="40.4" height="20.94" fill="#5e5eae"/><rect x="1573.0" y="1556.14" width="39.4" height="20.94" fill="#8888c4"/><rect x="1612.0" y="1556.14" width="39.9" height="20.94" fill="#b9b9dc"/><rect x="1174.0" y="1576.68" width="39.4" height="20.94" fill="#edcaca"/><rect x="1213.0" y="1576.68" width="39.4" height="20.94" fill="#f3dada"/><rect x="1252.0" y="1576.68" width="39.9" height="20.94" fill="#c66a6a"/><rect x="1291.5" y="1576.68" width="39.9" height="20.94" fill="#eac1c1"/><rect x="1331.0" y="1576.68" width="39.9" height="20.94" fill="#d99595"/><rect x="1370.5" y="1576.68" width="43.3" height="20.94" fill="#fcf8f8"/><rect x="1413.4" y="1576.68" width="42.0" height="20.94" fill="#afafd8"/><rect x="1455.0" y="1576.68" width="39.4" height="20.94" fill="#7e7ebe"/><rect x="1494.0" y="1576.68" width="39.4" height="20.94" fill="#e6b9b9"/><rect x="1533.0" y="1576.68" width="40.4" height="20.94" fill="#38389c"/><rect x="1573.0" y="1576.68" width="39.4" height="20.94" fill="#a6a6d3"/><rect x="1612.0" y="1576.68" width="39.9" height="20.94" fill="#9292c9"/><rect x="1174.0" y="1597.22" width="39.4" height="20.94" fill="#edcaca"/><rect x="1213.0" y="1597.22" width="39.4" height="20.94" fill="#d6d6ea"/><rect x="1252.0" y="1597.22" width="39.9" height="20.94" fill="#0f0f87"/><rect x="1291.5" y="1597.22" width="39.9" height="20.94" fill="#c2c2e1"/><rect x="1331.0" y="1597.22" width="39.9" height="20.94" fill="#b9b9dc"/><rect x="1370.5" y="1597.22" width="43.3" height="20.94" fill="#7474b9"/><rect x="1413.4" y="1597.22" width="42.0" height="20.94" fill="#edcaca"/><rect x="1455.0" y="1597.22" width="39.4" height="20.94" fill="#ce7c7c"/><rect x="1494.0" y="1597.22" width="39.4" height="20.94" fill="#f8ebeb"/><rect x="1533.0" y="1597.22" width="40.4" height="20.94" fill="#f6e7e7"/><rect x="1573.0" y="1597.22" width="39.4" height="20.94" fill="#d48888"/><rect x="1612.0" y="1597.22" width="39.9" height="20.94" fill="#e0a8a8"/><rect x="1174.0" y="1617.76" width="39.4" height="20.94" fill="#c2c2e1"/><rect x="1213.0" y="1617.76" width="39.4" height="20.94" fill="#9c9cce"/><rect x="1252.0" y="1617.76" width="39.9" height="20.94" fill="#252592"/><rect x="1291.5" y="1617.76" width="39.9" height="20.94" fill="#d6d6ea"/><rect x="1331.0" y="1617.76" width="39.9" height="20.94" fill="#d6d6ea"/><rect x="1370.5" y="1617.76" width="43.3" height="20.94" fill="#c2c2e1"/><rect x="1413.4" y="1617.76" width="42.0" height="20.94" fill="#e0a8a8"/><rect x="1455.0" y="1617.76" width="39.4" height="20.94" fill="#d68e8e"/><rect x="1494.0" y="1617.76" width="39.4" height="20.94" fill="#c2c2e1"/><rect x="1533.0" y="1617.76" width="40.4" height="20.94" fill="#f5e3e3"/><rect x="1573.0" y="1617.76" width="39.4" height="20.94" fill="#cc7676"/><rect x="1612.0" y="1617.76" width="39.9" height="20.94" fill="#d99595"/><rect x="1174.0" y="1638.30" width="39.4" height="20.94" fill="#c2c2e1"/><rect x="1213.0" y="1638.30" width="39.4" height="20.94" fill="#a6a6d3"/><rect x="1252.0" y="1638.30" width="39.9" height="20.94" fill="#6a6ab4"/><rect x="1291.5" y="1638.30" width="39.9" height="20.94" fill="#cccce6"/><rect x="1331.0" y="1638.30" width="39.9" height="20.94" fill="#fdfcfc"/><rect x="1370.5" y="1638.30" width="43.3" height="20.94" fill="#4545a2"/><rect x="1413.4" y="1638.30" width="42.0" height="20.94" fill="#edcaca"/><rect x="1455.0" y="1638.30" width="39.4" height="20.94" fill="#c97070"/><rect x="1494.0" y="1638.30" width="39.4" height="20.94" fill="#cccce6"/><rect x="1533.0" y="1638.30" width="40.4" height="20.94" fill="#eac1c1"/><rect x="1573.0" y="1638.30" width="39.4" height="20.94" fill="#c66a6a"/><rect x="1612.0" y="1638.30" width="39.9" height="20.94" fill="#e0a8a8"/><rect x="1174.0" y="1658.84" width="39.4" height="20.94" fill="#fcf8f8"/><rect x="1213.0" y="1658.84" width="39.4" height="20.94" fill="#faf4f4"/><rect x="1252.0" y="1658.84" width="39.9" height="20.94" fill="#7e7ebe"/><rect x="1291.5" y="1658.84" width="39.9" height="20.94" fill="#7474b9"/><rect x="1331.0" y="1658.84" width="39.9" height="20.94" fill="#4545a2"/><rect x="1370.5" y="1658.84" width="43.3" height="20.94" fill="#d6d6ea"/><rect x="1413.4" y="1658.84" width="42.0" height="20.94" fill="#cccce6"/><rect x="1455.0" y="1658.84" width="39.4" height="20.94" fill="#ce7c7c"/><rect x="1494.0" y="1658.84" width="39.4" height="20.94" fill="#fcfafa"/><rect x="1533.0" y="1658.84" width="40.4" height="20.94" fill="#edcaca"/><rect x="1573.0" y="1658.84" width="39.4" height="20.94" fill="#edcaca"/><rect x="1612.0" y="1658.84" width="39.9" height="20.94" fill="#bb4c4c"/><rect x="1174.0" y="1679.38" width="39.4" height="20.94" fill="#e0dfef"/><rect x="1213.0" y="1679.38" width="39.4" height="20.94" fill="#c2c2e1"/><rect x="1252.0" y="1679.38" width="39.9" height="20.94" fill="#252592"/><rect x="1291.5" y="1679.38" width="39.9" height="20.94" fill="#8888c4"/><rect x="1331.0" y="1679.38" width="39.9" height="20.94" fill="#9292c9"/><rect x="1370.5" y="1679.38" width="43.3" height="20.94" fill="#f5e3e3"/><rect x="1413.4" y="1679.38" width="42.0" height="20.94" fill="#e9e9f3"/><rect x="1455.0" y="1679.38" width="39.4" height="20.94" fill="#d18282"/><rect x="1494.0" y="1679.38" width="39.4" height="20.94" fill="#f3f2f8"/><rect x="1533.0" y="1679.38" width="40.4" height="20.94" fill="#e0a8a8"/><rect x="1573.0" y="1679.38" width="39.4" height="20.94" fill="#d99595"/><rect x="1612.0" y="1679.38" width="39.9" height="20.94" fill="#cc7676"/><rect x="1174.0" y="1699.92" width="39.4" height="20.94" fill="#f5e3e3"/><rect x="1213.0" y="1699.92" width="39.4" height="20.94" fill="#fcfafa"/><rect x="1252.0" y="1699.92" width="39.9" height="20.94" fill="#0f0f87"/><rect x="1291.5" y="1699.92" width="39.9" height="20.94" fill="#9c9cce"/><rect x="1331.0" y="1699.92" width="39.9" height="20.94" fill="#7474b9"/><rect x="1370.5" y="1699.92" width="43.3" height="20.94" fill="#e9e9f3"/><rect x="1413.4" y="1699.92" width="42.0" height="20.94" fill="#f5e3e3"/><rect x="1455.0" y="1699.92" width="39.4" height="20.94" fill="#eac1c1"/><rect x="1494.0" y="1699.92" width="39.4" height="20.94" fill="#e0dfef"/><rect x="1533.0" y="1699.92" width="40.4" height="20.94" fill="#eac1c1"/><rect x="1573.0" y="1699.92" width="39.4" height="20.94" fill="#c26060"/><rect x="1612.0" y="1699.92" width="39.9" height="20.94" fill="#d68e8e"/><rect x="1174.0" y="1720.46" width="39.4" height="20.94" fill="#cccce6"/><rect x="1213.0" y="1720.46" width="39.4" height="20.94" fill="#f8f7fa"/><rect x="1252.0" y="1720.46" width="39.9" height="20.94" fill="#5e5eae"/><rect x="1291.5" y="1720.46" width="39.9" height="20.94" fill="#9292c9"/><rect x="1331.0" y="1720.46" width="39.9" height="20.94" fill="#afafd8"/><rect x="1370.5" y="1720.46" width="43.3" height="20.94" fill="#a6a6d3"/><rect x="1413.4" y="1720.46" width="42.0" height="20.94" fill="#d48888"/><rect x="1455.0" y="1720.46" width="39.4" height="20.94" fill="#edcaca"/><rect x="1494.0" y="1720.46" width="39.4" height="20.94" fill="#7474b9"/><rect x="1533.0" y="1720.46" width="40.4" height="20.94" fill="#db9b9b"/><rect x="1573.0" y="1720.46" width="39.4" height="20.94" fill="#dea2a2"/><rect x="1612.0" y="1720.46" width="39.9" height="20.94" fill="#cc7676"/><rect x="1174.0" y="1741.00" width="39.4" height="20.94" fill="#b9b9dc"/><rect x="1213.0" y="1741.00" width="39.4" height="20.94" fill="#f5e3e3"/><rect x="1252.0" y="1741.00" width="39.9" height="20.94" fill="#6a6ab4"/><rect x="1291.5" y="1741.00" width="39.9" height="20.94" fill="#9292c9"/><rect x="1331.0" y="1741.00" width="39.9" height="20.94" fill="#9c9cce"/><rect x="1370.5" y="1741.00" width="43.3" height="20.94" fill="#afafd8"/><rect x="1413.4" y="1741.00" width="42.0" height="20.94" fill="#d68e8e"/><rect x="1455.0" y="1741.00" width="39.4" height="20.94" fill="#f8ebeb"/><rect x="1494.0" y="1741.00" width="39.4" height="20.94" fill="#7e7ebe"/><rect x="1533.0" y="1741.00" width="40.4" height="20.94" fill="#db9b9b"/><rect x="1573.0" y="1741.00" width="39.4" height="20.94" fill="#d68e8e"/><rect x="1612.0" y="1741.00" width="39.9" height="20.94" fill="#c66a6a"/><rect x="1174.0" y="1761.54" width="39.4" height="20.94" fill="#f0d2d2"/><rect x="1213.0" y="1761.54" width="39.4" height="20.94" fill="#cccce6"/><rect x="1252.0" y="1761.54" width="39.9" height="20.94" fill="#6a6ab4"/><rect x="1291.5" y="1761.54" width="39.9" height="20.94" fill="#5e5eae"/><rect x="1331.0" y="1761.54" width="39.9" height="20.94" fill="#8888c4"/><rect x="1370.5" y="1761.54" width="43.3" height="20.94" fill="#afafd8"/><rect x="1413.4" y="1761.54" width="42.0" height="20.94" fill="#e0a8a8"/><rect x="1455.0" y="1761.54" width="39.4" height="20.94" fill="#d99595"/><rect x="1494.0" y="1761.54" width="39.4" height="20.94" fill="#b9b9dc"/><rect x="1533.0" y="1761.54" width="40.4" height="20.94" fill="#f0d2d2"/><rect x="1573.0" y="1761.54" width="39.4" height="20.94" fill="#d68e8e"/><rect x="1612.0" y="1761.54" width="39.9" height="20.94" fill="#cc7676"/><rect x="1174.0" y="1782.08" width="39.4" height="20.94" fill="#f0d2d2"/><rect x="1213.0" y="1782.08" width="39.4" height="20.94" fill="#c2c2e1"/><rect x="1252.0" y="1782.08" width="39.9" height="20.94" fill="#5e5eae"/><rect x="1291.5" y="1782.08" width="39.9" height="20.94" fill="#5151a8"/><rect x="1331.0" y="1782.08" width="39.9" height="20.94" fill="#c2c2e1"/><rect x="1370.5" y="1782.08" width="43.3" height="20.94" fill="#a6a6d3"/><rect x="1413.4" y="1782.08" width="42.0" height="20.94" fill="#db9b9b"/><rect x="1455.0" y="1782.08" width="39.4" height="20.94" fill="#e3b0b0"/><rect x="1494.0" y="1782.08" width="39.4" height="20.94" fill="#c2c2e1"/><rect x="1533.0" y="1782.08" width="40.4" height="20.94" fill="#fdfcfc"/><rect x="1573.0" y="1782.08" width="39.4" height="20.94" fill="#cc7676"/><rect x="1612.0" y="1782.08" width="39.9" height="20.94" fill="#cc7676"/><rect x="1174.0" y="1802.62" width="39.4" height="20.94" fill="#f3f2f8"/><rect x="1213.0" y="1802.62" width="39.4" height="20.94" fill="#fcf8f8"/><rect x="1252.0" y="1802.62" width="39.9" height="20.94" fill="#9c9cce"/><rect x="1291.5" y="1802.62" width="39.9" height="20.94" fill="#5151a8"/><rect x="1331.0" y="1802.62" width="39.9" height="20.94" fill="#7474b9"/><rect x="1370.5" y="1802.62" width="43.3" height="20.94" fill="#d6d6ea"/><rect x="1413.4" y="1802.62" width="42.0" height="20.94" fill="#d48888"/><rect x="1455.0" y="1802.62" width="39.4" height="20.94" fill="#e6b9b9"/><rect x="1494.0" y="1802.62" width="39.4" height="20.94" fill="#7e7ebe"/><rect x="1533.0" y="1802.62" width="40.4" height="20.94" fill="#eac1c1"/><rect x="1573.0" y="1802.62" width="39.4" height="20.94" fill="#cc7676"/><rect x="1612.0" y="1802.62" width="39.9" height="20.94" fill="#dea2a2"/><rect x="1174.0" y="1823.16" width="39.4" height="20.94" fill="#f5e3e3"/><rect x="1213.0" y="1823.16" width="39.4" height="20.94" fill="#edcaca"/><rect x="1252.0" y="1823.16" width="39.9" height="20.94" fill="#7e7ebe"/><rect x="1291.5" y="1823.16" width="39.9" height="20.94" fill="#7474b9"/><rect x="1331.0" y="1823.16" width="39.9" height="20.94" fill="#6a6ab4"/><rect x="1370.5" y="1823.16" width="43.3" height="20.94" fill="#7e7ebe"/><rect x="1413.4" y="1823.16" width="42.0" height="20.94" fill="#db9b9b"/><rect x="1455.0" y="1823.16" width="39.4" height="20.94" fill="#e3b0b0"/><rect x="1494.0" y="1823.16" width="39.4" height="20.94" fill="#b9b9dc"/><rect x="1533.0" y="1823.16" width="40.4" height="20.94" fill="#f5e3e3"/><rect x="1573.0" y="1823.16" width="39.4" height="20.94" fill="#eac1c1"/><rect x="1612.0" y="1823.16" width="39.9" height="20.94" fill="#c26060"/><rect x="1174.0" y="1843.70" width="39.4" height="20.94" fill="#e9e9f3"/><rect x="1213.0" y="1843.70" width="39.4" height="20.94" fill="#f9efef"/><rect x="1252.0" y="1843.70" width="39.9" height="20.94" fill="#a6a6d3"/><rect x="1291.5" y="1843.70" width="39.9" height="20.94" fill="#7474b9"/><rect x="1331.0" y="1843.70" width="39.9" height="20.94" fill="#d6d6ea"/><rect x="1370.5" y="1843.70" width="43.3" height="20.94" fill="#5e5eae"/><rect x="1413.4" y="1843.70" width="42.0" height="20.94" fill="#faf4f4"/><rect x="1455.0" y="1843.70" width="39.4" height="20.94" fill="#f3dada"/><rect x="1494.0" y="1843.70" width="39.4" height="20.94" fill="#cccce6"/><rect x="1533.0" y="1843.70" width="40.4" height="20.94" fill="#e6b9b9"/><rect x="1573.0" y="1843.70" width="39.4" height="20.94" fill="#f3dada"/><rect x="1612.0" y="1843.70" width="39.9" height="20.94" fill="#ac2222"/><rect x="1174.0" y="1864.24" width="39.4" height="20.94" fill="#d6d6ea"/><rect x="1213.0" y="1864.24" width="39.4" height="20.94" fill="#d6d6ea"/><rect x="1252.0" y="1864.24" width="39.9" height="20.94" fill="#b9b9dc"/><rect x="1291.5" y="1864.24" width="39.9" height="20.94" fill="#6a6ab4"/><rect x="1331.0" y="1864.24" width="39.9" height="20.94" fill="#a6a6d3"/><rect x="1370.5" y="1864.24" width="43.3" height="20.94" fill="#c2c2e1"/><rect x="1413.4" y="1864.24" width="42.0" height="20.94" fill="#fdfcfc"/><rect x="1455.0" y="1864.24" width="39.4" height="20.94" fill="#e3b0b0"/><rect x="1494.0" y="1864.24" width="39.4" height="20.94" fill="#fcf8f8"/><rect x="1533.0" y="1864.24" width="40.4" height="20.94" fill="#e4e4f1"/><rect x="1573.0" y="1864.24" width="39.4" height="20.94" fill="#f5e3e3"/><rect x="1612.0" y="1864.24" width="39.9" height="20.94" fill="#a00000"/><rect x="1174.0" y="1884.78" width="39.4" height="20.94" fill="#d6d6ea"/><rect x="1213.0" y="1884.78" width="39.4" height="20.94" fill="#d6d6ea"/><rect x="1252.0" y="1884.78" width="39.9" height="20.94" fill="#f3f2f8"/><rect x="1291.5" y="1884.78" width="39.9" height="20.94" fill="#8888c4"/><rect x="1331.0" y="1884.78" width="39.9" height="20.94" fill="#dbdaed"/><rect x="1370.5" y="1884.78" width="43.3" height="20.94" fill="#2c2c96"/><rect x="1413.4" y="1884.78" width="42.0" height="20.94" fill="#e0a8a8"/><rect x="1455.0" y="1884.78" width="39.4" height="20.94" fill="#c26060"/><rect x="1494.0" y="1884.78" width="39.4" height="20.94" fill="#8888c4"/><rect x="1533.0" y="1884.78" width="40.4" height="20.94" fill="#edcaca"/><rect x="1573.0" y="1884.78" width="39.4" height="20.94" fill="#e6b9b9"/><rect x="1612.0" y="1884.78" width="39.9" height="20.94" fill="#d99595"/><rect x="1174.0" y="1905.32" width="39.4" height="20.94" fill="#d6d6ea"/><rect x="1213.0" y="1905.32" width="39.4" height="20.94" fill="#afafd8"/><rect x="1252.0" y="1905.32" width="39.9" height="20.94" fill="#9c9cce"/><rect x="1291.5" y="1905.32" width="39.9" height="20.94" fill="#9292c9"/><rect x="1331.0" y="1905.32" width="39.9" height="20.94" fill="#9292c9"/><rect x="1370.5" y="1905.32" width="43.3" height="20.94" fill="#c2c2e1"/><rect x="1413.4" y="1905.32" width="42.0" height="20.94" fill="#f5e3e3"/><rect x="1455.0" y="1905.32" width="39.4" height="20.94" fill="#d48888"/><rect x="1494.0" y="1905.32" width="39.4" height="20.94" fill="#a6a6d3"/><rect x="1533.0" y="1905.32" width="40.4" height="20.94" fill="#f5e3e3"/><rect x="1573.0" y="1905.32" width="39.4" height="20.94" fill="#dea2a2"/><rect x="1612.0" y="1905.32" width="39.9" height="20.94" fill="#b43838"/><rect x="1174.0" y="1925.86" width="39.4" height="20.94" fill="#d6d6ea"/><rect x="1213.0" y="1925.86" width="39.4" height="20.94" fill="#afafd8"/><rect x="1252.0" y="1925.86" width="39.9" height="20.94" fill="#d6d6ea"/><rect x="1291.5" y="1925.86" width="39.9" height="20.94" fill="#6a6ab4"/><rect x="1331.0" y="1925.86" width="39.9" height="20.94" fill="#afafd8"/><rect x="1370.5" y="1925.86" width="43.3" height="20.94" fill="#cccce6"/><rect x="1413.4" y="1925.86" width="42.0" height="20.94" fill="#eac1c1"/><rect x="1455.0" y="1925.86" width="39.4" height="20.94" fill="#d48888"/><rect x="1494.0" y="1925.86" width="39.4" height="20.94" fill="#5e5eae"/><rect x="1533.0" y="1925.86" width="40.4" height="20.94" fill="#f5e3e3"/><rect x="1573.0" y="1925.86" width="39.4" height="20.94" fill="#cc7676"/><rect x="1612.0" y="1925.86" width="39.9" height="20.94" fill="#c66a6a"/><rect x="1174.0" y="1946.40" width="39.4" height="20.94" fill="#e6b9b9"/><rect x="1213.0" y="1946.40" width="39.4" height="20.94" fill="#afafd8"/><rect x="1252.0" y="1946.40" width="39.9" height="20.94" fill="#9c9cce"/><rect x="1291.5" y="1946.40" width="39.9" height="20.94" fill="#7e7ebe"/><rect x="1331.0" y="1946.40" width="39.9" height="20.94" fill="#7e7ebe"/><rect x="1370.5" y="1946.40" width="43.3" height="20.94" fill="#8888c4"/><rect x="1413.4" y="1946.40" width="42.0" height="20.94" fill="#e4e4f1"/><rect x="1455.0" y="1946.40" width="39.4" height="20.94" fill="#c66a6a"/><rect x="1494.0" y="1946.40" width="39.4" height="20.94" fill="#c2c2e1"/><rect x="1533.0" y="1946.40" width="40.4" height="20.94" fill="#e6b9b9"/><rect x="1573.0" y="1946.40" width="39.4" height="20.94" fill="#d99595"/><rect x="1612.0" y="1946.40" width="39.9" height="20.94" fill="#cc7676"/><rect x="1174.0" y="1966.94" width="39.4" height="20.94" fill="#edcaca"/><rect x="1213.0" y="1966.94" width="39.4" height="20.94" fill="#afafd8"/><rect x="1252.0" y="1966.94" width="39.9" height="20.94" fill="#9292c9"/><rect x="1291.5" y="1966.94" width="39.9" height="20.94" fill="#9c9cce"/><rect x="1331.0" y="1966.94" width="39.9" height="20.94" fill="#8888c4"/><rect x="1370.5" y="1966.94" width="43.3" height="20.94" fill="#8888c4"/><rect x="1413.4" y="1966.94" width="42.0" height="20.94" fill="#e6b9b9"/><rect x="1455.0" y="1966.94" width="39.4" height="20.94" fill="#d68e8e"/><rect x="1494.0" y="1966.94" width="39.4" height="20.94" fill="#7474b9"/><rect x="1533.0" y="1966.94" width="40.4" height="20.94" fill="#edcaca"/><rect x="1573.0" y="1966.94" width="39.4" height="20.94" fill="#dea2a2"/><rect x="1612.0" y="1966.94" width="39.9" height="20.94" fill="#c66a6a"/><rect x="1174.0" y="1987.48" width="39.4" height="20.94" fill="#7474b9"/><rect x="1213.0" y="1987.48" width="39.4" height="20.94" fill="#7474b9"/><rect x="1252.0" y="1987.48" width="39.9" height="20.94" fill="#7e7ebe"/><rect x="1291.5" y="1987.48" width="39.9" height="20.94" fill="#e9e9f3"/><rect x="1331.0" y="1987.48" width="39.9" height="20.94" fill="#dbdaed"/><rect x="1370.5" y="1987.48" width="43.3" height="20.94" fill="#e4e4f1"/><rect x="1413.4" y="1987.48" width="42.0" height="20.94" fill="#bf5656"/><rect x="1455.0" y="1987.48" width="39.4" height="20.94" fill="#edcaca"/><rect x="1494.0" y="1987.48" width="39.4" height="20.94" fill="#dea2a2"/><rect x="1533.0" y="1987.48" width="40.4" height="20.94" fill="#db9b9b"/><rect x="1573.0" y="1987.48" width="39.4" height="20.94" fill="#db9b9b"/><rect x="1612.0" y="1987.48" width="39.9" height="20.94" fill="#9292c9"/><rect x="1174.0" y="2008.02" width="39.4" height="20.94" fill="#7474b9"/><rect x="1213.0" y="2008.02" width="39.4" height="20.94" fill="#9c9cce"/><rect x="1252.0" y="2008.02" width="39.9" height="20.94" fill="#7474b9"/><rect x="1291.5" y="2008.02" width="39.9" height="20.94" fill="#e0dfef"/><rect x="1331.0" y="2008.02" width="39.9" height="20.94" fill="#5e5eae"/><rect x="1370.5" y="2008.02" width="43.3" height="20.94" fill="#faf4f4"/><rect x="1413.4" y="2008.02" width="42.0" height="20.94" fill="#ce7c7c"/><rect x="1455.0" y="2008.02" width="39.4" height="20.94" fill="#e0a8a8"/><rect x="1494.0" y="2008.02" width="39.4" height="20.94" fill="#e0a8a8"/><rect x="1533.0" y="2008.02" width="40.4" height="20.94" fill="#e0a8a8"/><rect x="1573.0" y="2008.02" width="39.4" height="20.94" fill="#d48888"/><rect x="1612.0" y="2008.02" width="39.9" height="20.94" fill="#c2c2e1"/><rect x="1174.0" y="2028.56" width="39.4" height="20.94" fill="#7e7ebe"/><rect x="1213.0" y="2028.56" width="39.4" height="20.94" fill="#9c9cce"/><rect x="1252.0" y="2028.56" width="39.9" height="20.94" fill="#7474b9"/><rect x="1291.5" y="2028.56" width="39.9" height="20.94" fill="#f5e3e3"/><rect x="1331.0" y="2028.56" width="39.9" height="20.94" fill="#38389c"/><rect x="1370.5" y="2028.56" width="43.3" height="20.94" fill="#faf4f4"/><rect x="1413.4" y="2028.56" width="42.0" height="20.94" fill="#cc7676"/><rect x="1455.0" y="2028.56" width="39.4" height="20.94" fill="#dea2a2"/><rect x="1494.0" y="2028.56" width="39.4" height="20.94" fill="#d99595"/><rect x="1533.0" y="2028.56" width="40.4" height="20.94" fill="#f5e3e3"/><rect x="1573.0" y="2028.56" width="39.4" height="20.94" fill="#e0a8a8"/><rect x="1612.0" y="2028.56" width="39.9" height="20.94" fill="#dbdaed"/><rect x="1174.0" y="2049.10" width="39.4" height="20.94" fill="#f3dada"/><rect x="1213.0" y="2049.10" width="39.4" height="20.94" fill="#4545a2"/><rect x="1252.0" y="2049.10" width="39.9" height="20.94" fill="#5e5eae"/><rect x="1291.5" y="2049.10" width="39.9" height="20.94" fill="#afafd8"/><rect x="1331.0" y="2049.10" width="39.9" height="20.94" fill="#afafd8"/><rect x="1370.5" y="2049.10" width="43.3" height="20.94" fill="#fcfafa"/><rect x="1413.4" y="2049.10" width="42.0" height="20.94" fill="#e6b9b9"/><rect x="1455.0" y="2049.10" width="39.4" height="20.94" fill="#fdfcfc"/><rect x="1494.0" y="2049.10" width="39.4" height="20.94" fill="#f3f2f8"/><rect x="1533.0" y="2049.10" width="40.4" height="20.94" fill="#bb4c4c"/><rect x="1573.0" y="2049.10" width="39.4" height="20.94" fill="#db9b9b"/><rect x="1612.0" y="2049.10" width="39.9" height="20.94" fill="#f5e3e3"/><rect x="1174.0" y="2069.64" width="39.4" height="20.94" fill="#c2c2e1"/><rect x="1213.0" y="2069.64" width="39.4" height="20.94" fill="#f3f2f8"/><rect x="1252.0" y="2069.64" width="39.9" height="20.94" fill="#7474b9"/><rect x="1291.5" y="2069.64" width="39.9" height="20.94" fill="#eeeef5"/><rect x="1331.0" y="2069.64" width="39.9" height="20.94" fill="#1d1d8f"/><rect x="1370.5" y="2069.64" width="43.3" height="20.94" fill="#9c9cce"/><rect x="1413.4" y="2069.64" width="42.0" height="20.94" fill="#d99595"/><rect x="1455.0" y="2069.64" width="39.4" height="20.94" fill="#edcaca"/><rect x="1494.0" y="2069.64" width="39.4" height="20.94" fill="#e0a8a8"/><rect x="1533.0" y="2069.64" width="40.4" height="20.94" fill="#faf4f4"/><rect x="1573.0" y="2069.64" width="39.4" height="20.94" fill="#c66a6a"/><rect x="1612.0" y="2069.64" width="39.9" height="20.94" fill="#edcaca"/><rect x="1174.0" y="2090.18" width="39.4" height="20.94" fill="#9c9cce"/><rect x="1213.0" y="2090.18" width="39.4" height="20.94" fill="#afafd8"/><rect x="1252.0" y="2090.18" width="39.9" height="20.94" fill="#5151a8"/><rect x="1291.5" y="2090.18" width="39.9" height="20.94" fill="#8888c4"/><rect x="1331.0" y="2090.18" width="39.9" height="20.94" fill="#9c9cce"/><rect x="1370.5" y="2090.18" width="43.3" height="20.94" fill="#e9e9f3"/><rect x="1413.4" y="2090.18" width="42.0" height="20.94" fill="#e6b9b9"/><rect x="1455.0" y="2090.18" width="39.4" height="20.94" fill="#edcaca"/><rect x="1494.0" y="2090.18" width="39.4" height="20.94" fill="#edcaca"/><rect x="1533.0" y="2090.18" width="40.4" height="20.94" fill="#e0a8a8"/><rect x="1573.0" y="2090.18" width="39.4" height="20.94" fill="#bb4c4c"/><rect x="1612.0" y="2090.18" width="39.9" height="20.94" fill="#edcaca"/><rect x="1174.0" y="2110.72" width="39.4" height="20.94" fill="#e9e9f3"/><rect x="1213.0" y="2110.72" width="39.4" height="20.94" fill="#cccce6"/><rect x="1252.0" y="2110.72" width="39.9" height="20.94" fill="#5151a8"/><rect x="1291.5" y="2110.72" width="39.9" height="20.94" fill="#7e7ebe"/><rect x="1331.0" y="2110.72" width="39.9" height="20.94" fill="#9c9cce"/><rect x="1370.5" y="2110.72" width="43.3" height="20.94" fill="#e0dfef"/><rect x="1413.4" y="2110.72" width="42.0" height="20.94" fill="#dea2a2"/><rect x="1455.0" y="2110.72" width="39.4" height="20.94" fill="#d68e8e"/><rect x="1494.0" y="2110.72" width="39.4" height="20.94" fill="#faf4f4"/><rect x="1533.0" y="2110.72" width="40.4" height="20.94" fill="#d48888"/><rect x="1573.0" y="2110.72" width="39.4" height="20.94" fill="#c66a6a"/><rect x="1612.0" y="2110.72" width="39.9" height="20.94" fill="#b9b9dc"/><rect x="1174.0" y="2131.26" width="39.4" height="20.94" fill="#f8f7fa"/><rect x="1213.0" y="2131.26" width="39.4" height="20.94" fill="#fcfafa"/><rect x="1252.0" y="2131.26" width="39.9" height="20.94" fill="#f8ebeb"/><rect x="1291.5" y="2131.26" width="39.9" height="20.94" fill="#0f0f87"/><rect x="1331.0" y="2131.26" width="39.9" height="20.94" fill="#e4e4f1"/><rect x="1370.5" y="2131.26" width="43.3" height="20.94" fill="#38389c"/><rect x="1413.4" y="2131.26" width="42.0" height="20.94" fill="#e3b0b0"/><rect x="1455.0" y="2131.26" width="39.4" height="20.94" fill="#edcaca"/><rect x="1494.0" y="2131.26" width="39.4" height="20.94" fill="#f5e3e3"/><rect x="1533.0" y="2131.26" width="40.4" height="20.94" fill="#e9e9f3"/><rect x="1573.0" y="2131.26" width="39.4" height="20.94" fill="#c26060"/><rect x="1612.0" y="2131.26" width="39.9" height="20.94" fill="#edcaca"/><rect x="1174.0" y="2151.80" width="39.4" height="20.94" fill="#9292c9"/><rect x="1213.0" y="2151.80" width="39.4" height="20.94" fill="#fcfafa"/><rect x="1252.0" y="2151.80" width="39.9" height="20.94" fill="#f3f2f8"/><rect x="1291.5" y="2151.80" width="39.9" height="20.94" fill="#5151a8"/><rect x="1331.0" y="2151.80" width="39.9" height="20.94" fill="#9c9cce"/><rect x="1370.5" y="2151.80" width="43.3" height="20.94" fill="#6a6ab4"/><rect x="1413.4" y="2151.80" width="42.0" height="20.94" fill="#eac1c1"/><rect x="1455.0" y="2151.80" width="39.4" height="20.94" fill="#edcaca"/><rect x="1494.0" y="2151.80" width="39.4" height="20.94" fill="#f3f2f8"/><rect x="1533.0" y="2151.80" width="40.4" height="20.94" fill="#e0a8a8"/><rect x="1573.0" y="2151.80" width="39.4" height="20.94" fill="#bf5656"/><rect x="1612.0" y="2151.80" width="39.9" height="20.94" fill="#db9b9b"/><rect x="1174.0" y="2172.34" width="39.4" height="20.94" fill="#afafd8"/><rect x="1213.0" y="2172.34" width="39.4" height="20.94" fill="#9c9cce"/><rect x="1252.0" y="2172.34" width="39.9" height="20.94" fill="#cccce6"/><rect x="1291.5" y="2172.34" width="39.9" height="20.94" fill="#7e7ebe"/><rect x="1331.0" y="2172.34" width="39.9" height="20.94" fill="#7e7ebe"/><rect x="1370.5" y="2172.34" width="43.3" height="20.94" fill="#afafd8"/><rect x="1413.4" y="2172.34" width="42.0" height="20.94" fill="#e6b9b9"/><rect x="1455.0" y="2172.34" width="39.4" height="20.94" fill="#f3dada"/><rect x="1494.0" y="2172.34" width="39.4" height="20.94" fill="#d6d6ea"/><rect x="1533.0" y="2172.34" width="40.4" height="20.94" fill="#dea2a2"/><rect x="1573.0" y="2172.34" width="39.4" height="20.94" fill="#b02d2d"/><rect x="1612.0" y="2172.34" width="39.9" height="20.94" fill="#edcaca"/><rect x="1174.0" y="2192.88" width="39.4" height="20.94" fill="#eeeef5"/><rect x="1213.0" y="2192.88" width="39.4" height="20.94" fill="#cccce6"/><rect x="1252.0" y="2192.88" width="39.9" height="20.94" fill="#2c2c96"/><rect x="1291.5" y="2192.88" width="39.9" height="20.94" fill="#9292c9"/><rect x="1331.0" y="2192.88" width="39.9" height="20.94" fill="#7e7ebe"/><rect x="1370.5" y="2192.88" width="43.3" height="20.94" fill="#f8ebeb"/><rect x="1413.4" y="2192.88" width="42.0" height="20.94" fill="#b84242"/><rect x="1455.0" y="2192.88" width="39.4" height="20.94" fill="#f3f2f8"/><rect x="1494.0" y="2192.88" width="39.4" height="20.94" fill="#f3dada"/><rect x="1533.0" y="2192.88" width="40.4" height="20.94" fill="#e3b0b0"/><rect x="1573.0" y="2192.88" width="39.4" height="20.94" fill="#faf4f4"/><rect x="1612.0" y="2192.88" width="39.9" height="20.94" fill="#e6b9b9"/><rect x="1174.0" y="2213.42" width="39.4" height="20.94" fill="#cccce6"/><rect x="1213.0" y="2213.42" width="39.4" height="20.94" fill="#dbdaed"/><rect x="1252.0" y="2213.42" width="39.9" height="20.94" fill="#e9e9f3"/><rect x="1291.5" y="2213.42" width="39.9" height="20.94" fill="#1d1d8f"/><rect x="1331.0" y="2213.42" width="39.9" height="20.94" fill="#5e5eae"/><rect x="1370.5" y="2213.42" width="43.3" height="20.94" fill="#f8f7fa"/><rect x="1413.4" y="2213.42" width="42.0" height="20.94" fill="#c66a6a"/><rect x="1455.0" y="2213.42" width="39.4" height="20.94" fill="#e0a8a8"/><rect x="1494.0" y="2213.42" width="39.4" height="20.94" fill="#e9e9f3"/><rect x="1533.0" y="2213.42" width="40.4" height="20.94" fill="#f3dada"/><rect x="1573.0" y="2213.42" width="39.4" height="20.94" fill="#d68e8e"/><rect x="1612.0" y="2213.42" width="39.9" height="20.94" fill="#eac1c1"/><rect x="1174.0" y="2233.96" width="39.4" height="20.94" fill="#f3f2f8"/><rect x="1213.0" y="2233.96" width="39.4" height="20.94" fill="#afafd8"/><rect x="1252.0" y="2233.96" width="39.9" height="20.94" fill="#e9e9f3"/><rect x="1291.5" y="2233.96" width="39.9" height="20.94" fill="#4545a2"/><rect x="1331.0" y="2233.96" width="39.9" height="20.94" fill="#4545a2"/><rect x="1370.5" y="2233.96" width="43.3" height="20.94" fill="#f9efef"/><rect x="1413.4" y="2233.96" width="42.0" height="20.94" fill="#b84242"/><rect x="1455.0" y="2233.96" width="39.4" height="20.94" fill="#fdfcfc"/><rect x="1494.0" y="2233.96" width="39.4" height="20.94" fill="#e9e9f3"/><rect x="1533.0" y="2233.96" width="40.4" height="20.94" fill="#e6b9b9"/><rect x="1573.0" y="2233.96" width="39.4" height="20.94" fill="#e3b0b0"/><rect x="1612.0" y="2233.96" width="39.9" height="20.94" fill="#f0d2d2"/></g>
<rect x="1175.8" y="1227.0" width="474.6" height="1029" fill="none" stroke="#000" stroke-width="4.2" rx="2"/>
<line x1="1413.4" y1="1227" x2="1413.4" y2="2256" stroke="#000" stroke-width="4.3"/>
<text transform="translate(1155.5,1246.1)" font-size="24" text-anchor="end">Hex1Cer d18:1/24:1</text>
<text transform="translate(1155.5,1266.6)" font-size="24" text-anchor="end">CL72:3_18:1</text>
<text transform="translate(1155.5,1287.1)" font-size="24" text-anchor="end">CL72:5_18:1</text>
<text transform="translate(1155.5,1307.7)" font-size="24" text-anchor="end">SUM_CL</text>
<text transform="translate(1155.5,1328.2)" font-size="24" text-anchor="end">PE O-18:0_20:1</text>
<text transform="translate(1155.5,1348.8)" font-size="24" text-anchor="end">FA24:0</text>
<text transform="translate(1155.5,1369.3)" font-size="24" text-anchor="end">PE 18:0_18:0</text>
<text transform="translate(1155.5,1389.8)" font-size="24" text-anchor="end">FA12:0</text>
<text transform="translate(1155.5,1410.4)" font-size="24" text-anchor="end">PE O-18:0_22:6</text>
<text transform="translate(1155.5,1430.9)" font-size="24" text-anchor="end">PC O-18:0_18:1</text>
<text transform="translate(1155.5,1451.5)" font-size="24" text-anchor="end">PE 20:0_20:1</text>
<text transform="translate(1155.5,1472.0)" font-size="24" text-anchor="end">PE 18:1_20:1</text>
<text transform="translate(1155.5,1492.5)" font-size="24" text-anchor="end">PC P-16:0_16:1</text>
<text transform="translate(1155.5,1513.1)" font-size="24" text-anchor="end">PE 18:0_20:0</text>
<text transform="translate(1155.5,1533.6)" font-size="24" text-anchor="end">PE 17:0_18:0</text>
<text transform="translate(1155.5,1554.2)" font-size="24" text-anchor="end">CL72:3_18:0</text>
<text transform="translate(1155.5,1574.7)" font-size="24" text-anchor="end">PS 18:0_18:1</text>
<text transform="translate(1155.5,1595.2)" font-size="24" text-anchor="end">PE 18:1_20:2</text>
<text transform="translate(1155.5,1615.8)" font-size="24" text-anchor="end">DG 18:0_20:4</text>
<text transform="translate(1155.5,1636.3)" font-size="24" text-anchor="end">Hex2Cer d18:1/20:0</text>
<text transform="translate(1155.5,1656.9)" font-size="24" text-anchor="end">Cer d18:1/22:0</text>
<text transform="translate(1155.5,1677.4)" font-size="24" text-anchor="end">SUM_DG</text>
<text transform="translate(1155.5,1698.0)" font-size="24" text-anchor="end">Hex2Cer d18:1/18:0</text>
<text transform="translate(1155.5,1718.5)" font-size="24" text-anchor="end">SM 32:1</text>
<text transform="translate(1155.5,1739.0)" font-size="24" text-anchor="end">DhCer d18:0/18:0</text>
<text transform="translate(1155.5,1759.6)" font-size="24" text-anchor="end">SUM_DhCer</text>
<text transform="translate(1155.5,1780.1)" font-size="24" text-anchor="end">SM 34:0</text>
<text transform="translate(1155.5,1800.6)" font-size="24" text-anchor="end">SM 34:1</text>
<text transform="translate(1155.5,1821.2)" font-size="24" text-anchor="end">Cer d18:1/16:0</text>
<text transform="translate(1155.5,1841.7)" font-size="24" text-anchor="end">SM 31:1</text>
<text transform="translate(1155.5,1862.3)" font-size="24" text-anchor="end">TG 52:1_16:0</text>
<text transform="translate(1155.5,1882.8)" font-size="24" text-anchor="end">TG 54:2_18:1</text>
<text transform="translate(1155.5,1903.3)" font-size="24" text-anchor="end">Cer d18:2/16:0</text>
<text transform="translate(1155.5,1923.9)" font-size="24" text-anchor="end">SM 42:3</text>
<text transform="translate(1155.5,1944.4)" font-size="24" text-anchor="end">Cer d18:1/20:0</text>
<text transform="translate(1155.5,1965.0)" font-size="24" text-anchor="end">SM 37:2</text>
<text transform="translate(1155.5,1985.5)" font-size="24" text-anchor="end">SUM_Cer</text>
<text transform="translate(1155.5,2006.0)" font-size="24" text-anchor="end">Hex1Cer d18:0/18:0</text>
<text transform="translate(1155.5,2026.6)" font-size="24" text-anchor="end">Hex1Cer d18:1/16:0</text>
<text transform="translate(1155.5,2047.1)" font-size="24" text-anchor="end">FA20:5</text>
<text transform="translate(1155.5,2067.7)" font-size="24" text-anchor="end">PE O-16:0_22:6</text>
<text transform="translate(1155.5,2088.2)" font-size="24" text-anchor="end">PC 16:0_16:1</text>
<text transform="translate(1155.5,2108.8)" font-size="24" text-anchor="end">Hex2Cer d18:1/24:1</text>
<text transform="translate(1155.5,2129.3)" font-size="24" text-anchor="end">Hex1Cer d18:2/20:0</text>
<text transform="translate(1155.5,2149.8)" font-size="24" text-anchor="end">TG 56:5_20:4</text>
<text transform="translate(1155.5,2170.4)" font-size="24" text-anchor="end">TG 56:6_22:6</text>
<text transform="translate(1155.5,2190.9)" font-size="24" text-anchor="end">TG 54:6_22:6</text>
<text transform="translate(1155.5,2211.5)" font-size="24" text-anchor="end">LPC O-24:2</text>
<text transform="translate(1155.5,2232.0)" font-size="24" text-anchor="end">Cer d18:1/18:1</text>
<text transform="translate(1155.5,2252.5)" font-size="24" text-anchor="end">LPC O-24:0</text>
<g stroke="#000" stroke-width="3.8"><line x1="1160" y1="1237.8" x2="1175" y2="1237.8"/><line x1="1160" y1="1258.3" x2="1175" y2="1258.3"/><line x1="1160" y1="1278.8" x2="1175" y2="1278.8"/><line x1="1160" y1="1299.4" x2="1175" y2="1299.4"/><line x1="1160" y1="1319.9" x2="1175" y2="1319.9"/><line x1="1160" y1="1340.5" x2="1175" y2="1340.5"/><line x1="1160" y1="1361.0" x2="1175" y2="1361.0"/><line x1="1160" y1="1381.5" x2="1175" y2="1381.5"/><line x1="1160" y1="1402.1" x2="1175" y2="1402.1"/><line x1="1160" y1="1422.6" x2="1175" y2="1422.6"/><line x1="1160" y1="1443.2" x2="1175" y2="1443.2"/><line x1="1160" y1="1463.7" x2="1175" y2="1463.7"/><line x1="1160" y1="1484.2" x2="1175" y2="1484.2"/><line x1="1160" y1="1504.8" x2="1175" y2="1504.8"/><line x1="1160" y1="1525.3" x2="1175" y2="1525.3"/><line x1="1160" y1="1545.9" x2="1175" y2="1545.9"/><line x1="1160" y1="1566.4" x2="1175" y2="1566.4"/><line x1="1160" y1="1587.0" x2="1175" y2="1587.0"/><line x1="1160" y1="1607.5" x2="1175" y2="1607.5"/><line x1="1160" y1="1628.0" x2="1175" y2="1628.0"/><line x1="1160" y1="1648.6" x2="1175" y2="1648.6"/><line x1="1160" y1="1669.1" x2="1175" y2="1669.1"/><line x1="1160" y1="1689.7" x2="1175" y2="1689.7"/><line x1="1160" y1="1710.2" x2="1175" y2="1710.2"/><line x1="1160" y1="1730.7" x2="1175" y2="1730.7"/><line x1="1160" y1="1751.3" x2="1175" y2="1751.3"/><line x1="1160" y1="1771.8" x2="1175" y2="1771.8"/><line x1="1160" y1="1792.3" x2="1175" y2="1792.3"/><line x1="1160" y1="1812.9" x2="1175" y2="1812.9"/><line x1="1160" y1="1833.4" x2="1175" y2="1833.4"/><line x1="1160" y1="1854.0" x2="1175" y2="1854.0"/><line x1="1160" y1="1874.5" x2="1175" y2="1874.5"/><line x1="1160" y1="1895.0" x2="1175" y2="1895.0"/><line x1="1160" y1="1915.6" x2="1175" y2="1915.6"/><line x1="1160" y1="1936.1" x2="1175" y2="1936.1"/><line x1="1160" y1="1956.7" x2="1175" y2="1956.7"/><line x1="1160" y1="1977.2" x2="1175" y2="1977.2"/><line x1="1160" y1="1997.8" x2="1175" y2="1997.8"/><line x1="1160" y1="2018.3" x2="1175" y2="2018.3"/><line x1="1160" y1="2038.8" x2="1175" y2="2038.8"/><line x1="1160" y1="2059.4" x2="1175" y2="2059.4"/><line x1="1160" y1="2079.9" x2="1175" y2="2079.9"/><line x1="1160" y1="2100.4" x2="1175" y2="2100.4"/><line x1="1160" y1="2121.0" x2="1175" y2="2121.0"/><line x1="1160" y1="2141.5" x2="1175" y2="2141.5"/><line x1="1160" y1="2162.1" x2="1175" y2="2162.1"/><line x1="1160" y1="2182.6" x2="1175" y2="2182.6"/><line x1="1160" y1="2203.2" x2="1175" y2="2203.2"/><line x1="1160" y1="2223.7" x2="1175" y2="2223.7"/><line x1="1160" y1="2244.2" x2="1175" y2="2244.2"/></g>
<linearGradient id="zgrad" x1="0" y1="0" x2="0" y2="1"><stop offset="0.000" stop-color="#ad2424"/><stop offset="0.025" stop-color="#b23131"/><stop offset="0.050" stop-color="#b63e3e"/><stop offset="0.075" stop-color="#ba4a4a"/><stop offset="0.100" stop-color="#bf5656"/><stop offset="0.125" stop-color="#c36262"/><stop offset="0.150" stop-color="#c76c6c"/><stop offset="0.175" stop-color="#ca7474"/><stop offset="0.200" stop-color="#ce7b7b"/><stop offset="0.225" stop-color="#d18282"/><stop offset="0.250" stop-color="#d48989"/><stop offset="0.275" stop-color="#d79191"/><stop offset="0.300" stop-color="#da9999"/><stop offset="0.325" stop-color="#dda0a0"/><stop offset="0.350" stop-color="#e0a8a8"/><stop offset="0.375" stop-color="#e4b2b2"/><stop offset="0.400" stop-color="#e8bcbc"/><stop offset="0.425" stop-color="#ecc6c6"/><stop offset="0.450" stop-color="#efd0d0"/><stop offset="0.475" stop-color="#f3dada"/><stop offset="0.500" stop-color="#f6e4e4"/><stop offset="0.525" stop-color="#f9efef"/><stop offset="0.550" stop-color="#fcf9f9"/><stop offset="0.575" stop-color="#f5f4f8"/><stop offset="0.600" stop-color="#e9e9f3"/><stop offset="0.625" stop-color="#deddee"/><stop offset="0.650" stop-color="#d2d2e9"/><stop offset="0.675" stop-color="#c6c6e3"/><stop offset="0.700" stop-color="#bbbbdd"/><stop offset="0.725" stop-color="#afafd8"/><stop offset="0.750" stop-color="#a4a4d2"/><stop offset="0.775" stop-color="#9898cc"/><stop offset="0.800" stop-color="#8c8cc6"/><stop offset="0.825" stop-color="#8080bf"/><stop offset="0.850" stop-color="#7474b9"/><stop offset="0.875" stop-color="#6868b3"/><stop offset="0.900" stop-color="#5959ac"/><stop offset="0.925" stop-color="#4a4aa4"/><stop offset="0.950" stop-color="#3b3b9d"/><stop offset="0.975" stop-color="#2c2c96"/><stop offset="1.000" stop-color="#232392"/></linearGradient>
<rect x="1668.7" y="1227.2" width="25" height="228.7" rx="3" fill="url(#zgrad)" stroke="#000" stroke-width="4.2"/>
<text transform="translate(1701.8,1268.5)" font-size="20">2</text>
<text transform="translate(1701.8,1315.1)" font-size="20">1</text>
<text transform="translate(1701.8,1361.7)" font-size="20">0</text>
<text transform="translate(1701.8,1408.3)" font-size="20">-1</text>
<text transform="translate(1701.8,1454.9)" font-size="20">-2</text>
<g stroke="#000" stroke-width="2.4"><line x1="1670.5" y1="1261.3" x2="1674" y2="1261.3"/><line x1="1688.5" y1="1261.3" x2="1692" y2="1261.3"/><line x1="1670.5" y1="1307.9" x2="1674" y2="1307.9"/><line x1="1688.5" y1="1307.9" x2="1692" y2="1307.9"/><line x1="1670.5" y1="1354.5" x2="1674" y2="1354.5"/><line x1="1688.5" y1="1354.5" x2="1692" y2="1354.5"/><line x1="1670.5" y1="1401.1" x2="1674" y2="1401.1"/><line x1="1688.5" y1="1401.1" x2="1692" y2="1401.1"/><line x1="1670.5" y1="1447.7" x2="1674" y2="1447.7"/><line x1="1688.5" y1="1447.7" x2="1692" y2="1447.7"/></g>
<text transform="translate(1663.0,1211.8)" font-size="24">Z-Score</text>
<text transform="translate(4.0,1708.3)" font-size="34" font-weight="bold">h</text>
<g fill="none" stroke="#222" stroke-width="2.6" stroke-linecap="round" stroke-linejoin="miter"><circle cx="190.1" cy="1764.4" r="10.2"/><path d="M195.2,1755.5 L206.3,1736.0 M207.9,1750.7 L206.3,1736.0 L192.8,1742.1"/></g>
<text transform="translate(213.0,1774.6)" font-size="24" font-weight="bold">P17</text>
<g fill="#000"><circle cx="468.9" cy="2056.6" r="5.1"/><circle cx="485.8" cy="2029.5" r="5.1"/><circle cx="463.7" cy="2080.0" r="5.1"/><circle cx="463.7" cy="2027.2" r="5.1"/><circle cx="466.9" cy="2022.1" r="5.1"/><circle cx="478.2" cy="2044.8" r="5.1"/><circle cx="476.1" cy="2034.9" r="5.1"/><circle cx="453.3" cy="2067.4" r="5.1"/><circle cx="448.0" cy="2034.9" r="5.1"/><circle cx="445.5" cy="2015.4" r="5.1"/><circle cx="465.0" cy="2033.1" r="5.1"/><circle cx="462.8" cy="2041.1" r="5.1"/><circle cx="466.3" cy="2028.5" r="5.1"/><circle cx="471.0" cy="2049.2" r="5.1"/><circle cx="461.7" cy="2032.6" r="5.1"/><circle cx="438.1" cy="1994.8" r="5.1"/><circle cx="446.8" cy="2040.5" r="5.1"/><circle cx="483.6" cy="2007.1" r="5.1"/><circle cx="472.3" cy="2070.6" r="5.1"/><circle cx="462.9" cy="2065.0" r="5.1"/><circle cx="482.8" cy="2030.2" r="5.1"/><circle cx="464.1" cy="2060.0" r="5.1"/><circle cx="453.1" cy="2051.4" r="5.1"/><circle cx="466.8" cy="2044.6" r="5.1"/><circle cx="440.2" cy="2015.5" r="5.1"/><circle cx="451.5" cy="2007.7" r="5.1"/><circle cx="495.3" cy="2016.3" r="5.1"/><circle cx="482.6" cy="2006.2" r="5.1"/><circle cx="492.3" cy="1999.3" r="5.1"/><circle cx="446.5" cy="2060.3" r="5.1"/><circle cx="457.8" cy="2021.3" r="5.1"/><circle cx="456.8" cy="2075.3" r="5.1"/><circle cx="462.2" cy="2024.6" r="5.1"/><circle cx="473.8" cy="2026.9" r="5.1"/><circle cx="467.1" cy="2054.8" r="5.1"/><circle cx="474.6" cy="2028.0" r="5.1"/><circle cx="477.4" cy="2018.4" r="5.1"/><circle cx="486.9" cy="2076.2" r="5.1"/><circle cx="473.0" cy="2032.6" r="5.1"/><circle cx="452.8" cy="2005.6" r="5.1"/><circle cx="493.8" cy="2031.7" r="5.1"/><circle cx="480.1" cy="2073.9" r="5.1"/><circle cx="467.4" cy="2044.2" r="5.1"/><circle cx="477.0" cy="2049.8" r="5.1"/><circle cx="469.4" cy="2042.2" r="5.1"/><circle cx="469.9" cy="2027.0" r="5.1"/><circle cx="471.1" cy="2059.1" r="5.1"/><circle cx="497.6" cy="2042.5" r="5.1"/><circle cx="459.5" cy="2047.1" r="5.1"/><circle cx="446.7" cy="2028.1" r="5.1"/><circle cx="464.9" cy="2044.6" r="5.1"/><circle cx="442.2" cy="2032.3" r="5.1"/><circle cx="443.7" cy="2039.8" r="5.1"/><circle cx="465.5" cy="2060.5" r="5.1"/><circle cx="456.9" cy="2010.8" r="5.1"/><circle cx="449.3" cy="2079.8" r="5.1"/><circle cx="465.1" cy="2053.3" r="5.1"/><circle cx="464.9" cy="2041.3" r="5.1"/><circle cx="466.1" cy="2041.3" r="5.1"/><circle cx="486.6" cy="2039.7" r="5.1"/><circle cx="475.1" cy="2033.2" r="5.1"/><circle cx="453.8" cy="2023.6" r="5.1"/><circle cx="485.8" cy="2078.7" r="5.1"/><circle cx="487.9" cy="1999.9" r="5.1"/><circle cx="475.6" cy="2061.4" r="5.1"/><circle cx="448.7" cy="2051.8" r="5.1"/><circle cx="472.8" cy="2055.0" r="5.1"/><circle cx="462.1" cy="2040.3" r="5.1"/><circle cx="480.4" cy="2055.9" r="5.1"/><circle cx="449.5" cy="2078.2" r="5.1"/><circle cx="485.0" cy="2032.7" r="5.1"/><circle cx="466.3" cy="2065.8" r="5.1"/><circle cx="455.0" cy="2020.2" r="5.1"/><circle cx="468.2" cy="2053.2" r="5.1"/><circle cx="476.9" cy="2030.3" r="5.1"/><circle cx="477.8" cy="2054.6" r="5.1"/><circle cx="475.2" cy="2023.3" r="5.1"/><circle cx="440.9" cy="2062.7" r="5.1"/><circle cx="478.3" cy="2054.2" r="5.1"/><circle cx="449.7" cy="2041.7" r="5.1"/><circle cx="442.9" cy="2057.9" r="5.1"/><circle cx="480.5" cy="2064.4" r="5.1"/><circle cx="479.9" cy="2020.2" r="5.1"/><circle cx="472.4" cy="2060.8" r="5.1"/><circle cx="459.6" cy="2024.8" r="5.1"/><circle cx="450.9" cy="2050.8" r="5.1"/><circle cx="446.9" cy="2067.9" r="5.1"/><circle cx="460.7" cy="2060.6" r="5.1"/><circle cx="492.6" cy="2046.6" r="5.1"/><circle cx="454.3" cy="2047.6" r="5.1"/><circle cx="475.1" cy="2018.0" r="5.1"/><circle cx="468.3" cy="2024.7" r="5.1"/><circle cx="468.7" cy="2027.7" r="5.1"/><circle cx="483.0" cy="2006.7" r="5.1"/><circle cx="466.2" cy="2025.0" r="5.1"/><circle cx="471.7" cy="2026.8" r="5.1"/><circle cx="491.3" cy="2020.2" r="5.1"/><circle cx="455.5" cy="2053.3" r="5.1"/><circle cx="466.1" cy="2065.4" r="5.1"/><circle cx="485.2" cy="2055.0" r="5.1"/><circle cx="475.6" cy="2024.4" r="5.1"/><circle cx="497.8" cy="2014.3" r="5.1"/><circle cx="476.3" cy="2016.4" r="5.1"/><circle cx="492.4" cy="2026.5" r="5.1"/><circle cx="448.6" cy="2079.6" r="5.1"/><circle cx="467.2" cy="2061.4" r="5.1"/><circle cx="458.5" cy="2033.0" r="5.1"/><circle cx="452.6" cy="2008.2" r="5.1"/><circle cx="465.1" cy="2041.7" r="5.1"/><circle cx="461.5" cy="2023.4" r="5.1"/><circle cx="476.9" cy="2045.1" r="5.1"/><circle cx="470.2" cy="2066.9" r="5.1"/><circle cx="454.2" cy="2038.4" r="5.1"/><circle cx="471.1" cy="2030.1" r="5.1"/><circle cx="459.3" cy="2017.3" r="5.1"/><circle cx="476.9" cy="2080.4" r="5.1"/><circle cx="442.0" cy="2021.6" r="5.1"/><circle cx="470.5" cy="2062.0" r="5.1"/><circle cx="463.9" cy="2062.0" r="5.1"/><circle cx="452.4" cy="2041.8" r="5.1"/><circle cx="464.9" cy="2032.0" r="5.1"/><circle cx="472.4" cy="2071.2" r="5.1"/><circle cx="467.6" cy="2072.3" r="5.1"/><circle cx="484.0" cy="2012.4" r="5.1"/><circle cx="482.3" cy="2053.9" r="5.1"/><circle cx="476.4" cy="2056.7" r="5.1"/><circle cx="455.0" cy="2035.3" r="5.1"/><circle cx="484.4" cy="2049.4" r="5.1"/><circle cx="472.2" cy="2071.5" r="5.1"/><circle cx="479.7" cy="2037.8" r="5.1"/><circle cx="464.5" cy="2074.9" r="5.1"/><circle cx="453.5" cy="2065.1" r="5.1"/><circle cx="453.6" cy="2020.3" r="5.1"/><circle cx="481.7" cy="2049.3" r="5.1"/><circle cx="473.9" cy="2050.0" r="5.1"/><circle cx="448.2" cy="2047.2" r="5.1"/><circle cx="444.8" cy="2041.3" r="5.1"/><circle cx="468.0" cy="2038.6" r="5.1"/><circle cx="456.9" cy="2040.3" r="5.1"/><circle cx="470.2" cy="2036.6" r="5.1"/><circle cx="481.3" cy="2046.1" r="5.1"/><circle cx="474.2" cy="2021.6" r="5.1"/><circle cx="480.5" cy="2013.2" r="5.1"/><circle cx="462.0" cy="2028.2" r="5.1"/><circle cx="466.3" cy="2072.2" r="5.1"/><circle cx="483.8" cy="2015.7" r="5.1"/><circle cx="451.5" cy="2017.5" r="5.1"/><circle cx="441.5" cy="2017.9" r="5.1"/><circle cx="465.6" cy="2073.4" r="5.1"/><circle cx="448.8" cy="2030.4" r="5.1"/><circle cx="475.6" cy="2026.6" r="5.1"/><circle cx="467.8" cy="2077.7" r="5.1"/><circle cx="473.1" cy="2022.7" r="5.1"/><circle cx="471.1" cy="2067.9" r="5.1"/><circle cx="495.2" cy="2067.4" r="5.1"/><circle cx="471.6" cy="2026.5" r="5.1"/><circle cx="454.7" cy="2009.8" r="5.1"/><circle cx="442.9" cy="2026.5" r="5.1"/><circle cx="468.7" cy="2033.9" r="5.1"/><circle cx="463.7" cy="2046.6" r="5.1"/><circle cx="466.0" cy="2034.6" r="5.1"/><circle cx="460.7" cy="2018.1" r="5.1"/><circle cx="479.5" cy="2037.3" r="5.1"/><circle cx="472.3" cy="2026.7" r="5.1"/><circle cx="468.0" cy="2064.3" r="5.1"/><circle cx="476.7" cy="2035.9" r="5.1"/><circle cx="467.8" cy="2057.3" r="5.1"/><circle cx="452.9" cy="2047.8" r="5.1"/><circle cx="458.5" cy="2073.8" r="5.1"/><circle cx="479.8" cy="2041.6" r="5.1"/><circle cx="482.4" cy="2021.8" r="5.1"/><circle cx="465.0" cy="2069.4" r="5.1"/><circle cx="458.6" cy="2032.4" r="5.1"/><circle cx="444.6" cy="2033.1" r="5.1"/><circle cx="446.7" cy="2004.4" r="5.1"/><circle cx="469.6" cy="2070.2" r="5.1"/><circle cx="487.5" cy="2003.9" r="5.1"/><circle cx="481.2" cy="2039.4" r="5.1"/><circle cx="445.7" cy="2062.4" r="5.1"/><circle cx="475.6" cy="2060.3" r="5.1"/><circle cx="473.6" cy="2057.9" r="5.1"/><circle cx="485.9" cy="2059.3" r="5.1"/><circle cx="454.4" cy="2056.2" r="5.1"/><circle cx="433.8" cy="2013.3" r="5.1"/><circle cx="443.0" cy="2026.2" r="5.1"/><circle cx="482.3" cy="2057.7" r="5.1"/><circle cx="468.1" cy="2050.6" r="5.1"/><circle cx="470.6" cy="2055.0" r="5.1"/><circle cx="474.0" cy="2057.2" r="5.1"/><circle cx="479.7" cy="2022.6" r="5.1"/><circle cx="495.3" cy="2033.3" r="5.1"/><circle cx="454.2" cy="2017.2" r="5.1"/><circle cx="457.9" cy="2022.1" r="5.1"/><circle cx="451.8" cy="2023.0" r="5.1"/><circle cx="461.6" cy="2023.9" r="5.1"/><circle cx="448.3" cy="2001.5" r="5.1"/><circle cx="481.4" cy="2042.9" r="5.1"/><circle cx="468.9" cy="2036.5" r="5.1"/><circle cx="478.1" cy="2030.8" r="5.1"/><circle cx="495.2" cy="2055.3" r="5.1"/><circle cx="460.2" cy="2066.1" r="5.1"/><circle cx="467.0" cy="2038.0" r="5.1"/><circle cx="476.9" cy="2019.9" r="5.1"/><circle cx="476.6" cy="2019.9" r="5.1"/><circle cx="460.9" cy="2057.7" r="5.1"/><circle cx="446.6" cy="2072.0" r="5.1"/><circle cx="478.4" cy="2072.8" r="5.1"/><circle cx="473.6" cy="2055.1" r="5.1"/><circle cx="457.0" cy="2037.3" r="5.1"/><circle cx="466.7" cy="2059.0" r="5.1"/><circle cx="466.0" cy="2052.6" r="5.1"/><circle cx="457.5" cy="2037.4" r="5.1"/><circle cx="468.4" cy="2024.0" r="5.1"/><circle cx="453.3" cy="2070.0" r="5.1"/><circle cx="479.1" cy="2058.4" r="5.1"/><circle cx="463.9" cy="2024.6" r="5.1"/><circle cx="461.3" cy="2020.4" r="5.1"/><circle cx="496.0" cy="2042.9" r="5.1"/><circle cx="487.4" cy="2015.0" r="5.1"/><circle cx="468.1" cy="2039.6" r="5.1"/><circle cx="455.3" cy="2030.8" r="5.1"/><circle cx="471.5" cy="2032.0" r="5.1"/><circle cx="456.7" cy="2011.7" r="5.1"/><circle cx="459.1" cy="2071.5" r="5.1"/><circle cx="451.5" cy="2039.6" r="5.1"/><circle cx="453.6" cy="2027.6" r="5.1"/><circle cx="486.1" cy="2032.1" r="5.1"/><circle cx="476.2" cy="2035.3" r="5.1"/><circle cx="486.6" cy="2063.7" r="5.1"/><circle cx="483.9" cy="2069.3" r="5.1"/><circle cx="453.9" cy="2010.3" r="5.1"/><circle cx="475.8" cy="2029.9" r="5.1"/><circle cx="477.7" cy="2036.4" r="5.1"/><circle cx="447.7" cy="2040.0" r="5.1"/><circle cx="460.4" cy="2057.6" r="5.1"/><circle cx="470.0" cy="2035.6" r="5.1"/><circle cx="472.4" cy="2031.0" r="5.1"/><circle cx="444.4" cy="2046.4" r="5.1"/><circle cx="461.1" cy="2061.1" r="5.1"/><circle cx="445.5" cy="2076.3" r="5.1"/><circle cx="487.3" cy="2036.2" r="5.1"/><circle cx="467.9" cy="2058.0" r="5.1"/><circle cx="492.5" cy="2047.9" r="5.1"/><circle cx="452.5" cy="2020.0" r="5.1"/><circle cx="477.9" cy="2053.2" r="5.1"/><circle cx="471.6" cy="2061.6" r="5.1"/><circle cx="461.7" cy="2073.0" r="5.1"/><circle cx="486.8" cy="2019.1" r="5.1"/><circle cx="484.0" cy="2063.9" r="5.1"/><circle cx="473.2" cy="2031.0" r="5.1"/><circle cx="481.6" cy="2017.8" r="5.1"/><circle cx="467.3" cy="2070.9" r="5.1"/><circle cx="448.0" cy="2045.0" r="5.1"/><circle cx="473.7" cy="2041.4" r="5.1"/><circle cx="484.3" cy="2062.4" r="5.1"/><circle cx="467.5" cy="2078.8" r="5.1"/><circle cx="493.0" cy="2006.9" r="5.1"/><circle cx="495.1" cy="2042.0" r="5.1"/><circle cx="445.0" cy="2030.3" r="5.1"/><circle cx="449.6" cy="2001.8" r="5.1"/><circle cx="457.2" cy="2030.3" r="5.1"/><circle cx="458.7" cy="2045.0" r="5.1"/><circle cx="495.1" cy="2022.4" r="5.1"/><circle cx="467.4" cy="2034.8" r="5.1"/><circle cx="466.5" cy="2040.0" r="5.1"/><circle cx="449.7" cy="2041.0" r="5.1"/><circle cx="468.4" cy="2067.7" r="5.1"/><circle cx="463.6" cy="2047.2" r="5.1"/><circle cx="466.8" cy="2041.1" r="5.1"/><circle cx="449.8" cy="2003.4" r="5.1"/><circle cx="474.0" cy="2021.1" r="5.1"/><circle cx="484.5" cy="2029.0" r="5.1"/><circle cx="487.0" cy="2075.6" r="5.1"/><circle cx="460.7" cy="2074.6" r="5.1"/><circle cx="475.7" cy="2041.8" r="5.1"/><circle cx="479.2" cy="2016.6" r="5.1"/><circle cx="462.0" cy="2034.1" r="5.1"/><circle cx="486.7" cy="2029.0" r="5.1"/><circle cx="489.1" cy="2001.2" r="5.1"/><circle cx="462.4" cy="2056.4" r="5.1"/><circle cx="444.1" cy="2008.8" r="5.1"/><circle cx="493.9" cy="2037.7" r="5.1"/><circle cx="455.4" cy="2023.9" r="5.1"/><circle cx="460.5" cy="2077.4" r="5.1"/><circle cx="468.2" cy="2075.3" r="5.1"/><circle cx="470.2" cy="2048.3" r="5.1"/><circle cx="475.7" cy="2031.3" r="5.1"/><circle cx="452.6" cy="2028.9" r="5.1"/><circle cx="463.9" cy="2059.6" r="5.1"/><circle cx="443.5" cy="2042.3" r="5.1"/><circle cx="472.9" cy="2067.3" r="5.1"/><circle cx="486.3" cy="2047.9" r="5.1"/><circle cx="453.7" cy="2050.2" r="5.1"/><circle cx="448.2" cy="2059.7" r="5.1"/><circle cx="463.9" cy="2081.0" r="5.1"/><circle cx="474.0" cy="2069.7" r="5.1"/><circle cx="492.2" cy="2036.7" r="5.1"/><circle cx="470.9" cy="2068.5" r="5.1"/><circle cx="476.9" cy="2050.1" r="5.1"/><circle cx="469.2" cy="2073.0" r="5.1"/><circle cx="470.5" cy="2068.8" r="5.1"/><circle cx="462.4" cy="2079.2" r="5.1"/><circle cx="467.8" cy="2052.6" r="5.1"/><circle cx="448.5" cy="2075.6" r="5.1"/><circle cx="480.0" cy="2048.5" r="5.1"/><circle cx="464.8" cy="2021.2" r="5.1"/><circle cx="469.6" cy="2065.7" r="5.1"/><circle cx="481.2" cy="2066.3" r="5.1"/><circle cx="476.7" cy="2035.5" r="5.1"/><circle cx="463.2" cy="2076.8" r="5.1"/><circle cx="473.7" cy="2031.4" r="5.1"/><circle cx="463.5" cy="2049.3" r="5.1"/><circle cx="492.9" cy="1996.3" r="5.1"/><circle cx="464.0" cy="2062.2" r="5.1"/><circle cx="478.0" cy="2021.6" r="5.1"/><circle cx="458.3" cy="2073.0" r="5.1"/><circle cx="457.8" cy="2031.1" r="5.1"/><circle cx="486.7" cy="2080.8" r="5.1"/><circle cx="463.7" cy="2078.6" r="5.1"/><circle cx="475.0" cy="2077.8" r="5.1"/><circle cx="472.3" cy="2076.6" r="5.1"/><circle cx="449.8" cy="2062.2" r="5.1"/><circle cx="441.6" cy="1992.4" r="5.1"/><circle cx="441.4" cy="1996.8" r="5.1"/><circle cx="471.3" cy="2021.3" r="5.1"/><circle cx="479.7" cy="2034.1" r="5.1"/><circle cx="470.2" cy="2022.3" r="5.1"/><circle cx="477.9" cy="2019.4" r="5.1"/><circle cx="473.9" cy="2071.8" r="5.1"/><circle cx="457.4" cy="2030.9" r="5.1"/><circle cx="475.9" cy="2016.6" r="5.1"/><circle cx="478.4" cy="2026.5" r="5.1"/><circle cx="488.8" cy="2008.6" r="5.1"/><circle cx="436.2" cy="2043.9" r="5.1"/><circle cx="456.6" cy="2048.6" r="5.1"/><circle cx="470.8" cy="2048.8" r="5.1"/><circle cx="492.7" cy="2053.6" r="5.1"/><circle cx="478.8" cy="2035.0" r="5.1"/><circle cx="487.9" cy="2019.3" r="5.1"/><circle cx="454.7" cy="2067.4" r="5.1"/><circle cx="478.5" cy="2028.0" r="5.1"/><circle cx="483.7" cy="2019.7" r="5.1"/><circle cx="469.9" cy="2037.9" r="5.1"/><circle cx="476.3" cy="2021.5" r="5.1"/><circle cx="473.7" cy="2036.7" r="5.1"/><circle cx="488.9" cy="2039.6" r="5.1"/><circle cx="447.0" cy="2004.8" r="5.1"/><circle cx="466.1" cy="2056.6" r="5.1"/><circle cx="454.4" cy="2074.3" r="5.1"/><circle cx="438.1" cy="2069.1" r="5.1"/><circle cx="489.0" cy="2029.7" r="5.1"/><circle cx="472.1" cy="2037.6" r="5.1"/><circle cx="471.3" cy="2063.7" r="5.1"/><circle cx="475.5" cy="2035.0" r="5.1"/><circle cx="470.0" cy="2043.1" r="5.1"/><circle cx="478.0" cy="2011.6" r="5.1"/><circle cx="468.3" cy="2066.0" r="5.1"/><circle cx="453.4" cy="2020.2" r="5.1"/><circle cx="461.7" cy="2039.4" r="5.1"/><circle cx="471.8" cy="2067.0" r="5.1"/><circle cx="450.0" cy="2064.3" r="5.1"/><circle cx="491.5" cy="2068.9" r="5.1"/><circle cx="480.5" cy="2078.7" r="5.1"/><circle cx="477.0" cy="2017.5" r="5.1"/><circle cx="465.5" cy="2074.6" r="5.1"/><circle cx="457.4" cy="2021.0" r="5.1"/><circle cx="469.7" cy="2041.6" r="5.1"/><circle cx="452.0" cy="2012.2" r="5.1"/><circle cx="448.3" cy="2049.5" r="5.1"/><circle cx="454.9" cy="2071.0" r="5.1"/><circle cx="457.9" cy="2021.2" r="5.1"/><circle cx="445.3" cy="2060.4" r="5.1"/><circle cx="452.5" cy="2036.9" r="5.1"/><circle cx="444.5" cy="2072.6" r="5.1"/><circle cx="472.8" cy="2056.2" r="5.1"/><circle cx="461.9" cy="2042.8" r="5.1"/><circle cx="468.0" cy="2036.3" r="5.1"/><circle cx="448.8" cy="2029.0" r="5.1"/><circle cx="477.3" cy="2063.6" r="5.1"/><circle cx="439.0" cy="2046.5" r="5.1"/><circle cx="461.9" cy="2064.7" r="5.1"/><circle cx="470.1" cy="2069.1" r="5.1"/><circle cx="488.8" cy="2005.6" r="5.1"/><circle cx="457.6" cy="2011.1" r="5.1"/><circle cx="441.8" cy="2029.4" r="5.1"/><circle cx="445.6" cy="2042.0" r="5.1"/><circle cx="497.4" cy="1992.4" r="5.1"/><circle cx="457.4" cy="2044.2" r="5.1"/><circle cx="469.7" cy="2020.1" r="5.1"/><circle cx="452.7" cy="2009.7" r="5.1"/><circle cx="458.6" cy="2066.0" r="5.1"/><circle cx="500.4" cy="2070.0" r="5.1"/><circle cx="465.4" cy="2047.3" r="5.1"/><circle cx="455.5" cy="2032.0" r="5.1"/><circle cx="490.9" cy="2053.7" r="5.1"/><circle cx="473.6" cy="2050.1" r="5.1"/><circle cx="454.0" cy="2023.2" r="5.1"/><circle cx="487.4" cy="2054.1" r="5.1"/><circle cx="477.3" cy="2049.4" r="5.1"/><circle cx="474.9" cy="2074.5" r="5.1"/><circle cx="481.6" cy="2025.8" r="5.1"/><circle cx="487.8" cy="1998.9" r="5.1"/><circle cx="497.1" cy="2043.0" r="5.1"/><circle cx="463.7" cy="2069.0" r="5.1"/><circle cx="461.3" cy="2044.1" r="5.1"/><circle cx="482.6" cy="2036.6" r="5.1"/><circle cx="449.3" cy="2055.0" r="5.1"/><circle cx="489.5" cy="2038.1" r="5.1"/><circle cx="487.6" cy="2053.2" r="5.1"/><circle cx="450.2" cy="2058.8" r="5.1"/><circle cx="468.2" cy="2071.7" r="5.1"/><circle cx="465.6" cy="2046.8" r="5.1"/><circle cx="458.9" cy="2076.6" r="5.1"/><circle cx="465.5" cy="2066.7" r="5.1"/><circle cx="469.5" cy="2021.2" r="5.1"/><circle cx="451.3" cy="2017.7" r="5.1"/><circle cx="471.4" cy="2067.4" r="5.1"/><circle cx="467.0" cy="2080.1" r="5.1"/><circle cx="455.4" cy="2076.2" r="5.1"/><circle cx="473.0" cy="2043.3" r="5.1"/><circle cx="478.0" cy="2060.9" r="5.1"/><circle cx="474.5" cy="2026.0" r="5.1"/><circle cx="457.6" cy="2077.0" r="5.1"/><circle cx="473.1" cy="2050.6" r="5.1"/><circle cx="452.3" cy="2009.7" r="5.1"/><circle cx="451.8" cy="2016.6" r="5.1"/><circle cx="467.6" cy="2035.5" r="5.1"/><circle cx="475.4" cy="2025.9" r="5.1"/><circle cx="440.0" cy="2026.8" r="5.1"/><circle cx="466.0" cy="2062.1" r="5.1"/><circle cx="468.8" cy="2040.8" r="5.1"/><circle cx="469.9" cy="2025.4" r="5.1"/><circle cx="481.1" cy="2028.8" r="5.1"/><circle cx="458.4" cy="2015.7" r="5.1"/><circle cx="475.3" cy="2050.3" r="5.1"/><circle cx="449.2" cy="2036.2" r="5.1"/><circle cx="471.9" cy="2035.7" r="5.1"/><circle cx="475.7" cy="2012.9" r="5.1"/><circle cx="453.2" cy="2051.4" r="5.1"/><circle cx="463.1" cy="2049.7" r="5.1"/><circle cx="472.7" cy="2018.5" r="5.1"/><circle cx="452.4" cy="2066.8" r="5.1"/><circle cx="460.5" cy="2050.9" r="5.1"/><circle cx="483.8" cy="2012.9" r="5.1"/><circle cx="483.3" cy="2030.8" r="5.1"/><circle cx="437.6" cy="2077.3" r="5.1"/><circle cx="451.0" cy="2039.8" r="5.1"/><circle cx="459.2" cy="2059.3" r="5.1"/><circle cx="459.4" cy="2072.4" r="5.1"/><circle cx="436.4" cy="2016.5" r="5.1"/><circle cx="455.4" cy="2014.4" r="5.1"/><circle cx="480.2" cy="2009.4" r="5.1"/><circle cx="461.5" cy="2019.9" r="5.1"/><circle cx="460.0" cy="2066.7" r="5.1"/><circle cx="447.1" cy="2051.4" r="5.1"/><circle cx="485.8" cy="2056.1" r="5.1"/><circle cx="500.8" cy="2048.2" r="5.1"/><circle cx="456.7" cy="2050.2" r="5.1"/><circle cx="466.0" cy="2063.9" r="5.1"/><circle cx="475.1" cy="2014.3" r="5.1"/><circle cx="476.8" cy="2064.8" r="5.1"/><circle cx="472.5" cy="2074.6" r="5.1"/><circle cx="443.8" cy="2005.8" r="5.1"/><circle cx="463.5" cy="2039.3" r="5.1"/><circle cx="468.1" cy="2062.3" r="5.1"/><circle cx="466.1" cy="2023.0" r="5.1"/><circle cx="477.9" cy="2044.0" r="5.1"/><circle cx="472.4" cy="2061.5" r="5.1"/><circle cx="463.2" cy="2063.8" r="5.1"/><circle cx="466.2" cy="2023.3" r="5.1"/><circle cx="487.1" cy="2063.7" r="5.1"/><circle cx="492.5" cy="1991.9" r="5.1"/><circle cx="457.9" cy="2069.1" r="5.1"/><circle cx="448.8" cy="2075.3" r="5.1"/><circle cx="468.0" cy="2068.0" r="5.1"/><circle cx="458.4" cy="2022.6" r="5.1"/><circle cx="470.8" cy="2020.8" r="5.1"/><circle cx="464.2" cy="2045.6" r="5.1"/><circle cx="462.4" cy="2053.4" r="5.1"/><circle cx="472.2" cy="2017.5" r="5.1"/><circle cx="466.0" cy="2070.6" r="5.1"/><circle cx="475.1" cy="2070.7" r="5.1"/><circle cx="448.1" cy="2073.0" r="5.1"/><circle cx="493.4" cy="2060.7" r="5.1"/><circle cx="449.0" cy="2001.0" r="5.1"/><circle cx="467.8" cy="2024.8" r="5.1"/><circle cx="481.2" cy="2041.8" r="5.1"/><circle cx="463.8" cy="2079.3" r="5.1"/><circle cx="455.4" cy="2052.9" r="5.1"/><circle cx="467.2" cy="2045.8" r="5.1"/><circle cx="442.0" cy="2035.9" r="5.1"/><circle cx="452.2" cy="2037.0" r="5.1"/><circle cx="463.8" cy="2027.6" r="5.1"/><circle cx="473.5" cy="2019.1" r="5.1"/><circle cx="486.2" cy="2010.5" r="5.1"/><circle cx="483.6" cy="2013.9" r="5.1"/><circle cx="501.4" cy="2062.6" r="5.1"/><circle cx="466.5" cy="2077.0" r="5.1"/><circle cx="477.3" cy="2011.8" r="5.1"/><circle cx="442.5" cy="2068.5" r="5.1"/><circle cx="483.5" cy="2079.6" r="5.1"/><circle cx="485.2" cy="2001.0" r="5.1"/><circle cx="448.6" cy="2022.6" r="5.1"/><circle cx="442.9" cy="2070.8" r="5.1"/><circle cx="463.6" cy="2044.8" r="5.1"/><circle cx="459.8" cy="2038.2" r="5.1"/><circle cx="470.5" cy="2058.7" r="5.1"/><circle cx="453.4" cy="2054.1" r="5.1"/><circle cx="466.9" cy="2057.7" r="5.1"/><circle cx="434.5" cy="1993.6" r="5.1"/><circle cx="443.2" cy="2003.3" r="5.1"/><circle cx="473.6" cy="2016.4" r="5.1"/><circle cx="457.2" cy="2059.3" r="5.1"/><circle cx="479.8" cy="2025.3" r="5.1"/><circle cx="479.5" cy="2053.3" r="5.1"/><circle cx="460.2" cy="2015.6" r="5.1"/><circle cx="458.1" cy="2046.8" r="5.1"/><circle cx="449.7" cy="2009.5" r="5.1"/><circle cx="470.0" cy="2020.3" r="5.1"/><circle cx="452.0" cy="2030.7" r="5.1"/><circle cx="464.7" cy="2075.7" r="5.1"/><circle cx="442.2" cy="2009.3" r="5.1"/><circle cx="480.3" cy="2075.4" r="5.1"/><circle cx="476.3" cy="2012.8" r="5.1"/><circle cx="456.1" cy="2051.7" r="5.1"/><circle cx="471.6" cy="2024.3" r="5.1"/><circle cx="485.5" cy="2043.2" r="5.1"/><circle cx="483.0" cy="2050.0" r="5.1"/><circle cx="450.5" cy="2054.2" r="5.1"/><circle cx="452.8" cy="2049.6" r="5.1"/><circle cx="467.0" cy="2041.0" r="5.1"/><circle cx="481.2" cy="2067.9" r="5.1"/><circle cx="453.8" cy="2061.9" r="5.1"/><circle cx="453.6" cy="2068.4" r="5.1"/><circle cx="482.1" cy="2073.2" r="5.1"/><circle cx="462.4" cy="2078.6" r="5.1"/><circle cx="478.3" cy="2040.0" r="5.1"/><circle cx="483.4" cy="2021.6" r="5.1"/><circle cx="458.9" cy="2022.7" r="5.1"/><circle cx="484.4" cy="2043.1" r="5.1"/><circle cx="440.0" cy="2015.3" r="5.1"/><circle cx="489.3" cy="2045.4" r="5.1"/><circle cx="488.2" cy="2038.0" r="5.1"/><circle cx="476.8" cy="2065.5" r="5.1"/><circle cx="459.9" cy="2024.0" r="5.1"/><circle cx="462.5" cy="2078.7" r="5.1"/><circle cx="463.9" cy="2056.7" r="5.1"/><circle cx="495.1" cy="2061.0" r="5.1"/><circle cx="468.8" cy="2062.5" r="5.1"/><circle cx="454.1" cy="2045.8" r="5.1"/><circle cx="478.7" cy="2033.4" r="5.1"/><circle cx="459.1" cy="2072.8" r="5.1"/><circle cx="454.3" cy="2007.5" r="5.1"/><circle cx="465.3" cy="2051.9" r="5.1"/><circle cx="461.8" cy="2030.3" r="5.1"/><circle cx="472.9" cy="2080.3" r="5.1"/><circle cx="467.2" cy="2050.8" r="5.1"/><circle cx="440.2" cy="2003.0" r="5.1"/><circle cx="482.1" cy="2052.8" r="5.1"/><circle cx="450.7" cy="2009.9" r="5.1"/><circle cx="476.9" cy="2064.6" r="5.1"/><circle cx="462.6" cy="2037.9" r="5.1"/><circle cx="471.4" cy="2078.9" r="5.1"/><circle cx="483.8" cy="2033.3" r="5.1"/><circle cx="460.4" cy="2073.9" r="5.1"/><circle cx="469.3" cy="2028.2" r="5.1"/><circle cx="483.8" cy="2035.9" r="5.1"/><circle cx="458.6" cy="2033.1" r="5.1"/><circle cx="457.8" cy="2057.5" r="5.1"/><circle cx="465.8" cy="2026.0" r="5.1"/><circle cx="479.6" cy="2033.3" r="5.1"/><circle cx="480.8" cy="2051.6" r="5.1"/><circle cx="471.3" cy="2026.1" r="5.1"/><circle cx="435.7" cy="2010.5" r="5.1"/><circle cx="469.0" cy="2052.8" r="5.1"/><circle cx="472.4" cy="2058.6" r="5.1"/><circle cx="477.7" cy="2063.3" r="5.1"/><circle cx="495.3" cy="2003.2" r="5.1"/><circle cx="474.3" cy="2019.4" r="5.1"/><circle cx="464.7" cy="2054.2" r="5.1"/><circle cx="469.7" cy="2078.1" r="5.1"/><circle cx="476.6" cy="2043.8" r="5.1"/><circle cx="446.2" cy="2008.9" r="5.1"/><circle cx="486.4" cy="2075.0" r="5.1"/><circle cx="455.7" cy="2065.8" r="5.1"/><circle cx="475.9" cy="2061.4" r="5.1"/><circle cx="465.6" cy="2058.2" r="5.1"/><circle cx="489.9" cy="2069.3" r="5.1"/><circle cx="470.4" cy="2044.0" r="5.1"/><circle cx="483.0" cy="2059.2" r="5.1"/><circle cx="464.3" cy="2037.6" r="5.1"/><circle cx="457.8" cy="2036.0" r="5.1"/><circle cx="478.4" cy="2050.0" r="5.1"/><circle cx="489.2" cy="2032.0" r="5.1"/><circle cx="450.7" cy="2043.0" r="5.1"/><circle cx="455.7" cy="2075.8" r="5.1"/><circle cx="474.1" cy="2046.1" r="5.1"/><circle cx="439.3" cy="2024.4" r="5.1"/><circle cx="463.9" cy="2036.3" r="5.1"/><circle cx="498.5" cy="2057.3" r="5.1"/><circle cx="389.0" cy="2027.8" r="5.1"/><circle cx="419.0" cy="2030.2" r="5.1"/><circle cx="423.8" cy="2050.3" r="5.1"/><circle cx="428.5" cy="2000.6" r="5.1"/><circle cx="427.3" cy="2017.2" r="5.1"/><circle cx="434.4" cy="2026.7" r="5.1"/><circle cx="430.9" cy="2036.1" r="5.1"/><circle cx="529.0" cy="1993.5" r="5.1"/><circle cx="537.3" cy="1987.1" r="5.1"/><circle cx="539.7" cy="2011.3" r="5.1"/><circle cx="542.0" cy="2010.1" r="5.1"/><circle cx="516.0" cy="2040.8" r="5.1"/><circle cx="520.7" cy="2027.8" r="5.1"/><circle cx="519.6" cy="2020.7" r="5.1"/><circle cx="507.7" cy="2059.8" r="5.1"/><circle cx="611.8" cy="2056.7" r="5.1"/><circle cx="663.9" cy="1985.7" r="5.1"/><circle cx="663.9" cy="1993.5" r="5.1"/><circle cx="684.7" cy="2007.7" r="5.1"/><circle cx="698.2" cy="1991.2" r="5.1"/><circle cx="704.1" cy="1987.6" r="5.1"/><circle cx="708.8" cy="2001.3" r="5.1"/><circle cx="706.0" cy="2034.5" r="5.1"/><circle cx="713.5" cy="2035.4" r="5.1"/><circle cx="440.3" cy="1988.8" r="5.1"/><circle cx="451.0" cy="1991.2" r="5.1"/><circle cx="443.9" cy="1994.7" r="5.1"/><circle cx="484.1" cy="1994.7" r="5.1"/><circle cx="495.9" cy="1991.2" r="5.1"/><circle cx="505.4" cy="1990.0" r="5.1"/><circle cx="508.9" cy="1994.7" r="5.1"/><circle cx="512.5" cy="2006.5" r="5.1"/><circle cx="439.1" cy="2075.1" r="5.1"/><circle cx="491.2" cy="2077.5" r="5.1"/><circle cx="451.0" cy="2082.2" r="5.1"/><circle cx="264.3" cy="1996.9" r="5.1"/><circle cx="388.3" cy="2028.1" r="5.1"/><circle cx="418.8" cy="2030.0" r="5.1"/><circle cx="424.8" cy="2050.3" r="5.1"/><circle cx="428.3" cy="2017.4" r="5.1"/><circle cx="428.8" cy="2000.4" r="5.1"/></g>
<g fill="#ff8000"><circle cx="415.5" cy="1960.4" r="5.1"/><circle cx="420.2" cy="1953.3" r="5.1"/><circle cx="436.8" cy="1941.5" r="5.1"/><circle cx="440.3" cy="1946.2" r="5.1"/><circle cx="439.1" cy="1953.3" r="5.1"/><circle cx="429.7" cy="1961.6" r="5.1"/><circle cx="428.5" cy="1966.3" r="5.1"/><circle cx="434.4" cy="1968.7" r="5.1"/><circle cx="441.5" cy="1966.3" r="5.1"/><circle cx="448.6" cy="1966.3" r="5.1"/><circle cx="449.8" cy="1972.2" r="5.1"/><circle cx="436.8" cy="1978.2" r="5.1"/><circle cx="442.7" cy="1979.3" r="5.1"/><circle cx="452.1" cy="1982.9" r="5.1"/><circle cx="434.4" cy="1984.1" r="5.1"/><circle cx="445.1" cy="1982.9" r="5.1"/><circle cx="439.1" cy="1973.4" r="5.1"/><circle cx="447.4" cy="1975.8" r="5.1"/><circle cx="433.2" cy="1975.8" r="5.1"/><circle cx="442.0" cy="1959.2" r="5.1"/><circle cx="446.2" cy="1971.1" r="5.1"/><circle cx="495.9" cy="1952.1" r="5.1"/><circle cx="499.5" cy="1948.6" r="5.1"/><circle cx="506.6" cy="1952.1" r="5.1"/><circle cx="517.2" cy="1942.7" r="5.1"/><circle cx="519.6" cy="1948.6" r="5.1"/><circle cx="521.9" cy="1961.6" r="5.1"/><circle cx="503.0" cy="1959.2" r="5.1"/><circle cx="508.9" cy="1964.0" r="5.1"/><circle cx="512.5" cy="1961.6" r="5.1"/><circle cx="494.7" cy="1972.2" r="5.1"/><circle cx="498.3" cy="1978.2" r="5.1"/><circle cx="505.4" cy="1975.8" r="5.1"/><circle cx="510.1" cy="1971.1" r="5.1"/><circle cx="508.9" cy="1980.5" r="5.1"/><circle cx="497.1" cy="1984.1" r="5.1"/><circle cx="503.0" cy="1967.5" r="5.1"/><circle cx="500.6" cy="1956.9" r="5.1"/><circle cx="505.4" cy="1982.9" r="5.1"/><circle cx="516.0" cy="1945.0" r="5.1"/><circle cx="536.6" cy="1949.1" r="5.1"/><circle cx="578.2" cy="1983.6" r="5.1"/><circle cx="699.8" cy="1950.2" r="5.1"/><circle cx="692.7" cy="1961.6" r="5.1"/><circle cx="708.3" cy="1963.3" r="5.1"/><circle cx="699.3" cy="1982.2" r="5.1"/></g>
<g fill="#ff8000"><circle cx="416.7" cy="1960.7" r="5.1"/><circle cx="419.9" cy="1953.7" r="5.1"/><circle cx="428.8" cy="1962.6" r="5.1"/><circle cx="431.5" cy="1969.4" r="5.1"/><circle cx="435.5" cy="1977.4" r="5.1"/><circle cx="436.9" cy="1939.7" r="5.1"/></g>
<g fill="#0000ff"><circle cx="394.7" cy="1916.7" r="5.1"/><circle cx="406.7" cy="1933.2" r="5.1"/><circle cx="419.0" cy="1912.4" r="5.1"/><circle cx="434.9" cy="1885.9" r="5.1"/><circle cx="433.9" cy="1893.5" r="5.1"/><circle cx="437.2" cy="1903.0" r="5.1"/><circle cx="527.1" cy="1877.6" r="5.1"/><circle cx="546.8" cy="1873.4" r="5.1"/><circle cx="504.2" cy="1912.4" r="5.1"/><circle cx="506.6" cy="1917.8" r="5.1"/><circle cx="516.7" cy="1916.2" r="5.1"/><circle cx="506.1" cy="1931.3" r="5.1"/><circle cx="516.7" cy="1931.3" r="5.1"/><circle cx="678.5" cy="1865.8" r="5.1"/><circle cx="697.7" cy="1876.4" r="5.1"/><circle cx="689.9" cy="1890.2" r="5.1"/><circle cx="698.2" cy="1888.7" r="5.1"/><circle cx="678.0" cy="1904.4" r="5.1"/><circle cx="692.2" cy="1906.5" r="5.1"/><circle cx="661.0" cy="1921.9" r="5.1"/><circle cx="690.3" cy="1919.7" r="5.1"/><circle cx="695.3" cy="1931.3" r="5.1"/></g>
<line x1="176" y1="1860.8" x2="759" y2="1860.8" stroke="#000" stroke-width="3" stroke-dasharray="8.5,5"/>
<line x1="176" y1="1934.3" x2="759" y2="1934.3" stroke="#000" stroke-width="3" stroke-dasharray="8.5,5"/>
<line x1="176" y1="1985.6" x2="759" y2="1985.6" stroke="#000" stroke-width="3" stroke-dasharray="8.5,5"/>
<text x="181" y="1852" font-size="20"><tspan font-style="italic">p</tspan>&lt;0.001</text>
<text x="181" y="1924.9" font-size="20"><tspan font-style="italic">p</tspan>&lt;0.01</text>
<text x="181" y="1977.4" font-size="20"><tspan font-style="italic">p</tspan>&lt;0.05</text>
<circle cx="232.5" cy="1810.2" r="5.4" fill="#ff0000" />
<text transform="translate(249.5,1818.0)" font-size="24">CL72:3_18:0</text>
<circle cx="693.4" cy="1813.8" r="5.4" fill="#ff0000" />
<text transform="translate(684.0,1818.0)" font-size="24" text-anchor="end">Hex2Cer d18:1/24:1</text>
<circle cx="241.4" cy="1879.8" r="5.4" fill="#0000ff" />
<text transform="translate(255.5,1888.2)" font-size="24">PS 18:0_18:1</text>
<g stroke="#000" stroke-width="4" fill="none">
<path d="M159,1787.9 L761.3,1787.9 L761.3,2081.3 L159,2081.3"/>
<line x1="174" y1="1786" x2="174" y2="2083.3"/>
<line x1="159" y1="2081.3" x2="174" y2="2081.3"/>
<line x1="159" y1="2008.0" x2="174" y2="2008.0"/>
<line x1="159" y1="1934.7" x2="174" y2="1934.7"/>
<line x1="159" y1="1861.4" x2="174" y2="1861.4"/>
<line x1="159" y1="1788.1" x2="174" y2="1788.1"/>
<line x1="233.9" y1="2081" x2="233.9" y2="2096"/>
<line x1="350.7" y1="2081" x2="350.7" y2="2096"/>
<line x1="467.5" y1="2081" x2="467.5" y2="2096"/>
<line x1="584.3" y1="2081" x2="584.3" y2="2096"/>
<line x1="701.1" y1="2081" x2="701.1" y2="2096"/>
</g>
<text transform="translate(155.0,2089.6)" font-size="24.5" text-anchor="end">0</text>
<text transform="translate(155.0,2016.3)" font-size="24.5" text-anchor="end">1</text>
<text transform="translate(155.0,1943.0)" font-size="24.5" text-anchor="end">2</text>
<text transform="translate(155.0,1869.7)" font-size="24.5" text-anchor="end">3</text>
<text transform="translate(155.0,1796.4)" font-size="24.5" text-anchor="end">4</text>
<text transform="translate(234.4,2126.5)" font-size="24.5" text-anchor="middle">-20</text>
<text transform="translate(351.2,2126.5)" font-size="24.5" text-anchor="middle">-10</text>
<text transform="translate(468.0,2126.5)" font-size="24.5" text-anchor="middle">0</text>
<text transform="translate(584.8,2126.5)" font-size="24.5" text-anchor="middle">10</text>
<text transform="translate(701.6,2126.5)" font-size="24.5" text-anchor="middle">20</text>
<text x="467.5" y="2160.3" font-size="24.5" text-anchor="middle">Log<tspan font-size="16.5" dy="5">2</tspan><tspan dy="-5"> FC (Nx/IHx)</tspan></text>
<text transform="translate(120,1939.5) rotate(-90)" font-size="24" text-anchor="middle">-Log<tspan font-size="16" dy="5">10</tspan><tspan dy="-5"> (</tspan><tspan font-style="italic">p</tspan>-value)</text>
</svg></body></html>
